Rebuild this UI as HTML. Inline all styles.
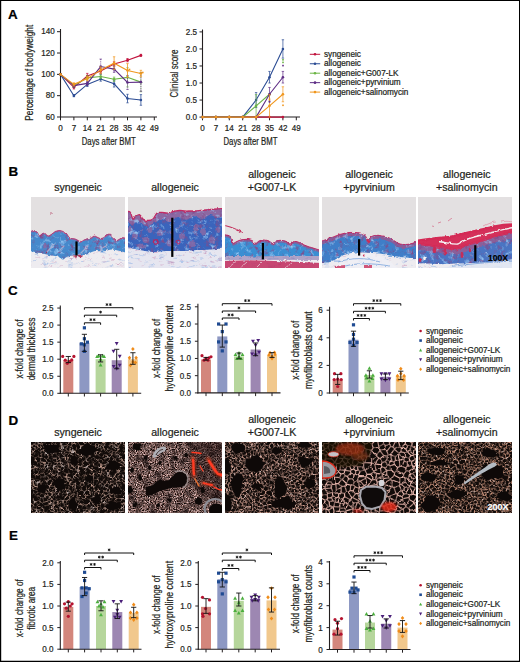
<!DOCTYPE html>
<html><head><meta charset="utf-8"><style>
html,body{margin:0;padding:0;background:#fff;}
svg{display:block;}
text{font-family:"Liberation Sans", sans-serif;stroke-width:0.22px;}
text.h{stroke:currentColor;}
</style></head><body>
<svg width="520" height="662" viewBox="0 0 520 662">
<rect width="520" height="662" fill="#fff"/>
<defs><filter id="mBlue" x="0" y="0" width="100%" height="100%" color-interpolation-filters="sRGB">
 <feTurbulence type="fractalNoise" baseFrequency="0.2" numOctaves="3" seed="7" result="n"/>
 <feColorMatrix in="n" type="matrix" values="0 0 0 0 0.6  0 0 0 0 0.78  0 0 0 0 0.95  3.2 0 0 0 -1.75" result="w"/>
 <feComposite in="w" in2="SourceGraphic" operator="in" result="w2"/>
 <feColorMatrix in="n" type="matrix" values="0 0 0 0 0.5  0 0 0 0 0.3  0 0 0 0 0.55  0 -3.2 0 0 1.45" result="p"/>
 <feComposite in="p" in2="SourceGraphic" operator="in" result="p2"/>
 <feMerge><feMergeNode in="SourceGraphic"/><feMergeNode in="w2"/><feMergeNode in="p2"/></feMerge>
</filter><filter id="jag" color-interpolation-filters="sRGB">
 <feTurbulence type="fractalNoise" baseFrequency="0.25" numOctaves="2" seed="17" result="t"/>
 <feDisplacementMap in="SourceGraphic" in2="t" scale="3" xChannelSelector="R" yChannelSelector="G"/>
</filter><filter id="mFat" x="0" y="0" width="100%" height="100%" color-interpolation-filters="sRGB">
 <feTurbulence type="fractalNoise" baseFrequency="0.12 0.35" numOctaves="3" seed="11" result="n"/>
 <feColorMatrix in="n" type="matrix" values="0 0 0 0 0.6  0 0 0 0 0.72  0 0 0 0 0.9  3.0 0 0 0 -1.75" result="b"/>
 <feComposite in="b" in2="SourceGraphic" operator="in" result="b2"/>
 <feColorMatrix in="n" type="matrix" values="0 0 0 0 0.78  0 0 0 0 0.55  0 0 0 0 0.7  0 0 3.0 0 -1.85" result="r"/>
 <feComposite in="r" in2="SourceGraphic" operator="in" result="r2"/>
 <feMerge><feMergeNode in="SourceGraphic"/><feMergeNode in="b2"/><feMergeNode in="r2"/></feMerge>
</filter><clipPath id="cb0"><rect x="31" y="197" width="94" height="71"/></clipPath><clipPath id="cb1"><rect x="128" y="197" width="94" height="71"/></clipPath><clipPath id="cb2"><rect x="225" y="197" width="94" height="71"/></clipPath><clipPath id="cb3"><rect x="322" y="197" width="94" height="71"/></clipPath><clipPath id="cb4"><rect x="418" y="197" width="94" height="71"/></clipPath><filter id="bl12" x="-20%" y="-20%" width="140%" height="140%"><feGaussianBlur stdDeviation="1.2"/></filter><filter id="bl6" x="-20%" y="-20%" width="140%" height="140%"><feGaussianBlur stdDeviation="0.6"/></filter><g id="netA" fill="none"><path stroke-opacity="0.45" d="M-1.7 74.5L-1.4 74.8M-0.3 55.6L-1.4 57.6M-0.4 50.6L1.7 53.3M-0.3 55.6L1.1 55.3M1.7 53.3L3.5 52.3M4.2 49.3L3.5 52.3M0.4 48.5L2.8 47.8M0.4 48.5L-1.2 46.9M-1.2 46.2L0.6 44.1M94.9 12.9L96.4 15.0M95.8 4.6L98.2 4.0M71.7 31.1L75.0 31.1M-1.7 74.5L-0.4 70.5M-2.0 37.3L-1.2 36.3M-1.2 36.3L-1.3 35.9M0.6 44.1L1.4 44.4M10.3 20.7L9.8 21.4M8.0 15.8L11.1 16.8M8.0 15.8L5.2 16.7M-3.4 32.6L0.4 31.1M-1.3 35.9L1.7 32.2M6.3 42.1L7.0 42.3M7.7 45.9L11.0 42.2M7.7 45.9L7.6 45.9M1.1 55.3L3.4 57.5M-0.3 60.4L3.3 58.7M3.0 63.5L4.4 60.8M7.7 45.9L8.4 47.4M32.3 37.5L29.9 34.1M34.8 35.9L31.9 33.1M31.9 33.1L29.9 34.1M28.0 34.1L27.9 34.3M89.0 36.3L90.4 37.2M73.7 38.4L69.5 36.3M67.7 37.2L67.5 38.0M74.0 38.2L77.1 40.7M82.8 24.8L84.1 26.7M80.0 25.5L78.1 27.3M80.0 25.5L78.0 22.7M76.2 25.8L75.9 23.8M78.0 22.7L75.9 23.8M82.8 24.8L82.8 24.6M67.5 38.0L63.6 39.0M94.6 42.0L98.3 40.3M93.2 39.1L93.1 40.1M94.6 42.0L94.3 41.9M92.4 37.2L90.4 37.2M39.8 61.9L40.6 64.2M39.8 61.9L40.3 60.5M-0.9 66.6L-1.1 63.8M0.1 67.4L-0.3 70.5M-0.4 70.5L-0.3 70.5M3.4 64.6L6.4 66.0M1.9 67.0L2.9 68.3M8.5 64.4L8.7 63.8M-0.3 70.5L2.3 71.4M2.3 71.4L2.9 68.3M14.9 21.7L14.9 22.7M3.9 38.9L4.2 38.0M4.2 38.0L10.0 39.5M-1.2 36.3L4.1 37.2M0.6 8.2L-2.0 8.3M24.7 37.1L22.1 37.4M27.6 33.5L26.2 33.0M3.5 52.3L6.5 53.6M6.5 53.6L7.3 55.6M36.5 35.5L36.5 35.6M33.2 39.9L37.3 39.0M27.3 40.0L28.3 39.6M22.5 40.3L25.4 42.3M21.3 38.4L22.1 37.4M36.4 59.9L36.8 62.6M33.9 59.1L36.4 59.9M32.3 61.6L34.1 63.2M71.1 33.5L73.0 34.4M74.0 38.2L74.5 37.2M74.5 37.2L73.0 34.4M71.7 31.1L71.0 33.2M75.0 31.1L74.9 32.8M82.2 29.8L82.6 30.9M74.5 37.2L77.4 35.8M77.2 34.8L77.4 35.8M78.8 39.6L77.7 35.9M49.9 75.0L50.1 74.7M51.7 74.2L50.1 74.7M44.4 59.9L42.7 61.1M2.0 6.5L5.1 6.9M-1.0 4.2L0.6 3.2M0.6 3.2L2.0 4.3M93.3 12.6L94.9 12.9M91.8 8.7L91.9 9.1M61.5 29.2L63.7 32.7M64.0 24.6L67.2 25.4M67.9 29.2L67.0 30.2M63.3 34.3L61.2 34.7M83.8 22.8L82.6 19.9M82.6 19.9L80.8 19.8M43.3 31.5L45.8 32.9M43.3 31.5L41.3 33.6M47.9 31.3L48.3 30.2M43.2 30.0L46.0 28.8M48.3 30.1L48.3 30.2M48.3 30.1L48.1 29.9M40.4 36.6L41.4 33.9M40.7 37.4L42.0 38.2M42.0 38.2L43.6 36.7M43.6 36.7L43.7 35.1M48.6 0.2L51.3 -0.7M97.7 21.7L97.7 22.4M83.8 22.8L84.7 22.5M84.1 26.7L84.9 27.0M84.7 22.5L88.2 23.9M97.7 21.7L95.9 21.0M98.4 17.8L95.6 19.1M95.9 21.0L95.6 19.1M97.3 27.5L97.6 31.9M93.3 35.0L95.1 33.9M97.6 31.9L95.4 32.9M82.7 52.4L86.0 54.3M85.6 56.2L86.0 54.3M85.6 56.2L81.9 57.0M10.7 23.6L10.3 26.2M15.8 39.7L12.8 36.2M12.8 36.2L14.0 35.3M10.8 41.7L15.8 39.7M10.0 39.5L11.6 36.1M4.4 16.1L4.2 15.9M4.2 20.3L0.9 20.3M0.9 20.3L1.0 18.3M4.4 12.0L4.2 15.9M4.4 12.0L3.4 10.7M-0.2 21.2L0.0 21.2M0.6 23.8L1.0 23.2M-3.1 19.2L-0.2 21.2M0.7 27.7L0.6 23.8M4.2 20.3L3.0 23.6M3.0 23.6L1.0 23.2M17.4 34.6L18.1 33.0M11.0 42.2L13.0 44.5M10.0 47.4L13.0 44.5M7.8 50.4L11.0 52.2M10.0 47.4L12.1 49.5M11.0 52.2L12.1 49.5M12.1 49.5L12.8 49.3M32.9 40.8L32.1 41.1M29.6 50.5L32.0 49.2M35.1 55.7L33.3 54.4M33.6 52.3L36.1 51.9M33.2 52.7L33.3 54.4M36.1 51.9L36.7 55.3M36.5 49.2L36.6 51.4M12.2 75.2L14.3 71.7M16.6 72.0L18.0 68.3M18.0 68.3L15.3 67.0M13.7 63.3L15.4 64.7M96.2 50.6L93.0 53.5M77.7 35.9L79.0 35.7M84.5 35.7L86.5 37.1M86.9 40.4L84.5 40.8M42.1 64.5L42.1 67.8M37.8 75.8L40.3 70.4M35.2 74.7L34.9 74.4M40.7 70.5L42.1 67.8M38.2 69.0L39.2 65.0M55.5 59.8L58.5 57.9M55.4 60.1L58.6 62.4M60.1 66.1L59.6 69.3M56.8 68.1L56.5 65.7M53.5 61.6L51.3 58.9M48.4 62.6L50.2 59.1M55.4 60.1L53.5 61.6M49.0 58.3L50.2 59.1M22.2 8.9L24.5 11.9M10.6 2.6L10.5 6.7M10.5 6.7L8.6 6.5M11.2 2.2L10.6 2.6M5.4 3.8L6.2 -0.7M6.2 -0.7L2.8 -2.4M6.6 -0.7L6.2 -0.7M0.5 -1.0L2.2 -1.9M19.0 10.5L18.6 10.6M18.6 10.6L17.1 11.6M15.8 12.8L16.6 12.5M14.8 8.9L17.1 11.6M13.5 9.5L13.7 11.8M11.8 16.5L11.7 12.7M11.7 12.7L13.7 11.8M86.7 10.4L89.6 11.7M88.2 17.1L86.3 14.4M54.9 39.9L58.3 42.1M60.6 56.3L63.1 55.6M62.0 51.2L63.1 55.6M61.5 50.7L60.1 50.6M54.3 52.2L51.4 54.6M55.5 53.9L55.6 55.7M51.4 54.6L52.1 57.3M52.1 57.3L54.5 57.6M57.1 48.7L57.2 48.7M60.6 56.3L59.7 57.9M49.0 58.3L48.1 54.5M69.7 43.0L67.7 40.0M71.6 22.7L73.1 20.3M74.9 19.6L73.1 20.3M67.2 25.4L69.0 21.4M69.0 21.4L71.6 22.7M69.0 21.4L67.6 19.1M69.7 16.3L69.1 17.6M63.2 16.0L64.9 14.1M68.8 14.1L66.7 13.5M64.9 14.1L63.5 10.7M63.5 10.7L66.3 10.9M67.4 9.6L69.7 10.5M58.4 42.1L58.3 42.1M58.9 37.8L54.9 39.3M61.2 34.7L59.5 37.1M58.3 32.5L56.1 34.7M48.3 30.2L52.6 32.7M49.5 35.3L53.5 34.5M53.9 37.5L54.9 39.3M53.9 37.5L54.2 34.9M56.1 34.7L54.6 34.7M26.2 33.0L24.5 29.4M21.5 30.2L21.5 30.3M21.5 30.2L23.5 28.8M24.5 29.4L23.5 28.8M27.6 33.5L28.5 30.8M24.5 29.4L27.6 28.6M49.4 21.8L52.8 21.7M52.8 21.7L53.0 22.4M53.0 22.4L52.9 22.7M63.3 22.8L61.3 18.5M63.3 22.8L58.7 23.1M58.7 23.1L57.3 19.8M61.3 18.5L57.3 19.8M53.4 20.5L50.8 17.7M53.4 20.5L55.8 19.1M55.8 18.4L54.8 14.9M48.8 17.8L50.8 17.7M48.1 18.8L49.4 21.8M55.7 13.6L59.0 14.2M93.3 17.5L91.8 15.6M89.6 11.7L89.3 13.4M91.8 15.6L90.0 15.2M88.2 17.1L88.4 17.1M93.8 30.1L93.8 30.4M93.8 30.1L92.4 27.6M93.8 30.4L89.1 32.0M87.9 31.2L87.9 30.4M97.3 27.5L93.8 30.1M95.4 32.9L93.8 30.4M93.1 24.8L92.4 25.6M62.2 65.5L63.2 67.8M96.2 62.3L95.4 66.8M74.5 59.2L71.9 57.9M73.5 61.9L73.7 61.7M79.5 61.4L79.7 60.9M77.8 62.0L77.3 61.7M82.2 64.7L79.5 61.4M77.1 64.3L77.1 64.2M62.0 51.2L65.0 52.0M64.1 55.8L64.1 55.7M1.7 32.2L3.6 32.8M5.4 26.1L5.5 26.1M15.1 30.8L15.0 30.4M18.2 24.9L14.9 22.7M18.6 26.1L18.3 26.7M14.1 26.5L15.4 27.4M18.1 33.0L17.0 31.6M7.3 55.6L7.4 55.7M11.0 67.0L11.7 67.0M10.3 62.1L9.5 60.5M19.8 55.8L17.8 54.1M25.3 51.2L28.6 51.9M21.9 54.2L24.1 56.2M24.1 56.2L24.5 56.2M25.8 55.2L24.5 56.2M20.9 59.5L22.2 58.4M22.2 58.4L22.4 58.4M31.9 59.1L32.5 59.6M31.9 59.1L27.9 60.2M24.5 56.2L26.1 58.8M28.1 56.8L26.9 58.9M22.4 58.4L24.1 60.0M14.9 46.6L17.4 48.3M15.4 50.9L15.3 50.4M18.4 48.1L19.4 46.9M22.0 51.9L22.0 49.1M19.6 45.0L19.7 45.3M33.4 45.2L34.5 42.4M33.4 45.2L33.8 45.7M36.1 42.5L34.5 42.4M36.1 42.5L37.0 43.9M39.1 46.9L36.9 45.2M38.0 40.1L36.1 42.5M29.6 50.5L27.8 47.6M19.7 45.3L24.5 45.2M21.8 61.9L23.9 62.9M17.8 60.2L18.1 59.6M17.8 60.2L18.7 62.6M13.1 62.0L13.5 61.3M18.7 62.6L18.5 64.1M90.7 41.0L90.4 42.7M90.4 42.7L87.3 43.1M85.6 56.2L86.2 57.7M81.6 59.9L83.0 60.2M86.2 58.2L87.2 61.0M44.5 73.2L41.6 71.2M41.6 71.2L45.8 69.2M45.9 73.3L48.1 71.2M48.1 71.2L45.8 69.2M48.5 71.2L50.1 74.7M48.1 54.5L47.5 54.3M16.2 18.5L17.7 17.5M14.9 21.7L16.3 19.8M18.2 24.9L19.1 21.7M16.3 19.8L19.1 21.7M21.7 14.8L23.2 17.3M26.0 17.1L27.2 15.2M7.4 11.6L8.2 12.5M11.2 8.8L10.9 9.2M8.0 15.8L8.2 12.5M92.0 7.8L89.4 4.3M66.3 -1.3L63.0 1.3M63.0 1.3L62.2 1.2M68.5 6.4L68.0 5.3M42.0 38.2L42.2 38.8M63.6 39.0L63.1 39.5M67.7 40.0L66.3 42.0M53.9 29.4L52.6 26.8M52.9 22.7L52.7 26.8M52.7 26.8L52.6 26.8M39.1 32.4L41.2 29.1M46.8 23.6L44.9 26.7M46.8 23.6L45.2 22.3M46.0 28.8L44.9 26.7M47.3 23.6L46.8 23.6M33.3 30.8L37.2 33.1M39.1 32.4L38.1 32.5M54.6 6.7L53.0 9.0M53.0 9.0L53.0 9.5M54.4 4.3L54.6 6.7M50.6 6.7L48.6 8.6M52.1 10.4L49.2 10.0M49.2 10.0L48.6 8.6M57.4 1.0L55.2 2.8M58.7 6.2L60.6 2.9M60.5 -2.2L57.5 -1.2M58.9 7.1L57.2 8.5M54.4 4.3L55.0 3.6M88.9 18.2L88.6 20.6M89.4 21.3L89.2 21.2M93.3 17.5L92.6 18.4M86.4 20.5L88.6 20.6M64.2 69.6L61.7 71.4M62.9 72.9L65.0 73.2M63.2 67.8L64.2 69.6M67.1 66.6L65.9 66.4M60.2 71.0L61.7 71.4M67.3 69.1L68.3 69.5M62.2 65.5L63.4 64.2M63.4 64.2L64.0 64.2M95.4 72.2L95.7 72.9M95.4 72.2L92.2 73.1M84.4 70.6L84.9 68.9M87.8 67.3L84.9 68.9M87.2 71.6L84.5 70.7M89.5 68.7L89.8 70.5M89.8 70.5L90.3 71.0M87.7 66.5L90.5 64.2M84.9 68.9L82.9 65.3M82.9 65.3L86.3 64.6M82.6 65.2L82.9 65.3M87.1 61.4L87.2 62.3M82.6 65.2L80.6 68.9M79.4 65.5L78.3 68.1M84.4 70.6L82.0 70.2M82.0 70.2L80.6 69.0M70.0 55.7L71.9 57.7M71.9 57.9L71.9 57.7M73.4 62.0L74.5 64.2M73.4 62.0L71.1 63.1M70.8 42.7L71.8 44.7M71.8 44.7L74.0 45.1M74.0 45.1L72.1 48.1M68.8 43.9L69.6 46.6M10.6 70.4L12.8 71.3M13.8 71.3L12.8 71.3M12.2 29.9L11.3 27.3M11.3 27.3L7.8 30.9M7.8 33.0L9.4 33.6M11.3 27.3L11.3 27.3M5.5 26.1L7.8 30.9M9.5 55.6L11.1 52.3M11.1 52.3L14.2 53.1M13.1 57.2L14.8 56.0M13.5 61.3L13.1 57.2M15.4 50.9L14.2 53.1M17.9 58.5L14.8 56.0M32.4 45.0L31.2 43.6M28.6 56.6L29.5 54.5M28.6 56.6L31.7 58.8M28.1 56.8L28.6 56.6M35.1 55.7L33.9 59.1M32.4 55.0L31.7 57.5M31.2 62.9L30.4 66.3M26.3 63.3L28.6 66.1M85.3 48.9L86.7 47.4M82.7 52.4L83.3 48.9M86.0 54.3L86.4 53.9M86.4 53.9L86.8 51.4M86.8 51.4L85.3 48.9M79.7 48.7L82.8 48.3M79.2 45.0L82.9 45.7M87.3 43.1L87.1 43.5M87.0 47.4L88.9 49.6M91.5 46.3L91.2 46.0M86.4 53.9L92.8 53.5M89.5 68.7L91.9 66.6M87.2 61.0L90.0 60.6M90.5 64.2L91.6 62.9M93.1 66.3L92.5 66.7M96.2 62.3L95.5 61.7M95.4 66.8L93.1 66.3M29.9 69.8L31.8 70.8M28.9 73.0L31.4 72.9M28.8 75.9L28.9 73.0M32.8 74.3L31.4 72.9M34.3 69.8L31.8 70.8M34.1 63.2L34.2 65.1M38.2 69.0L37.0 68.7M42.0 56.2L41.0 56.6M38.1 51.8L39.8 55.6M40.5 50.5L40.6 50.1M40.5 50.5L41.3 52.5M41.3 52.5L43.1 52.6M45.7 50.3L44.5 50.3M38.1 51.8L40.5 50.5M38.8 48.1L40.6 50.1M48.5 71.2L49.2 70.6M51.7 74.2L52.5 72.2M52.9 64.1L51.9 67.9M56.0 68.8L52.3 68.3M54.2 71.8L55.6 71.1M56.7 71.7L57.4 74.3M55.5 75.6L57.4 74.3M56.0 68.8L55.6 71.1M11.0 0.7L12.2 -1.6M25.3 3.2L25.8 1.2M28.0 3.6L27.6 3.8M28.0 3.6L28.0 2.4M28.0 2.4L25.8 1.2M19.6 7.0L16.1 6.4M13.8 5.7L15.8 6.1M14.8 8.9L15.9 6.3M22.3 19.7L22.2 19.7M20.9 21.4L21.6 23.0M21.6 23.0L23.6 23.9M23.6 23.9L25.0 21.5M17.7 17.5L22.2 19.7M23.1 7.1L22.2 8.9M26.7 10.7L26.2 7.4M31.9 5.0L31.8 4.7M31.8 5.7L27.3 6.7M31.8 4.7L30.9 4.1M49.6 13.6L48.4 16.9M48.4 16.9L45.2 15.0M49.2 10.0L48.4 12.7M48.8 17.8L48.4 16.9M46.8 8.1L48.6 8.6M45.9 19.3L44.2 16.5M44.2 16.5L44.5 15.4M44.5 15.4L41.0 13.2M33.9 1.0L34.2 0.4M34.2 0.4L39.1 -1.4M39.1 -1.4L39.6 -0.6M33.6 1.1L31.8 4.7M33.6 1.1L33.9 1.0M44.5 -1.4L48.1 0.6M39.6 -0.6L41.5 -0.3M44.5 -1.4L41.5 -0.3M43.9 10.1L43.0 9.3M38.7 10.3L39.7 12.4M39.7 12.4L41.0 13.2M41.0 13.2L39.6 16.6M71.2 8.2L74.4 8.2M71.2 8.2L70.3 6.9M69.7 10.5L71.2 8.2M63.4 8.9L61.0 7.5M61.7 11.4L60.2 11.2M64.7 7.8L63.4 8.9M58.9 7.1L60.0 7.6M75.5 3.3L75.5 3.0M75.5 3.0L70.6 3.4M79.8 -0.7L79.4 -0.4M40.2 41.4L44.7 43.5M39.4 46.7L41.7 46.8M77.4 8.6L78.4 5.1M78.7 0.8L80.5 3.7M75.5 3.0L75.5 2.5M84.5 7.5L82.6 7.4M82.6 7.4L82.0 7.7M82.8 10.5L86.0 10.8M86.4 10.5L86.0 10.8M86.1 14.4L85.3 12.8M70.0 11.6L73.5 12.1M75.4 9.4L73.5 12.1M77.4 8.6L76.6 9.6M55.6 30.2L54.9 29.5M54.9 29.5L56.7 26.0M27.7 26.4L23.6 27.0M20.4 25.6L23.4 26.4M37.9 20.1L38.8 21.0M38.8 21.0L41.4 18.8M71.9 75.0L70.7 72.7M67.3 64.0L65.3 63.3M96.8 69.7L96.8 69.3M90.3 71.0L92.5 70.3M80.7 72.4L82.0 74.0M75.1 67.7L74.3 68.9M71.6 71.2L74.3 70.8M78.2 46.7L77.8 46.8M74.4 44.9L75.9 46.4M61.5 50.7L64.2 48.0M27.8 71.5L27.8 71.5M22.9 75.5L22.3 73.4M25.7 71.9L24.3 71.2M16.6 72.0L19.7 72.1M19.7 72.1L20.5 73.0M19.0 64.7L21.6 64.8M26.3 63.3L24.6 63.3M16.3 -2.6L14.4 -1.3M15.0 1.5L15.8 1.9M12.7 -1.7L14.4 -1.3M20.5 0.3L17.7 0.1M12.1 2.5L15.0 1.5M16.8 3.9L15.8 1.9M28.5 0.7L29.7 0.2M33.6 1.1L30.4 -0.8M20.5 0.3L20.9 1.4M19.1 3.5L20.9 1.4M27.7 26.4L27.7 24.2M27.7 24.1L27.7 24.2M30.1 18.3L31.2 18.8M30.9 14.2L31.2 14.4M26.7 10.7L28.1 10.6M30.1 8.6L28.1 10.6M30.9 12.4L28.1 10.6M42.4 6.0L45.9 5.1M41.5 -0.3L42.9 2.3M88.4 4.8L85.4 2.4M85.4 2.4L84.4 3.6M82.1 -0.3L82.2 -0.0M85.4 2.2L85.1 1.6M91.0 1.2L89.1 0.8M66.9 1.8L67.0 -0.4M67.0 -0.4L70.5 -0.3M53.9 37.5L48.9 39.5M51.1 41.8L48.9 39.5M48.1 39.2L47.7 39.5M69.7 16.3L72.9 15.8M75.1 19.4L75.0 18.4M72.9 15.8L75.0 18.4M78.2 11.4L77.1 14.5M81.7 13.6L81.6 13.4M79.6 18.6L79.7 16.5M83.9 17.1L81.6 15.4M76.6 9.6L78.2 11.4M73.8 14.1L77.1 14.5M85.3 12.8L81.7 13.6M38.9 22.5L40.8 23.0M42.2 25.1L39.3 27.1M34.5 20.2L37.9 20.1M38.8 21.0L38.9 22.5M38.6 27.0L35.1 24.3M38.1 32.5L37.3 28.2M38.6 27.0L37.3 28.2M37.2 16.6L37.5 13.9M69.4 61.5L68.3 61.8M69.4 61.5L69.9 59.5M64.1 55.8L65.5 58.4M68.9 55.8L67.4 54.2M64.1 55.7L67.4 54.2M62.0 61.0L65.1 59.7M74.8 72.3L76.7 74.7M79.2 75.2L77.9 74.7M67.8 52.4L66.5 51.1M67.8 52.4L70.4 52.1M66.5 51.1L66.5 50.4M70.4 52.1L70.1 50.0M71.7 48.0L70.1 50.0M71.8 52.9L70.4 52.1M22.8 67.3L22.1 67.1M24.0 69.9L23.9 70.5M19.7 72.1L21.1 69.9M24.3 71.2L23.9 70.5M25.1 3.3L22.1 1.4M22.1 1.4L21.0 1.4M25.6 -0.5L22.1 1.4M31.6 11.8L35.1 12.3M32.3 9.6L35.8 10.7M35.2 12.3L35.1 12.3M34.4 14.2L35.1 12.3M51.1 41.8L50.4 44.5M50.4 44.5L51.7 45.7M51.7 45.7L51.7 49.3M47.4 51.7L50.5 49.3M33.8 25.3L34.4 28.3M34.4 28.3L33.2 30.1M31.6 29.5L33.2 30.1M48.7 45.1L45.1 43.4M50.4 44.5L48.7 45.1"/><path stroke-opacity="0.75" d="M1.7 53.3L1.1 55.3M-0.4 50.6L0.4 48.5M4.2 49.3L2.8 47.8M-1.2 46.9L-1.2 46.2M97.1 9.5L94.9 12.9M97.1 15.2L96.4 15.0M93.1 0.3L95.3 -1.2M95.3 -1.2L96.4 -1.5M96.4 -1.5L99.3 2.6M96.6 -1.7L96.4 -1.5M95.8 4.6L95.2 5.5M96.9 9.4L95.2 5.5M75.9 29.9L72.3 27.2M72.3 27.2L71.6 31.0M96.4 38.3L98.7 39.5M2.8 47.8L2.9 47.3M2.9 47.3L1.4 44.4M1.4 44.4L3.3 43.3M-1.0 4.2L-2.0 8.3M7.6 21.7L9.8 21.4M10.3 20.7L11.1 16.8M0.1 28.1L0.4 31.1M6.3 42.1L4.5 44.0M4.8 45.4L4.5 44.0M3.9 38.9L3.0 39.8M3.3 43.3L4.5 44.0M10.2 41.0L10.8 41.7M2.9 47.3L4.8 45.4M-1.4 57.6L-1.1 59.8M-1.1 59.8L-0.3 60.4M3.3 58.7L4.4 60.8M22.5 40.3L21.3 38.4M21.3 38.4L19.3 38.5M19.3 38.5L17.0 40.3M17.0 40.3L17.0 43.0M4.2 49.3L7.4 49.2M8.4 47.4L7.4 49.2M28.6 38.6L27.9 34.3M28.6 38.6L32.3 37.5M28.0 34.1L29.9 34.1M86.5 37.1L87.1 40.1M87.1 40.1L89.1 40.0M72.4 40.5L67.9 38.9M71.0 33.2L71.1 33.5M66.8 35.7L67.7 32.3M66.8 35.7L67.7 37.2M73.7 38.4L74.0 38.2M82.8 24.8L80.0 25.5M80.0 29.5L82.2 29.8M46.7 74.6L49.9 75.0M72.3 27.2L72.2 26.8M71.6 31.0L67.9 29.2M68.7 26.7L67.9 29.2M82.8 24.6L80.0 21.6M63.3 34.3L63.6 39.0M88.4 24.8L89.7 25.6M89.7 25.6L87.8 30.3M95.9 45.2L98.7 44.4M95.9 45.2L94.6 42.0M93.2 39.1L96.4 38.3M89.1 40.0L90.7 41.0M42.9 64.0L42.7 61.1M42.7 61.1L40.3 60.5M3.4 64.6L1.9 67.0M2.9 68.3L6.4 68.4M4.9 60.8L8.7 63.8M1.4 74.5L1.6 74.7M4.9 71.9L5.5 73.6M2.3 71.4L2.6 71.6M6.6 68.9L6.4 68.4M-1.4 74.8L1.4 74.5M9.8 21.4L10.7 23.6M10.2 41.0L10.0 39.5M-2.3 8.5L0.6 12.7M0.6 12.7L3.2 10.6M24.7 37.1L27.9 34.3M22.1 37.4L22.2 35.1M27.6 33.5L28.0 34.1M26.2 33.0L23.3 33.5M22.2 35.1L23.3 33.5M7.4 49.2L7.8 50.4M40.7 37.4L37.8 39.6M27.3 40.0L25.4 42.3M39.8 61.9L36.9 62.8M40.3 60.5L39.2 58.4M32.5 59.6L32.3 61.6M36.8 62.6L34.1 63.2M82.6 30.9L80.6 33.0M80.6 33.0L79.0 31.8M74.9 32.8L77.2 34.8M77.1 40.7L78.8 39.6M45.5 59.7L46.6 61.5M46.6 61.5L43.7 64.1M3.4 10.7L3.2 10.6M0.6 3.2L0.5 -1.0M93.3 12.6L91.5 10.6M92.0 7.8L93.6 6.0M92.0 7.8L91.8 8.7M62.5 27.6L67.0 30.2M61.5 29.2L61.5 28.4M63.7 32.7L66.9 31.1M67.2 25.4L68.7 26.7M67.7 32.3L66.9 31.1M82.8 24.6L83.8 22.8M41.4 33.9L43.7 35.1M45.8 32.9L45.3 34.3M48.1 29.9L46.0 28.8M49.5 35.3L48.2 37.4M48.2 37.4L45.3 34.3M84.1 17.5L82.6 19.9M84.7 22.5L86.4 20.5M93.1 24.8L92.9 23.6M95.9 21.0L93.6 22.0M97.7 26.7L97.3 27.5M92.4 37.2L93.3 35.0M89.0 36.3L89.6 33.0M89.6 33.0L93.3 35.0M95.7 34.6L95.1 33.9M95.1 33.9L95.4 32.9M8.5 64.4L11.0 67.0M9.8 69.0L11.0 67.0M17.4 34.6L14.0 35.3M4.2 15.9L0.1 14.3M-0.5 14.5L0.1 14.3M5.2 16.7L4.4 16.1M0.6 12.7L0.1 14.3M-3.7 24.1L-0.2 21.2M-2.8 25.0L0.6 23.8M0.0 21.2L1.0 23.2M0.1 28.1L0.7 27.7M17.0 43.0L14.2 44.6M14.2 44.6L13.2 44.6M13.0 44.5L13.2 44.6M29.5 51.1L29.6 50.5M29.5 51.1L31.9 52.6M33.6 52.3L33.2 52.7M33.6 52.3L32.8 49.6M32.8 49.6L35.5 48.6M36.1 51.9L36.6 51.4M16.0 72.3L16.5 75.2M13.8 71.3L13.7 68.2M16.0 72.3L16.6 72.0M15.3 67.0L15.4 64.7M84.5 40.8L82.5 37.5M82.5 37.5L80.6 39.9M79.0 44.1L81.2 41.6M96.2 50.6L96.1 47.7M100.4 54.4L93.7 55.1M80.6 33.1L84.3 35.7M82.6 37.2L84.3 35.7M80.6 33.0L80.6 33.1M82.6 30.9L85.4 33.0M86.9 40.4L87.1 40.1M34.9 74.4L39.9 70.3M40.3 70.4L39.9 70.3M40.7 70.5L41.6 71.2M40.7 70.5L40.3 70.4M34.9 74.4L34.5 74.1M40.6 64.2L39.2 65.0M36.9 62.8L37.2 63.7M60.6 60.7L59.7 57.9M55.5 59.8L55.4 60.1M60.1 66.1L56.5 65.7M59.2 62.3L60.9 65.5M56.2 65.1L56.5 65.7M50.2 59.1L51.3 58.9M52.9 64.1L56.2 65.1M52.9 64.1L52.8 64.1M47.0 66.2L46.4 66.4M46.4 66.4L46.4 66.4M45.5 59.7L45.6 59.5M49.0 58.3L45.6 59.5M22.2 8.9L20.2 9.1M24.5 11.9L22.1 13.6M22.1 13.6L19.0 10.5M19.0 10.5L20.2 9.1M7.5 3.9L8.6 6.5M8.8 2.8L10.6 2.6M5.6 4.0L5.1 6.9M11.1 7.3L10.5 6.7M11.1 7.3L13.8 5.7M11.2 2.2L12.1 2.5M12.1 2.5L13.8 5.7M5.6 4.0L5.4 3.8M2.0 4.3L4.3 3.5M6.6 -0.7L8.8 2.8M16.6 12.5L17.1 11.6M22.1 13.6L21.7 14.8M21.7 14.8L18.8 15.6M14.8 8.9L13.5 9.5M13.5 16.6L15.8 12.8M88.2 7.6L86.7 10.4M85.1 18.0L88.2 17.1M84.1 17.5L83.9 17.1M83.9 17.1L86.1 14.4M56.0 45.3L54.7 44.6M56.0 45.3L58.3 42.1M54.7 44.6L53.4 41.9M60.6 56.3L59.5 54.7M62.0 51.2L61.5 50.7M51.3 58.9L52.1 57.3M72.3 41.0L70.8 42.7M67.9 38.9L67.7 40.0M75.2 23.3L74.9 19.6M75.9 23.8L75.2 23.3M73.1 20.3L69.1 17.6M69.1 17.6L67.6 19.1M63.4 22.8L67.5 19.1M66.7 13.5L66.3 10.9M68.8 14.1L70.0 11.6M66.3 10.9L67.4 9.6M70.0 11.6L69.7 10.5M58.4 42.1L58.9 37.8M54.9 39.9L54.9 39.3M59.4 32.5L58.3 32.5M59.3 37.2L56.1 34.7M53.5 29.7L52.6 32.7M52.6 32.7L53.5 34.5M49.4 21.8L47.3 23.6M50.0 25.2L52.9 22.7M50.0 25.2L48.5 25.1M49.3 29.6L51.5 27.0M63.2 16.0L62.2 16.1M61.3 18.5L62.1 16.2M62.2 16.1L62.1 16.2M54.8 14.9L51.7 15.7M48.8 17.8L48.1 18.8M57.3 19.8L55.8 19.1M55.0 14.3L54.8 14.9M55.0 14.3L55.7 13.6M59.8 15.2L59.0 14.2M50.0 13.7L52.0 12.2M93.5 17.4L93.3 17.5M89.1 32.0L87.9 31.2M92.4 25.6L92.4 27.6M89.6 33.0L89.1 32.0M87.8 30.3L87.9 30.4M85.4 33.0L87.9 31.2M62.2 65.5L60.9 65.5M59.8 69.5L59.6 69.3M59.8 69.5L63.2 67.8M63.2 67.8L63.2 67.8M71.1 59.0L71.9 57.9M71.1 59.0L73.5 61.9M76.3 57.7L75.8 58.6M82.2 64.7L82.2 64.7M82.2 64.7L79.4 65.5M77.1 64.3L79.4 65.5M77.1 64.2L77.8 62.0M81.6 59.9L79.7 60.9M80.0 56.0L78.5 57.6M73.7 61.7L77.3 61.7M79.5 53.0L79.1 52.8M64.1 55.8L63.1 55.6M5.5 73.6L7.6 74.0M14.1 24.0L14.1 26.5M10.3 26.2L11.3 27.3M11.3 27.3L14.1 26.5M0.7 27.7L4.0 27.1M3.6 32.8L4.0 27.1M4.1 37.2L5.2 34.1M3.0 23.6L5.4 26.1M18.9 28.0L17.0 31.6M21.5 30.2L18.9 28.0M14.0 35.3L14.5 31.7M14.5 31.7L15.1 30.8M4.9 60.8L7.5 59.6M7.4 55.7L7.5 59.6M8.7 63.8L10.3 62.1M13.1 62.0L10.3 62.1M22.2 52.1L22.0 51.9M22.2 52.1L21.9 54.2M21.9 54.2L20.0 55.8M25.9 54.7L24.7 51.8M22.2 52.1L24.7 51.8M18.1 59.6L20.9 59.5M20.0 55.8L22.2 58.4M17.9 58.5L19.8 55.8M24.1 56.2L22.4 58.4M32.3 61.6L31.2 62.9M31.2 62.9L27.6 61.8M25.8 55.2L28.1 56.8M13.8 49.3L14.9 46.6M12.8 49.3L13.8 49.3M18.4 48.1L19.3 51.4M35.0 46.3L36.9 45.2M35.5 48.6L35.0 46.3M31.9 48.5L32.0 49.2M31.9 48.5L33.8 45.7M36.5 49.2L38.8 48.1M39.1 46.9L38.8 48.1M38.0 40.1L37.8 39.6M38.0 40.1L40.2 41.4M25.4 42.3L25.5 42.7M30.0 40.7L29.1 44.0M29.1 44.0L25.5 42.7M27.8 47.6L25.8 47.5M22.0 49.1L25.2 46.9M25.2 46.9L24.5 45.2M20.9 59.5L21.8 61.9M17.8 60.2L13.5 61.3M18.0 68.3L18.9 67.9M18.9 67.9L19.0 64.7M94.3 41.9L91.2 44.5M86.9 40.4L87.3 43.1M86.2 57.7L86.2 58.2M83.0 60.2L83.6 62.1M83.6 62.1L87.1 61.4M87.1 61.4L87.2 61.0M41.6 71.2L41.6 71.2M46.7 74.6L45.9 73.3M46.4 66.4L45.8 69.2M45.6 59.5L45.7 56.6M47.5 54.3L47.4 54.4M18.8 15.6L17.7 17.5M16.2 18.5L16.3 19.8M24.5 11.9L25.6 11.8M37.8 4.4L36.3 8.3M37.8 4.4L31.9 5.0M32.0 6.8L36.3 8.3M32.0 6.8L31.8 5.7M10.8 11.8L8.2 12.5M7.8 9.7L7.4 11.6M13.5 9.5L11.2 8.8M11.7 12.7L10.8 11.8M6.6 8.2L7.8 9.7M4.4 12.0L7.4 11.6M93.6 6.0L90.7 2.3M87.6 6.1L88.4 4.8M89.4 4.3L88.4 4.8M61.9 -1.2L62.2 1.2M68.0 5.3L64.9 4.9M64.7 7.8L64.6 5.2M64.9 4.9L64.6 5.2M40.2 41.4L40.2 41.4M39.5 43.4L40.1 44.7M39.1 46.9L39.4 46.7M57.1 48.7L56.0 45.3M58.4 42.1L59.5 42.3M57.2 48.7L62.0 45.0M63.1 39.5L62.5 39.4M68.8 43.9L66.6 43.9M66.3 42.0L66.6 43.9M63.1 39.5L63.7 41.1M62.0 45.0L62.6 45.0M78.2 22.0L77.2 20.2M79.6 18.6L77.2 20.2M74.9 19.6L75.1 19.4M41.3 33.6L39.1 32.4M45.2 22.3L42.4 25.1M44.9 26.7L43.5 26.4M45.9 19.3L48.1 18.8M44.8 21.5L45.2 22.3M41.6 29.1L43.5 26.4M31.9 33.1L33.3 30.8M37.2 33.1L38.1 32.5M56.1 10.9L53.0 9.5M55.7 13.6L56.1 10.9M59.8 11.3L59.0 14.2M52.0 12.2L52.1 10.4M57.4 1.0L60.5 2.6M55.2 2.8L55.0 3.6M55.0 3.6L58.7 6.2M60.6 2.9L60.5 2.6M62.4 5.0L64.6 5.2M62.4 5.0L60.6 2.9M92.5 19.2L89.4 21.3M92.6 18.4L88.9 18.2M93.6 22.0L92.5 19.2M88.4 17.1L88.9 18.2M88.2 23.9L89.2 21.2M61.7 71.4L62.9 72.9M65.0 73.2L65.7 72.0M67.3 69.1L65.7 70.3M60.2 71.0L59.9 70.6M68.6 72.8L65.7 72.0M68.6 72.8L69.4 72.4M69.4 72.4L68.3 69.5M60.8 75.8L62.9 72.9M65.9 66.4L64.0 64.2M60.6 60.7L62.0 61.0M86.3 64.6L87.7 66.5M86.3 64.6L87.2 62.3M82.2 64.7L82.6 65.2M90.4 71.2L92.2 73.1M80.6 68.9L80.6 69.0M73.6 65.9L70.9 65.8M77.1 64.2L74.5 64.2M71.0 68.4L70.7 68.9M70.7 68.9L68.3 69.5M74.8 43.4L74.4 44.9M74.4 44.9L74.0 45.1M71.8 44.7L70.3 46.8M72.1 48.1L71.7 48.0M71.7 48.0L70.3 46.8M8.9 72.1L10.6 70.4M8.9 72.1L9.0 72.8M9.0 72.8L10.3 73.6M10.3 73.6L12.8 71.3M7.6 74.0L9.0 72.8M12.2 29.9L10.5 32.6M7.8 30.9L7.8 33.0M15.0 30.4L12.2 29.9M14.5 31.7L10.5 32.6M11.6 36.1L9.4 33.6M14.2 53.1L15.1 55.1M7.4 55.7L9.5 55.6M9.5 60.5L10.4 56.4M17.8 54.1L15.1 55.1M32.4 45.0L30.2 46.6M29.1 44.0L29.1 44.0M33.4 45.2L32.4 45.0M31.9 48.5L30.2 46.6M29.5 54.5L29.7 54.6M29.7 54.6L29.8 54.6M28.7 53.4L29.5 54.5M31.9 59.1L31.7 58.8M33.3 54.4L32.4 55.0M32.4 55.0L29.8 54.6M31.9 52.6L29.7 54.6M27.6 61.8L26.3 63.3M30.2 66.3L30.4 66.3M86.7 47.4L84.8 44.6M83.3 48.9L82.8 48.3M82.9 45.7L84.0 44.5M78.9 52.2L79.7 48.7M79.2 45.0L78.2 46.7M87.1 43.5L84.8 44.6M86.8 51.4L88.9 49.6M86.7 47.4L87.0 47.4M93.8 46.7L91.5 46.3M90.5 64.2L90.5 64.2M90.5 64.2L91.9 66.6M90.0 60.6L92.7 57.5M91.6 62.9L95.1 62.0M86.2 57.7L92.7 57.5M93.7 55.1L93.4 57.1M27.8 71.5L28.9 73.0M31.4 72.9L31.8 70.8M34.2 65.1L35.9 65.8M37.2 63.7L35.9 65.8M30.2 66.3L29.9 69.8M45.7 56.6L42.0 56.2M47.4 54.4L43.9 53.8M43.9 53.8L42.0 56.2M44.4 59.9L41.0 56.6M39.2 58.4L39.8 56.5M36.7 55.3L39.7 56.2M39.8 55.6L39.7 56.2M42.6 49.2L40.6 50.1M42.6 49.2L44.5 50.3M44.5 50.3L43.1 52.6M43.9 53.8L43.1 52.6M39.8 55.6L41.3 52.5M50.0 68.6L51.9 67.9M50.0 68.6L49.2 70.6M51.9 67.9L52.3 68.3M11.0 0.7L7.9 -1.3M12.2 -1.6L12.7 -1.7M25.3 3.2L27.6 3.8M20.2 9.1L19.6 7.0M22.3 19.7L25.0 21.5M23.2 17.3L22.3 19.7M26.0 17.1L27.1 18.9M26.8 21.5L25.0 21.5M19.1 21.7L20.9 21.4M18.6 26.1L20.4 25.6M20.4 25.6L21.6 23.0M30.9 4.1L28.0 3.6M27.6 3.8L27.2 6.7M27.2 6.7L27.3 6.7M45.2 15.0L46.3 13.0M46.8 8.1L44.6 10.2M44.6 10.2L46.3 13.0M44.6 10.2L43.9 10.1M38.1 3.9L33.9 1.0M38.1 4.1L38.1 3.9M36.8 9.7L36.3 8.3M38.1 4.1L40.5 5.3M38.7 10.3L39.6 9.5M48.6 0.2L48.1 0.6M50.9 5.0L47.8 2.4M41.0 13.2L41.0 13.2M43.0 9.3L39.6 9.5M71.3 4.9L74.4 5.5M74.4 5.5L74.4 8.2M67.0 8.5L67.4 9.6M68.5 6.4L70.3 6.9M63.3 10.5L63.4 8.9M63.3 10.5L61.7 11.4M60.2 11.2L60.0 7.6M63.5 10.7L63.3 10.5M62.2 16.1L61.7 11.4M59.8 11.3L60.2 11.2M71.3 4.9L70.6 3.4M79.4 -0.4L78.7 0.8M79.4 -0.4L75.5 -2.8M78.7 0.8L75.5 2.5M75.1 1.8L74.3 -2.0M79.8 -0.7L82.1 -0.3M40.1 44.7L43.1 44.5M44.7 43.5L43.1 44.5M43.1 44.5L41.7 46.8M42.6 49.2L42.7 48.3M42.7 48.3L41.7 46.8M81.3 7.4L77.4 8.6M81.3 7.4L79.6 5.0M82.0 8.8L82.0 7.7M84.5 7.5L86.4 10.5M87.6 6.1L85.7 6.3M85.7 6.3L84.5 7.5M85.3 12.8L86.0 10.8M55.6 30.2L57.1 30.3M59.5 27.8L57.2 25.6M58.3 32.5L57.1 30.3M61.5 28.4L59.5 27.8M53.0 22.4L57.1 25.6M23.5 28.8L23.6 27.0M27.6 28.6L28.1 27.1M28.1 27.1L27.7 26.4M23.6 23.9L23.8 25.1M23.4 26.4L23.6 27.0M37.9 20.1L37.6 16.8M69.4 72.4L70.7 72.7M70.7 68.9L71.6 71.2M71.6 71.2L70.7 72.7M67.9 65.6L67.3 64.0M64.0 64.2L65.3 63.3M92.5 70.3L93.4 68.5M92.5 70.3L95.5 71.7M93.4 68.5L96.8 69.3M95.5 71.7L96.8 69.7M82.0 70.2L80.7 72.4M77.1 64.3L76.4 67.5M76.4 67.5L77.8 68.2M74.3 68.9L74.3 70.8M77.8 46.8L76.1 50.1M76.1 50.1L74.0 50.1M74.0 50.1L73.7 49.5M72.9 52.8L74.0 50.1M69.6 46.6L68.5 47.3M28.6 66.1L27.0 67.6M27.8 71.5L27.0 67.6M22.3 73.4L24.3 71.2M23.9 62.9L24.0 63.0M21.6 64.8L24.0 63.0M24.0 63.0L24.6 63.3M16.3 -2.6L17.7 0.1M14.4 -1.3L15.0 1.5M25.6 -0.5L25.8 -0.2M25.8 1.2L25.8 -0.2M30.9 4.1L29.7 0.2M23.1 7.1L22.3 5.7M19.6 7.0L20.3 5.9M16.8 3.9L19.1 3.5M26.8 21.5L27.1 21.8M31.3 19.1L31.2 18.8M27.2 15.2L28.5 15.3M32.0 6.8L31.7 7.7M30.9 14.2L30.9 12.4M42.9 2.3L46.8 3.3M47.8 2.4L46.8 3.3M85.7 6.3L84.4 3.6M84.4 3.6L83.0 4.0M82.2 -0.0L81.8 3.5M89.1 0.8L86.3 -1.8M86.3 -1.8L85.1 1.6M82.2 -0.0L85.1 1.6M70.5 -0.3L70.8 1.0M70.6 3.4L70.2 3.0M66.3 -1.3L67.0 -0.4M71.8 -2.5L70.5 -0.3M43.6 36.7L47.7 39.5M42.2 38.8L45.9 41.3M45.9 41.3L47.7 39.5M53.4 41.9L51.1 41.8M48.2 37.4L48.1 39.2M73.5 12.1L73.8 14.1M79.7 16.5L77.8 15.9M79.7 16.5L81.6 15.4M78.8 11.5L78.2 11.4M78.8 11.5L81.6 13.4M77.8 15.9L77.1 14.5M81.6 15.4L81.7 13.6M82.0 8.8L78.8 11.5M82.8 10.5L81.6 13.4M27.7 24.2L31.4 24.1M31.5 23.3L31.4 24.1M31.3 19.1L33.7 20.4M38.8 22.6L38.9 22.5M38.8 26.9L39.3 27.1M34.5 20.2L34.2 20.5M34.2 20.5L35.5 23.4M39.7 12.4L37.5 13.9M37.6 16.8L37.2 16.6M37.2 16.6L35.6 16.7M32.1 16.9L35.5 16.6M35.6 16.7L35.5 16.6M67.8 57.9L65.5 58.4M71.1 63.1L69.4 61.5M67.3 64.0L68.3 61.8M65.3 63.3L65.5 60.3M74.8 72.3L74.8 71.3M74.8 71.3L77.2 70.9M76.7 74.7L77.5 74.9M77.5 74.9L77.9 74.7M74.3 70.8L74.8 71.3M77.8 68.2L77.2 70.9M68.2 49.1L66.5 50.4M21.1 69.9L23.9 70.5M25.8 67.7L24.0 69.9M22.6 4.9L24.8 4.0M24.8 4.0L25.1 3.3M22.3 5.7L22.6 4.9M31.6 11.8L32.3 9.6M31.7 7.7L32.3 9.6M37.5 13.9L35.2 12.3M54.7 44.6L51.7 45.7M54.4 50.8L51.7 49.3M51.7 49.3L50.5 49.3M32.1 24.9L30.3 27.4M31.4 24.1L32.1 24.9M35.1 24.3L33.8 25.3M33.3 30.8L33.2 30.1M48.7 47.5L46.2 47.9M46.2 47.9L45.2 46.1M45.1 43.5L45.1 43.4M50.5 49.3L48.7 47.5M45.7 50.3L46.2 47.9M42.7 48.3L45.2 46.1"/><path stroke-opacity="1.0" d="M-2.0 37.3L-0.2 41.0M-0.2 41.0L-0.6 41.7M-0.6 41.7L0.6 44.1M97.4 9.5L97.1 9.5M93.1 0.3L95.8 4.6M97.1 9.5L96.9 9.4M71.7 31.1L71.6 31.0M75.0 31.1L75.9 30.3M75.9 29.9L75.9 30.3M95.7 34.6L98.8 35.8M95.7 34.6L96.4 38.3M-2.9 70.1L-0.4 70.5M3.0 39.8L3.3 43.3M3.0 39.8L-0.2 41.0M7.6 21.7L5.3 19.5M5.3 19.5L5.2 16.7M-1.9 27.5L0.1 28.1M0.4 31.1L1.7 32.2M7.0 42.3L7.6 45.9M7.6 45.9L4.8 45.4M3.9 38.9L6.3 42.1M10.2 41.0L7.0 42.3M10.8 41.7L11.0 42.2M3.4 57.5L3.3 58.7M3.0 63.5L0.0 63.0M0.0 63.0L-0.3 60.4M22.5 40.3L19.6 45.0M19.6 45.0L17.0 43.0M32.3 37.5L32.7 37.7M32.7 37.7L34.8 35.9M89.0 36.3L86.5 37.1M90.4 37.2L89.1 40.0M72.4 40.5L73.7 38.4M69.5 36.3L67.7 37.2M67.9 38.9L67.5 38.0M71.0 33.2L67.7 32.3M71.1 33.5L69.5 36.3M76.9 42.4L77.1 40.7M76.9 42.4L74.8 43.4M74.8 43.4L72.3 41.0M72.3 41.0L72.4 40.5M78.1 27.3L80.0 29.5M84.1 26.7L82.2 29.8M75.9 29.9L78.1 27.3M78.1 27.3L76.2 25.8M72.2 26.8L76.2 25.8M72.2 26.8L71.4 26.1M71.4 26.1L68.7 26.7M78.1 27.3L78.1 27.3M78.0 22.7L78.2 22.0M80.0 21.6L78.2 22.0M66.8 35.7L63.3 34.3M88.4 24.8L84.9 27.0M84.9 27.0L87.8 30.3M94.3 41.9L93.1 40.1M92.4 37.2L93.2 39.1M93.1 40.1L90.7 41.0M42.9 64.0L42.1 64.5M42.1 64.5L40.6 64.2M0.1 67.4L-0.9 66.6M0.0 63.0L-1.1 63.8M6.4 66.0L6.4 68.4M3.0 63.5L3.4 64.6M4.4 60.8L4.9 60.8M8.5 64.4L6.4 66.0M0.1 67.4L1.9 67.0M2.6 71.6L4.9 71.9M2.6 71.6L1.4 74.5M4.8 75.4L5.5 73.6M6.6 68.9L6.3 70.2M6.3 70.2L4.9 71.9M14.9 21.7L10.3 20.7M14.9 22.7L14.1 24.0M14.1 24.0L10.7 23.6M4.2 38.0L4.1 37.2M0.6 8.2L3.2 10.6M7.8 50.4L6.5 53.6M3.4 57.5L7.3 55.6M36.5 35.5L34.8 35.9M36.5 35.6L37.3 39.0M32.7 37.7L33.2 39.9M36.5 35.6L40.4 36.6M40.4 36.6L40.7 37.4M37.3 39.0L37.8 39.6M28.6 38.6L28.3 39.6M24.7 37.1L27.3 40.0M36.9 62.8L36.8 62.6M39.2 58.4L36.4 59.9M32.5 59.6L33.9 59.1M74.9 32.8L73.0 34.4M80.0 29.5L79.0 31.8M75.9 30.3L77.9 32.0M77.9 32.0L79.0 31.8M77.9 32.0L77.2 34.8M77.7 35.9L77.4 35.8M42.9 64.0L43.7 64.1M45.5 59.7L44.4 59.9M0.6 8.2L2.0 6.5M3.4 10.7L5.7 7.9M5.7 7.9L5.1 6.9M-0.2 -1.1L0.5 -1.0M2.0 6.5L2.0 4.3M96.9 9.4L91.9 9.1M91.5 10.6L91.9 9.1M95.2 5.5L93.6 6.0M62.5 27.6L61.5 28.4M66.9 31.1L67.0 30.2M64.0 24.6L62.5 27.6M63.3 34.3L63.7 32.7M59.4 32.5L61.2 34.7M59.4 32.5L61.5 29.2M63.3 34.3L63.3 34.3M80.0 21.6L80.8 19.8M41.4 33.9L41.3 33.6M43.7 35.1L45.3 34.3M47.9 31.3L45.8 32.9M43.2 30.0L43.3 31.5M49.5 35.3L47.9 31.3M51.9 -1.7L51.3 -0.7M97.1 15.2L98.5 17.5M85.1 18.0L86.4 20.5M85.1 18.0L84.1 17.5M88.4 24.8L88.2 23.9M93.1 24.8L96.6 25.5M92.9 23.6L93.6 22.0M97.7 22.4L96.6 25.5M96.4 15.0L93.5 17.4M95.6 19.1L93.5 17.4M96.6 25.5L97.7 26.7M79.5 53.0L80.0 56.0M79.5 53.0L82.7 52.4M81.9 57.0L80.0 56.0M6.6 68.9L9.8 69.0M7.6 21.7L5.6 26.0M10.3 26.2L5.6 26.0M19.3 38.5L17.4 34.6M15.8 39.7L17.0 40.3M12.8 36.2L11.6 36.1M4.4 16.1L1.0 18.3M1.0 18.3L-0.5 17.3M-0.5 17.3L-0.5 14.5M5.3 19.5L4.2 20.3M-3.3 14.0L-0.5 14.5M-2.9 18.8L-0.5 17.3M0.9 20.3L0.0 21.2M22.2 35.1L18.8 32.9M23.3 33.5L21.5 30.3M21.5 30.3L18.8 32.9M18.1 33.0L18.8 32.9M8.4 47.4L10.0 47.4M13.2 44.6L12.8 49.3M33.2 39.9L32.9 40.8M28.3 39.6L30.0 40.7M32.1 41.1L30.0 40.7M32.8 49.6L32.0 49.2M31.9 52.6L33.2 52.7M35.1 55.7L36.7 55.3M36.5 49.2L35.5 48.6M14.3 71.7L16.0 72.3M14.3 71.7L13.8 71.3M13.7 68.2L15.3 67.0M13.7 63.3L11.7 67.0M13.7 68.2L11.7 67.0M84.5 40.8L83.3 42.5M83.3 42.5L81.2 41.6M81.2 41.6L80.6 39.9M76.9 42.4L79.0 44.1M78.8 39.6L80.6 39.9M93.0 53.5L93.8 46.7M96.1 47.7L95.2 46.4M95.2 46.4L93.8 46.7M97.8 50.8L96.2 50.6M93.7 55.1L92.9 53.6M92.9 53.6L93.0 53.5M95.9 45.2L95.2 46.4M79.0 35.7L80.6 33.1M79.0 35.7L82.6 37.2M82.5 37.5L82.6 37.2M84.5 35.7L85.4 33.0M84.5 35.7L84.3 35.7M43.7 64.1L46.4 66.4M42.1 67.8L46.4 66.4M41.0 76.1L41.6 71.2M32.8 74.3L34.5 74.1M39.9 70.3L38.2 69.0M39.2 65.0L37.2 63.7M60.6 60.7L59.2 62.3M58.5 57.9L59.7 57.9M59.2 62.3L58.6 62.4M59.6 69.3L56.8 68.1M58.6 62.4L56.2 65.1M60.9 65.5L60.1 66.1M52.8 64.1L53.5 61.6M52.8 64.1L48.8 63.2M48.8 63.2L48.4 62.6M46.6 61.5L48.4 62.6M47.0 66.2L48.8 63.2M7.5 3.9L8.8 2.8M5.6 4.0L7.5 3.9M5.7 7.9L6.6 8.2M6.6 8.2L8.6 6.5M5.4 3.8L4.3 3.5M4.3 3.5L2.2 -1.9M16.6 12.5L18.8 15.6M15.8 12.8L13.7 11.8M11.8 16.5L13.5 16.6M88.2 7.6L91.8 8.7M91.5 10.6L89.6 11.7M86.1 14.4L86.3 14.4M54.9 39.9L53.4 41.9M59.5 54.7L60.1 50.6M54.3 52.2L55.5 53.9M55.6 55.7L54.5 57.6M54.4 50.8L54.3 52.2M54.4 50.8L57.1 48.7M59.5 54.7L55.5 53.9M60.1 50.6L57.2 48.7M58.5 57.9L55.6 55.7M55.5 59.8L54.5 57.6M48.1 54.5L51.4 54.6M70.8 42.7L69.7 43.0M75.2 23.3L71.9 24.0M71.9 24.0L71.6 22.7M71.4 26.1L71.9 24.0M63.4 22.8L64.0 24.6M67.5 19.1L67.6 19.1M69.7 16.3L68.8 14.1M63.2 16.0L67.5 19.1M64.9 14.1L66.7 13.5M59.5 37.1L59.3 37.2M49.3 29.6L53.5 29.7M49.3 29.6L48.3 30.1M58.9 37.8L59.3 37.2M54.2 34.9L54.6 34.7M28.5 30.8L27.6 28.6M48.5 25.1L47.3 23.6M48.1 29.9L48.5 25.1M51.5 27.0L50.0 25.2M63.3 22.8L63.4 22.8M55.8 19.1L55.8 18.4M50.8 17.7L51.7 15.7M52.8 21.7L53.4 20.5M59.8 15.2L62.1 16.2M59.8 15.2L55.8 18.4M50.0 13.7L51.7 15.7M52.0 12.2L55.0 14.3M93.3 12.6L91.8 15.6M89.3 13.4L90.0 15.2M86.3 14.4L89.3 13.4M90.0 15.2L88.4 17.1M92.4 27.6L87.9 30.4M89.7 25.6L92.4 25.6M97.0 68.5L95.4 66.8M74.5 59.2L73.7 61.7M79.5 61.4L77.8 62.0M79.7 60.9L78.5 57.6M77.3 61.7L75.8 58.6M78.5 57.6L76.3 57.7M81.6 59.9L81.9 57.0M74.5 59.2L75.8 58.6M79.1 52.8L74.6 54.7M74.6 54.7L76.3 57.7M65.0 52.0L64.1 55.7M12.2 75.2L10.6 74.8M3.6 32.8L5.2 34.1M4.0 27.1L5.4 26.1M5.6 26.0L5.5 26.1M18.3 26.7L18.9 28.0M18.3 26.7L15.4 27.4M15.4 27.4L15.0 30.4M17.0 31.6L15.1 30.8M18.2 24.9L18.6 26.1M13.7 63.3L13.1 62.0M7.5 59.6L9.5 60.5M18.3 52.1L19.3 51.4M18.3 52.1L17.8 54.1M19.3 51.4L22.0 51.9M20.0 55.8L19.8 55.8M25.9 54.7L28.7 53.4M24.7 51.8L25.3 51.2M28.6 51.9L28.7 53.4M25.9 54.7L25.8 55.2M18.1 59.6L17.9 58.5M27.9 60.2L27.6 61.8M26.9 58.9L26.1 58.8M26.1 58.8L24.1 60.0M13.8 49.3L15.3 50.4M15.3 50.4L17.4 48.3M14.2 44.6L14.9 46.6M18.4 48.1L17.4 48.3M15.4 50.9L18.3 52.1M22.0 49.1L19.4 46.9M19.7 45.3L19.4 46.9M35.0 46.3L33.8 45.7M37.0 43.9L36.9 45.2M32.9 40.8L34.5 42.4M40.2 41.4L39.5 43.4M39.5 43.4L37.0 43.9M29.5 51.1L28.6 51.9M25.3 51.2L25.8 47.5M25.8 47.5L25.2 46.9M25.5 42.7L24.5 45.2M24.1 60.0L23.9 62.9M21.8 61.9L18.7 62.6M15.4 64.7L18.5 64.1M18.5 64.1L19.0 64.7M91.2 44.5L90.4 42.7M86.2 58.2L83.0 60.2M82.2 64.7L83.6 62.1M44.5 73.2L45.9 73.3M48.5 71.2L48.1 71.2M45.7 56.6L47.4 54.4M13.5 16.6L16.2 18.5M11.1 16.8L11.8 16.5M23.2 17.3L26.0 17.1M27.2 15.2L25.6 11.8M31.9 5.0L31.8 5.7M10.8 11.8L10.9 9.2M10.9 9.2L7.8 9.7M11.1 7.3L11.2 8.8M89.4 4.3L90.7 2.3M88.2 7.6L87.6 6.1M67.0 8.5L64.7 7.8M67.0 8.5L68.5 6.4M42.2 38.8L40.2 41.4M40.1 44.7L39.4 46.7M62.0 45.0L59.5 42.3M59.5 37.1L62.5 39.4M59.5 42.3L62.5 39.4M69.7 43.0L68.8 43.9M66.3 42.0L63.7 41.1M63.7 41.1L62.6 45.0M80.8 19.8L79.6 18.6M75.1 19.4L77.2 20.2M51.5 27.0L52.6 26.8M53.5 29.7L53.9 29.4M43.2 30.0L41.6 29.1M41.6 29.1L41.2 29.1M43.5 26.4L42.4 25.1M45.9 19.3L44.8 21.5M36.5 35.5L37.2 33.1M57.2 8.5L54.6 6.7M57.2 8.5L56.7 10.5M56.1 10.9L56.7 10.5M59.8 11.3L56.7 10.5M52.1 10.4L53.0 9.5M50.9 5.0L50.6 6.7M50.9 5.0L54.4 4.3M50.6 6.7L53.0 9.0M60.5 -2.2L61.9 -1.2M57.5 -1.2L57.4 1.0M62.2 1.2L60.5 2.6M51.3 -0.7L55.2 2.8M58.9 7.1L58.7 6.2M63.0 1.3L65.1 3.0M65.1 3.0L64.9 4.9M92.5 19.2L92.6 18.4M88.6 20.6L89.2 21.2M92.9 23.6L89.4 21.3M64.2 69.6L65.7 70.3M65.7 70.3L65.7 72.0M63.2 67.8L65.9 66.4M67.3 69.1L67.1 66.6M59.8 69.5L59.9 70.6M60.2 71.0L59.3 74.3M63.4 64.2L62.0 61.0M98.4 74.5L95.7 72.9M84.4 70.6L84.5 70.7M87.8 67.3L89.5 68.7M87.2 71.6L89.8 70.5M90.4 71.2L90.3 71.0M87.2 62.3L90.5 64.2M87.8 67.3L87.7 66.5M84.5 70.7L83.5 74.5M78.3 68.1L80.6 68.9M74.6 54.7L71.9 57.7M74.6 54.7L72.9 52.8M72.9 52.8L71.8 52.9M71.8 52.9L70.0 55.7M74.6 54.7L74.6 54.7M74.5 64.2L73.6 65.9M71.1 63.1L70.7 65.5M70.7 65.5L70.9 65.8M73.5 61.9L73.4 62.0M67.9 65.6L67.1 66.6M67.9 65.6L70.7 65.5M71.0 68.4L70.9 65.8M70.3 46.8L69.6 46.6M6.3 70.2L8.9 72.1M9.8 69.0L10.6 70.4M10.6 74.8L10.3 73.6M10.5 32.6L9.4 33.6M5.2 34.1L7.8 33.0M9.5 55.6L10.4 56.4M10.4 56.4L13.1 57.2M15.1 55.1L14.8 56.0M11.0 52.2L11.1 52.3M29.1 44.0L29.4 46.4M29.1 44.0L31.2 43.6M30.2 46.6L29.4 46.4M27.8 47.6L29.4 46.4M32.1 41.1L31.2 43.6M31.7 58.8L31.7 57.5M31.7 57.5L29.8 54.6M27.9 60.2L26.9 58.9M30.2 66.3L28.6 66.1M85.3 48.9L83.3 48.9M82.8 48.3L82.9 45.7M84.0 44.5L84.8 44.6M79.1 52.8L78.9 52.2M79.7 48.7L78.2 46.7M79.0 44.1L79.2 45.0M83.3 42.5L84.0 44.5M87.0 47.4L88.9 45.8M88.9 45.8L91.2 46.0M90.3 49.6L91.5 46.3M90.3 49.6L88.9 49.6M87.1 43.5L88.9 45.8M91.2 44.5L91.2 46.0M92.9 53.6L92.8 53.5M92.8 53.5L90.3 49.6M90.0 60.6L91.6 62.9M93.4 57.1L92.7 57.5M93.4 57.1L95.5 60.4M95.5 60.4L95.5 61.7M95.5 61.7L95.1 62.0M93.1 66.3L95.1 62.0M91.9 66.6L92.5 66.7M29.9 69.8L27.8 71.5M34.5 74.1L34.3 69.8M34.2 65.1L31.7 66.6M31.7 66.6L34.5 69.5M35.9 65.8L37.0 68.7M37.0 68.7L34.5 69.5M30.4 66.3L31.7 66.6M34.3 69.8L34.5 69.5M41.0 56.6L39.8 56.5M36.6 51.4L38.1 51.8M39.8 56.5L39.7 56.2M47.5 54.3L47.4 51.7M47.4 51.7L45.7 50.3M52.5 72.2L49.2 70.6M52.5 72.2L53.4 71.7M53.4 71.7L52.3 68.3M47.0 66.2L50.0 68.6M56.8 68.1L56.0 68.8M54.2 71.8L55.5 75.6M55.6 71.1L56.7 71.7M53.4 71.7L54.2 71.8M59.9 70.6L56.7 71.7M59.3 74.3L57.4 74.3M6.6 -0.7L7.9 -1.3M11.2 2.2L11.0 0.7M18.6 10.6L16.1 6.4M15.8 6.1L15.9 6.3M16.1 6.4L15.9 6.3M22.2 19.7L20.9 21.4M26.8 21.5L27.1 18.9M23.1 7.1L25.7 7.1M25.7 7.1L26.2 7.4M25.6 11.8L26.7 10.7M49.6 13.6L48.4 12.7M48.4 12.7L46.3 13.0M50.0 13.7L49.6 13.6M44.5 15.4L45.2 15.0M43.9 10.1L41.0 13.2M38.1 3.9L39.6 -0.6M37.8 4.4L38.1 4.1M36.8 9.7L38.7 10.3M40.5 5.3L39.6 9.5M48.1 0.6L47.8 2.4M44.2 16.5L41.4 18.2M41.4 18.2L39.6 16.6M93.1 0.3L91.8 0.5M90.7 2.3L91.0 1.2M91.8 0.5L91.0 1.2M91.8 0.5L90.9 -1.5M70.3 6.9L71.3 4.9M60.0 7.6L61.0 7.5M62.4 5.0L61.0 7.5M75.5 3.3L74.4 5.5M75.1 1.8L75.5 2.5M79.6 5.0L78.4 5.1M75.5 3.3L78.4 5.1M80.5 3.7L79.6 5.0M82.0 8.8L82.8 10.5M86.7 10.4L86.4 10.5M74.4 8.2L75.4 9.4M75.4 9.4L76.6 9.6M57.1 30.3L59.5 27.8M56.7 26.0L57.1 25.6M57.2 25.6L57.1 25.6M53.5 34.5L54.2 34.9M54.6 34.7L55.6 30.2M53.9 29.4L54.9 29.5M52.7 26.8L56.7 26.0M58.7 23.1L57.2 25.6M23.8 25.1L23.4 26.4M41.4 18.2L41.4 18.8M37.6 16.8L39.6 16.6M44.8 21.5L43.2 21.1M43.2 21.1L41.4 18.8M92.5 66.7L93.4 68.5M95.4 72.2L95.5 71.7M97.0 68.5L96.8 69.3M83.5 74.5L82.0 74.0M82.0 74.0L79.2 75.2M78.3 68.1L77.8 68.2M73.6 65.9L75.1 67.7M76.4 67.5L75.1 67.7M71.0 68.4L74.3 68.9M77.8 46.8L75.9 46.4M75.9 46.4L73.7 49.5M78.9 52.2L76.1 50.1M72.1 48.1L73.7 49.5M66.6 43.9L64.7 46.0M68.5 47.3L64.7 46.0M62.6 45.0L64.3 46.1M64.2 48.0L64.3 46.1M64.7 46.0L64.3 46.1M25.4 76.6L25.7 71.9M27.8 71.5L25.7 71.9M19.7 75.6L20.5 73.0M22.3 73.4L20.5 73.0M27.0 67.6L25.8 67.7M25.8 67.7L24.4 66.3M24.6 63.3L24.4 66.3M17.7 0.1L15.8 1.9M21.1 -3.4L20.5 0.3M16.8 3.9L15.8 6.1M25.6 -0.5L25.6 -0.7M25.8 -0.2L28.5 0.7M29.7 0.2L30.4 -0.8M28.0 2.4L28.5 0.7M22.3 5.7L20.3 5.9M20.3 5.9L19.1 3.5M23.8 25.1L27.7 24.1M27.1 21.8L27.7 24.1M30.1 18.3L28.5 15.3M31.2 18.8L32.1 16.9M32.1 16.9L31.2 14.4M28.5 15.3L30.9 14.2M27.1 18.9L30.1 18.3M31.3 19.1L30.0 21.0M30.0 21.0L27.1 21.8M27.3 6.7L30.1 8.6M31.7 7.7L30.1 8.6M26.2 7.4L27.2 6.7M42.4 6.0L41.0 5.4M41.0 5.4L42.9 2.3M45.9 5.1L46.8 3.3M40.5 5.3L41.0 5.4M43.0 9.3L42.4 6.0M46.8 8.1L45.9 5.1M82.6 7.4L83.0 4.0M80.5 3.7L81.8 3.5M81.3 7.4L82.0 7.7M81.8 3.5L83.0 4.0M89.1 0.8L85.4 2.2M85.4 2.4L85.4 2.2M68.9 3.3L70.2 3.0M68.9 3.3L66.9 1.8M70.2 3.0L70.8 1.0M68.0 5.3L68.9 3.3M65.1 3.0L66.9 1.8M75.1 1.8L70.8 1.0M48.9 39.5L48.1 39.2M72.9 15.8L73.8 14.1M75.0 18.4L77.8 15.9M30.0 21.0L31.5 23.3M31.5 23.3L33.7 20.4M38.8 22.6L38.8 26.9M40.8 23.0L42.2 25.1M35.5 23.4L38.8 22.6M38.6 27.0L38.8 26.9M35.5 23.4L35.1 24.3M43.2 21.1L40.8 23.0M42.4 25.1L42.2 25.1M41.2 29.1L39.3 27.1M34.5 20.2L35.6 16.7M33.7 20.4L34.2 20.5M31.2 14.4L34.4 14.2M35.5 16.6L34.4 14.2M68.3 61.8L65.5 60.3M69.9 59.5L67.8 57.9M65.5 58.4L65.1 59.7M65.1 59.7L65.5 60.3M71.1 59.0L69.9 59.5M68.9 55.8L70.0 55.7M68.9 55.8L67.8 57.9M77.2 70.9L78.6 72.1M78.6 72.1L78.7 72.4M78.7 72.4L77.9 74.7M71.9 75.0L74.8 72.3M80.6 69.0L78.6 72.1M80.7 72.4L78.7 72.4M68.2 49.1L70.1 50.0M68.5 47.3L68.2 49.1M64.2 48.0L66.5 50.4M65.0 52.0L66.5 51.1M67.4 54.2L67.8 52.4M20.2 68.4L22.1 67.1M20.2 68.4L21.1 69.9M22.8 67.3L24.0 69.9M18.9 67.9L20.2 68.4M21.6 64.8L22.1 67.1M24.4 66.3L22.8 67.3M22.6 4.9L21.0 1.4M20.9 1.4L21.0 1.4M25.7 7.1L24.8 4.0M25.3 3.2L25.1 3.3M35.8 10.7L35.2 12.3M30.9 12.4L31.6 11.8M36.8 9.7L35.8 10.7M32.1 24.9L33.8 25.3M30.3 27.4L31.6 29.5M28.1 27.1L30.3 27.4M37.3 28.2L34.4 28.3M28.5 30.8L31.6 29.5M48.7 47.5L48.7 45.1M45.2 46.1L45.1 43.5M45.9 41.3L45.1 43.4M44.7 43.5L45.1 43.5"/></g><g id="netB" fill="none"><path stroke-opacity="0.45" d="M94.1 76.6L96.8 73.1M96.8 73.1L97.3 73.5M65.9 -0.7L66.2 -1.9M96.7 72.2L96.6 72.1M93.3 76.0L92.9 71.8M94.3 71.5L92.9 71.8M86.9 73.5L87.8 71.3M90.2 73.1L92.8 71.7M92.1 69.8L92.1 70.5M91.0 67.7L89.0 69.0M86.9 73.5L85.7 73.8M68.0 71.5L66.4 70.0M66.4 70.0L67.9 68.3M67.9 68.3L70.0 69.0M68.8 65.9L67.4 66.9M68.8 65.9L70.8 68.6M70.8 68.6L70.0 69.0M92.1 69.8L94.6 67.7M91.4 65.7L92.8 66.0M94.6 67.7L94.9 67.8M75.1 61.3L77.0 61.2M75.1 61.3L74.4 65.2M78.4 63.8L77.0 61.2M81.8 62.5L77.3 60.9M78.4 63.8L79.4 64.1M73.3 59.9L70.8 62.3M70.8 62.3L68.7 59.7M75.1 61.3L73.3 59.9M77.3 60.9L78.3 59.5M77.6 57.9L78.3 59.5M70.7 62.6L70.8 62.3M82.7 66.6L82.4 68.4M82.4 68.4L81.8 68.3M83.8 69.2L82.4 68.4M81.8 68.3L79.4 72.8M78.7 72.3L79.4 72.8M75.2 67.4L77.6 71.3M75.2 67.4L74.6 67.2M74.6 67.2L73.5 68.0M73.2 70.8L76.0 71.8M77.6 71.3L76.0 71.8M69.5 63.8L73.5 68.0M69.3 63.9L69.5 63.8M70.8 68.6L73.0 68.7M54.6 63.8L53.5 62.2M55.4 64.1L56.9 61.2M53.7 61.1L54.4 60.5M54.4 60.5L56.9 61.2M54.6 63.8L53.6 64.7M57.5 60.9L58.9 62.7M60.7 61.4L61.7 63.5M60.7 61.4L61.6 59.5M61.6 59.5L58.0 59.1M58.9 62.7L59.0 62.7M37.2 69.5L38.5 68.1M37.2 69.5L37.7 71.1M40.5 69.1L39.7 71.2M37.7 71.1L38.4 71.5M39.7 71.2L38.4 71.5M43.0 70.2L41.4 72.6M41.1 68.8L42.6 69.3M50.7 42.1L51.7 38.3M48.7 39.9L50.5 38.0M51.7 38.3L50.5 38.0M48.6 39.9L47.1 38.2M47.1 38.2L46.5 38.2M46.5 38.2L45.0 40.1M46.8 41.4L45.0 40.3M36.5 75.1L37.9 73.8M24.5 75.0L24.3 73.9M21.8 75.4L21.7 74.4M21.7 74.4L22.1 73.6M-1.8 72.8L-0.2 75.7M52.8 -1.6L51.1 0.8M64.1 -0.1L63.8 0.5M63.8 0.5L61.7 0.9M61.7 0.9L61.7 0.2M45.2 36.8L46.5 38.2M47.4 34.6L45.5 34.5M92.8 66.0L94.7 64.5M94.7 64.5L96.6 65.5M60.9 48.7L62.1 47.6M75.3 41.6L77.0 41.6M78.9 39.5L79.2 41.1M79.2 41.1L79.4 41.3M94.5 4.7L92.7 1.5M93.2 -1.1L93.5 -1.5M62.2 1.8L64.7 3.5M62.9 4.3L62.1 3.9M62.9 4.3L64.7 3.6M65.3 3.2L63.8 0.5M61.7 0.9L61.6 1.2M61.6 1.2L61.1 1.4M60.3 3.5L61.3 6.6M95.7 57.6L96.8 59.6M96.4 54.2L96.1 53.3M96.1 53.3L96.8 50.7M73.6 56.6L70.2 55.6M70.1 55.6L70.2 55.6M74.8 54.0L73.9 56.3M81.8 62.5L82.2 62.0M88.9 64.8L87.0 68.0M75.9 74.3L77.3 75.5M60.9 48.7L59.1 47.2M59.0 51.0L57.1 48.0M59.1 47.2L57.1 48.0M54.8 50.6L54.7 50.2M54.7 50.2L56.3 47.7M54.2 51.3L54.8 50.6M52.3 47.6L49.9 47.9M53.8 53.4L55.3 54.4M53.8 53.4L54.2 51.3M58.8 51.8L55.3 54.4M66.4 70.0L65.1 69.7M67.1 72.7L65.3 73.4M62.9 65.1L61.5 66.3M64.5 65.3L64.5 65.2M59.8 65.5L58.1 66.8M58.7 69.9L59.9 68.7M59.9 68.7L61.6 69.2M50.8 52.2L52.0 53.0M48.5 51.1L49.7 52.6M53.5 53.5L52.0 53.0M35.7 68.4L37.9 66.0M49.4 65.5L50.3 65.3M47.1 62.0L46.9 63.3M52.8 67.1L52.2 67.8M46.9 63.3L45.8 64.5M46.5 65.9L45.8 64.5M47.0 61.6L47.2 59.9M61.7 63.5L63.6 62.2M63.6 62.2L63.3 59.8M57.0 57.9L55.1 58.6M55.1 58.6L53.2 57.2M54.4 60.5L55.1 58.6M58.0 59.1L57.0 57.9M52.7 57.1L51.7 56.0M34.2 70.7L35.8 68.8M35.7 68.4L34.6 67.4M34.6 67.4L32.9 68.8M24.7 73.5L25.9 73.0M26.4 71.5L26.1 70.8M29.1 34.5L25.5 36.9M26.3 39.0L25.5 36.9M26.3 39.4L26.3 39.0M31.1 38.5L30.1 41.1M31.9 42.7L30.1 41.1M18.9 12.4L20.8 11.8M18.9 12.4L17.9 12.4M17.3 11.2L17.9 12.4M22.1 73.6L22.1 73.6M19.0 74.3L19.1 72.8M-0.2 60.8L-0.5 61.3M-0.5 61.3L0.4 63.9M-0.2 49.5L-2.7 48.8M54.5 -1.5L56.0 -0.4M53.1 4.9L51.8 4.3M47.1 0.0L46.8 -0.4M47.1 0.0L44.3 2.2M41.9 -1.7L41.7 -1.6M41.7 -1.1L41.6 -1.2M43.2 2.1L44.3 2.2M47.1 0.0L47.2 0.0M35.4 0.0L37.8 -2.3M35.4 0.0L33.3 -0.0M41.6 -1.2L38.1 -0.2M56.8 -0.2L56.5 3.9M56.4 6.8L57.1 4.5M56.4 6.8L58.0 7.8M53.6 5.4L53.1 4.9M56.0 10.9L59.2 11.1M59.2 11.1L59.1 9.0M58.0 8.4L59.1 9.0M54.2 13.5L55.8 12.6M55.8 12.6L56.0 10.9M58.0 7.8L58.0 8.4M54.5 8.5L54.6 9.1M59.6 11.4L61.8 11.6M60.9 8.0L61.1 7.7M78.6 4.2L78.3 3.9M75.7 5.3L75.7 6.6M62.5 5.1L64.1 6.6M61.4 6.6L63.9 6.8M68.3 8.5L65.9 9.6M68.3 8.5L68.8 6.7M65.8 6.9L65.9 9.6M76.9 0.0L74.4 0.2M73.5 -0.2L74.4 0.2M79.5 -0.4L78.4 -1.1M78.3 3.9L79.2 1.7M67.8 5.7L67.3 4.1M65.6 3.1L67.3 4.1M69.7 -2.3L71.4 -0.1M27.6 8.9L26.1 5.8M24.5 5.7L26.1 5.8M24.5 5.7L23.0 6.7M58.0 24.3L55.1 23.7M58.0 24.3L57.8 25.5M57.8 25.5L54.7 25.2M69.4 9.6L68.3 8.5M11.1 3.7L10.7 2.8M65.7 41.8L65.1 39.7M68.4 41.2L68.4 39.4M61.7 41.5L64.8 43.6M74.8 54.0L75.7 53.5M75.8 49.2L75.7 53.5M75.8 49.2L75.2 48.7M72.8 49.6L73.0 49.3M75.2 44.1L72.2 44.8M75.2 48.7L75.1 47.6M76.1 44.9L76.1 44.9M70.7 43.3L70.7 42.6M70.7 42.6L73.8 40.8M74.9 40.9L73.8 40.8M60.7 55.6L59.6 53.1M66.1 47.7L66.7 45.2M67.7 45.1L66.7 45.2M67.7 45.1L70.0 47.7M67.8 50.2L69.3 49.2M70.4 42.2L68.4 41.2M71.6 47.1L70.0 47.7M70.8 52.3L67.6 51.4M67.6 51.4L67.8 50.2M81.8 51.3L79.5 52.3M79.5 52.3L78.4 48.7M80.7 47.1L82.3 46.9M78.4 48.7L78.8 48.1M79.8 42.5L81.0 43.2M75.8 49.2L78.4 48.7M95.5 48.7L96.8 47.6M98.3 41.3L96.9 43.0M96.9 43.0L94.4 41.7M94.1 44.8L94.5 48.5M94.5 48.5L92.2 49.3M94.2 40.8L93.0 40.8M94.2 40.8L94.4 41.7M97.5 22.6L97.9 20.7M98.0 26.3L97.5 27.6M97.5 19.9L97.9 20.7M94.4 34.5L93.7 30.2M97.6 39.9L94.4 40.4M94.4 40.4L94.0 37.5M94.2 40.8L94.4 40.4M98.7 35.6L94.4 36.4M91.1 39.6L94.0 37.5M91.1 37.2L93.4 35.4M87.3 42.3L87.1 42.4M84.7 39.8L87.1 42.4M81.0 43.2L83.4 41.7M81.2 7.6L81.4 11.0M81.2 7.6L82.3 7.8M81.4 11.0L82.7 11.7M83.5 11.2L82.7 11.7M86.1 8.0L86.1 7.4M86.1 8.0L83.9 9.7M82.3 7.8L84.4 6.8M84.4 6.8L86.1 7.4M89.5 7.5L87.2 6.0M89.5 7.5L91.3 6.0M88.7 3.5L87.5 4.5M91.4 5.8L91.3 6.0M87.5 4.5L87.2 6.0M86.5 12.1L87.3 10.4M86.1 8.0L87.2 9.7M89.5 7.5L89.7 8.5M87.2 9.7L89.7 8.5M91.3 6.0L91.7 8.1M91.7 8.1L90.4 9.0M91.8 -2.4L89.2 -1.2M88.1 -2.1L89.2 -1.2M87.3 -1.7L88.1 -2.1M89.9 -0.4L89.2 -1.2M87.8 1.7L84.5 1.1M84.5 1.1L84.5 0.9M88.5 2.5L87.8 1.7M84.6 3.3L87.5 4.5M85.5 -1.5L84.6 0.7M83.1 62.1L85.9 60.6M86.6 60.8L85.9 60.6M85.3 68.6L85.4 64.7M82.2 62.0L83.1 62.1M85.1 58.4L85.9 60.6M53.5 42.4L55.9 43.8M53.5 42.4L52.4 42.7M52.4 42.7L52.9 46.8M58.0 42.6L55.9 43.8M58.0 40.4L54.2 40.4M56.3 47.7L55.8 45.9M52.3 47.6L52.9 46.8M47.5 43.3L50.7 42.6M50.7 42.6L49.7 47.8M44.1 43.7L45.8 45.0M50.8 42.5L50.7 42.6M45.8 45.0L44.2 47.1M58.4 42.8L60.2 43.0M58.4 42.8L59.0 45.7M56.1 68.7L54.7 71.1M52.2 67.8L52.0 69.2M56.0 72.3L55.3 72.0M48.5 66.6L48.5 68.6M37.4 60.7L37.9 58.3M34.7 58.0L35.8 55.9M49.6 53.4L46.1 53.3M45.0 49.8L44.8 50.7M48.4 57.8L45.8 56.6M44.6 55.1L44.9 55.0M39.4 57.3L37.1 53.9M37.4 60.7L37.4 60.7M37.4 60.7L38.3 61.0M42.2 59.8L41.2 60.5M64.5 63.6L64.6 65.2M65.0 65.3L64.6 65.2M69.3 63.9L67.7 64.0M12.0 71.2L13.6 73.8M13.6 73.8L15.2 74.0M22.9 48.2L20.0 49.2M19.9 51.5L18.0 53.9M21.2 55.1L19.8 55.5M19.8 55.5L18.2 55.1M21.4 58.6L19.2 57.7M13.1 55.0L11.6 53.5M15.2 54.8L16.1 53.0M15.8 51.5L16.1 53.0M16.8 56.3L18.2 55.1M18.0 53.9L16.1 53.0M10.8 63.0L10.8 65.5M10.8 65.5L10.7 65.5M7.7 65.2L9.4 65.8M9.4 65.8L10.7 65.5M10.8 65.5L11.0 69.2M10.7 65.5L9.0 68.3M2.7 31.8L3.0 34.1M3.0 34.1L1.9 35.4M20.1 46.2L19.8 45.8M20.0 49.2L19.1 50.3M54.7 25.2L54.0 26.1M53.1 31.9L54.7 30.9M32.7 28.4L32.6 28.9M32.7 28.4L31.6 26.7M31.6 26.7L29.7 26.6M29.6 29.0L29.7 29.2M31.9 24.5L31.6 26.7M21.2 2.3L20.6 4.7M15.4 1.3L14.3 4.6M14.3 4.6L14.5 5.1M18.2 4.7L17.3 5.6M14.5 5.1L17.3 5.6M17.3 32.2L17.4 30.1M40.3 32.2L38.8 31.3M40.3 32.2L41.0 33.5M41.0 33.5L37.9 33.8M37.9 33.8L36.4 32.6M39.8 40.4L37.8 40.7M44.2 39.9L43.4 38.2M44.1 43.7L41.5 43.5M43.2 37.3L43.4 38.2M25.9 73.0L27.5 74.2M27.5 74.2L28.7 71.8M37.7 71.1L34.3 72.0M3.3 75.9L4.9 72.1M4.9 72.1L7.5 74.4M10.8 74.0L9.2 74.6M10.8 74.0L12.4 75.3M12.0 70.8L11.8 70.7M12.0 71.2L10.8 74.0M8.0 74.2L7.5 74.4M5.1 62.6L6.0 63.5M5.4 67.1L4.8 66.7M7.8 63.7L7.2 63.3M1.2 53.5L-0.6 52.2M1.2 53.5L2.3 51.1M0.3 50.1L1.7 50.1M-0.6 51.5L-0.6 52.2M3.6 54.0L2.3 54.7M2.5 51.2L2.3 51.1M2.2 46.9L2.9 48.5M2.9 48.5L3.9 48.5M36.9 2.3L33.9 2.4M36.9 2.3L37.3 0.7M48.0 17.6L48.3 14.7M50.6 18.3L50.9 16.7M53.8 21.6L54.0 21.2M50.7 18.8L52.2 18.7M52.2 18.7L54.0 21.2M68.8 6.7L70.6 6.4M70.6 6.4L71.6 1.7M75.7 5.3L73.9 4.5M73.9 4.5L71.8 1.4M75.7 6.6L75.1 7.3M69.4 9.6L71.9 9.8M79.5 22.5L80.7 25.8M77.6 23.7L77.5 24.0M76.9 21.4L77.6 23.7M74.2 24.5L77.5 24.0M73.3 14.9L73.2 12.5M77.3 13.7L76.8 13.1M73.2 12.5L76.8 13.1M27.7 9.0L25.8 11.4M21.9 8.1L22.5 6.7M21.9 8.1L23.4 12.2M23.0 6.7L22.5 6.7M23.4 12.2L23.8 12.4M20.1 9.1L21.9 8.1M23.4 12.2L22.3 12.3M18.9 12.4L20.4 15.1M22.3 12.3L20.4 15.1M16.6 15.4L20.2 15.9M20.2 15.9L20.3 16.1M37.4 12.8L34.7 14.2M34.2 12.0L33.7 13.0M34.7 14.2L33.7 13.0M38.9 9.1L37.0 12.2M34.0 11.9L31.7 10.5M31.6 8.9L33.1 8.5M30.5 8.2L31.7 4.8M32.0 4.7L31.7 4.8M28.4 20.9L28.1 21.0M27.9 18.3L28.7 17.2M30.3 15.3L28.7 17.1M48.3 14.7L47.7 13.5M42.4 12.3L40.5 11.1M40.6 9.6L40.5 11.1M43.0 22.7L44.2 22.1M43.0 22.7L42.1 22.5M44.1 18.3L44.2 22.1M42.1 22.5L41.5 20.4M43.2 18.2L41.5 20.4M36.5 26.0L35.9 27.9M36.5 26.0L37.4 25.4M37.4 25.4L39.2 25.6M39.3 27.9L39.4 25.8M39.3 27.9L37.8 29.5M35.9 27.9L36.5 29.7M36.5 29.7L37.8 29.5M39.9 23.9L38.9 22.0M39.9 23.9L39.2 25.6M37.7 21.6L35.9 23.5M34.7 23.0L35.9 23.5M44.2 22.1L45.4 22.3M44.8 17.9L44.4 18.3M46.4 20.5L47.9 19.6M50.4 19.9L49.6 20.5M51.7 28.1L53.7 27.5M53.1 21.8L51.9 23.3M49.4 20.9L50.3 22.8M50.3 22.8L51.9 23.3M32.6 28.9L33.1 29.9M36.5 29.7L35.8 30.3M35.8 30.3L36.2 32.5M10.9 12.1L9.7 11.2M9.1 14.6L8.4 13.2M10.7 5.4L10.7 5.4M8.4 7.8L10.7 5.4M-1.1 10.9L-0.5 10.9M4.4 9.6L1.7 8.1M-0.5 10.9L1.7 8.1M2.9 4.2L0.6 3.8M1.0 0.5L-0.8 2.4M3.2 6.1L2.9 4.2M5.7 4.9L4.2 2.4M8.0 3.0L6.7 1.4M-1.3 -2.0L0.9 -0.0M17.8 -2.5L18.0 -0.9M18.0 -0.9L20.7 -0.1M15.6 1.3L16.1 -2.8M67.6 51.4L67.2 51.8M64.2 52.2L64.2 52.3M92.4 54.0L93.6 52.4M89.5 52.0L91.4 49.3M91.4 49.3L91.5 49.2M95.3 33.8L95.8 31.0M88.5 34.8L87.7 34.0M85.4 36.1L85.4 35.3M85.4 35.3L86.5 33.9M91.1 37.2L88.5 36.5M83.3 38.1L83.1 38.7M91.0 30.9L90.4 30.6M90.4 30.6L89.0 31.5M89.0 31.5L87.7 34.0M89.3 40.1L89.2 41.1M89.2 41.1L91.1 42.5M83.6 32.5L83.6 29.4M85.6 27.9L85.4 28.3M82.2 29.3L81.0 27.5M81.0 27.5L80.9 25.9M79.8 33.7L79.0 36.5M82.7 35.0L79.4 37.0M77.3 32.3L76.3 36.1M77.3 32.3L77.7 32.2M76.3 36.1L79.0 36.5M80.8 30.7L81.5 32.9M95.5 17.8L96.1 15.0M96.4 19.5L95.5 17.9M89.5 12.6L91.8 13.6M88.7 14.9L88.7 14.9M88.7 14.9L89.6 16.7M91.9 15.7L89.6 16.7M93.6 17.9L92.7 17.8M92.7 17.8L90.9 19.4M94.2 17.6L95.5 17.8M94.2 17.6L93.6 17.9M94.5 4.8L93.0 5.6M82.5 4.3L80.6 7.1M83.6 5.0L80.9 7.3M80.6 7.2L80.6 7.1M81.5 3.7L82.5 4.3M84.4 6.8L83.6 5.0M81.2 7.6L80.9 7.3M92.8 62.0L94.9 62.2M97.7 63.4L95.2 62.1M95.2 62.1L94.9 62.2M85.6 57.1L87.3 56.9M85.6 57.1L85.1 58.4M88.9 59.7L87.3 56.9M82.4 54.4L81.3 56.8M81.7 57.4L81.3 56.8M81.7 57.4L84.8 55.3M87.1 53.0L84.4 51.3M87.1 53.0L84.8 54.5M82.9 51.9L84.4 51.3M78.9 56.3L77.4 53.4M80.5 56.3L80.2 53.4M77.6 57.9L78.9 56.3M81.3 56.8L80.5 56.3M79.5 52.3L79.4 52.3M51.9 69.2L49.4 71.6M48.1 68.9L47.7 71.1M49.4 71.6L47.7 71.1M37.9 65.7L37.9 65.6M39.3 62.9L40.0 65.0M40.6 64.8L41.1 63.9M41.1 63.9L41.1 62.4M37.1 61.2L37.4 60.7M37.1 61.2L36.9 62.6M38.3 61.0L39.3 62.9M36.9 62.6L37.9 65.6M41.2 60.5L41.1 62.4M41.1 68.2L43.3 66.0M29.1 58.2L26.8 58.2M29.1 58.2L29.9 59.6M29.9 59.6L29.0 61.0M26.8 58.2L27.0 61.1M44.1 50.8L42.7 49.8M13.0 60.3L11.4 58.3M12.0 57.8L11.4 58.3M9.9 59.0L10.6 62.5M7.9 70.9L7.4 68.3M4.8 69.6L4.7 71.5M5.5 67.3L7.4 68.3M4.7 71.5L4.7 71.5M4.2 66.6L3.5 66.7M11.8 39.5L11.9 39.5M11.9 39.5L11.3 37.8M9.4 42.0L10.8 43.2M7.5 37.5L5.3 36.5M3.8 38.0L5.3 36.5M3.8 38.0L5.6 40.2M5.9 40.2L5.6 40.2M9.3 42.1L7.2 42.5M12.2 36.0L11.3 37.8M12.0 33.5L12.1 32.7M14.2 35.4L14.6 35.3M19.8 45.8L19.0 42.9M29.7 26.6L29.2 26.1M30.6 23.8L29.2 26.1M26.8 25.3L27.0 23.1M7.4 48.8L6.2 47.5M51.8 30.6L51.9 30.9M51.7 28.1L51.8 30.6M49.3 28.3L48.7 30.9M53.1 31.9L51.9 30.9M51.6 34.5L53.0 33.5M53.4 37.8L53.8 37.9M53.8 37.9L54.2 37.7M54.2 37.7L54.3 37.5M54.3 37.5L54.5 36.5M53.1 33.4L53.0 33.5M55.5 31.1L57.4 30.3M57.8 29.8L57.4 30.3M21.2 27.5L20.1 27.9M21.5 26.8L23.2 25.3M39.5 8.8L38.2 6.3M38.2 6.3L36.2 6.1M33.9 2.5L32.0 4.7M36.0 5.8L36.2 6.1M38.2 6.3L39.1 5.4M41.7 5.8L39.1 5.4M17.7 9.8L17.0 8.1M17.4 7.5L17.9 7.5M24.5 5.7L24.3 2.2M9.1 14.6L8.6 16.2M6.2 13.0L8.4 13.2M5.5 14.4L8.6 16.2M14.3 26.7L14.8 27.2M17.6 25.7L17.2 25.1M21.5 26.8L20.1 24.6M19.6 24.5L17.6 25.7M17.9 21.4L19.1 21.4M17.9 21.4L17.5 21.8M12.9 25.3L14.1 25.6M12.1 24.1L12.2 24.0M15.0 24.5L14.9 24.3M12.9 20.0L13.9 18.6M12.2 36.0L9.0 35.5M9.0 35.5L8.8 35.8M11.7 26.8L12.4 27.5M41.4 43.6L38.8 43.5M38.8 43.5L37.8 44.5M35.8 43.4L34.6 44.1M32.4 43.3L32.6 43.8M32.4 43.3L35.1 41.5M32.6 43.8L34.6 44.1M41.3 34.5L38.9 36.4M41.3 34.5L42.1 36.7M62.6 17.4L62.8 17.1M62.8 17.1L65.7 18.3M65.7 18.3L64.3 20.5M62.6 17.4L61.0 18.6M61.0 18.6L64.3 21.4M64.3 20.5L64.3 21.4M65.6 15.3L64.8 12.9M59.2 23.2L59.0 23.2M59.2 23.2L62.0 21.6M59.0 23.2L60.9 20.2M60.4 18.7L60.6 18.8M63.3 22.3L64.3 21.7M64.3 21.7L64.3 21.4M24.7 73.5L24.3 73.9M32.1 75.1L32.1 74.7M30.1 70.8L30.1 71.1M26.1 70.8L27.2 68.6M29.5 8.2L28.7 4.9M26.1 -0.4L29.8 0.3M26.1 -0.4L25.5 0.7M25.5 0.7L25.5 1.2M25.5 1.2L27.5 2.8M33.9 2.5L33.9 2.4M60.0 18.5L59.4 15.3M57.7 18.0L57.5 15.8M76.5 11.6L78.4 9.4M78.4 13.6L77.3 13.7M78.5 8.5L78.3 9.0M69.5 27.3L68.4 32.6M69.5 27.3L68.8 27.1M66.0 30.8L66.7 28.7M89.6 16.7L89.1 18.7M80.9 25.9L80.7 25.8M77.7 32.2L78.8 30.3M78.8 30.3L78.9 30.2M29.0 11.2L28.5 13.3M27.7 9.0L29.0 11.2M30.3 15.3L29.4 13.7M22.6 16.7L23.9 12.7M25.3 17.0L26.5 15.5M22.5 16.8L22.6 16.7M27.9 18.3L25.7 18.7M45.6 5.0L45.7 5.1M43.2 7.4L45.0 7.0M48.0 4.8L47.8 5.3M43.9 11.0L46.8 11.4M46.1 14.4L44.2 14.1M40.6 9.6L43.2 9.8M42.5 17.5L41.6 15.6M39.1 17.3L39.6 18.4M36.6 16.2L38.0 17.0M38.0 19.0L36.7 19.8M36.7 19.9L36.7 19.8M38.9 22.0L39.7 20.4M41.5 20.4L40.0 20.1M35.0 20.7L31.8 19.8M34.5 22.3L31.6 21.3M31.8 19.8L31.6 21.3M31.1 21.8L30.9 23.7M45.6 25.2L45.8 27.9M42.6 26.0L43.6 24.7M45.7 28.0L45.8 27.9M43.0 22.7L43.6 24.7M47.9 24.3L48.4 24.5M48.4 24.5L48.6 24.5M48.6 24.5L49.1 23.9M47.8 27.7L48.4 24.5M49.4 20.9L48.9 21.4M50.3 22.8L49.1 23.9M49.3 28.3L47.8 27.7M50.4 25.5L48.6 24.5M42.6 29.9L41.2 33.6M44.2 33.3L45.4 30.8M45.5 34.5L44.2 33.3M41.3 34.5L41.4 33.9M28.4 31.7L29.5 33.3M32.4 32.1L29.5 33.3M6.4 11.9L6.9 11.5M6.9 11.5L6.3 8.3M9.4 10.5L9.5 9.1M14.1 6.2L14.9 8.1M14.1 6.2L12.4 6.8M12.4 6.8L11.5 8.7M13.8 10.1L11.5 8.7M14.5 5.1L14.1 6.2M9.5 9.1L11.5 8.7M13.4 11.9L10.9 12.1M0.7 6.8L-0.9 6.4M70.5 35.2L68.9 37.2M65.5 38.6L65.4 37.9M65.4 37.9L66.3 36.4M67.9 54.9L64.8 55.6M64.8 55.6L66.2 58.0M82.8 47.0L85.0 44.5M87.1 42.4L85.9 44.3M85.0 44.5L85.9 44.3M91.5 45.3L89.7 44.2M88.7 44.8L89.3 44.2M89.7 44.2L89.3 44.2M88.6 41.7L89.3 44.2M86.0 44.4L88.7 44.8M90.6 22.5L90.7 22.6M95.8 23.2L94.4 23.6M89.7 25.0L90.7 22.6M91.0 26.2L91.8 25.4M92.9 13.7L93.7 13.2M94.9 13.4L97.5 12.0M90.8 10.5L93.1 11.4M93.7 13.2L93.1 11.4M98.2 7.7L96.9 8.6M97.5 12.0L96.9 8.6M92.7 8.5L93.2 7.8M95.7 8.1L95.8 8.3M91.7 8.1L92.7 8.5M96.9 8.6L95.8 8.3M93.8 59.0L91.8 59.5M92.9 55.7L92.5 55.6M91.1 56.5L90.9 56.8M88.7 52.5L89.5 52.0M87.8 52.7L87.4 53.0M45.3 69.6L44.4 68.0M44.4 68.0L44.4 67.9M47.6 71.1L47.7 71.1M46.5 65.9L45.7 67.5M44.8 71.4L45.2 71.1M47.6 71.1L47.4 73.2M33.8 65.0L33.4 64.9M29.9 65.0L28.0 65.6M28.0 65.6L27.6 66.4M32.5 61.9L29.9 63.1M25.0 63.6L23.7 64.8M27.2 68.6L22.9 67.7M27.8 65.1L27.7 63.7M25.0 63.6L25.7 62.3M33.2 51.6L34.8 51.0M34.8 51.0L34.7 49.3M33.3 49.1L34.7 49.3M36.2 49.1L36.0 51.0M36.2 49.1L34.7 49.3M36.4 48.8L36.2 49.1M33.1 48.7L33.3 49.1M33.1 48.7L33.2 46.9M23.5 45.4L23.7 45.7M24.2 41.6L26.3 39.4M27.8 44.9L27.6 45.0M17.5 72.2L18.7 71.6M18.7 71.6L17.1 69.6M21.2 61.1L20.6 61.4M18.1 58.2L17.6 57.9M25.2 54.8L24.4 53.3M22.4 59.0L25.0 59.6M23.8 56.7L23.8 57.0M20.6 61.4L20.3 61.3M20.0 61.2L20.3 61.3M20.0 61.2L18.4 59.3M25.7 62.3L25.0 61.5M26.8 58.2L26.7 58.2M26.6 55.2L26.5 57.1M25.2 54.8L26.6 55.2M4.6 57.3L5.7 53.8M4.8 58.2L8.1 56.8M6.5 53.4L6.6 53.4M2.2 55.5L4.6 57.3M9.9 59.0L8.9 58.6M11.3 50.4L11.7 53.1M7.5 61.1L7.2 61.4M8.9 58.6L7.6 59.8M14.2 46.0L14.0 46.2M11.3 50.4L11.6 50.0M11.6 50.0L13.0 49.3M19.1 50.3L19.9 51.5M12.5 46.2L11.8 44.8M13.5 46.5L12.5 46.2M10.8 43.2L10.9 44.3M7.3 44.6L7.0 45.0M5.1 35.5L3.0 34.1M1.9 35.4L1.9 37.1M2.7 38.1L1.9 37.1M1.4 44.2L-0.2 44.9M-0.2 44.9L-1.8 43.2M7.0 42.8L5.0 43.3M4.3 41.3L5.0 43.3M1.7 40.4L2.7 38.1M1.7 40.4L1.9 41.2M13.9 43.2L14.3 43.7M13.9 43.2L15.2 40.6M14.6 39.5L13.7 39.2M15.2 40.1L15.2 40.6M20.4 41.5L20.2 40.8M18.5 34.7L18.6 33.1M18.6 33.1L18.5 33.0M23.1 37.6L20.7 36.7M24.9 36.9L23.1 37.6M54.3 37.5L58.5 35.9M21.8 32.3L21.3 33.3M20.1 30.9L21.8 32.3M18.6 33.1L21.3 33.3M23.0 30.4L23.1 31.3M40.2 2.8L39.0 3.8M39.4 1.3L39.0 1.2M39.0 1.2L37.5 3.2M39.0 3.8L37.5 3.2M39.1 5.4L39.0 3.8M41.7 -1.1L39.4 1.3M36.9 2.3L37.5 3.2M14.0 18.4L12.9 17.4M23.2 25.3L23.0 24.1M22.9 20.1L22.4 19.9M10.3 33.9L8.9 31.9M9.5 34.5L7.6 32.7M12.0 33.5L10.3 33.9M9.6 26.2L9.6 26.3M9.6 26.3L10.0 29.5M7.7 29.7L9.1 30.0M9.1 30.0L10.0 29.5M9.7 25.0L10.5 23.7M44.2 47.1L43.4 47.2M42.7 49.8L41.6 48.6M43.4 47.2L41.3 45.2M32.4 45.6L32.6 46.2M32.4 45.6L28.7 45.8M68.7 21.0L66.7 20.8M65.4 22.0L66.7 20.8M69.5 27.3L71.3 27.2M71.8 26.3L71.3 27.2M68.9 20.8L68.7 21.0M64.3 21.7L65.4 22.0M66.6 15.6L66.4 18.2M68.6 18.5L69.6 17.7M73.3 14.9L72.3 16.0M71.0 22.4L70.7 21.0M70.7 21.0L71.5 20.0M72.8 19.7L71.5 20.0M70.5 23.2L71.0 22.4M68.9 20.8L70.7 21.0M74.1 24.8L71.8 26.3M69.6 17.7L71.5 20.0M64.3 12.6L63.1 16.2M61.7 13.0L62.7 16.1M62.9 16.3L63.1 16.2M61.8 11.6L61.9 11.7M31.1 74.0L30.3 72.7M-0.1 64.7L-0.9 64.7M54.6 20.4L54.2 17.7M54.6 20.4L56.6 20.1M56.6 20.1L57.3 18.2M57.9 21.4L56.6 20.1M57.7 18.0L57.3 18.2M71.2 31.3L71.9 28.0M71.2 31.3L74.5 31.8M77.3 32.3L74.8 31.4M75.9 36.2L75.7 36.1M74.8 31.4L74.5 31.8M63.2 25.7L62.4 29.2M63.2 25.7L64.4 26.1M62.4 29.2L63.5 30.0M66.7 28.7L64.8 27.7M59.4 28.9L62.4 29.2M82.4 23.4L85.6 22.5M82.0 22.2L83.8 20.7M80.0 22.0L81.7 22.1M82.0 22.2L81.7 22.1M77.7 16.9L79.0 17.5M78.3 19.0L79.0 20.1M85.7 14.5L82.4 13.6M78.8 13.9L82.1 14.1M75.5 26.6L73.8 29.1M76.9 27.3L76.1 29.1M71.9 28.0L73.8 29.1M78.8 30.3L76.1 29.1M74.8 31.4L74.7 29.9M50.0 6.0L47.9 5.4M50.3 8.6L50.1 8.7M53.5 7.1L50.8 7.5M50.2 12.2L50.1 8.7M8.5 -0.0L8.7 -0.6M6.7 1.4L8.5 -0.0M70.9 35.4L73.3 35.7M73.8 36.1L72.2 38.1M70.5 35.2L70.9 35.4M70.8 38.7L71.6 38.4M75.7 36.1L73.8 36.1M73.8 40.8L71.8 38.4M88.4 48.7L86.4 49.2M32.1 55.8L31.4 56.8M31.4 56.8L32.4 57.5M32.4 57.5L32.7 57.5M29.9 56.8L31.4 56.8M29.9 56.8L30.9 54.2M30.9 54.0L34.1 54.0M34.1 54.0L34.5 54.4M37.6 53.2L36.0 51.0M27.2 45.5L24.1 46.7M30.3 53.2L28.0 54.0M-0.8 35.0L-1.8 36.0M-0.9 37.8L-1.8 36.0M4.9 43.4L3.7 43.9M4.9 43.4L5.5 45.1M3.7 43.9L3.4 45.5M3.4 45.5L5.0 45.8M2.5 46.0L3.4 45.5M5.4 47.4L5.0 45.8M63.2 37.3L62.0 37.3M62.1 34.3L63.6 34.7M63.4 31.4L64.6 33.5M66.3 36.3L64.2 34.6M10.2 21.6L7.5 22.1M7.5 22.1L6.8 23.7M6.2 24.0L6.8 23.7M23.2 20.4L27.0 21.6M27.0 23.0L27.1 21.7M27.1 21.7L27.0 21.6M23.0 24.1L23.9 23.1M39.0 47.0L41.0 45.8M41.6 48.6L41.5 48.6M89.4 24.7L86.9 24.8M89.1 22.9L88.3 22.2M86.6 25.0L86.9 24.8M85.9 21.9L87.6 20.6M87.7 20.3L88.8 19.4M81.3 19.1L81.5 18.6M81.5 18.6L79.7 17.2M82.1 14.1L82.2 15.3M79.8 16.6L79.7 17.2M86.6 16.8L85.6 17.6M86.6 16.8L85.6 14.9M35.5 36.0L35.3 35.2M34.2 37.9L33.8 38.1M29.4 34.1L32.1 36.2M31.1 38.5L32.9 37.8M37.5 39.4L34.2 37.9M31.9 42.7L33.6 38.1M35.1 41.5L33.8 38.1M23.7 48.3L24.2 49.0M27.4 53.2L25.2 52.9M29.4 47.8L26.5 49.1M27.2 45.5L26.4 49.1M24.2 49.0L26.0 49.3M26.4 49.1L26.0 49.3M26.2 50.3L27.7 51.9M30.3 53.2L30.3 52.7M31.4 51.4L30.3 52.7M29.0 50.3L28.7 51.3M17.1 69.6L17.1 69.0M13.0 70.5L14.3 68.3M17.1 69.0L16.5 68.1M16.0 61.0L15.3 60.6M-1.6 42.6L-2.1 41.6M61.8 34.0L58.5 35.9M59.1 32.9L57.9 33.6M59.1 32.9L60.7 32.2M57.6 34.3L57.9 33.6M58.2 29.6L59.1 32.9M59.3 29.1L60.7 32.2M55.9 34.0L57.6 34.3M8.6 19.0L10.3 21.3M8.6 16.4L9.1 16.9M6.8 19.6L6.3 20.7M5.2 17.8L5.3 17.9M-0.4 15.5L0.5 19.7M-2.9 18.4L-0.2 20.1M-0.2 20.1L0.5 19.7M2.4 18.8L0.9 19.7M38.6 50.0L40.2 49.9M41.5 48.6L41.0 48.8M36.4 48.8L38.0 49.3M40.7 51.2L40.2 49.9M81.9 18.4L84.0 18.6M84.0 18.6L84.3 18.4M82.2 15.3L82.2 15.3M85.6 14.9L84.1 16.2M30.8 50.5L29.4 50.0M30.0 47.9L29.6 47.9M29.4 47.8L29.6 47.9M32.6 46.2L30.0 47.9M14.3 68.3L13.8 67.1M10.8 65.5L12.4 66.1M16.8 65.6L17.5 65.1M14.2 63.8L14.5 64.4M4.6 20.4L6.2 20.7M4.6 20.4L4.1 22.4M6.2 24.0L5.0 22.5M3.4 22.6L3.0 24.2M-0.2 20.2L0.9 24.0M-2.6 24.9L-0.8 25.5M-0.2 20.1L-0.2 20.2M3.0 24.2L0.9 24.0"/><path stroke-opacity="0.75" d="M96.7 72.2L96.8 73.1M63.6 -2.2L63.2 -1.4M96.6 72.1L94.3 71.5M96.6 72.1L97.2 69.2M98.8 68.7L97.2 69.2M89.5 74.3L90.2 73.1M90.2 73.1L89.1 70.9M92.8 71.7L92.1 70.5M89.5 74.3L89.8 75.1M92.9 71.8L92.8 71.7M68.0 71.5L68.3 71.4M98.2 1.2L97.7 -1.0M97.7 -1.0L98.1 -1.8M91.0 67.7L91.4 65.7M92.8 66.0L94.6 67.7M94.3 71.5L94.9 67.8M97.2 69.2L95.7 67.7M74.8 66.2L74.4 65.2M81.8 62.5L81.4 63.0M77.3 60.9L77.0 61.2M73.1 58.7L69.2 58.8M73.9 56.3L73.6 56.6M73.6 56.6L73.1 58.7M76.4 67.5L78.9 69.7M79.8 66.7L81.4 68.2M83.7 71.3L83.8 69.2M80.2 73.9L79.4 72.8M78.1 71.4L78.9 69.7M78.1 71.4L78.7 72.3M73.0 68.7L73.2 70.8M78.1 71.4L77.6 71.3M74.8 66.2L74.6 67.2M70.7 62.6L69.5 63.7M69.3 63.9L68.8 65.9M69.8 72.6L72.8 71.8M69.8 72.6L68.3 71.4M72.8 71.8L73.2 70.8M78.7 72.3L76.0 74.1M59.6 72.7L59.2 75.8M59.6 72.7L61.7 75.2M61.8 75.2L61.7 72.3M63.5 73.3L61.7 72.3M54.6 63.8L55.4 64.1M53.6 64.7L52.8 67.1M56.2 64.7L57.0 66.7M57.5 60.9L56.9 61.2M56.2 64.7L58.9 62.7M60.7 61.4L59.0 62.7M42.4 73.5L44.6 72.2M44.6 72.2L44.8 71.4M40.8 74.5L37.9 73.8M39.7 71.2L41.4 72.6M43.0 70.2L42.6 69.3M45.0 40.1L45.0 40.3M48.7 39.9L48.6 39.9M48.0 4.8L51.1 2.9M48.1 0.6L51.0 0.9M58.5 -1.4L58.5 -1.2M60.9 -1.9L61.8 -1.0M61.8 -1.0L61.7 0.2M45.2 36.8L45.5 34.5M49.0 35.7L49.0 36.1M97.7 63.4L96.6 65.5M99.2 66.6L96.7 66.1M96.6 65.5L96.7 66.1M60.7 49.2L64.1 52.0M62.1 47.6L64.2 48.2M77.0 41.6L78.1 44.2M78.1 44.2L78.2 44.2M78.9 39.5L79.6 37.4M95.1 -2.0L93.5 -1.5M89.5 3.6L88.7 3.5M89.9 -0.4L92.7 0.3M99.5 3.2L94.5 4.7M93.2 -1.1L92.7 0.3M64.7 3.6L64.7 3.5M65.3 3.2L64.7 3.5M61.6 1.2L62.2 1.8M61.1 1.4L60.3 3.5M60.3 3.5L62.1 3.9M62.5 5.1L62.9 4.3M60.3 3.5L60.3 3.5M99.1 61.1L96.8 59.9M96.4 54.2L97.5 55.1M71.1 52.2L74.3 53.6M74.8 54.0L74.3 53.6M78.3 59.5L81.1 59.6M91.4 65.7L90.6 64.7M87.8 71.3L85.4 68.6M83.8 69.2L85.3 68.6M85.3 68.6L85.4 68.6M51.5 50.9L49.9 47.9M54.7 50.2L52.3 47.6M66.4 66.7L65.1 69.7M64.8 73.0L64.5 69.8M64.8 73.0L65.3 73.4M64.5 65.3L61.7 67.8M61.7 67.8L61.5 66.3M61.5 64.0L62.9 65.1M61.5 66.3L59.8 65.5M61.2 71.8L59.6 72.7M57.6 72.0L59.6 72.7M64.8 73.0L63.5 73.3M61.7 72.3L61.2 71.8M63.6 69.5L64.5 69.8M63.6 69.5L62.0 69.6M57.1 75.3L56.0 72.3M56.1 68.7L56.9 66.8M56.1 68.7L58.7 69.9M58.1 66.8L59.9 68.7M61.7 67.8L61.6 69.2M68.2 74.9L69.6 74.8M69.8 72.6L69.6 74.8M49.7 52.6L49.6 53.4M49.7 52.6L50.8 52.2M52.0 53.0L49.8 54.9M49.8 54.9L49.6 53.4M51.5 50.9L50.8 52.2M49.8 47.9L49.9 47.9M35.8 68.8L37.2 69.5M48.6 64.5L49.4 65.5M48.6 64.5L49.7 62.5M50.7 62.8L50.5 62.5M47.1 62.0L49.7 62.5M53.6 64.7L50.7 64.7M52.2 67.8L50.3 65.3M53.5 62.2L50.7 62.8M53.5 53.5L51.7 56.0M49.8 54.9L49.8 55.7M50.5 62.5L50.5 59.8M62.2 59.2L61.6 59.5M69.5 63.7L66.7 60.9M68.7 59.7L66.6 60.3M57.1 57.5L57.0 57.9M56.6 56.0L55.5 55.1M55.3 54.4L55.5 55.1M24.6 42.6L24.2 41.6M22.4 45.1L21.2 41.8M21.2 41.8L24.2 41.6M28.0 41.1L30.1 41.1M28.1 44.4L28.0 41.1M20.0 9.3L20.8 11.8M21.7 74.4L19.0 74.3M22.1 73.6L19.1 72.8M15.7 72.8L15.4 73.8M-1.2 59.2L-0.2 60.8M0.1 57.3L-1.2 59.2M-0.2 60.8L2.6 60.4M2.6 60.4L3.0 62.5M-0.2 49.5L-0.1 46.8M52.8 -1.6L54.5 -1.5M56.0 -0.4L54.4 2.3M51.1 0.8L54.1 2.4M51.1 2.9L51.8 4.3M54.1 2.4L53.1 4.9M46.2 -0.9L44.9 -2.9M37.3 0.7L38.0 0.4M38.0 0.4L38.1 -0.2M37.8 -2.3L38.1 -0.2M56.5 3.9L56.6 4.3M58.8 6.2L58.0 7.8M58.8 6.2L61.0 7.0M60.3 3.5L58.7 3.9M61.0 7.0L61.3 6.6M53.5 7.1L53.6 5.4M53.6 5.4L56.6 4.3M55.6 10.0L56.0 10.9M55.6 10.0L58.0 8.4M54.2 13.5L52.1 11.4M54.6 9.1L52.8 10.2M60.9 8.0L61.8 11.6M59.6 11.4L59.2 11.1M78.6 4.2L77.5 7.6M77.3 3.9L78.3 3.9M64.7 3.6L64.5 6.3M64.1 6.6L63.9 6.8M61.1 7.7L63.8 8.7M67.8 5.7L65.8 6.9M78.4 -1.1L76.9 0.0M78.4 -3.6L73.5 -0.2M79.2 1.7L76.9 0.0M85.5 -1.5L85.7 -1.8M79.8 1.3L80.9 1.3M73.5 -0.2L73.5 -0.2M64.5 6.3L65.8 6.9M65.9 -0.7L66.5 1.1M73.5 -0.2L72.0 0.3M71.4 -0.1L72.0 0.3M27.6 8.9L24.4 8.3M24.4 8.3L23.0 6.7M69.4 9.6L68.3 12.7M7.6 4.5L5.7 4.9M5.0 6.1L5.7 4.9M7.6 4.4L8.0 3.0M11.1 3.7L10.7 5.4M65.1 39.7L65.5 38.6M65.5 38.6L68.4 39.4M65.2 43.6L65.7 41.8M65.2 43.6L64.8 43.6M61.7 40.1L65.1 39.7M75.1 47.6L76.1 44.9M76.1 44.9L75.2 44.1M72.2 44.8L72.1 45.9M73.0 49.3L71.6 47.1M75.3 41.6L75.2 44.1M76.1 44.9L78.1 44.2M70.7 43.3L72.2 44.8M62.2 59.2L62.0 56.6M57.1 57.5L60.7 55.6M62.0 56.6L60.7 55.6M59.5 53.1L59.6 53.1M66.1 47.7L67.8 50.2M70.0 47.7L69.3 49.2M62.1 47.6L62.1 45.4M70.7 43.3L67.7 45.1M96.8 47.6L97.4 45.0M96.9 43.0L96.9 44.3M94.1 44.8L93.4 44.2M95.5 48.7L94.5 48.5M96.1 53.3L93.6 52.4M93.6 52.4L92.2 49.3M91.4 42.6L93.0 40.8M95.9 23.2L96.2 25.6M96.2 25.6L98.0 26.3M95.9 23.2L95.8 23.2M96.4 19.5L97.5 19.9M96.4 19.5L94.4 20.4M97.5 19.9L98.4 18.5M91.0 30.9L92.3 34.6M91.0 30.9L93.7 30.2M92.3 34.6L93.4 35.4M97.6 39.9L97.7 38.8M97.7 38.8L94.4 36.4M94.0 37.5L94.2 36.3M98.3 41.3L97.6 39.9M93.0 40.8L91.1 39.6M90.4 39.5L91.1 39.6M98.0 33.3L95.3 33.8M86.4 38.9L87.3 42.3M83.7 39.7L83.4 41.7M83.5 11.2L83.9 9.7M82.3 7.8L83.9 9.7M90.4 9.0L89.7 8.5M93.2 -1.1L91.8 -2.4M87.5 0.5L84.6 0.7M87.3 -1.7L87.5 0.5M82.2 -0.1L84.5 0.9M84.4 64.3L85.4 64.7M88.9 64.8L87.7 64.0M52.9 46.8L55.8 45.9M54.2 40.4L53.5 42.4M58.8 46.1L59.1 47.2M58.8 46.1L55.8 45.8M47.5 43.3L46.0 45.0M46.0 45.0L48.4 47.4M48.4 47.4L49.7 47.8M50.7 42.1L50.8 42.5M50.8 42.5L52.4 42.7M49.8 47.9L49.7 47.8M45.0 49.8L44.2 47.1M45.0 49.8L48.4 47.4M60.2 43.0L61.8 45.2M58.0 42.6L58.4 42.8M61.7 41.5L60.2 43.0M52.0 69.2L53.3 70.5M53.3 70.5L54.7 71.1M55.3 72.0L53.9 74.4M52.0 69.2L51.9 69.2M41.1 68.8L41.1 68.2M37.9 66.0L37.9 65.7M37.9 65.7L39.9 65.1M42.4 59.1L42.2 58.9M42.2 58.9L42.1 54.2M44.6 55.1L42.1 54.2M48.5 51.1L46.0 51.8M49.3 56.0L48.4 57.8M46.0 54.0L44.9 55.0M49.8 55.7L49.3 56.0M46.1 53.3L46.0 54.0M44.5 58.9L45.8 56.6M44.8 50.7L44.1 50.8M47.0 61.6L43.5 61.8M45.8 64.5L44.5 64.6M44.5 64.6L43.5 63.1M43.5 61.8L43.5 63.1M41.0 53.5L37.6 53.3M37.6 53.3L37.1 53.9M41.2 53.5L41.3 53.5M37.9 58.3L39.4 57.3M35.8 55.9L35.7 54.7M35.7 54.7L37.1 53.9M65.0 65.3L67.7 64.0M63.3 59.8L65.5 59.5M13.0 70.5L12.0 70.8M12.0 70.8L12.0 71.2M21.0 46.2L20.1 46.2M21.0 46.2L22.9 48.2M20.1 46.2L20.0 49.2M20.3 51.8L21.6 54.6M21.6 54.6L21.2 55.1M16.8 56.3L15.2 54.8M13.1 55.8L13.1 55.0M13.1 55.8L14.9 57.8M14.9 57.8L16.7 56.8M10.6 62.7L7.8 63.7M10.8 65.5L10.8 65.5M11.0 69.2L9.0 68.3M-0.6 33.0L2.3 31.7M-0.8 35.0L1.9 35.4M17.3 49.8L19.1 50.3M17.3 49.8L17.5 47.2M17.5 47.2L19.8 45.8M57.8 25.5L57.9 26.1M57.9 26.1L55.2 27.6M54.0 26.1L53.8 27.4M55.2 27.6L53.8 27.4M53.1 31.9L53.1 33.4M53.1 33.4L55.6 34.1M54.7 30.9L55.5 31.1M55.5 31.1L55.9 34.0M55.6 34.1L55.9 34.0M32.6 28.9L29.7 29.2M33.3 24.4L31.9 24.5M33.3 24.4L34.2 26.2M27.1 31.3L25.7 29.1M28.4 31.7L29.7 29.2M25.7 29.1L27.1 27.6M27.1 27.6L29.6 29.0M16.7 1.7L20.7 1.5M18.2 4.7L20.6 4.7M15.9 1.3L15.6 1.3M15.9 1.3L16.7 1.7M16.1 32.4L14.2 31.3M17.4 30.1L16.7 29.1M16.7 29.1L14.1 29.9M40.1 38.5L39.8 40.4M42.0 40.6L41.7 39.5M42.0 40.6L44.2 39.9M41.7 39.5L43.4 38.2M40.1 38.5L41.1 38.3M41.1 38.3L41.7 39.5M39.8 40.4L41.6 41.2M41.6 41.2L41.5 43.5M43.2 37.3L42.1 36.7M58.0 24.3L58.8 23.2M26.4 71.5L28.7 71.8M34.3 72.0L36.1 74.9M-1.8 72.8L-1.7 71.7M0.1 76.0L2.1 71.7M1.3 69.8L1.2 69.8M6.5 75.6L7.5 74.4M8.0 74.2L9.2 74.6M0.9 57.3L2.2 55.5M4.2 66.6L3.0 62.5M4.2 66.6L4.8 66.7M3.0 62.5L5.1 62.6M4.8 66.7L6.0 63.5M7.7 65.2L5.4 67.1M7.2 63.3L6.0 63.5M1.7 50.1L2.3 51.1M-2.2 54.0L-0.6 52.2M1.4 54.0L1.2 53.5M2.2 46.9L-0.1 46.8M2.9 48.5L1.7 50.1M33.3 -0.0L33.3 0.0M33.3 0.0L33.9 2.4M54.2 13.5L53.2 15.3M50.2 12.2L49.7 12.7M53.1 21.8L50.4 19.9M67.3 4.1L71.6 1.7M72.0 0.3L71.8 1.4M71.3 6.8L72.5 6.5M71.3 6.8L71.9 9.8M71.9 9.8L72.4 10.3M75.1 7.3L74.2 7.5M73.9 4.5L72.5 6.5M70.6 6.4L71.3 6.8M69.6 13.2L68.3 12.8M68.3 12.7L68.3 12.8M72.4 10.3L72.6 10.8M79.5 22.5L77.6 23.7M76.1 20.9L76.9 21.4M73.9 22.9L74.2 24.5M75.8 15.0L77.0 14.2M75.8 15.0L75.6 18.3M77.0 14.2L77.7 16.9M75.6 18.3L77.7 16.9M24.1 12.2L25.8 11.4M20.1 9.1L20.0 9.3M20.8 11.8L22.3 12.3M20.4 15.1L20.2 15.9M17.9 18.3L19.8 18.3M35.8 11.5L34.2 12.0M37.7 14.2L36.6 16.2M37.7 13.1L37.4 12.8M35.5 8.8L38.9 9.1M32.6 13.7L33.7 13.0M34.9 17.1L35.2 16.9M33.5 8.6L33.1 8.5M35.4 8.6L33.5 8.6M34.2 12.0L34.0 11.9M33.3 5.8L32.0 4.7M30.5 8.2L31.6 8.9M28.1 21.0L27.9 18.3M33.3 17.1L31.7 18.8M53.2 15.4L50.9 16.7M49.7 12.7L47.8 13.3M47.7 13.5L46.1 14.4M41.5 14.2L39.6 12.4M41.5 14.2L42.4 12.3M41.8 15.3L41.5 14.2M43.1 12.1L44.2 14.1M37.7 13.1L39.6 12.4M40.6 9.6L40.2 9.0M40.2 9.0L39.5 8.8M44.1 18.3L43.2 18.2M33.3 27.8L35.9 27.9M40.3 32.2L40.7 29.3M38.8 31.3L37.8 29.5M40.7 29.3L39.3 27.9M38.9 22.0L37.7 21.6M37.4 25.4L35.9 23.5M44.1 18.3L44.4 18.3M44.4 18.3L46.4 20.5M45.4 22.3L46.4 21.6M46.4 20.5L46.4 21.6M50.6 18.3L50.7 18.8M54.0 26.1L51.9 23.8M53.7 27.5L53.8 27.4M50.4 25.5L51.9 23.8M51.9 23.3L51.9 23.8M41.8 26.3L39.4 25.8M10.9 12.1L10.7 13.7M8.4 13.2L9.7 11.2M8.3 7.8L8.4 7.8M-0.4 15.5L2.0 13.5M2.7 13.7L2.8 13.7M0.6 3.8L-0.8 2.4M3.2 6.1L1.7 7.7M6.7 1.4L5.6 1.0M-1.7 2.5L-0.8 2.4M15.9 1.3L18.0 -0.9M22.2 -1.3L21.2 -0.9M64.1 52.0L64.2 52.2M62.0 56.6L63.8 55.2M97.7 29.6L98.3 31.7M95.4 30.2L95.8 31.0M95.8 31.0L98.0 32.5M98.0 29.2L97.7 29.6M94.4 29.7L95.4 30.2M98.0 33.3L98.0 32.5M87.6 38.4L87.5 38.4M88.5 36.5L88.5 34.8M87.7 34.0L86.5 33.9M89.3 40.1L87.6 38.4M83.3 38.1L85.4 36.1M86.4 38.9L87.5 38.4M84.7 39.8L83.7 39.7M89.0 31.5L86.1 30.2M86.5 33.9L85.4 32.8M86.1 27.5L85.6 27.9M82.1 25.2L80.9 25.9M82.2 29.3L83.6 29.4M82.7 35.0L82.7 34.9M82.7 34.9L82.3 33.2M83.3 38.1L82.7 35.0M79.6 37.4L79.4 37.0M75.5 38.8L75.5 39.3M91.0 26.3L89.7 28.1M91.0 26.2L94.4 28.3M96.2 25.6L95.0 26.4M97.5 27.6L94.8 27.9M95.5 17.9L98.3 16.4M95.5 17.9L95.5 17.8M96.1 15.0L98.3 16.4M87.6 13.6L89.5 12.6M86.5 12.1L86.8 13.3M86.8 13.3L87.6 13.6M91.9 15.7L92.9 13.7M93.6 17.9L94.2 20.4M94.2 20.4L92.6 21.0M94.5 4.7L94.5 4.8M82.5 4.3L83.6 4.4M84.6 3.3L83.6 4.4M77.5 7.6L78.5 8.5M90.6 64.7L90.6 64.7M96.8 59.9L95.6 60.8M95.6 60.8L95.2 62.1M90.6 64.7L89.4 59.6M86.6 60.8L88.9 59.7M89.4 59.6L88.9 59.7M83.5 53.9L84.8 54.5M87.9 56.1L87.3 56.9M77.4 53.4L79.4 52.3M79.4 52.3L80.2 53.4M82.4 54.4L80.2 53.4M48.5 68.6L48.1 68.9M34.6 67.4L34.2 65.4M44.5 64.6L43.4 66.0M43.5 63.1L41.1 63.9M41.2 53.5L40.7 51.2M40.7 51.2L42.7 49.8M14.6 58.7L14.8 60.3M11.4 58.3L11.4 58.3M10.6 62.5L13.0 60.3M9.8 54.3L11.6 53.5M9.8 54.3L11.4 58.3M11.0 69.2L11.4 69.7M11.8 70.7L11.4 69.7M1.3 69.8L4.8 69.6M2.1 71.7L4.7 71.5M1.3 69.8L3.5 66.7M9.4 65.8L7.4 68.3M7.5 38.9L7.5 37.5M9.8 40.6L9.4 42.0M10.8 43.2L12.7 42.6M7.5 38.9L5.9 40.2M9.4 42.0L9.3 42.1M8.9 44.3L7.3 44.6M7.3 44.6L7.0 42.8M7.2 42.5L7.0 42.8M12.9 35.0L14.2 35.4M12.9 35.0L12.2 36.0M11.9 39.5L13.7 39.2M14.2 35.4L13.7 39.2M16.1 32.4L14.6 35.3M14.2 31.3L12.1 32.7M22.4 45.1L21.0 46.2M19.0 42.9L20.4 41.5M27.1 27.6L27.3 26.1M27.3 26.1L26.8 25.3M30.6 23.8L27.0 23.1M8.5 48.9L9.3 46.7M9.3 46.7L7.5 46.1M5.4 47.4L6.2 47.5M51.8 30.6L48.7 30.9M51.9 30.9L50.0 32.7M48.5 31.4L48.7 30.9M53.7 27.5L54.7 30.9M49.0 35.7L50.6 34.5M48.1 31.5L48.5 31.4M50.6 34.5L50.0 32.7M53.0 33.5L54.5 36.5M50.6 34.5L51.6 34.5M58.3 39.5L58.0 40.4M58.3 39.5L54.2 37.7M55.2 27.6L57.8 29.8M59.5 27.8L59.4 28.9M57.8 29.8L58.2 29.6M19.7 29.2L20.1 27.9M17.3 32.2L18.5 33.0M20.1 30.9L18.5 33.0M21.5 26.8L21.2 27.5M33.3 5.8L36.0 5.8M33.9 2.5L36.0 5.0M43.2 2.1L41.9 3.1M41.8 6.0L41.7 5.8M17.9 7.5L20.9 5.1M21.0 5.4L20.9 5.1M20.1 9.1L19.1 7.7M24.3 2.2L21.2 2.3M17.4 20.2L17.9 18.3M13.9 18.6L14.0 18.4M13.4 11.9L14.0 10.8M14.0 10.8L17.3 11.2M5.3 14.0L5.5 14.4M14.1 25.6L14.3 26.7M14.8 27.2L16.9 27.3M17.6 26.5L16.9 27.3M17.6 26.5L17.6 25.7M14.1 29.9L14.0 29.6M14.0 29.6L14.8 27.2M20.1 24.6L19.6 24.5M17.5 21.8L17.2 25.1M12.2 24.0L14.9 24.3M12.2 24.0L14.2 22.0M14.9 24.3L14.6 22.3M14.2 22.0L14.6 22.3M17.4 20.2L17.9 21.4M12.9 20.0L14.2 22.0M5.1 35.5L6.6 34.0M8.8 35.8L6.6 34.0M12.1 32.7L12.1 32.7M12.1 32.7L10.8 29.7M14.0 29.6L12.5 28.9M12.5 28.9L12.4 27.5M-0.6 33.0L-2.4 31.9M2.3 31.7L-0.1 29.4M37.8 40.7L37.7 41.0M41.5 43.5L41.4 43.6M35.8 41.7L37.7 41.0M35.8 43.4L37.8 44.5M37.4 45.8L37.8 44.5M37.4 45.8L36.4 46.4M35.1 41.5L35.8 41.7M38.9 36.4L38.6 37.8M55.8 12.6L56.7 13.4M59.6 11.4L58.6 13.3M56.7 13.4L58.6 13.3M66.6 15.6L65.6 15.3M62.0 21.6L60.9 20.2M60.6 18.8L60.9 20.2M32.9 68.8L31.7 68.4M27.6 68.4L30.1 70.8M30.1 71.1L30.1 71.2M3.0 62.5L3.0 62.5M28.7 4.9L27.7 4.4M27.5 2.8L29.9 1.6M30.3 0.9L29.8 0.3M26.5 -3.1L26.1 -0.4M28.9 -2.8L29.8 0.3M24.3 2.2L25.5 1.2M27.7 4.4L27.5 2.8M53.2 15.4L54.2 16.5M56.7 13.4L57.0 15.5M54.2 16.5L57.0 15.5M59.5 15.1L59.4 15.3M57.0 15.5L57.5 15.8M78.3 9.0L75.6 9.4M72.5 11.2L73.2 12.5M76.8 13.1L76.5 11.6M79.7 11.2L78.4 13.6M79.7 11.2L78.4 9.4M75.1 7.3L75.6 9.4M68.8 27.1L66.7 28.7M76.9 21.4L78.9 20.5M79.5 22.5L80.0 22.0M80.0 22.0L78.9 20.5M91.9 15.7L92.7 17.8M89.1 19.1L90.9 19.4M89.1 19.1L89.1 19.1M89.1 19.1L89.1 18.7M89.1 18.7L86.6 16.8M81.0 27.5L79.0 29.1M78.6 25.7L77.7 27.0M77.7 27.0L79.0 29.1M80.8 30.7L78.9 30.2M79.0 29.1L78.9 30.2M31.1 12.4L29.4 13.7M29.4 13.7L28.5 13.3M25.8 11.4L28.5 13.3M31.7 10.5L31.1 11.4M32.6 13.7L31.1 12.4M23.9 12.7L26.5 15.5M23.8 12.4L23.9 12.7M25.5 18.6L25.7 18.7M25.5 18.6L25.3 17.0M45.7 5.1L45.0 7.0M43.5 9.2L45.5 8.3M47.1 9.4L45.5 8.3M43.2 7.4L43.5 9.2M42.5 17.5L39.6 18.4M40.4 15.7L41.6 15.6M40.4 15.7L39.1 17.3M43.2 18.2L42.5 17.5M37.7 14.2L40.4 15.7M39.7 20.4L36.7 19.9M40.0 20.1L39.5 18.9M42.1 22.5L39.9 23.9M37.7 21.6L36.7 19.9M39.6 18.4L39.5 18.9M38.0 17.0L38.0 19.0M34.9 17.1L35.9 19.6M35.9 19.6L36.7 19.8M35.9 19.6L35.0 20.7M34.7 23.0L34.5 22.3M28.4 20.9L31.1 21.8M45.6 25.2L43.6 24.7M46.2 24.5L45.6 25.2M41.8 26.3L42.6 26.0M45.6 28.2L42.6 28.1M45.6 28.2L45.7 28.0M47.8 27.7L45.8 27.9M46.2 24.5L47.9 24.3M45.4 30.8L45.3 30.2M45.6 28.2L45.3 30.2M41.9 29.2L42.6 29.9M41.0 33.5L41.2 33.6M48.1 31.5L45.4 30.8M37.9 33.8L37.1 35.5M38.9 36.4L37.1 35.5M6.4 11.9L4.4 9.6M9.4 10.5L9.7 11.2M5.3 14.0L2.8 13.7M6.5 8.1L6.3 8.3M1.7 7.7L1.7 8.1M11.1 3.7L14.3 4.6M14.0 10.8L13.8 10.1M-0.9 6.4L-2.5 7.3M-1.7 2.5L-2.1 3.0M0.9 -0.0L2.3 -2.4M5.6 1.0L6.7 -2.7M69.6 33.0L69.9 33.3M69.9 33.3L70.5 35.2M67.9 54.9L67.2 57.3M67.2 57.3L66.2 58.0M70.1 55.6L67.9 54.9M69.0 58.2L67.2 57.3M65.5 59.5L66.2 58.0M82.5 47.0L82.8 47.0M91.5 45.3L90.9 47.4M89.1 46.3L88.7 44.8M91.5 49.2L90.9 47.4M92.5 21.7L91.6 22.6M92.5 21.7L94.4 23.6M93.5 24.8L91.8 25.4M90.7 22.6L91.6 22.6M92.6 21.0L92.5 21.7M91.0 26.3L89.7 25.0M96.1 15.0L94.9 13.4M94.4 13.4L94.9 13.4M94.4 13.4L93.7 13.2M92.7 8.5L93.3 10.8M93.2 7.8L95.7 8.1M94.7 57.7L93.8 59.0M94.7 57.7L92.9 55.7M90.8 58.9L90.9 56.8M96.4 54.2L92.9 55.7M89.4 59.6L90.8 58.9M92.4 54.0L92.5 55.6M47.5 68.8L45.7 67.5M45.7 67.5L44.4 67.9M48.1 68.9L47.5 68.8M43.4 66.0L44.4 67.9M45.1 75.8L45.6 73.4M52.1 75.1L49.5 74.2M51.6 72.3L50.0 73.0M53.3 70.5L51.6 72.3M49.4 71.6L50.0 73.0M48.7 74.8L47.4 73.2M34.5 62.1L35.6 63.4M35.6 63.4L33.8 65.0M34.9 59.4L32.4 60.6M32.4 60.6L32.5 61.9M32.5 61.9L32.9 62.5M36.9 62.6L35.6 63.4M34.2 65.4L33.8 65.0M29.9 65.0L31.6 65.9M31.3 67.2L27.7 67.9M27.6 66.4L27.7 67.9M29.9 63.1L29.9 65.0M33.4 64.9L31.6 65.9M27.8 65.1L28.0 65.6M27.6 68.4L27.7 67.9M29.6 62.9L27.7 63.7M29.2 62.2L27.0 62.7M27.7 63.7L27.0 62.7M32.4 60.6L32.1 60.3M32.1 60.3L29.9 59.6M29.0 61.0L29.2 62.2M27.0 61.1L26.1 62.2M33.2 51.6L33.0 51.4M33.0 51.4L33.3 49.1M36.0 51.0L34.8 51.0M36.4 48.8L36.1 46.8M36.1 46.8L33.2 46.9M26.1 44.2L27.6 45.0M23.2 70.3L22.1 69.7M22.9 67.7L22.1 69.7M19.1 72.8L18.9 71.7M22.0 69.9L18.9 71.7M14.8 71.1L17.1 69.6M16.7 56.8L17.6 57.9M24.9 55.5L23.8 56.7M21.8 54.6L21.6 54.6M23.8 57.0L22.4 59.0M18.4 59.3L18.1 58.2M26.7 58.2L25.0 59.6M26.7 58.2L26.6 58.0M26.6 58.0L23.8 57.0M24.9 55.5L26.5 57.1M26.6 58.0L26.6 57.5M8.1 56.8L8.3 54.5M4.5 59.0L4.8 58.2M3.6 54.0L5.7 53.8M9.8 54.3L8.3 54.5M8.9 58.6L8.1 56.8M11.3 50.4L9.3 49.8M5.6 51.5L6.5 53.4M5.8 61.5L4.6 59.0M7.2 63.3L7.2 61.4M4.5 59.0L4.6 59.0M10.6 62.5L10.6 62.5M10.6 62.7L10.6 62.5M14.0 46.2L13.5 46.5M14.0 46.2L16.8 49.9M16.3 50.3L16.8 49.9M17.3 49.8L16.8 49.9M10.9 44.3L9.7 45.3M9.6 46.5L9.7 45.3M7.0 45.0L7.5 46.1M1.4 44.2L1.7 42.8M-1.8 43.2L-1.6 42.6M-1.6 42.6L1.5 42.1M17.7 43.3L18.0 43.1M14.6 39.5L15.2 40.1M16.5 45.9L17.7 43.3M18.9 39.1L20.2 40.8M14.7 35.4L16.0 37.5M14.7 35.4L17.6 35.4M16.0 37.5L17.3 37.5M14.6 35.3L14.7 35.4M20.0 36.2L18.9 39.0M18.9 39.0L17.3 37.5M21.7 38.8L23.1 37.6M20.0 36.2L20.1 36.2M21.6 35.3L24.9 36.9M61.7 40.1L60.3 38.5M59.5 38.4L58.5 35.9M21.8 32.3L23.1 31.3M21.7 33.8L24.6 34.0M21.7 33.8L21.3 33.3M24.7 33.1L24.6 34.0M21.6 35.3L21.7 33.8M29.1 34.5L29.4 34.1M29.4 34.1L29.5 33.3M40.2 2.8L39.4 1.3M41.9 3.1L40.2 2.8M11.1 16.2L11.7 15.0M12.9 17.4L12.7 14.7M11.7 15.0L12.7 14.7M10.7 13.7L11.7 15.0M23.0 24.1L21.8 23.5M19.1 21.4L20.5 21.0M22.4 19.9L21.0 20.4M21.0 20.4L20.5 21.0M3.0 31.6L3.7 30.5M3.0 31.6L6.7 33.1M2.7 31.8L3.0 31.6M6.6 34.0L6.7 33.1M8.9 31.9L7.6 32.7M9.1 31.4L8.9 31.9M9.0 35.5L9.5 34.5M7.1 32.7L7.6 32.7M7.4 26.9L6.9 28.5M7.4 26.9L9.6 26.2M6.9 28.5L7.7 29.7M11.7 26.8L9.6 26.3M4.1 29.1L3.7 30.5M6.8 30.9L7.7 29.7M9.1 31.4L9.1 30.0M6.1 25.8L4.1 27.1M4.1 29.1L3.7 28.0M3.7 28.0L4.1 27.1M43.4 47.2L41.6 48.6M41.4 43.6L41.3 45.2M36.1 46.8L36.4 46.4M33.2 46.9L32.6 46.2M27.8 44.9L28.7 45.8M67.2 24.4L68.3 23.4M67.2 24.4L65.4 22.0M67.1 25.0L68.8 27.1M70.5 23.2L71.8 26.3M68.6 18.5L68.9 20.8M68.6 18.5L66.7 18.4M66.7 18.4L66.7 20.8M65.7 18.3L66.4 18.2M66.7 18.4L66.4 18.2M66.6 15.5L69.9 16.8M68.0 13.0L68.3 12.8M69.9 16.8L70.8 15.9M69.9 16.8L69.6 17.7M75.3 18.7L75.6 18.3M71.0 22.4L73.8 22.8M73.9 22.9L73.8 22.8M74.2 24.5L74.1 24.8M75.5 18.9L75.3 18.7M62.7 16.1L62.9 16.3M64.8 12.9L64.3 12.6M59.6 14.6L61.7 13.0M62.8 17.1L62.9 16.3M28.4 75.2L30.3 72.7M32.1 74.7L31.1 74.0M30.1 71.2L30.3 72.7M1.2 69.8L-0.5 68.4M-0.9 64.7L-2.4 67.5M57.3 18.2L54.3 17.3M54.2 16.5L54.3 17.3M71.3 27.2L71.9 28.0M69.9 33.3L72.7 33.4M74.2 32.5L74.5 31.8M66.0 30.8L63.8 30.7M63.8 30.7L63.5 30.0M67.1 25.0L64.4 26.1M85.6 22.5L86.1 24.4M85.9 21.9L85.6 22.5M75.5 18.9L78.3 19.0M78.9 20.5L79.0 20.1M81.7 22.1L81.3 19.1M78.4 13.6L78.8 13.9M82.4 13.6L82.1 14.1M76.1 29.1L74.7 29.9M47.9 5.4L47.6 8.9M50.8 7.5L50.3 8.6M51.8 4.3L50.0 6.0M47.8 5.3L47.9 5.4M36.0 32.8L33.1 32.8M12.4 -1.1L8.7 -0.6M12.4 -1.4L12.4 -1.1M8.1 -2.6L8.7 -0.6M72.2 38.1L71.8 38.4M71.8 38.4L71.6 38.4M75.5 38.8L72.2 38.1M87.8 46.8L88.4 48.7M86.4 49.2L85.8 48.8M91.4 49.3L88.4 48.7M85.0 48.6L85.8 48.8M87.8 52.7L86.4 49.2M32.1 55.8L34.5 54.4M34.6 54.4L34.5 54.4M34.6 54.4L32.7 57.5M30.9 54.0L30.9 54.2M37.6 53.3L37.6 53.2M34.1 54.0L33.2 51.6M29.8 56.8L29.9 56.8M32.1 60.3L32.4 57.5M23.7 45.7L24.1 46.7M22.9 48.2L23.7 48.3M28.0 54.3L28.0 54.0M5.0 45.8L5.5 45.1M7.0 45.0L5.5 45.1M64.2 34.6L63.6 34.7M9.7 25.0L6.8 23.7M10.5 23.7L10.2 21.6M5.9 24.6L6.2 24.0M25.7 18.7L27.0 21.6M27.0 23.1L27.0 23.0M3.7 28.0L2.9 27.7M0.8 28.2L2.9 27.7M5.9 24.6L3.2 24.5M4.1 27.1L3.2 24.7M3.2 24.5L3.2 24.7M3.2 24.7L1.8 26.2M0.8 28.2L0.5 26.0M89.4 24.7L89.1 22.9M86.9 24.8L88.3 22.2M90.6 22.5L89.1 22.9M87.6 20.6L88.3 22.2M87.7 20.3L87.6 20.6M88.8 19.4L85.6 17.6M86.6 16.8L86.6 16.8M85.7 14.5L85.6 14.9M87.7 20.3L84.4 18.4M85.6 17.6L84.4 18.4M33.4 33.9L35.3 35.2M32.1 36.2L32.9 37.8M35.4 36.3L34.2 37.9M32.9 37.8L33.6 38.1M38.6 37.8L35.4 36.3M24.4 53.3L24.5 53.3M23.2 50.9L24.5 53.3M26.0 49.3L26.2 50.3M33.0 51.4L31.4 51.4M30.3 52.7L28.7 51.3M26.5 49.1L29.0 50.3M22.1 69.7L19.2 68.2M19.2 68.2L17.1 69.0M10.8 63.0L13.7 63.2M13.7 63.2L15.0 60.5M20.0 61.2L16.6 61.7M18.4 59.3L16.0 61.0M16.6 61.7L16.0 61.0M17.6 57.9L15.3 60.6M-0.6 39.3L-2.1 41.6M1.7 40.4L-0.6 39.3M61.8 34.0L61.6 32.8M60.7 32.2L61.6 32.8M58.5 35.9L57.6 34.3M63.4 31.4L61.6 32.8M58.5 35.9L58.5 35.9M57.4 30.3L57.9 33.6M12.8 20.0L9.5 16.9M12.8 20.0L10.3 21.3M12.9 20.0L12.8 20.0M8.6 19.0L6.8 19.6M2.7 13.7L2.7 18.4M2.7 18.4L5.2 17.8M2.4 18.8L2.7 18.4M39.2 47.5L41.0 48.8M39.2 47.5L38.0 49.3M38.6 50.0L38.0 49.3M39.0 47.0L39.2 47.5M37.6 53.2L38.6 50.0M81.9 18.4L82.2 15.3M82.2 15.3L84.1 16.2M81.5 18.6L81.9 18.4M83.8 20.7L84.0 18.6M30.8 50.5L31.3 49.1M31.3 49.1L30.0 47.9M31.4 51.4L30.8 50.5M33.1 48.7L31.3 49.1M11.4 69.7L12.8 66.7M13.8 67.1L12.8 66.7M16.8 65.6L15.7 65.4M15.7 65.4L14.5 64.4M17.5 64.5L17.5 65.1M19.1 65.6L17.5 65.1M16.5 68.1L16.8 65.6M13.8 67.1L15.7 65.4M13.7 63.2L14.2 63.8M16.6 61.7L16.7 62.5M20.3 61.3L17.5 64.5M4.1 22.4L5.0 22.5M6.3 20.7L6.2 20.7M2.4 18.8L4.6 20.4M3.4 22.6L0.9 19.7M3.4 22.6L4.1 22.4M-2.6 22.5L-0.2 20.2M-0.8 25.5L-0.1 25.5M0.5 26.0L-0.1 25.5M-1.1 29.3L-0.8 25.5"/><path stroke-opacity="1.0" d="M65.9 -0.7L64.1 -0.1M64.1 -0.1L63.2 -1.4M89.5 74.3L86.9 73.5M87.8 71.3L89.1 70.9M92.1 70.5L89.4 70.4M89.1 70.9L89.4 70.4M92.1 69.8L91.0 67.7M89.4 70.4L89.0 69.0M68.3 71.4L70.0 69.0M67.9 68.3L67.4 66.9M95.7 67.7L94.9 67.8M74.8 66.2L78.4 63.8M79.4 64.1L81.4 63.0M73.3 59.9L73.1 58.7M69.2 58.8L68.7 59.7M73.9 56.3L77.6 57.9M74.4 65.2L70.7 62.6M76.4 67.5L79.8 66.7M78.9 69.7L81.4 68.2M79.4 64.1L79.8 66.7M81.4 63.0L82.7 66.6M81.8 68.3L81.4 68.2M83.7 71.3L80.2 73.9M73.5 68.0L73.0 68.7M76.4 67.5L75.2 67.4M69.5 63.8L69.5 63.7M73.4 74.7L75.9 74.3M73.4 74.7L72.8 71.8M76.0 74.1L75.9 74.3M76.0 74.1L76.0 71.8M62.6 75.6L63.5 73.3M53.5 62.2L53.7 61.1M55.4 64.1L56.2 64.7M56.9 66.8L57.0 66.7M56.9 66.8L52.8 67.1M61.5 64.0L61.7 63.5M61.5 64.0L60.1 64.5M60.1 64.5L59.0 62.7M58.0 59.1L57.5 60.9M40.5 69.1L38.5 68.1M42.4 73.5L41.7 73.3M43.0 70.2L44.8 71.4M41.4 72.6L41.7 73.3M40.8 74.5L41.7 73.3M37.9 73.8L38.4 71.5M40.5 69.1L41.1 68.8M50.7 42.1L48.7 39.9M48.6 39.9L46.8 41.4M50.5 38.0L49.0 36.1M49.0 36.1L47.1 38.2M44.3 75.9L42.4 73.5M24.3 73.9L22.1 73.6M48.0 4.8L48.1 0.6M51.1 2.9L51.0 0.9M48.1 0.6L47.2 0.0M51.0 0.9L51.1 0.8M47.2 0.0L49.1 -2.7M58.5 -1.4L59.2 -1.7M58.5 -1.2L61.7 0.2M59.2 -1.7L60.9 -1.9M63.2 -1.4L61.8 -1.0M49.0 35.7L47.4 34.6M95.7 67.7L96.7 66.1M60.7 49.2L60.9 48.7M64.1 52.0L64.2 48.2M75.3 41.6L74.9 40.9M77.0 41.6L79.2 41.1M78.9 39.5L75.5 39.3M74.9 40.9L75.5 39.3M78.2 44.2L79.8 42.5M79.8 42.5L79.4 41.3M79.4 41.3L83.4 39.5M83.4 39.5L83.1 38.7M83.1 38.7L79.6 37.4M97.7 -1.0L95.1 -2.0M89.5 3.6L92.7 1.5M88.7 3.5L88.5 2.5M88.5 2.5L89.9 -0.4M92.7 1.5L92.9 0.9M92.9 0.9L92.7 0.3M98.2 1.2L92.9 0.9M62.2 1.8L62.1 3.9M62.5 5.1L61.4 6.6M61.3 6.6L61.4 6.6M97.5 55.1L95.7 57.6M96.8 59.9L96.8 59.6M97.5 50.7L96.8 50.7M69.0 58.2L69.2 58.8M69.0 58.2L70.1 55.6M71.1 52.2L70.8 52.3M70.2 55.6L70.8 52.3M81.1 59.6L82.2 62.0M89.0 69.0L87.0 68.0M90.6 64.7L88.9 64.8M87.0 68.0L85.4 68.6M85.7 73.8L83.7 71.3M81.1 75.6L80.2 74.1M80.2 74.1L77.3 75.5M80.2 73.9L80.2 74.1M60.7 49.2L59.0 51.0M58.7 51.6L59.0 51.0M58.7 51.6L54.8 50.6M57.1 48.0L56.3 47.7M54.2 51.3L51.5 50.9M58.7 51.6L58.8 51.8M67.4 66.9L66.4 66.7M68.0 71.5L67.1 72.7M65.1 69.7L64.5 69.8M62.9 65.1L64.5 65.2M60.1 64.5L59.8 65.5M57.0 66.7L58.1 66.8M61.2 71.8L62.0 69.6M57.6 72.0L58.7 69.9M62.0 69.6L61.6 69.2M59.6 72.7L59.6 72.7M56.0 72.3L57.6 72.0M63.6 69.5L64.5 65.3M67.1 72.7L68.2 74.9M48.5 51.1L49.8 47.9M53.8 53.4L53.5 53.5M35.8 68.8L35.7 68.4M38.5 68.1L37.9 66.0M50.3 65.3L50.7 64.7M50.7 64.7L50.7 62.8M49.7 62.5L50.5 62.5M46.9 63.3L48.6 64.5M48.5 66.6L49.4 65.5M48.5 66.6L46.5 65.9M49.8 55.7L51.7 56.0M53.7 61.1L51.7 59.5M51.7 59.5L50.5 59.8M47.0 61.6L47.1 62.0M50.5 59.8L48.4 58.8M47.2 59.9L48.4 58.8M62.2 59.2L63.3 59.8M66.7 60.9L66.6 60.3M57.1 57.5L56.6 56.0M55.5 55.1L53.2 57.2M58.8 51.8L59.5 53.1M59.5 53.1L56.6 56.0M52.7 57.1L53.2 57.2M52.7 57.1L51.7 59.5M34.2 70.7L32.9 68.8M24.7 73.5L23.2 70.3M26.4 71.5L25.9 73.0M23.2 70.3L26.1 70.8M23.5 45.4L24.6 42.6M23.5 45.4L22.4 45.1M30.0 38.2L29.1 34.5M30.0 38.2L26.3 39.0M30.0 38.2L31.1 38.5M26.3 39.4L28.0 41.1M32.0 42.9L28.1 44.4M32.0 42.9L31.9 42.7M17.7 9.8L17.3 11.2M17.7 9.8L20.0 9.3M15.7 72.8L17.5 72.2M15.4 73.8L17.1 74.8M17.1 74.8L17.5 72.2M-2.4 62.1L-0.5 61.3M-2.0 55.4L0.1 57.3M0.4 63.9L3.0 62.5M-2.0 46.7L-0.5 46.5M-0.5 46.5L-0.1 46.8M54.4 2.3L54.1 2.4M46.2 -0.9L46.8 -0.4M41.9 -1.7L46.2 -0.9M41.7 -1.6L41.6 -1.2M41.7 -1.1L43.2 2.1M35.4 0.0L37.3 0.7M33.2 -1.7L33.3 -0.0M57.8 4.6L57.1 4.5M57.8 4.6L58.7 3.9M58.7 3.9L58.2 0.0M57.1 4.5L56.6 4.3M56.8 -0.2L57.9 -0.4M57.9 -0.4L58.2 0.0M58.8 6.2L57.8 4.6M61.1 1.4L58.2 0.0M56.4 6.8L54.5 8.5M54.5 8.5L53.5 7.1M56.0 -0.4L56.8 -0.2M58.5 -1.2L57.9 -0.4M54.4 2.3L56.5 3.9M54.6 9.1L55.6 10.0M52.1 11.4L52.8 10.2M60.9 8.0L59.1 9.0M61.1 7.7L61.0 7.0M77.5 7.6L75.7 6.6M77.3 3.9L75.7 5.3M64.5 6.3L64.1 6.6M63.9 6.8L63.8 8.7M68.8 6.7L67.8 5.7M79.2 1.7L79.8 1.3M79.8 1.3L79.5 -0.4M77.3 3.9L74.4 0.2M85.5 -1.5L81.8 -1.7M81.8 -1.7L81.5 -2.2M80.9 1.3L82.2 -0.1M79.5 -0.4L81.5 -2.2M82.2 -0.1L81.8 -1.7M65.3 3.2L65.6 3.1M65.6 3.1L66.5 1.1M66.5 1.1L71.4 -0.1M55.1 23.7L54.7 25.2M65.9 9.6L65.8 9.8M68.3 12.7L65.8 9.8M63.8 8.7L64.6 10.0M64.6 10.0L65.8 9.8M7.6 4.5L8.3 7.8M5.0 6.1L6.5 8.1M8.3 7.8L6.5 8.1M7.6 4.4L10.7 5.4M8.0 3.0L10.7 2.8M65.7 41.8L68.4 41.2M61.7 40.1L61.7 41.5M74.3 53.6L72.8 49.6M75.2 48.7L73.0 49.3M71.1 52.2L71.7 50.2M72.8 49.6L71.7 50.2M75.1 47.6L72.1 45.9M71.6 47.1L72.1 45.9M65.2 43.6L66.7 45.2M64.2 48.2L66.1 47.7M64.8 43.6L62.1 45.4M70.7 42.6L70.4 42.2M71.7 50.2L69.3 49.2M81.8 51.3L82.5 47.0M80.7 47.1L78.8 48.1M82.5 47.0L82.3 46.9M76.1 44.9L78.8 48.1M78.2 44.2L80.7 47.1M81.0 43.2L82.3 46.9M96.8 50.7L95.5 48.7M97.4 45.0L96.9 44.3M96.9 44.3L94.1 44.8M94.4 41.7L93.4 44.2M91.4 42.6L92.5 44.3M92.5 44.3L93.4 44.2M95.9 23.2L97.5 22.6M97.5 27.6L98.0 29.2M95.8 23.2L94.4 20.4M93.6 35.5L93.4 35.4M93.6 35.5L94.4 34.5M94.4 36.4L94.2 36.3M91.1 37.2L90.4 39.5M93.6 35.5L94.2 36.3M94.4 34.5L95.3 33.8M86.4 38.9L84.7 39.8M83.4 39.5L83.7 39.7M89.5 3.6L91.4 5.8M86.5 12.1L83.5 11.2M87.3 10.4L87.2 9.7M86.1 7.4L87.2 6.0M87.3 -1.7L85.7 -1.8M78.6 4.2L79.4 4.7M81.6 2.3L81.5 3.7M81.6 2.3L80.9 1.3M81.5 3.7L79.4 4.7M87.8 1.7L87.5 0.5M84.5 0.9L84.6 0.7M84.3 2.3L84.6 3.3M84.3 2.3L84.5 1.1M81.6 2.3L84.3 2.3M87.7 64.0L85.4 64.7M87.7 64.0L86.6 60.8M83.1 62.1L84.4 64.3M81.1 59.6L81.8 57.9M81.8 57.9L85.1 58.4M82.7 66.6L84.4 64.3M55.9 43.8L55.8 45.8M55.8 45.8L55.8 45.9M58.0 42.6L58.0 40.4M44.1 43.7L45.0 40.3M45.8 45.0L46.0 45.0M46.8 41.4L47.5 43.3M59.0 45.7L61.8 45.2M58.8 46.1L59.0 45.7M62.1 45.4L61.8 45.2M54.7 71.1L55.3 72.0M48.5 68.6L51.9 69.2M41.1 68.2L39.9 65.1M34.9 59.4L37.4 60.7M34.9 59.4L34.7 58.0M37.9 58.3L35.8 55.9M42.7 59.0L44.6 55.1M42.7 59.0L42.4 59.1M46.1 53.3L46.0 51.8M46.0 51.8L44.8 50.7M49.3 56.0L46.0 54.0M45.8 56.6L44.9 55.0M48.4 58.8L48.4 57.8M47.2 59.9L44.5 58.9M42.7 59.0L44.5 58.9M42.1 54.2L41.3 53.5M41.3 53.5L44.1 50.8M42.4 59.1L42.2 59.8M43.5 61.8L42.2 59.8M41.0 53.5L39.9 57.3M39.9 57.3L39.4 57.3M42.2 58.9L39.9 57.3M41.2 53.5L41.0 53.5M38.3 61.0L41.2 60.5M64.5 63.6L66.1 62.6M67.7 64.0L66.1 62.6M63.6 62.2L64.5 63.6M65.5 59.5L66.6 60.3M66.7 60.9L66.1 62.6M64.5 65.2L64.6 65.2M66.4 66.7L65.0 65.3M14.8 71.1L13.0 70.5M14.8 71.1L15.7 72.8M15.4 73.8L15.2 74.0M20.3 51.8L19.9 51.5M18.0 53.9L18.2 55.1M21.4 58.6L21.2 55.1M19.2 57.7L19.8 55.5M13.1 55.0L15.2 54.8M11.7 53.1L11.6 53.5M11.7 53.1L15.8 51.5M16.8 56.3L16.7 56.8M10.6 62.7L10.8 63.0M7.7 65.2L7.8 63.7M2.7 31.8L2.3 31.7M-0.6 33.0L-0.8 35.0M29.7 26.6L29.6 29.0M33.3 27.8L34.2 26.2M33.3 27.8L32.7 28.4M27.1 31.3L28.4 31.7M16.7 1.7L18.2 4.7M21.2 2.3L20.7 1.5M15.4 1.3L15.6 1.3M16.1 32.4L17.3 32.2M14.2 31.3L14.1 29.9M38.8 31.3L36.4 32.6M40.1 38.5L38.6 37.9M37.8 40.7L37.5 39.4M38.6 37.9L37.5 39.4M41.6 41.2L42.0 40.6M45.0 40.1L44.2 39.9M41.1 38.3L42.1 36.7M45.2 36.8L43.2 37.3M54.8 22.8L55.1 23.7M54.8 22.8L58.0 22.1M58.8 23.2L58.0 22.1M34.2 70.7L34.2 71.9M34.2 71.9L34.3 72.0M-1.7 71.7L1.2 69.8M1.3 69.8L1.3 69.8M1.3 69.8L2.1 71.7M8.0 74.2L8.3 71.3M8.3 71.3L11.8 70.7M13.6 73.8L12.4 75.3M0.1 57.3L0.9 57.3M2.6 60.4L2.9 59.6M2.9 59.6L0.9 57.3M2.3 54.7L1.4 54.0M2.3 54.7L2.2 55.5M-2.0 55.3L1.4 54.0M0.3 50.1L-0.6 51.5M3.6 54.0L2.5 51.2M-0.2 49.5L0.3 50.1M2.5 51.2L5.6 51.5M5.6 51.5L5.6 50.8M5.6 50.8L3.9 48.5M50.2 12.2L52.1 11.4M53.2 15.3L49.7 12.7M48.0 17.6L50.6 18.3M50.9 16.7L48.3 14.7M53.1 21.8L53.8 21.6M50.4 19.9L50.7 18.8M71.8 1.4L71.6 1.7M74.2 7.5L72.4 10.3M74.2 7.5L72.5 6.5M69.6 13.2L72.5 11.2M72.5 11.2L72.6 10.8M80.7 25.8L78.6 25.7M78.6 25.7L77.5 24.0M76.1 20.9L73.9 22.9M73.3 14.9L75.8 15.0M77.3 13.7L77.0 14.2M27.6 8.9L27.7 9.0M27.7 9.0L27.7 9.0M24.4 8.3L24.1 12.2M24.1 12.2L23.8 12.4M17.9 12.4L16.6 15.4M16.6 15.4L16.6 15.4M16.6 15.4L17.9 18.3M19.8 18.3L20.3 16.1M37.4 12.8L37.0 12.2M37.0 12.2L35.8 11.5M37.7 14.2L37.7 13.1M36.6 16.2L35.2 16.9M35.2 16.9L34.7 14.2M35.5 8.8L35.8 11.5M32.6 13.7L32.1 15.5M33.3 17.1L32.1 15.5M33.3 17.1L34.9 17.1M34.0 11.9L33.5 8.6M31.7 10.5L31.6 8.9M35.4 8.6L35.5 8.8M33.3 5.8L33.1 8.5M28.4 20.9L30.6 18.7M30.6 18.7L28.7 17.2M32.1 15.5L30.3 15.3M31.7 18.8L30.6 18.7M28.7 17.1L28.7 17.2M53.2 15.3L53.2 15.4M47.7 13.5L47.8 13.3M44.8 17.9L46.1 14.4M44.8 17.9L47.5 18.1M48.0 17.6L47.5 18.1M39.6 12.4L40.5 11.1M41.8 15.3L44.2 14.1M43.1 12.1L42.4 12.3M38.9 9.1L39.5 8.8M39.2 25.6L39.4 25.8M34.2 26.2L36.5 26.0M33.3 24.4L34.7 23.0M47.5 18.1L47.9 19.6M47.9 19.6L49.6 20.5M51.7 28.1L50.9 27.8M50.9 27.8L50.4 25.5M49.6 20.5L49.4 20.9M54.8 22.8L53.8 21.6M40.7 29.3L41.9 29.2M41.8 26.3L42.6 28.1M41.9 29.2L42.6 28.1M33.1 29.9L35.8 30.3M36.4 32.6L36.2 32.5M10.7 13.7L9.1 14.6M7.6 4.4L7.6 4.5M-0.4 15.5L-3.3 14.9M2.0 13.5L-0.5 10.9M2.0 13.5L2.7 13.7M2.8 13.7L4.4 9.6M4.2 2.4L2.9 4.2M4.2 2.4L4.3 1.7M4.3 1.7L1.0 0.5M3.2 6.1L5.0 6.1M0.7 6.8L1.7 7.7M0.7 6.8L0.6 3.8M4.3 1.7L5.3 1.0M5.6 1.0L5.3 1.0M1.0 0.5L0.9 -0.0M20.2 -2.4L21.2 -0.9M20.7 -0.1L21.2 -0.9M20.7 1.5L20.7 -0.1M67.2 51.8L64.2 52.2M59.6 53.1L64.2 52.3M64.2 52.3L63.8 55.2M92.4 54.0L89.5 52.0M92.2 49.3L91.5 49.2M97.7 29.6L95.4 30.2M93.7 30.2L94.4 29.7M87.6 38.4L88.5 36.5M87.5 38.4L85.4 36.1M90.4 39.5L89.3 40.1M92.3 34.6L88.5 34.8M87.3 42.3L88.6 41.7M88.6 41.7L89.2 41.1M91.4 42.6L91.1 42.5M83.6 32.5L85.4 32.8M85.4 32.8L86.1 30.2M86.1 30.2L85.4 28.3M83.6 29.4L85.4 28.3M89.7 28.1L86.1 27.5M89.7 28.1L90.4 30.6M82.1 25.2L85.6 27.9M79.8 33.7L81.5 32.9M81.5 32.9L82.3 33.2M79.0 36.5L79.4 37.0M77.7 32.2L79.8 33.7M85.4 35.3L82.7 34.9M83.6 32.5L82.3 33.2M80.8 30.7L82.2 29.3M75.5 38.8L75.9 36.2M75.9 36.2L76.3 36.1M94.4 29.7L94.4 28.3M91.0 26.3L91.0 26.2M95.0 26.4L94.8 27.9M94.4 28.3L94.8 27.9M87.6 13.6L88.7 14.9M88.7 14.9L91.8 13.6M87.3 10.4L89.9 11.0M89.5 12.6L89.9 11.0M90.4 9.0L90.8 10.5M89.9 11.0L90.8 10.5M92.9 13.7L91.8 13.6M90.9 19.4L92.6 21.0M94.4 20.4L94.2 20.4M91.4 5.8L93.0 5.6M83.6 5.0L83.6 4.4M80.9 7.3L80.6 7.2M79.4 4.7L80.6 7.1M78.5 8.5L80.6 7.2M94.7 64.5L94.9 62.2M90.6 64.7L92.8 62.0M82.4 54.4L83.5 53.9M84.8 55.3L84.8 54.5M82.9 51.9L83.5 53.9M81.8 57.9L81.7 57.4M85.6 57.1L84.8 55.3M87.4 53.0L87.1 53.0M87.4 53.0L87.9 56.1M78.9 56.3L80.5 56.3M75.7 53.5L77.4 53.4M81.8 51.3L82.9 51.9M53.9 74.4L52.2 75.2M37.9 65.6L34.2 65.4M39.3 62.9L41.1 62.4M40.0 65.0L40.6 64.8M39.9 65.1L40.0 65.0M43.3 66.0L40.6 64.8M43.4 66.0L43.3 66.0M29.0 61.0L27.0 61.1M14.6 58.7L12.0 57.8M14.8 60.3L13.0 60.3M13.1 55.8L12.0 57.8M14.9 57.8L14.6 58.7M9.9 59.0L11.4 58.3M7.9 70.9L4.7 71.5M4.8 69.6L5.5 67.3M7.4 68.3L7.4 68.3M8.3 71.3L7.9 70.9M9.0 68.3L7.4 68.3M4.9 72.1L4.7 71.5M5.4 67.1L5.5 67.3M9.8 40.6L11.8 39.5M9.8 40.6L7.5 38.9M7.5 37.5L8.7 36.5M8.7 36.5L11.3 37.8M11.8 39.5L12.7 42.6M5.9 40.2L7.2 42.5M9.3 42.1L8.9 44.3M12.9 35.0L12.0 33.5M21.2 41.8L20.4 41.5M27.3 26.1L29.2 26.1M31.9 24.5L30.9 23.7M30.9 23.7L30.6 23.8M24.5 29.0L25.7 29.1M24.5 29.0L24.3 25.8M26.8 25.3L24.3 25.8M8.5 48.9L7.4 48.8M6.2 47.5L7.5 46.1M5.6 50.8L7.4 48.8M3.9 48.5L5.4 47.4M50.0 32.7L48.5 31.4M50.9 27.8L49.3 28.3M47.4 34.6L48.1 31.5M51.6 34.5L53.4 37.8M51.7 38.3L53.4 37.8M55.6 34.1L54.5 36.5M54.2 40.4L53.8 37.9M59.5 27.8L57.9 26.1M58.2 29.6L59.3 29.1M59.4 28.9L59.3 29.1M19.7 29.2L20.1 30.6M20.1 30.6L23.0 30.4M21.2 27.5L23.4 29.4M23.4 29.4L23.0 30.4M17.4 30.1L19.7 29.2M20.1 30.9L20.1 30.6M24.5 29.0L23.4 29.4M23.2 25.3L24.3 25.8M35.4 8.6L36.2 6.1M36.0 5.0L36.0 5.8M44.3 2.2L45.6 5.0M45.6 5.0L41.8 6.0M41.9 3.1L41.7 5.8M40.2 9.0L41.9 6.6M41.9 6.6L41.8 6.0M19.1 7.7L21.0 5.4M19.1 7.7L17.9 7.5M22.5 6.7L21.0 5.4M17.0 8.1L17.4 7.5M20.6 4.7L20.9 5.1M17.3 5.6L17.4 7.5M17.4 20.2L13.9 18.6M16.6 15.4L16.0 15.5M14.0 18.4L16.0 15.5M13.4 11.9L14.2 14.1M14.2 14.1L16.0 15.5M5.3 14.0L6.2 13.0M14.1 25.6L15.0 24.5M15.0 24.5L17.2 25.1M16.7 29.1L16.9 27.3M20.1 27.9L17.6 26.5M19.1 21.4L19.6 24.5M12.9 25.3L12.1 24.1M17.5 21.8L14.6 22.3M8.7 36.5L8.8 35.8M5.1 35.5L5.3 36.5M12.5 28.9L10.8 29.7M14.3 26.7L12.4 27.5M12.9 25.3L11.7 26.8M-2.0 29.6L-1.1 29.3M-0.1 29.4L-1.1 29.3M37.7 41.0L38.8 43.5M35.8 41.7L35.8 43.4M36.4 46.4L34.6 44.1M38.6 37.9L38.6 37.8M62.6 17.4L64.3 20.5M66.6 15.5L68.0 13.0M66.6 15.5L66.6 15.6M68.0 13.0L64.8 12.9M59.5 27.8L62.0 25.1M62.0 25.1L59.2 23.2M58.8 23.2L59.0 23.2M62.3 25.1L62.0 25.1M62.3 25.1L63.3 22.3M63.3 22.3L62.0 21.6M57.9 21.4L58.0 22.1M57.9 21.4L60.4 18.7M61.0 18.6L60.6 18.8M27.5 74.2L28.0 75.3M34.2 71.9L33.9 72.0M33.9 72.0L32.1 74.7M30.1 70.8L31.7 68.4M33.9 72.0L30.1 71.1M27.2 68.6L27.6 68.4M28.7 71.8L30.1 71.2M0.4 63.9L-0.1 64.7M3.5 66.7L0.6 65.8M-0.1 64.7L0.6 65.8M29.5 8.2L30.5 8.2M31.7 4.8L31.1 4.5M31.1 4.5L28.7 4.9M29.5 8.2L27.7 9.0M26.1 5.8L27.7 4.4M29.9 1.6L30.3 0.9M22.2 -1.3L25.5 0.7M31.1 4.5L29.9 1.6M33.3 0.0L30.3 0.9M60.0 18.5L57.7 18.0M59.4 15.3L57.5 15.8M58.6 13.3L59.6 14.6M59.6 14.6L59.5 15.1M76.5 11.6L75.0 10.3M78.4 9.4L78.3 9.0M75.6 9.4L75.0 10.3M72.6 10.8L75.0 10.3M79.7 11.2L81.4 11.0M68.4 32.6L68.2 32.7M67.7 32.4L68.2 32.7M67.7 32.4L66.0 30.8M88.7 14.9L86.6 16.8M29.0 11.2L31.1 11.4M31.1 11.4L31.1 12.4M28.5 13.3L28.5 13.3M22.6 16.7L25.3 17.0M26.5 15.5L26.5 15.5M22.5 16.8L20.3 16.1M28.5 13.3L26.5 15.5M28.7 17.1L26.5 15.5M41.9 6.6L43.2 7.4M45.7 5.1L47.8 5.3M43.9 11.0L43.2 9.8M43.2 9.8L43.5 9.2M46.8 11.4L47.1 9.4M43.1 12.1L43.9 11.0M47.8 13.3L46.8 11.4M45.0 7.0L45.5 8.3M41.8 15.3L41.6 15.6M38.0 17.0L39.1 17.3M39.7 20.4L40.0 20.1M39.5 18.9L38.0 19.0M35.0 20.7L34.5 22.3M31.7 18.8L31.8 19.8M31.1 21.8L31.6 21.3M42.6 26.0L45.7 28.0M45.4 22.3L46.2 24.5M47.9 24.3L47.6 22.1M47.6 22.1L48.9 21.4M48.9 21.4L49.1 23.9M46.4 21.6L47.6 22.1M42.6 29.9L45.3 30.2M44.2 33.3L41.4 33.9M41.4 33.9L41.2 33.6M33.1 29.9L32.4 32.1M4.4 9.6L6.3 8.3M6.2 13.0L6.4 11.9M9.4 10.5L6.9 11.5M4.4 9.6L4.4 9.6M8.4 7.8L9.5 9.1M14.9 8.1L13.8 10.1M17.0 8.1L14.9 8.1M10.7 5.4L12.4 6.8M-0.9 6.4L-2.1 3.0M5.3 1.0L3.1 -3.0M69.6 33.0L68.4 32.6M68.2 32.7L66.3 36.3M66.3 36.4L66.3 36.3M66.3 36.4L68.9 37.2M70.4 42.2L70.8 38.7M68.4 39.4L69.5 38.3M70.8 38.7L69.5 38.3M69.5 38.3L68.9 37.2M67.9 54.9L67.9 54.9M67.2 51.8L67.9 54.9M63.8 55.2L64.8 55.6M84.4 51.3L85.0 48.6M85.0 48.6L82.8 47.0M83.4 41.7L85.0 44.5M90.9 47.4L89.1 46.3M92.5 44.3L91.5 45.3M91.1 42.5L89.7 44.2M86.0 44.4L85.9 44.3M91.6 22.6L91.8 25.4M94.4 23.6L93.5 24.8M89.1 19.1L90.6 22.5M95.0 26.4L93.5 24.8M94.2 17.6L94.4 13.4M93.3 10.8L95.8 8.3M93.0 5.6L93.2 7.8M93.1 11.4L93.3 10.8M94.5 4.8L95.7 8.1M91.8 59.5L90.8 58.9M92.5 55.6L91.1 56.5M95.7 57.6L94.7 57.7M95.6 60.8L93.8 59.0M92.8 62.0L91.8 59.5M87.9 56.1L90.9 56.8M88.7 52.5L91.1 56.5M88.7 52.5L87.8 52.7M47.5 68.8L45.3 69.6M45.2 71.1L47.6 71.1M45.2 71.1L45.3 69.6M42.6 69.3L44.4 68.0M44.6 72.2L45.6 73.4M47.4 73.2L45.6 73.4M52.1 75.1L51.6 72.3M49.5 74.2L50.0 73.0M48.7 74.8L49.5 74.2M34.5 62.1L32.9 62.5M32.9 62.5L33.4 64.9M37.1 61.2L34.5 62.1M31.3 67.2L31.6 65.9M25.0 63.6L27.8 65.1M23.6 65.3L23.7 64.8M23.6 65.3L27.6 66.4M31.7 68.4L31.3 67.2M23.6 65.3L22.9 66.3M22.9 67.7L22.9 66.3M29.6 62.9L29.2 62.2M29.9 63.1L29.6 62.9M26.1 62.2L27.0 62.7M25.7 62.3L26.1 62.2M24.6 42.6L26.1 44.2M26.1 44.2L23.7 45.7M28.1 44.4L27.8 44.9M22.1 69.7L22.1 69.7M22.1 73.6L22.0 69.9M22.1 69.7L22.0 69.9M18.7 71.6L18.9 71.7M23.7 64.8L21.2 61.1M22.9 66.3L20.1 65.4M20.1 65.4L20.6 61.4M19.2 57.7L18.1 58.2M21.8 54.6L23.8 56.7M21.8 54.6L24.4 53.3M25.2 54.8L24.9 55.5M21.9 59.2L22.4 59.0M21.9 59.2L21.4 60.9M21.4 60.9L25.0 61.5M25.0 61.5L25.0 59.6M21.4 58.6L21.9 59.2M21.2 61.1L21.4 60.9M26.6 55.2L28.0 54.3M26.5 57.1L26.6 57.5M26.6 57.5L28.4 55.1M28.4 55.1L28.0 54.3M29.1 58.2L29.8 56.8M29.8 56.8L28.4 55.1M4.6 57.3L4.8 58.2M8.3 54.5L6.6 53.4M5.7 53.8L6.5 53.4M2.9 59.6L4.5 59.0M9.3 49.8L6.6 53.4M9.3 49.8L8.5 48.9M5.8 61.5L7.2 61.4M4.6 59.0L7.6 59.8M7.6 59.8L7.5 61.1M5.1 62.6L5.8 61.5M10.6 62.5L7.5 61.1M13.5 46.5L13.0 49.3M13.0 49.3L16.3 50.3M17.5 47.2L16.5 45.9M14.2 46.0L16.5 45.9M15.8 51.5L16.3 50.3M12.5 46.2L10.8 46.9M11.8 44.8L10.9 44.3M10.8 46.9L9.6 46.5M11.6 50.0L10.8 46.9M12.7 42.6L13.3 43.0M13.3 43.0L11.8 44.8M8.9 44.3L9.7 45.3M9.3 46.7L9.6 46.5M3.8 38.0L2.7 38.1M2.2 46.9L2.5 46.0M-0.5 46.5L-0.2 44.9M2.5 46.0L1.4 44.2M5.6 40.2L4.3 41.3M4.3 41.3L1.9 41.2M1.5 42.1L1.7 42.8M14.3 43.7L17.7 43.3M15.2 40.6L18.0 43.1M13.3 43.0L13.9 43.2M14.2 46.0L14.3 43.7M19.0 42.9L18.0 43.1M18.9 39.1L15.2 40.1M17.6 35.4L17.3 37.5M14.6 39.5L16.0 37.5M18.5 34.7L17.6 35.4M18.5 34.7L20.0 36.2M18.9 39.1L18.9 39.0M21.7 38.8L20.7 36.7M20.2 40.8L21.7 38.8M20.1 36.2L20.7 36.7M25.5 36.9L25.5 36.9M25.5 36.9L24.9 36.9M21.6 35.3L20.1 36.2M58.3 39.5L59.5 38.4M59.5 38.4L60.3 38.5M23.1 31.3L24.7 33.1M27.1 31.3L24.7 33.1M25.5 36.9L24.6 34.0M37.5 3.2L37.5 3.2M38.0 0.4L39.0 1.2M36.0 5.0L37.5 3.2M11.1 16.2L12.9 17.4M14.2 14.1L12.7 14.7M20.1 24.6L21.8 23.5M21.8 23.5L20.5 21.0M22.5 16.8L22.4 19.9M25.5 18.6L22.9 20.1M19.8 18.3L21.0 20.4M6.8 30.9L7.1 32.7M6.8 30.9L3.7 30.5M6.7 33.1L7.1 32.7M10.3 33.9L9.5 34.5M12.1 32.7L9.1 31.4M12.1 24.1L10.5 23.7M9.7 25.0L9.6 26.2M10.8 29.7L10.0 29.5M4.1 29.1L6.9 28.5M6.1 25.8L7.4 26.9M32.6 43.8L32.4 45.6M32.4 43.3L32.0 42.9M68.3 23.4L68.7 21.0M67.1 25.0L67.2 24.4M70.5 23.2L68.3 23.4M69.6 13.2L70.8 15.9M70.8 15.9L72.3 16.0M75.3 18.7L73.8 18.6M72.3 16.0L73.8 18.6M73.8 22.8L72.8 19.7M76.1 20.9L75.5 18.9M73.8 18.6L72.8 19.7M63.5 11.4L64.3 12.6M63.5 11.4L61.9 11.7M61.9 11.7L61.7 13.0M64.6 10.0L63.5 11.4M65.6 15.3L63.1 16.2M59.5 15.1L62.7 16.1M60.0 18.5L60.4 18.7M29.0 75.3L31.1 74.0M0.6 65.8L-0.5 68.4M-0.5 68.4L-0.5 68.4M-0.5 68.4L-2.3 70.4M-0.5 68.4L-2.4 67.5M54.2 17.7L54.3 17.3M52.2 18.7L54.2 17.7M54.0 21.2L54.6 20.4M69.6 33.0L71.2 31.3M74.2 32.5L72.7 33.4M74.2 32.5L75.7 36.1M64.8 27.7L63.5 30.0M64.8 27.7L64.4 26.1M62.3 25.1L63.2 25.7M82.4 24.4L82.4 23.4M82.4 24.4L86.1 24.4M82.1 25.2L82.4 24.4M86.1 27.5L86.6 25.0M86.6 25.0L86.1 24.4M82.4 23.4L82.0 22.2M85.9 21.9L83.8 20.7M78.3 19.0L79.0 17.5M79.0 20.1L81.3 19.1M86.8 13.3L85.7 14.5M82.7 11.7L82.4 13.6M75.5 26.6L76.9 27.3M74.7 29.9L73.8 29.1M74.1 24.8L75.5 26.6M77.7 27.0L76.9 27.3M50.0 6.0L50.8 7.5M47.6 8.9L50.1 8.7M47.1 9.4L47.6 8.9M52.8 10.2L50.3 8.6M36.2 32.5L36.0 32.8M32.4 32.1L33.1 32.8M12.7 0.0L12.4 -1.1M12.7 0.0L11.1 1.7M11.1 1.7L8.5 -0.0M15.4 1.3L12.7 0.0M10.7 2.8L11.1 1.7M12.4 -1.4L12.5 -2.0M70.9 35.4L71.6 38.4M73.8 36.1L73.3 35.7M72.7 33.4L73.3 35.7M87.8 46.8L87.4 46.7M87.4 46.7L85.8 48.8M89.1 46.3L87.8 46.8M86.0 44.4L87.4 46.7M30.9 54.2L32.1 55.8M35.7 54.7L34.6 54.4M34.7 58.0L32.7 57.5M27.6 45.0L27.2 45.5M23.7 48.3L24.1 46.7M30.9 54.0L30.3 53.2M1.9 37.1L-0.9 37.8M1.9 41.2L1.5 42.1M5.0 43.3L4.9 43.4M1.7 42.8L3.7 43.9M65.4 37.9L63.2 37.3M60.3 38.5L62.0 37.3M63.2 37.3L63.6 34.7M62.0 37.3L62.1 34.3M67.7 32.4L64.6 33.5M63.8 30.7L63.4 31.4M64.6 33.5L64.2 34.6M5.9 24.6L6.1 25.8M23.2 20.4L23.9 23.1M23.9 23.1L27.0 23.0M22.9 20.1L23.2 20.4M28.1 21.0L27.1 21.7M-0.1 29.4L0.8 28.2M2.9 27.7L1.8 26.2M0.5 26.0L1.8 26.2M37.4 45.8L39.0 47.0M41.3 45.2L41.0 45.8M41.0 45.8L41.5 48.6M89.7 25.0L89.4 24.7M89.1 19.1L88.8 19.4M79.0 17.5L79.7 17.2M78.8 13.9L79.8 16.6M82.2 15.3L79.8 16.6M33.4 33.9L32.1 36.2M35.4 36.3L35.5 36.0M33.8 38.1L33.6 38.1M36.0 32.8L35.3 35.2M33.1 32.8L33.4 33.9M37.1 35.5L35.5 36.0M20.3 51.8L23.2 50.9M24.2 49.0L23.2 50.9M28.0 54.0L27.4 53.2M24.5 53.3L25.2 52.9M28.7 45.8L29.4 47.8M26.5 49.1L26.4 49.1M25.2 52.9L26.2 50.3M27.4 53.2L27.7 51.9M27.7 51.9L28.7 51.3M20.1 65.4L19.1 65.6M19.1 65.6L19.2 68.2M14.3 68.3L16.5 68.1M14.8 60.3L15.0 60.5M15.0 60.5L15.3 60.6M-0.6 39.3L-1.0 38.5M-0.9 37.8L-1.0 38.5M62.1 34.3L61.8 34.0M8.6 19.0L9.1 16.9M9.5 16.9L9.1 16.9M11.1 16.2L9.5 16.9M10.2 21.6L10.3 21.3M8.6 16.2L8.6 16.4M8.6 16.4L5.3 17.9M6.8 19.6L5.3 17.9M7.5 22.1L6.3 20.7M5.5 14.4L5.2 17.8M0.9 19.7L0.5 19.7M40.2 49.9L41.0 48.8M84.3 18.4L84.1 16.2M84.4 18.4L84.3 18.4M29.4 50.0L29.6 47.9M29.0 50.3L29.4 50.0M12.8 66.7L12.4 66.1M16.7 62.5L14.2 63.8M16.7 62.5L17.5 64.5M12.4 66.1L14.5 64.4M6.2 20.7L5.0 22.5M3.2 24.5L3.0 24.2M0.9 24.0L-0.1 25.5"/></g><g id="netC" fill="none"><path stroke-opacity="0.8" d="M47.8 71.1L50.8 70.0M56.6 73.3L54.4 73.6M85.9 73.8L86.4 73.8M42.0 27.1L43.1 28.4M43.1 28.4L39.2 32.8M86.4 73.8L91.2 70.9M93.5 72.9L91.2 70.9M97.7 70.4L97.7 70.6M65.9 17.7L67.5 17.1M63.4 14.9L65.6 9.0M69.8 10.3L67.7 16.9M67.5 17.1L67.7 16.9M-1.8 16.5L0.0 16.2M3.9 25.3L6.8 20.6M1.4 19.0L6.2 19.5M31.2 1.1L32.2 5.1M35.7 4.3L33.8 5.1M33.8 5.1L32.2 5.1M28.6 -0.9L31.2 1.1M24.9 3.1L24.8 2.9M36.2 11.1L33.8 5.1M32.2 11.1L31.7 5.7M47.8 1.3L50.1 1.9M58.1 2.0L54.8 3.4M54.8 3.4L51.1 1.1M41.4 2.0L36.3 -5.6M38.1 4.6L41.4 2.0M44.7 4.2L41.6 2.0M11.5 21.5L12.0 22.0M11.5 21.5L6.8 20.6M3.9 25.3L10.2 26.0M10.2 26.0L12.0 22.0M31.7 5.7L27.1 9.6M-1.5 10.1L-0.0 8.8M-0.0 8.8L1.0 8.7M1.0 8.7L3.3 10.5M6.6 16.1L6.2 19.5M0.0 16.2L1.4 19.0M4.1 13.8L5.9 14.5M6.6 16.1L10.5 16.4M11.7 18.4L10.5 16.4M19.7 10.3L22.0 9.6M22.0 9.6L23.2 5.8M23.2 5.8L18.8 5.8M8.3 8.8L12.3 6.9M8.3 12.3L11.9 13.2M12.8 7.3L13.7 11.6M11.9 13.2L13.2 12.7M13.7 11.6L13.2 12.7M7.2 8.4L3.3 10.5M5.9 14.5L8.3 12.3M5.1 4.9L7.2 8.4M7.8 3.9L12.2 6.7M10.5 16.4L11.9 13.2M17.2 11.8L19.4 10.1M17.2 11.8L13.7 11.6M18.0 7.0L12.8 7.3M15.0 16.0L11.7 18.4M15.0 16.0L13.2 12.7M29.1 14.5L23.7 17.3M29.1 14.5L26.8 11.3M26.8 11.3L25.3 11.4M25.3 11.4L21.5 14.8M21.5 15.0L21.5 14.8M29.5 14.7L29.1 14.5M29.5 14.7L32.2 11.1M-0.0 8.8L-2.0 5.9M6.8 -3.0L4.7 -0.8M5.0 4.9L4.7 -0.8M5.0 4.9L3.0 5.4M84.5 72.4L77.4 74.1M70.5 73.2L74.3 72.2M74.3 72.2L77.3 73.7M58.8 2.9L63.5 3.5M64.5 -3.2L65.9 2.3M63.5 3.5L65.9 2.3M80.2 -3.5L83.1 -0.2M83.1 -0.2L82.2 5.1M36.5 33.6L37.4 33.0M36.5 33.6L33.5 32.7M32.2 29.4L33.5 32.7M32.2 29.4L34.0 27.3M65.9 17.7L65.8 18.0M63.4 14.9L60.3 13.7M65.8 18.0L59.7 21.5M59.7 21.5L58.0 21.2M89.6 40.1L92.2 40.1M89.6 40.1L87.8 42.5M93.0 46.8L95.3 42.9M92.2 40.1L95.3 42.9M99.0 44.1L96.9 42.4M96.9 42.4L98.6 38.7M97.8 48.8L94.6 48.4M93.0 46.8L93.1 47.3M97.0 27.0L96.9 26.8M96.9 26.8L98.9 22.9M71.0 27.3L66.5 22.3M71.1 27.3L72.9 26.4M67.5 17.1L75.1 20.5M66.5 22.3L65.8 18.0M72.9 26.4L75.1 20.5M83.1 -0.2L88.3 0.4M100.6 3.2L94.6 -6.1M0.1 23.5L-0.4 23.5M13.4 -0.3L12.6 0.6M12.6 0.6L13.2 2.3M18.8 2.3L18.4 2.9M18.8 5.8L18.4 2.9M24.8 2.9L18.8 2.3M-1.7 -2.7L1.3 0.4M-0.1 2.5L0.4 2.4M-2.0 5.9L-0.1 2.5M3.0 5.4L0.4 2.4M56.6 73.3L57.8 67.3M62.3 74.4L62.6 70.2M57.8 67.3L62.6 70.2M57.8 67.3L57.6 66.6M52.2 66.3L57.6 66.6M80.9 67.1L80.6 67.1M78.6 68.3L80.6 67.1M65.6 9.0L65.4 8.7M59.8 12.9L59.8 8.5M63.0 7.6L63.5 3.5M59.8 8.5L58.8 7.3M65.4 8.7L67.6 4.5M67.6 4.5L66.9 2.8M82.7 39.8L85.7 43.3M85.7 43.3L84.6 46.1M76.6 46.4L78.8 47.6M78.8 47.6L81.0 47.7M81.0 47.7L84.6 46.1M91.1 48.9L86.3 47.9M86.3 47.9L84.6 46.1M57.6 28.5L63.9 29.9M57.6 28.5L61.2 25.2M61.2 25.2L63.2 25.7M63.2 25.7L64.4 29.1M64.4 29.1L63.9 29.9M70.7 35.3L63.9 31.5M70.7 35.3L71.1 34.0M71.1 34.0L71.1 27.3M68.7 36.4L65.9 39.2M62.6 35.5L61.2 38.2M56.2 32.0L62.4 33.3M61.2 38.2L55.8 34.8M61.2 38.2L61.2 38.2M70.7 35.6L73.3 38.8M65.7 43.6L69.2 43.8M50.6 63.7L50.8 62.8M50.8 62.8L48.1 57.8M45.8 57.7L45.1 58.2M43.1 51.0L43.8 51.4M39.8 57.6L41.2 58.5M29.9 41.2L32.1 39.3M31.4 35.1L33.5 32.7M32.1 39.3L34.4 39.7M57.6 28.5L56.4 28.9M56.0 29.5L56.4 28.9M96.6 36.1L95.7 30.9M96.7 29.6L95.7 30.9M97.0 27.0L96.7 29.6M98.6 38.7L97.1 36.3M92.2 40.1L94.9 36.3M94.9 36.3L96.6 36.1M89.2 38.4L86.5 36.0M94.9 36.3L91.7 34.7M90.4 31.5L90.4 31.5M75.5 43.4L73.6 41.4M82.7 39.8L82.6 37.1M86.5 36.0L84.1 35.8M88.7 28.9L84.1 31.8M84.1 35.8L84.1 31.8M79.0 35.7L78.6 31.3M94.6 26.1L88.7 28.9M88.7 28.9L88.3 28.0M88.7 28.9L88.7 28.9M72.9 26.4L78.4 28.6M75.1 20.5L76.0 20.0M76.0 20.0L80.4 23.2M78.6 31.3L79.2 29.6M84.1 31.8L80.3 29.7M80.3 29.7L79.2 29.6M88.0 27.7L83.7 26.5M80.3 29.7L83.7 26.5M82.2 5.1L84.9 7.3M77.3 9.8L83.4 9.6M84.6 8.4L83.4 9.6M76.5 19.2L74.6 13.3M76.7 11.9L74.6 13.2M67.7 16.9L74.6 13.3M83.4 9.6L81.2 15.0M87.6 5.7L92.9 10.9M95.0 7.7L94.7 4.4M92.9 10.8L92.9 10.9M84.9 7.3L87.6 5.7M88.3 0.4L88.7 4.1M99.8 9.5L95.0 7.7M98.0 12.0L92.9 10.8M29.7 28.8L29.2 23.3M31.6 16.5L34.5 20.2M32.0 23.1L34.5 20.2M29.2 23.3L27.3 22.0M27.3 22.0L25.7 22.2M55.7 59.4L59.0 63.4M59.0 63.4L59.1 64.1M-2.6 73.0L-1.2 73.5M-2.2 60.3L-0.6 55.0M3.0 25.9L2.9 27.8M2.9 27.8L-0.9 31.9M10.2 26.0L10.9 28.8M10.9 28.8L5.0 29.4M90.5 67.8L88.9 63.8M90.5 67.8L86.9 67.9M86.9 67.9L84.9 64.9M85.9 62.4L86.2 62.4M84.3 70.2L86.9 67.9M79.9 62.2L84.5 61.1M84.5 61.1L85.9 62.4M42.5 13.6L40.6 14.9M40.2 8.5L43.3 9.2M40.2 8.5L37.1 11.8M40.6 14.9L38.7 14.6M38.7 14.6L37.3 13.4M37.1 11.8L37.3 13.4M36.2 11.1L37.1 11.8M31.6 16.5L37.3 13.4M36.6 20.8L38.7 14.6M71.6 10.1L75.0 7.1M67.6 4.5L69.9 5.8M74.6 13.2L71.6 10.1M78.7 2.9L74.4 3.5M74.4 3.5L74.1 4.3M74.1 -0.4L73.5 1.2M74.4 3.5L73.5 1.2M79.6 -2.6L74.1 -0.4M69.2 43.8L69.2 48.2M66.0 54.5L64.3 52.5M66.0 54.5L69.0 52.4M64.3 52.5L67.0 49.2M69.0 52.4L67.8 49.3M81.0 47.7L83.2 53.0M86.3 47.9L86.4 51.5M83.2 53.0L86.4 51.5M84.5 61.1L84.3 56.8M84.3 56.8L88.0 56.1M90.4 52.4L88.9 53.4M94.1 54.4L92.4 58.9M48.1 57.8L50.7 55.1M50.7 55.1L50.6 51.1M50.7 55.1L55.8 57.8M50.9 33.8L47.4 29.1M44.6 35.7L44.9 37.2M53.4 34.5L50.9 33.8M39.2 32.8L44.6 35.7M44.0 43.8L43.5 44.2M44.0 43.8L45.9 39.6M43.5 44.2L39.2 42.6M67.0 49.2L63.6 46.2M69.2 48.2L67.8 49.3M61.2 38.2L60.7 39.7M65.6 43.6L60.7 39.7M55.2 40.6L55.8 34.8M15.1 71.8L17.5 70.7M17.5 70.7L16.6 65.1M16.6 65.1L17.7 62.8M18.0 62.8L22.5 66.9M37.4 74.2L42.7 72.2M11.6 58.8L10.4 55.4M10.4 55.4L13.9 51.6M16.1 59.3L17.6 62.7M23.1 56.4L23.1 56.5M20.2 61.5L23.1 56.5M40.9 62.4L38.0 62.9M23.1 56.4L26.7 54.6M25.5 59.7L30.6 58.5M30.6 58.5L30.7 56.4M26.7 54.6L30.7 56.4M24.2 38.3L23.1 40.6M29.4 42.9L24.3 43.6M24.3 43.6L23.8 43.5M43.5 44.2L42.6 47.0M42.6 47.0L36.5 47.3M39.2 42.6L37.0 44.0M29.4 42.9L30.1 44.0M58.0 21.2L57.1 22.3M57.1 22.3L56.2 28.2M92.7 59.4L92.6 60.8M92.7 59.4L98.0 59.5M98.0 59.5L97.8 64.6M88.9 63.8L92.6 60.8M97.7 70.4L96.1 65.7M96.0 17.1L92.4 11.9M88.0 16.6L88.5 14.3M98.9 22.9L95.0 18.9M91.3 20.7L91.3 20.1M84.6 8.4L88.5 14.3M81.2 15.2L88.0 16.6M80.7 23.2L82.9 24.1M82.9 24.1L85.6 22.4M83.7 26.5L82.9 24.1M80.4 16.7L82.9 19.9M27.7 35.1L25.2 30.7M24.2 38.3L21.2 34.6M25.7 22.2L23.8 28.0M20.1 26.2L15.4 24.2M20.1 26.2L20.3 21.2M17.7 20.0L14.5 22.4M23.5 20.4L20.3 21.2M20.8 27.4L23.8 28.0M12.0 22.0L14.5 22.4M10.9 28.8L11.5 29.5M14.8 29.9L15.4 24.2M62.6 70.2L64.4 68.5M59.1 64.1L63.4 64.7M64.4 68.5L63.4 64.7M68.5 71.8L68.4 69.3M64.4 68.5L68.4 69.3M6.2 60.6L4.9 58.2M-2.3 66.4L-1.7 66.1M-1.7 66.1L-0.2 63.0M11.6 58.8L9.1 62.0M10.4 55.4L4.8 55.0M-0.9 31.9L-0.5 33.2M2.0 72.3L3.1 71.1M9.1 74.0L7.4 70.4M3.5 65.0L2.4 68.7M3.1 71.1L2.4 68.7M1.1 53.0L2.4 52.6M2.4 52.6L2.9 52.7M13.9 51.6L13.9 51.5M12.3 50.4L4.7 50.8M37.6 21.6L41.1 20.3M41.1 20.3L42.0 18.2M41.1 20.3L43.9 22.6M47.0 15.4L45.9 17.7M47.0 15.4L42.5 13.6M42.0 18.2L45.9 17.7M55.4 33.9L53.4 34.5M45.9 17.7L47.2 21.6M46.9 21.8L47.2 21.6M71.0 52.8L73.0 51.9M71.0 52.8L69.7 59.1M73.0 51.9L74.4 53.7M74.4 53.7L74.2 57.5M69.7 59.1L74.2 57.5M73.5 49.6L73.0 51.9M78.8 47.6L78.3 53.6M74.2 57.5L77.1 58.8M83.2 53.0L82.7 55.2M78.0 60.7L79.9 62.2M78.0 60.7L77.9 59.8M44.0 43.8L49.4 47.0M43.1 51.0L42.7 50.4M42.7 50.4L42.6 47.0M50.6 51.1L50.7 51.0M49.6 39.9L53.4 42.4M49.4 47.0L53.4 42.4M55.2 40.6L53.8 42.4M31.1 69.6L32.0 67.2M35.6 73.7L33.3 74.9M33.3 74.9L32.0 73.6M25.9 73.0L27.1 69.7M27.1 69.7L31.1 69.6M43.0 68.0L37.2 67.8M23.1 74.7L25.9 73.0M29.9 65.1L26.1 66.9M24.3 66.3L26.1 66.9M24.3 66.3L25.1 62.1M25.1 62.1L25.2 62.0M27.1 69.7L26.1 66.9M34.5 61.2L31.5 60.4M25.5 59.7L25.2 62.0M22.5 66.9L24.3 66.3M20.2 61.5L25.1 62.1M31.4 50.5L32.4 54.7M31.4 50.5L34.2 48.2M35.3 48.4L37.6 51.7M32.4 54.7L36.2 54.7M37.6 51.7L36.2 54.7M26.7 54.6L26.7 51.7M30.2 50.0L31.4 50.5M28.9 47.5L30.2 50.0M36.5 47.3L35.3 48.4M15.6 50.4L13.9 51.5M18.1 50.2L21.3 53.6M26.7 51.7L24.7 50.0M21.3 53.6L24.7 50.0M25.9 47.6L24.7 49.9M24.7 50.0L24.7 49.9M18.6 36.4L20.7 34.6M12.8 38.3L17.4 41.9M20.0 40.0L18.6 36.4M21.2 34.6L20.7 34.6M20.8 27.4L17.3 30.3M65.9 62.8L69.7 67.7M65.9 62.8L67.2 59.3M73.4 65.3L71.8 67.1M68.4 69.3L69.7 67.7M59.0 63.4L62.7 58.3M66.3 58.5L62.7 58.3M66.0 54.5L66.3 58.5M78.0 60.7L73.4 64.7M78.6 68.3L73.4 65.3M74.3 72.2L71.8 67.1M6.2 46.1L10.5 46.7M8.1 69.4L7.3 66.2M8.1 69.4L11.8 68.5M12.4 67.2L11.8 68.5M7.3 66.2L9.1 62.1M15.1 71.8L11.8 68.5M17.6 62.7L10.8 63.2M-1.4 39.8L-1.1 44.1M-1.1 44.1L-1.0 44.1M-0.5 33.2L3.1 35.1M3.1 35.1L4.6 38.8M2.4 52.6L-1.0 44.1M6.2 46.1L5.4 43.7M52.7 23.9L53.6 22.6M52.8 20.4L49.8 20.5M57.1 22.3L53.6 22.6M49.5 28.3L51.2 24.1M47.2 21.6L48.7 21.5M54.8 17.9L54.4 18.1M54.4 18.1L52.8 20.4M48.3 14.5L47.3 8.5M54.2 12.3L53.1 8.3M52.5 7.8L53.1 8.3M50.5 17.2L49.0 14.7M45.9 8.0L47.3 8.5M54.8 17.9L53.5 13.2M54.8 3.4L52.5 7.8M50.1 1.9L50.2 7.4M60.6 39.8L59.4 45.3M53.8 42.4L55.0 43.9M63.6 46.2L60.9 47.2M19.6 48.6L21.4 48.1M21.4 48.1L23.8 43.5M18.9 44.3L23.8 43.5M18.1 50.2L19.6 48.6M24.7 49.9L21.4 48.1M17.6 43.5L18.9 44.3M17.6 43.5L15.2 45.6M23.8 43.5L23.8 43.5M6.5 32.5L6.3 33.3M6.5 32.5L10.3 31.6M6.3 33.3L10.5 38.8M11.2 38.7L11.0 38.8M3.1 35.1L6.3 33.3M6.8 40.3L10.5 38.8M12.8 38.3L11.2 38.7M12.1 44.0L11.0 38.8M53.7 50.2L53.7 50.2M53.7 50.2L57.8 55.9M59.1 55.4L61.0 51.4M59.1 55.4L57.8 55.9M50.7 51.0L53.7 50.2M55.0 43.9L53.7 50.2M64.3 52.5L61.0 51.4"/><path stroke-opacity="1.0" d="M50.8 70.0L54.4 73.6M56.6 73.3L60.3 75.9M38.5 26.2L37.4 33.0M38.5 26.2L42.0 27.1M39.2 32.8L37.4 33.0M93.5 72.9L97.7 70.6M65.9 17.7L63.4 14.9M69.8 10.3L65.6 9.0M-1.5 10.1L0.1 16.0M0.1 16.0L0.0 16.2M3.9 25.3L3.0 25.9M3.0 25.9L0.1 23.5M0.1 23.5L1.4 19.0M6.2 19.5L6.8 20.6M27.3 -0.9L25.0 1.5M25.0 1.5L20.0 -3.6M36.1 -4.9L31.2 1.1M36.1 -4.9L35.7 4.3M28.6 -0.9L27.3 -0.9M24.9 3.1L32.0 5.2M24.8 2.9L25.0 1.5M32.0 5.2L32.2 5.1M36.2 11.1L32.2 11.1M31.7 5.7L32.0 5.2M58.1 0.1L56.9 -0.8M46.5 -1.3L47.8 1.3M52.3 -1.8L51.1 1.1M50.1 1.9L51.1 1.1M56.9 -0.8L52.3 -1.8M58.1 0.1L58.1 2.0M41.4 2.0L41.6 2.0M41.6 2.0L43.7 -0.9M38.1 4.6L35.7 4.3M44.7 4.2L47.8 1.3M46.5 -1.3L43.7 -0.9M24.9 3.1L24.1 5.2M27.1 9.6L24.1 5.2M0.1 16.0L4.1 13.8M3.3 10.5L4.1 13.8M6.6 16.1L5.9 14.5M11.5 21.5L11.7 18.4M19.7 10.3L19.4 10.1M19.4 10.1L18.0 7.0M18.8 5.8L18.0 7.0M8.3 8.8L8.3 12.3M12.3 6.9L12.8 7.3M7.2 8.4L8.3 8.8M5.1 4.9L7.8 3.9M12.2 6.7L12.3 6.9M17.5 17.1L15.0 16.0M17.5 17.1L18.3 16.1M18.3 16.1L17.2 11.8M23.7 17.3L21.5 15.0M27.1 9.6L26.8 11.3M22.0 9.6L25.3 11.4M23.2 5.8L24.1 5.2M19.7 10.3L21.5 14.8M18.3 16.1L21.5 15.0M6.8 -3.0L9.1 -0.8M5.1 4.9L5.0 4.9M9.1 -0.8L7.8 3.9M1.0 8.7L3.0 5.4M65.6 74.5L68.5 71.8M68.5 71.8L70.5 73.2M85.9 73.8L84.5 72.4M62.3 74.4L65.6 74.5M77.4 74.1L77.3 73.7M58.1 2.0L58.8 2.9M79.6 -2.6L78.7 2.9M82.2 5.1L80.8 4.7M80.8 4.7L78.7 2.9M38.5 26.2L38.0 25.8M34.0 27.3L38.0 25.8M60.3 13.7L56.5 18.3M58.0 21.2L56.5 18.3M87.8 42.5L93.0 46.8M94.6 48.4L94.7 54.1M93.1 47.3L94.6 48.4M96.9 42.4L95.3 42.9M90.4 52.4L94.1 54.4M90.4 52.4L91.1 48.9M94.1 54.4L94.7 54.1M91.1 48.9L93.1 47.3M71.0 27.3L71.1 27.3M13.4 -0.3L19.3 -2.5M13.2 2.3L18.4 2.9M19.3 -2.5L18.8 2.3M9.1 -0.8L12.6 0.6M12.2 6.7L13.2 2.3M1.3 0.4L0.4 2.4M4.7 -0.8L1.3 0.4M50.8 70.0L52.2 66.3M84.5 72.4L84.3 70.2M77.3 73.7L78.6 68.3M84.3 70.2L80.9 67.1M60.3 13.7L59.8 12.9M63.0 7.6L65.4 8.7M63.0 7.6L59.8 8.5M58.8 2.9L58.8 7.3M65.9 2.3L66.9 2.8M75.5 43.4L82.7 39.8M75.5 43.4L76.6 46.4M87.8 42.5L85.7 43.3M66.5 22.3L63.2 25.7M59.7 21.5L61.2 25.2M71.0 27.3L64.4 29.1M63.9 31.5L63.9 29.9M68.7 36.4L62.6 35.5M65.9 39.2L61.2 38.2M70.7 35.3L70.7 35.6M62.4 33.3L63.9 31.5M62.4 33.3L62.6 35.5M70.7 35.6L68.7 36.4M55.4 33.9L55.8 34.8M55.4 33.9L56.2 32.0M73.3 38.8L73.6 41.4M73.6 41.4L69.2 43.8M65.9 39.2L65.7 43.6M50.6 63.7L45.0 64.9M45.8 57.7L48.1 57.8M45.0 64.9L45.1 58.2M45.0 64.9L43.6 66.0M43.6 66.0L40.9 62.4M45.1 58.2L41.2 58.5M40.9 62.4L41.2 58.5M43.1 51.0L39.8 57.6M43.8 51.4L45.8 57.7M26.3 37.6L27.7 35.1M26.3 37.6L29.9 41.2M27.7 35.1L31.4 35.1M31.4 35.1L32.1 39.3M36.5 33.6L37.6 37.7M37.6 37.7L37.2 38.7M37.2 38.7L34.4 39.7M56.2 32.0L56.0 29.5M97.1 36.3L96.6 36.1M89.2 38.4L91.7 34.7M86.5 36.0L90.4 31.5M91.7 34.7L90.4 31.5M89.6 40.1L89.2 38.4M90.4 31.5L95.7 30.9M73.3 38.8L79.0 35.7M82.6 37.1L79.0 35.7M82.6 37.1L84.1 35.8M88.7 28.9L90.4 31.5M71.1 34.0L78.6 31.3M94.6 26.1L91.3 20.7M91.3 20.7L88.3 28.0M96.9 26.8L94.6 26.1M78.4 28.6L80.4 23.2M78.4 28.6L79.2 29.6M88.3 28.0L88.0 27.7M84.9 7.3L84.6 8.4M80.8 4.7L76.7 8.3M76.7 8.3L77.3 9.8M76.5 19.2L80.4 16.7M80.4 16.7L81.2 15.2M76.7 11.9L81.2 15.0M81.2 15.2L81.2 15.0M74.6 13.3L74.6 13.2M76.0 20.0L76.5 19.2M77.3 9.8L76.7 11.9M87.6 5.7L88.7 4.1M88.7 4.1L94.3 4.2M95.0 7.7L92.9 10.8M94.7 4.4L94.3 4.2M94.6 -6.1L94.3 4.2M100.6 3.2L94.7 4.4M32.2 29.4L29.7 28.8M34.0 27.3L32.0 23.1M32.0 23.1L29.2 23.3M30.8 16.2L27.3 22.0M30.8 16.2L31.6 16.5M30.8 16.2L29.5 14.7M23.7 17.3L23.5 20.4M23.5 20.4L25.7 22.2M55.7 59.4L50.8 62.8M52.2 66.3L50.6 63.7M57.6 66.6L59.1 64.1M-1.2 73.5L2.0 72.3M-0.6 55.0L1.1 53.0M2.9 27.8L5.0 29.4M9.1 74.0L14.6 73.0M88.9 63.8L86.2 62.4M84.9 64.9L85.9 62.4M91.2 70.9L90.7 68.0M90.7 68.0L90.5 67.8M80.9 67.1L84.9 64.9M80.6 67.1L79.9 62.2M38.0 25.8L37.6 21.6M34.5 20.2L36.6 20.8M37.6 21.6L36.6 20.8M42.5 13.6L43.3 9.2M38.1 4.6L40.2 8.5M44.7 4.2L45.9 8.0M45.9 8.0L43.3 9.2M69.9 5.8L74.1 4.3M69.9 5.8L70.4 9.9M70.4 9.9L71.6 10.1M75.0 7.1L74.1 4.3M69.8 10.3L70.4 9.9M76.7 8.3L75.0 7.1M70.6 0.8L73.5 1.2M70.6 0.8L69.7 -2.1M66.9 2.8L70.6 0.8M76.6 46.4L73.5 49.6M73.5 49.6L69.2 48.2M67.0 49.2L67.8 49.3M90.1 58.3L86.2 62.4M90.1 58.3L88.0 56.1M86.4 51.5L88.9 53.4M92.4 58.9L90.1 58.3M88.9 53.4L88.0 56.1M43.8 51.4L50.6 51.1M55.7 59.4L55.8 57.8M50.9 33.8L45.1 37.5M47.4 29.1L45.8 29.7M45.8 29.7L44.6 35.7M44.9 37.2L45.1 37.5M45.9 39.6L49.6 39.9M45.9 39.6L45.1 37.5M49.6 39.9L53.4 34.5M43.1 28.4L45.8 29.7M37.6 37.7L44.9 37.2M37.2 38.7L39.2 42.6M65.7 43.6L65.6 43.6M63.6 46.2L65.6 43.6M55.2 40.6L60.6 39.8M60.6 39.8L60.7 39.7M14.6 73.0L15.1 71.8M17.5 70.7L20.8 71.3M23.1 74.7L20.8 71.3M18.0 62.8L17.7 62.8M20.8 71.3L22.5 66.9M47.8 71.1L43.8 69.7M42.7 72.2L43.8 69.7M43.6 66.0L43.0 68.0M43.8 69.7L43.0 68.0M11.6 58.8L16.1 59.3M16.1 59.3L16.8 57.1M16.8 57.1L13.9 51.6M17.6 62.7L17.7 62.8M23.1 56.4L21.7 55.3M18.0 62.8L20.2 61.5M16.8 57.1L21.7 55.3M39.8 57.6L38.1 57.3M38.0 62.9L35.7 60.8M35.7 60.8L38.1 57.3M23.1 56.5L25.5 59.7M26.3 37.6L24.2 38.3M29.9 41.2L29.4 42.9M23.1 40.6L23.8 43.5M37.0 44.0L36.5 47.3M34.4 39.7L34.8 43.3M37.0 44.0L34.8 43.3M30.1 44.0L32.5 44.9M34.8 43.3L32.5 44.9M56.4 28.9L56.2 28.2M92.6 60.8L94.8 65.5M97.8 64.6L96.1 65.7M96.1 65.7L94.8 65.5M92.4 58.9L92.7 59.4M90.7 68.0L94.8 65.5M95.0 18.9L96.0 17.1M95.0 18.9L91.3 20.1M91.3 20.1L88.7 18.7M88.7 18.7L88.0 16.6M92.4 11.9L88.5 14.3M98.0 15.8L96.0 17.1M92.9 10.9L92.4 11.9M80.7 23.2L82.9 19.9M82.9 19.9L86.5 20.3M86.5 20.3L85.6 22.4M80.4 23.2L80.7 23.2M88.0 27.7L85.6 22.4M88.7 18.7L86.5 20.3M21.2 34.6L25.2 30.7M29.7 28.8L25.4 29.8M23.8 28.0L25.4 29.8M25.2 30.7L25.4 29.8M17.7 20.0L20.3 21.2M14.5 22.4L15.4 24.2M20.8 27.4L20.1 26.2M17.5 17.1L17.7 20.0M11.5 29.5L14.8 29.9M-0.2 63.0L3.0 64.0M-0.2 63.0L-0.8 61.6M-0.8 61.6L4.9 58.2M3.0 64.0L6.2 60.6M-2.2 60.3L-0.8 61.6M9.1 62.0L6.2 60.6M4.8 55.0L4.9 58.2M-2.4 38.5L-0.5 33.2M7.4 70.4L3.1 71.1M-1.7 66.1L2.4 68.7M3.0 64.0L3.5 65.0M4.8 55.0L2.9 52.7M12.3 50.4L13.9 51.5M2.9 52.7L4.7 50.8M40.6 14.9L42.0 18.2M42.0 27.1L43.9 22.6M47.4 29.1L47.4 29.0M43.9 22.6L46.9 21.8M47.4 29.0L46.9 21.8M56.0 29.5L49.5 28.3M47.4 29.0L49.5 28.3M69.0 52.4L71.0 52.8M78.3 53.6L74.4 53.7M78.4 53.7L77.1 58.8M78.4 53.7L82.7 55.2M82.7 55.2L83.0 55.9M83.0 55.9L77.9 59.8M77.9 59.8L77.1 58.8M78.3 53.6L78.4 53.7M84.3 56.8L83.0 55.9M49.4 47.0L50.7 51.0M53.8 42.4L53.4 42.4M31.1 69.6L32.0 73.6M32.0 67.2L34.6 66.8M35.6 73.7L37.2 67.8M34.6 66.8L37.1 67.8M37.1 67.8L37.2 67.8M25.9 73.0L32.0 73.6M37.4 74.2L35.6 73.7M38.0 62.9L37.1 67.8M34.5 61.2L35.7 60.8M34.5 61.2L34.6 66.8M29.9 65.1L29.9 63.2M29.9 63.2L25.2 62.0M32.0 67.2L29.9 65.1M31.5 60.4L29.9 63.2M31.5 60.4L30.6 58.5M30.1 44.0L28.9 47.5M24.3 43.6L25.9 47.6M25.9 47.6L28.9 47.5M35.3 48.4L34.2 48.2M30.7 56.4L32.4 54.7M26.7 51.7L30.2 50.0M32.5 44.9L34.2 48.2M42.7 50.4L37.6 51.7M38.1 57.3L36.2 54.7M21.7 55.3L21.3 53.6M15.6 50.4L18.1 50.2M18.6 36.4L14.2 37.0M20.7 34.6L17.3 30.3M14.2 37.0L15.4 30.3M15.4 30.3L17.3 30.3M12.8 38.3L14.2 37.0M20.0 40.0L17.4 41.9M23.1 40.6L20.0 40.0M14.8 29.9L15.4 30.3M69.5 59.3L67.2 59.3M69.5 59.3L73.4 64.7M73.4 64.7L73.4 65.3M71.8 67.1L69.7 67.7M63.4 64.7L65.9 62.8M66.3 58.5L67.2 59.3M69.7 59.1L69.5 59.3M12.3 50.4L10.5 46.7M4.7 50.8L6.2 46.1M15.2 45.6L15.6 50.4M15.2 45.6L12.1 44.0M12.1 44.0L10.5 46.7M12.4 67.2L10.8 63.2M9.1 62.1L10.8 63.2M7.4 70.4L8.1 69.4M3.5 65.0L7.3 66.2M16.6 65.1L12.4 67.2M9.1 62.0L9.1 62.1M-1.4 39.8L4.6 38.8M-1.0 44.1L5.4 43.7M5.4 43.7L6.8 40.3M4.6 38.8L6.8 40.3M-2.4 38.5L-1.4 39.8M52.7 23.9L51.2 24.1M51.2 24.1L48.7 21.5M53.6 22.6L52.8 20.4M48.7 21.5L49.8 20.5M56.2 28.2L52.7 23.9M56.5 18.3L54.8 17.9M54.4 18.1L50.5 17.2M50.5 17.2L49.8 20.5M48.3 14.5L49.0 14.7M49.0 14.7L53.5 13.2M54.2 12.3L53.5 13.2M50.2 7.4L52.5 7.8M50.2 7.4L47.3 8.5M47.0 15.4L48.3 14.5M59.8 12.9L54.2 12.3M58.8 7.3L53.1 8.3M55.0 43.9L59.4 45.3M60.9 47.2L59.4 45.3M19.6 48.6L18.9 44.3M17.6 43.5L17.4 41.9M10.3 31.6L11.2 38.7M10.5 38.8L11.0 38.8M5.0 29.4L6.5 32.5M11.5 29.5L10.3 31.6M53.7 50.2L60.3 49.2M61.0 51.4L60.3 49.2M55.8 57.8L57.8 55.9M60.9 47.2L60.3 49.2M62.7 58.3L59.1 55.4"/></g><filter id="nzA" x="0" y="0" width="100%" height="100%" color-interpolation-filters="sRGB">
 <feTurbulence type="fractalNoise" baseFrequency="0.3" numOctaves="2" seed="9" result="t"/>
 <feDisplacementMap in="SourceGraphic" in2="t" scale="3.2" xChannelSelector="R" yChannelSelector="G" result="d"/>
 <feTurbulence type="fractalNoise" baseFrequency="0.45" numOctaves="2" seed="21" result="n"/>
 <feColorMatrix in="n" type="matrix" values="0 0 0 0 1  0 0 0 0 1  0 0 0 0 1  2.2 0 0 0 -0.3" result="m"/>
 <feComposite in="d" in2="m" operator="in" result="s"/>
 <feColorMatrix in="n" type="matrix" values="0 0 0 0 0.78  0 0 0 0 0.78  0 0 0 0 0.8  0 3 0 0 -1.55" result="g"/>
 <feComposite in="g" in2="s" operator="in" result="g2"/>
 <feMerge><feMergeNode in="s"/><feMergeNode in="g2"/></feMerge>
</filter><filter id="nzC" x="0" y="0" width="100%" height="100%" color-interpolation-filters="sRGB">
 <feTurbulence type="fractalNoise" baseFrequency="0.18" numOctaves="2" seed="9" result="t"/>
 <feDisplacementMap in="SourceGraphic" in2="t" scale="2.6" xChannelSelector="R" yChannelSelector="G" result="d"/>
 <feTurbulence type="fractalNoise" baseFrequency="0.3" numOctaves="2" seed="22" result="n"/>
 <feColorMatrix in="n" type="matrix" values="0 0 0 0 1  0 0 0 0 1  0 0 0 0 1  2 0 0 0 0" result="m"/>
 <feComposite in="d" in2="m" operator="in"/>
</filter><filter id="mott" x="0" y="0" width="100%" height="100%" color-interpolation-filters="sRGB">
 <feTurbulence type="fractalNoise" baseFrequency="0.14" numOctaves="2" seed="31" result="n"/>
 <feColorMatrix in="n" type="matrix" values="0 0 0 0 0.1  0 0 0 0 0.06  0 0 0 0 0.06  2.2 0 0 0 -1.0" result="c"/>
 <feComposite in="c" in2="SourceGraphic" operator="in"/>
</filter><filter id="nzD" x="0" y="0" width="100%" height="100%" color-interpolation-filters="sRGB">
 <feTurbulence type="fractalNoise" baseFrequency="0.3" numOctaves="2" seed="9" result="t"/>
 <feDisplacementMap in="SourceGraphic" in2="t" scale="3.2" xChannelSelector="R" yChannelSelector="G" result="d"/>
 <feTurbulence type="fractalNoise" baseFrequency="0.2" numOctaves="3" seed="41" result="n"/>
 <feColorMatrix in="n" type="matrix" values="0 0 0 0 1  0 0 0 0 1  0 0 0 0 1  3.2 0 0 0 -0.95" result="m"/>
 <feComposite in="d" in2="m" operator="in" result="s"/>
 <feColorMatrix in="n" type="matrix" values="0 0 0 0 0.78  0 0 0 0 0.78  0 0 0 0 0.8  0 3 0 0 -1.55" result="g"/>
 <feComposite in="g" in2="s" operator="in" result="g2"/>
 <feMerge><feMergeNode in="s"/><feMergeNode in="g2"/></feMerge>
</filter><filter id="grain" x="0" y="0" width="100%" height="100%" color-interpolation-filters="sRGB">
 <feTurbulence type="fractalNoise" baseFrequency="0.85" numOctaves="2" seed="5" result="n"/>
 <feColorMatrix in="n" type="matrix" values="1.7 0 0 0 -0.38  1.5 0.15 0 0 -0.46  1.5 0.2 0 0 -0.5  0 0 0 0 1" result="c"/>
 <feComposite in="c" in2="SourceGraphic" operator="in"/>
</filter><clipPath id="cd0"><rect x="31" y="442" width="94" height="71"/></clipPath><clipPath id="cd1"><rect x="128" y="442" width="94" height="71"/></clipPath><clipPath id="cd2"><rect x="225" y="442" width="94" height="71"/></clipPath><clipPath id="cd3"><rect x="322" y="442" width="94" height="71"/></clipPath><clipPath id="cd4"><rect x="418" y="442" width="94" height="71"/></clipPath></defs>
<text x="7.9" y="18.5" font-size="13.4" font-weight="bold" fill="#000" stroke="#000">A</text>
<text x="8.6" y="175.9" font-size="13.4" font-weight="bold" fill="#000" stroke="#000">B</text>
<text x="8.1" y="295.4" font-size="13.4" font-weight="bold" fill="#000" stroke="#000">C</text>
<text x="8.4" y="425.2" font-size="13.4" font-weight="bold" fill="#000" stroke="#000">D</text>
<text x="8.9" y="540.4" font-size="13.4" font-weight="bold" fill="#000" stroke="#000">E</text>
<line x1="60.5" y1="29" x2="60.5" y2="117.5" stroke="#231f20" stroke-width="1.1"/>
<line x1="60.0" y1="117" x2="157" y2="117" stroke="#231f20" stroke-width="1.1"/>
<line x1="57" y1="117.0" x2="60.5" y2="117.0" stroke="#231f20" stroke-width="1"/>
<text x="54.8" y="119.7" font-size="9" text-anchor="end" textLength="9.01" lengthAdjust="spacingAndGlyphs" fill="#231f20" stroke="#231f20">60</text>
<line x1="57" y1="95.675" x2="60.5" y2="95.675" stroke="#231f20" stroke-width="1"/>
<text x="54.8" y="98.375" font-size="9" text-anchor="end" textLength="9.01" lengthAdjust="spacingAndGlyphs" fill="#231f20" stroke="#231f20">80</text>
<line x1="57" y1="74.35" x2="60.5" y2="74.35" stroke="#231f20" stroke-width="1"/>
<text x="54.8" y="77.05" font-size="9" text-anchor="end" textLength="13.51" lengthAdjust="spacingAndGlyphs" fill="#231f20" stroke="#231f20">100</text>
<line x1="57" y1="53.025000000000006" x2="60.5" y2="53.025000000000006" stroke="#231f20" stroke-width="1"/>
<text x="54.8" y="55.72500000000001" font-size="9" text-anchor="end" textLength="13.51" lengthAdjust="spacingAndGlyphs" fill="#231f20" stroke="#231f20">120</text>
<line x1="57" y1="31.700000000000003" x2="60.5" y2="31.700000000000003" stroke="#231f20" stroke-width="1"/>
<text x="54.8" y="34.400000000000006" font-size="9" text-anchor="end" textLength="13.51" lengthAdjust="spacingAndGlyphs" fill="#231f20" stroke="#231f20">140</text>
<line x1="60.5" y1="117" x2="60.5" y2="120.3" stroke="#231f20" stroke-width="1"/>
<text x="60.5" y="131" font-size="9" text-anchor="middle" textLength="4.5" lengthAdjust="spacingAndGlyphs" fill="#231f20" stroke="#231f20">0</text>
<line x1="73.9" y1="117" x2="73.9" y2="120.3" stroke="#231f20" stroke-width="1"/>
<text x="73.9" y="131" font-size="9" text-anchor="middle" textLength="4.5" lengthAdjust="spacingAndGlyphs" fill="#231f20" stroke="#231f20">7</text>
<line x1="87.3" y1="117" x2="87.3" y2="120.3" stroke="#231f20" stroke-width="1"/>
<text x="87.3" y="131" font-size="9" text-anchor="middle" textLength="9.01" lengthAdjust="spacingAndGlyphs" fill="#231f20" stroke="#231f20">14</text>
<line x1="100.7" y1="117" x2="100.7" y2="120.3" stroke="#231f20" stroke-width="1"/>
<text x="100.7" y="131" font-size="9" text-anchor="middle" textLength="9.01" lengthAdjust="spacingAndGlyphs" fill="#231f20" stroke="#231f20">21</text>
<line x1="114.1" y1="117" x2="114.1" y2="120.3" stroke="#231f20" stroke-width="1"/>
<text x="114.1" y="131" font-size="9" text-anchor="middle" textLength="9.01" lengthAdjust="spacingAndGlyphs" fill="#231f20" stroke="#231f20">28</text>
<line x1="127.5" y1="117" x2="127.5" y2="120.3" stroke="#231f20" stroke-width="1"/>
<text x="127.5" y="131" font-size="9" text-anchor="middle" textLength="9.01" lengthAdjust="spacingAndGlyphs" fill="#231f20" stroke="#231f20">35</text>
<line x1="140.9" y1="117" x2="140.9" y2="120.3" stroke="#231f20" stroke-width="1"/>
<text x="140.9" y="131" font-size="9" text-anchor="middle" textLength="9.01" lengthAdjust="spacingAndGlyphs" fill="#231f20" stroke="#231f20">42</text>
<line x1="154.3" y1="117" x2="154.3" y2="120.3" stroke="#231f20" stroke-width="1"/>
<text x="154.3" y="131" font-size="9" text-anchor="middle" textLength="9.01" lengthAdjust="spacingAndGlyphs" fill="#231f20" stroke="#231f20">49</text>
<text x="81.7" y="145.3" font-size="10" textLength="54" lengthAdjust="spacingAndGlyphs" fill="#231f20" stroke="#231f20">Days after BMT</text>
<text transform="translate(33,120.7) rotate(-90)" x="0" y="0" font-size="10.5" textLength="96" lengthAdjust="spacingAndGlyphs" fill="#231f20" stroke="#231f20">Percentage of bodyweight</text>
<polyline points="60.50,74.35 73.90,87.36 87.30,76.06 100.70,70.94 114.10,63.90 127.50,60.17 140.90,55.37" fill="none" stroke="#c1133d" stroke-width="1.1"/>
<circle cx="60.50" cy="74.35" r="1.3" fill="#c1133d"/>
<line x1="73.9" y1="85.758875" x2="73.9" y2="88.95762500000001" stroke="#c1133d" stroke-width="0.8"/>
<line x1="72.7" y1="85.758875" x2="75.10000000000001" y2="85.758875" stroke="#c1133d" stroke-width="0.7"/>
<line x1="72.7" y1="88.95762500000001" x2="75.10000000000001" y2="88.95762500000001" stroke="#c1133d" stroke-width="0.7"/>
<circle cx="73.90" cy="87.36" r="1.3" fill="#c1133d"/>
<line x1="87.3" y1="73.390375" x2="87.3" y2="78.72162499999999" stroke="#c1133d" stroke-width="0.8"/>
<line x1="86.1" y1="73.390375" x2="88.5" y2="73.390375" stroke="#c1133d" stroke-width="0.7"/>
<line x1="86.1" y1="78.72162499999999" x2="88.5" y2="78.72162499999999" stroke="#c1133d" stroke-width="0.7"/>
<circle cx="87.30" cy="76.06" r="1.3" fill="#c1133d"/>
<line x1="100.7" y1="68.8055" x2="100.7" y2="73.07050000000001" stroke="#c1133d" stroke-width="0.8"/>
<line x1="99.5" y1="68.8055" x2="101.9" y2="68.8055" stroke="#c1133d" stroke-width="0.7"/>
<line x1="99.5" y1="73.07050000000001" x2="101.9" y2="73.07050000000001" stroke="#c1133d" stroke-width="0.7"/>
<circle cx="100.70" cy="70.94" r="1.3" fill="#c1133d"/>
<line x1="114.1" y1="61.76825000000001" x2="114.1" y2="66.03325000000001" stroke="#c1133d" stroke-width="0.8"/>
<line x1="112.89999999999999" y1="61.76825000000001" x2="115.3" y2="61.76825000000001" stroke="#c1133d" stroke-width="0.7"/>
<line x1="112.89999999999999" y1="66.03325000000001" x2="115.3" y2="66.03325000000001" stroke="#c1133d" stroke-width="0.7"/>
<circle cx="114.10" cy="63.90" r="1.3" fill="#c1133d"/>
<line x1="127.5" y1="58.569500000000005" x2="127.5" y2="61.76825000000001" stroke="#c1133d" stroke-width="0.8"/>
<line x1="126.3" y1="58.569500000000005" x2="128.7" y2="58.569500000000005" stroke="#c1133d" stroke-width="0.7"/>
<line x1="126.3" y1="61.76825000000001" x2="128.7" y2="61.76825000000001" stroke="#c1133d" stroke-width="0.7"/>
<circle cx="127.50" cy="60.17" r="1.3" fill="#c1133d"/>
<line x1="140.9" y1="54.304500000000004" x2="140.9" y2="56.437000000000005" stroke="#c1133d" stroke-width="0.8"/>
<line x1="139.70000000000002" y1="54.304500000000004" x2="142.1" y2="54.304500000000004" stroke="#c1133d" stroke-width="0.7"/>
<line x1="139.70000000000002" y1="56.437000000000005" x2="142.1" y2="56.437000000000005" stroke="#c1133d" stroke-width="0.7"/>
<circle cx="140.90" cy="55.37" r="1.3" fill="#c1133d"/>
<polyline points="60.50,74.35 73.90,95.67 87.30,84.37 100.70,79.04 114.10,83.84 127.50,98.55 140.90,99.94" fill="none" stroke="#2b4c94" stroke-width="1.1"/>
<circle cx="60.50" cy="74.35" r="1.3" fill="#2b4c94"/>
<line x1="73.9" y1="94.60875" x2="73.9" y2="96.74125000000001" stroke="#2b4c94" stroke-width="0.8"/>
<line x1="72.7" y1="94.60875" x2="75.10000000000001" y2="94.60875" stroke="#2b4c94" stroke-width="0.7"/>
<line x1="72.7" y1="96.74125000000001" x2="75.10000000000001" y2="96.74125000000001" stroke="#2b4c94" stroke-width="0.7"/>
<circle cx="73.90" cy="95.67" r="1.3" fill="#2b4c94"/>
<line x1="87.3" y1="82.24025" x2="87.3" y2="86.50525" stroke="#2b4c94" stroke-width="0.8"/>
<line x1="86.1" y1="82.24025" x2="88.5" y2="82.24025" stroke="#2b4c94" stroke-width="0.7"/>
<line x1="86.1" y1="86.50525" x2="88.5" y2="86.50525" stroke="#2b4c94" stroke-width="0.7"/>
<circle cx="87.30" cy="84.37" r="1.3" fill="#2b4c94"/>
<line x1="100.7" y1="76.909" x2="100.7" y2="81.174" stroke="#2b4c94" stroke-width="0.8"/>
<line x1="99.5" y1="76.909" x2="101.9" y2="76.909" stroke="#2b4c94" stroke-width="0.7"/>
<line x1="99.5" y1="81.174" x2="101.9" y2="81.174" stroke="#2b4c94" stroke-width="0.7"/>
<circle cx="100.70" cy="79.04" r="1.3" fill="#2b4c94"/>
<line x1="114.1" y1="80.64087500000001" x2="114.1" y2="87.038375" stroke="#2b4c94" stroke-width="0.8"/>
<line x1="112.89999999999999" y1="80.64087500000001" x2="115.3" y2="80.64087500000001" stroke="#2b4c94" stroke-width="0.7"/>
<line x1="112.89999999999999" y1="87.038375" x2="115.3" y2="87.038375" stroke="#2b4c94" stroke-width="0.7"/>
<circle cx="114.10" cy="83.84" r="1.3" fill="#2b4c94"/>
<line x1="127.5" y1="94.288875" x2="127.5" y2="102.818875" stroke="#2b4c94" stroke-width="0.8"/>
<line x1="126.3" y1="94.288875" x2="128.7" y2="94.288875" stroke="#2b4c94" stroke-width="0.7"/>
<line x1="126.3" y1="102.818875" x2="128.7" y2="102.818875" stroke="#2b4c94" stroke-width="0.7"/>
<circle cx="127.50" cy="98.55" r="1.3" fill="#2b4c94"/>
<line x1="140.9" y1="94.60875" x2="140.9" y2="105.27125" stroke="#2b4c94" stroke-width="0.8"/>
<line x1="139.70000000000002" y1="94.60875" x2="142.1" y2="94.60875" stroke="#2b4c94" stroke-width="0.7"/>
<line x1="139.70000000000002" y1="105.27125" x2="142.1" y2="105.27125" stroke="#2b4c94" stroke-width="0.7"/>
<circle cx="140.90" cy="99.94" r="1.3" fill="#2b4c94"/>
<polyline points="60.50,74.35 73.90,85.65 87.30,77.87 100.70,76.48 114.10,79.25 127.50,77.34 140.90,82.13" fill="none" stroke="#6cb545" stroke-width="1.1"/>
<circle cx="60.50" cy="74.35" r="1.3" fill="#6cb545"/>
<line x1="73.9" y1="84.052875" x2="73.9" y2="87.25162499999999" stroke="#6cb545" stroke-width="0.8"/>
<line x1="72.7" y1="84.052875" x2="75.10000000000001" y2="84.052875" stroke="#6cb545" stroke-width="0.7"/>
<line x1="72.7" y1="87.25162499999999" x2="75.10000000000001" y2="87.25162499999999" stroke="#6cb545" stroke-width="0.7"/>
<circle cx="73.90" cy="85.65" r="1.3" fill="#6cb545"/>
<line x1="87.3" y1="75.736125" x2="87.3" y2="80.001125" stroke="#6cb545" stroke-width="0.8"/>
<line x1="86.1" y1="75.736125" x2="88.5" y2="75.736125" stroke="#6cb545" stroke-width="0.7"/>
<line x1="86.1" y1="80.001125" x2="88.5" y2="80.001125" stroke="#6cb545" stroke-width="0.7"/>
<circle cx="87.30" cy="77.87" r="1.3" fill="#6cb545"/>
<line x1="100.7" y1="74.35" x2="100.7" y2="78.61500000000001" stroke="#6cb545" stroke-width="0.8"/>
<line x1="99.5" y1="74.35" x2="101.9" y2="74.35" stroke="#6cb545" stroke-width="0.7"/>
<line x1="99.5" y1="78.61500000000001" x2="101.9" y2="78.61500000000001" stroke="#6cb545" stroke-width="0.7"/>
<circle cx="100.70" cy="76.48" r="1.3" fill="#6cb545"/>
<line x1="114.1" y1="77.12225" x2="114.1" y2="81.38725" stroke="#6cb545" stroke-width="0.8"/>
<line x1="112.89999999999999" y1="77.12225" x2="115.3" y2="77.12225" stroke="#6cb545" stroke-width="0.7"/>
<line x1="112.89999999999999" y1="81.38725" x2="115.3" y2="81.38725" stroke="#6cb545" stroke-width="0.7"/>
<circle cx="114.10" cy="79.25" r="1.3" fill="#6cb545"/>
<line x1="127.5" y1="67.73925" x2="127.5" y2="86.93175" stroke="#6cb545" stroke-width="0.8" stroke-dasharray="1.1 1.1"/>
<line x1="126.3" y1="67.73925" x2="128.7" y2="67.73925" stroke="#6cb545" stroke-width="0.7"/>
<line x1="126.3" y1="86.93175" x2="128.7" y2="86.93175" stroke="#6cb545" stroke-width="0.7"/>
<circle cx="127.50" cy="77.34" r="1.3" fill="#6cb545"/>
<line x1="140.9" y1="72.537375" x2="140.9" y2="91.72987499999999" stroke="#6cb545" stroke-width="0.8" stroke-dasharray="1.1 1.1"/>
<line x1="139.70000000000002" y1="72.537375" x2="142.1" y2="72.537375" stroke="#6cb545" stroke-width="0.7"/>
<line x1="139.70000000000002" y1="91.72987499999999" x2="142.1" y2="91.72987499999999" stroke="#6cb545" stroke-width="0.7"/>
<circle cx="140.90" cy="82.13" r="1.3" fill="#6cb545"/>
<polyline points="60.50,74.35 73.90,85.65 87.30,83.41 100.70,66.57 114.10,69.13 127.50,82.45 140.90,82.13" fill="none" stroke="#5e2d85" stroke-width="1.1"/>
<circle cx="60.50" cy="74.35" r="1.3" fill="#5e2d85"/>
<line x1="73.9" y1="84.052875" x2="73.9" y2="87.25162499999999" stroke="#5e2d85" stroke-width="0.8"/>
<line x1="72.7" y1="84.052875" x2="75.10000000000001" y2="84.052875" stroke="#5e2d85" stroke-width="0.7"/>
<line x1="72.7" y1="87.25162499999999" x2="75.10000000000001" y2="87.25162499999999" stroke="#5e2d85" stroke-width="0.7"/>
<circle cx="73.90" cy="85.65" r="1.3" fill="#5e2d85"/>
<line x1="87.3" y1="81.280625" x2="87.3" y2="85.545625" stroke="#5e2d85" stroke-width="0.8"/>
<line x1="86.1" y1="81.280625" x2="88.5" y2="81.280625" stroke="#5e2d85" stroke-width="0.7"/>
<line x1="86.1" y1="85.545625" x2="88.5" y2="85.545625" stroke="#5e2d85" stroke-width="0.7"/>
<circle cx="87.30" cy="83.41" r="1.3" fill="#5e2d85"/>
<line x1="100.7" y1="59.10262500000001" x2="100.7" y2="74.030125" stroke="#5e2d85" stroke-width="0.8" stroke-dasharray="1.1 1.1"/>
<line x1="99.5" y1="59.10262500000001" x2="101.9" y2="59.10262500000001" stroke="#5e2d85" stroke-width="0.7"/>
<line x1="99.5" y1="74.030125" x2="101.9" y2="74.030125" stroke="#5e2d85" stroke-width="0.7"/>
<circle cx="100.70" cy="66.57" r="1.3" fill="#5e2d85"/>
<line x1="114.1" y1="65.926625" x2="114.1" y2="72.324125" stroke="#5e2d85" stroke-width="0.8"/>
<line x1="112.89999999999999" y1="65.926625" x2="115.3" y2="65.926625" stroke="#5e2d85" stroke-width="0.7"/>
<line x1="112.89999999999999" y1="72.324125" x2="115.3" y2="72.324125" stroke="#5e2d85" stroke-width="0.7"/>
<circle cx="114.10" cy="69.13" r="1.3" fill="#5e2d85"/>
<line x1="127.5" y1="75.522875" x2="127.5" y2="89.384125" stroke="#5e2d85" stroke-width="0.8" stroke-dasharray="1.1 1.1"/>
<line x1="126.3" y1="75.522875" x2="128.7" y2="75.522875" stroke="#5e2d85" stroke-width="0.7"/>
<line x1="126.3" y1="89.384125" x2="128.7" y2="89.384125" stroke="#5e2d85" stroke-width="0.7"/>
<circle cx="127.50" cy="82.45" r="1.3" fill="#5e2d85"/>
<line x1="140.9" y1="73.07050000000001" x2="140.9" y2="91.19675" stroke="#5e2d85" stroke-width="0.8" stroke-dasharray="1.1 1.1"/>
<line x1="139.70000000000002" y1="73.07050000000001" x2="142.1" y2="73.07050000000001" stroke="#5e2d85" stroke-width="0.7"/>
<line x1="139.70000000000002" y1="91.19675" x2="142.1" y2="91.19675" stroke="#5e2d85" stroke-width="0.7"/>
<circle cx="140.90" cy="82.13" r="1.3" fill="#5e2d85"/>
<polyline points="60.50,74.35 73.90,84.37 87.30,78.62 100.70,70.09 114.10,63.15 127.50,70.51 140.90,73.50" fill="none" stroke="#f0961d" stroke-width="1.1"/>
<circle cx="60.50" cy="74.35" r="1.3" fill="#f0961d"/>
<line x1="73.9" y1="82.77337500000002" x2="73.9" y2="85.972125" stroke="#f0961d" stroke-width="0.8"/>
<line x1="72.7" y1="82.77337500000002" x2="75.10000000000001" y2="82.77337500000002" stroke="#f0961d" stroke-width="0.7"/>
<line x1="72.7" y1="85.972125" x2="75.10000000000001" y2="85.972125" stroke="#f0961d" stroke-width="0.7"/>
<circle cx="73.90" cy="84.37" r="1.3" fill="#f0961d"/>
<line x1="87.3" y1="76.4825" x2="87.3" y2="80.7475" stroke="#f0961d" stroke-width="0.8"/>
<line x1="86.1" y1="76.4825" x2="88.5" y2="76.4825" stroke="#f0961d" stroke-width="0.7"/>
<line x1="86.1" y1="80.7475" x2="88.5" y2="80.7475" stroke="#f0961d" stroke-width="0.7"/>
<circle cx="87.30" cy="78.62" r="1.3" fill="#f0961d"/>
<line x1="100.7" y1="66.88625" x2="100.7" y2="73.28375" stroke="#f0961d" stroke-width="0.8"/>
<line x1="99.5" y1="66.88625" x2="101.9" y2="66.88625" stroke="#f0961d" stroke-width="0.7"/>
<line x1="99.5" y1="73.28375" x2="101.9" y2="73.28375" stroke="#f0961d" stroke-width="0.7"/>
<circle cx="100.70" cy="70.09" r="1.3" fill="#f0961d"/>
<line x1="114.1" y1="56.75687500000001" x2="114.1" y2="69.551875" stroke="#f0961d" stroke-width="0.8"/>
<line x1="112.89999999999999" y1="56.75687500000001" x2="115.3" y2="56.75687500000001" stroke="#f0961d" stroke-width="0.7"/>
<line x1="112.89999999999999" y1="69.551875" x2="115.3" y2="69.551875" stroke="#f0961d" stroke-width="0.7"/>
<circle cx="114.10" cy="63.15" r="1.3" fill="#f0961d"/>
<line x1="127.5" y1="63.58087500000001" x2="127.5" y2="77.442125" stroke="#f0961d" stroke-width="0.8"/>
<line x1="126.3" y1="63.58087500000001" x2="128.7" y2="63.58087500000001" stroke="#f0961d" stroke-width="0.7"/>
<line x1="126.3" y1="77.442125" x2="128.7" y2="77.442125" stroke="#f0961d" stroke-width="0.7"/>
<circle cx="127.50" cy="70.51" r="1.3" fill="#f0961d"/>
<line x1="140.9" y1="70.29825" x2="140.9" y2="76.69575" stroke="#f0961d" stroke-width="0.8"/>
<line x1="139.70000000000002" y1="70.29825" x2="142.1" y2="70.29825" stroke="#f0961d" stroke-width="0.7"/>
<line x1="139.70000000000002" y1="76.69575" x2="142.1" y2="76.69575" stroke="#f0961d" stroke-width="0.7"/>
<circle cx="140.90" cy="73.50" r="1.3" fill="#f0961d"/>
<line x1="202.5" y1="29.5" x2="202.5" y2="117.5" stroke="#231f20" stroke-width="1.1"/>
<line x1="202.0" y1="117" x2="300" y2="117" stroke="#231f20" stroke-width="1.1"/>
<line x1="199.5" y1="117.1" x2="202.5" y2="117.1" stroke="#231f20" stroke-width="1"/>
<text x="197" y="119.8" font-size="9" text-anchor="end" textLength="11.26" lengthAdjust="spacingAndGlyphs" fill="#231f20" stroke="#231f20">0.0</text>
<line x1="199.5" y1="100.06" x2="202.5" y2="100.06" stroke="#231f20" stroke-width="1"/>
<text x="197" y="102.76" font-size="9" text-anchor="end" textLength="11.26" lengthAdjust="spacingAndGlyphs" fill="#231f20" stroke="#231f20">0.5</text>
<line x1="199.5" y1="83.02" x2="202.5" y2="83.02" stroke="#231f20" stroke-width="1"/>
<text x="197" y="85.72" font-size="9" text-anchor="end" textLength="11.26" lengthAdjust="spacingAndGlyphs" fill="#231f20" stroke="#231f20">1.0</text>
<line x1="199.5" y1="65.97999999999999" x2="202.5" y2="65.97999999999999" stroke="#231f20" stroke-width="1"/>
<text x="197" y="68.67999999999999" font-size="9" text-anchor="end" textLength="11.26" lengthAdjust="spacingAndGlyphs" fill="#231f20" stroke="#231f20">1.5</text>
<line x1="199.5" y1="48.94" x2="202.5" y2="48.94" stroke="#231f20" stroke-width="1"/>
<text x="197" y="51.64" font-size="9" text-anchor="end" textLength="11.26" lengthAdjust="spacingAndGlyphs" fill="#231f20" stroke="#231f20">2.0</text>
<line x1="199.5" y1="31.900000000000006" x2="202.5" y2="31.900000000000006" stroke="#231f20" stroke-width="1"/>
<text x="197" y="34.60000000000001" font-size="9" text-anchor="end" textLength="11.26" lengthAdjust="spacingAndGlyphs" fill="#231f20" stroke="#231f20">2.5</text>
<line x1="202.5" y1="117" x2="202.5" y2="120.3" stroke="#231f20" stroke-width="1"/>
<text x="202.5" y="131" font-size="9" text-anchor="middle" textLength="4.5" lengthAdjust="spacingAndGlyphs" fill="#231f20" stroke="#231f20">0</text>
<line x1="215.9" y1="117" x2="215.9" y2="120.3" stroke="#231f20" stroke-width="1"/>
<text x="215.9" y="131" font-size="9" text-anchor="middle" textLength="4.5" lengthAdjust="spacingAndGlyphs" fill="#231f20" stroke="#231f20">7</text>
<line x1="229.3" y1="117" x2="229.3" y2="120.3" stroke="#231f20" stroke-width="1"/>
<text x="229.3" y="131" font-size="9" text-anchor="middle" textLength="9.01" lengthAdjust="spacingAndGlyphs" fill="#231f20" stroke="#231f20">14</text>
<line x1="242.7" y1="117" x2="242.7" y2="120.3" stroke="#231f20" stroke-width="1"/>
<text x="242.7" y="131" font-size="9" text-anchor="middle" textLength="9.01" lengthAdjust="spacingAndGlyphs" fill="#231f20" stroke="#231f20">21</text>
<line x1="256.1" y1="117" x2="256.1" y2="120.3" stroke="#231f20" stroke-width="1"/>
<text x="256.1" y="131" font-size="9" text-anchor="middle" textLength="9.01" lengthAdjust="spacingAndGlyphs" fill="#231f20" stroke="#231f20">28</text>
<line x1="269.5" y1="117" x2="269.5" y2="120.3" stroke="#231f20" stroke-width="1"/>
<text x="269.5" y="131" font-size="9" text-anchor="middle" textLength="9.01" lengthAdjust="spacingAndGlyphs" fill="#231f20" stroke="#231f20">35</text>
<line x1="282.9" y1="117" x2="282.9" y2="120.3" stroke="#231f20" stroke-width="1"/>
<text x="282.9" y="131" font-size="9" text-anchor="middle" textLength="9.01" lengthAdjust="spacingAndGlyphs" fill="#231f20" stroke="#231f20">42</text>
<line x1="296.3" y1="117" x2="296.3" y2="120.3" stroke="#231f20" stroke-width="1"/>
<text x="296.3" y="131" font-size="9" text-anchor="middle" textLength="9.01" lengthAdjust="spacingAndGlyphs" fill="#231f20" stroke="#231f20">49</text>
<text x="223.5" y="145.3" font-size="10" textLength="54" lengthAdjust="spacingAndGlyphs" fill="#231f20" stroke="#231f20">Days after BMT</text>
<text transform="translate(177.5,97.5) rotate(-90)" x="0" y="0" font-size="10.5" textLength="48" lengthAdjust="spacingAndGlyphs" fill="#231f20" stroke="#231f20">Clinical score</text>
<polyline points="202.50,117.10 215.90,117.10 229.30,117.10 242.70,117.10 256.10,117.10 269.50,117.10 282.90,117.10" fill="none" stroke="#c1133d" stroke-width="1.1"/>
<circle cx="202.50" cy="117.10" r="1.3" fill="#c1133d"/>
<circle cx="215.90" cy="117.10" r="1.3" fill="#c1133d"/>
<circle cx="229.30" cy="117.10" r="1.3" fill="#c1133d"/>
<circle cx="242.70" cy="117.10" r="1.3" fill="#c1133d"/>
<circle cx="256.10" cy="117.10" r="1.3" fill="#c1133d"/>
<circle cx="269.50" cy="117.10" r="1.3" fill="#c1133d"/>
<circle cx="282.90" cy="117.10" r="1.3" fill="#c1133d"/>
<polyline points="202.50,117.10 215.90,117.10 229.30,117.10 242.70,117.10 256.10,100.06 269.50,77.23 282.90,48.94" fill="none" stroke="#2b4c94" stroke-width="1.1"/>
<circle cx="202.50" cy="117.10" r="1.3" fill="#2b4c94"/>
<circle cx="215.90" cy="117.10" r="1.3" fill="#2b4c94"/>
<circle cx="229.30" cy="117.10" r="1.3" fill="#2b4c94"/>
<circle cx="242.70" cy="117.10" r="1.3" fill="#2b4c94"/>
<line x1="256.1" y1="92.5624" x2="256.1" y2="107.5576" stroke="#2b4c94" stroke-width="0.7"/>
<line x1="254.90000000000003" y1="92.5624" x2="257.3" y2="92.5624" stroke="#2b4c94" stroke-width="0.7"/>
<line x1="254.90000000000003" y1="107.5576" x2="257.3" y2="107.5576" stroke="#2b4c94" stroke-width="0.7"/>
<circle cx="256.10" cy="100.06" r="1.3" fill="#2b4c94"/>
<line x1="269.5" y1="71.4328" x2="269.5" y2="83.02000000000001" stroke="#2b4c94" stroke-width="0.7"/>
<line x1="268.3" y1="71.4328" x2="270.7" y2="71.4328" stroke="#2b4c94" stroke-width="0.7"/>
<line x1="268.3" y1="83.02000000000001" x2="270.7" y2="83.02000000000001" stroke="#2b4c94" stroke-width="0.7"/>
<circle cx="269.50" cy="77.23" r="1.3" fill="#2b4c94"/>
<line x1="282.9" y1="39.7384" x2="282.9" y2="58.1416" stroke="#2b4c94" stroke-width="0.7"/>
<line x1="281.7" y1="39.7384" x2="284.09999999999997" y2="39.7384" stroke="#2b4c94" stroke-width="0.7"/>
<line x1="281.7" y1="58.1416" x2="284.09999999999997" y2="58.1416" stroke="#2b4c94" stroke-width="0.7"/>
<circle cx="282.90" cy="48.94" r="1.3" fill="#2b4c94"/>
<polyline points="202.50,117.10 215.90,117.10 229.30,117.10 242.70,117.10 256.10,105.85 269.50,94.27" fill="none" stroke="#6cb545" stroke-width="1.1"/>
<circle cx="202.50" cy="117.10" r="1.3" fill="#6cb545"/>
<circle cx="215.90" cy="117.10" r="1.3" fill="#6cb545"/>
<circle cx="229.30" cy="117.10" r="1.3" fill="#6cb545"/>
<circle cx="242.70" cy="117.10" r="1.3" fill="#6cb545"/>
<line x1="256.1" y1="94.60719999999999" x2="256.1" y2="117.1" stroke="#6cb545" stroke-width="0.7"/>
<line x1="254.90000000000003" y1="94.60719999999999" x2="257.3" y2="94.60719999999999" stroke="#6cb545" stroke-width="0.7"/>
<line x1="254.90000000000003" y1="117.1" x2="257.3" y2="117.1" stroke="#6cb545" stroke-width="0.7"/>
<circle cx="256.10" cy="105.85" r="1.3" fill="#6cb545"/>
<circle cx="269.50" cy="94.27" r="1.3" fill="#6cb545"/>
<polyline points="202.50,117.10 215.90,117.10 229.30,117.10 242.70,117.10 256.10,117.10 269.50,94.27 282.90,77.23" fill="none" stroke="#5e2d85" stroke-width="1.1"/>
<circle cx="202.50" cy="117.10" r="1.3" fill="#5e2d85"/>
<circle cx="215.90" cy="117.10" r="1.3" fill="#5e2d85"/>
<circle cx="229.30" cy="117.10" r="1.3" fill="#5e2d85"/>
<circle cx="242.70" cy="117.10" r="1.3" fill="#5e2d85"/>
<circle cx="256.10" cy="117.10" r="1.3" fill="#5e2d85"/>
<line x1="269.5" y1="87.45039999999999" x2="269.5" y2="101.08239999999999" stroke="#5e2d85" stroke-width="0.7"/>
<line x1="268.3" y1="87.45039999999999" x2="270.7" y2="87.45039999999999" stroke="#5e2d85" stroke-width="0.7"/>
<line x1="268.3" y1="101.08239999999999" x2="270.7" y2="101.08239999999999" stroke="#5e2d85" stroke-width="0.7"/>
<circle cx="269.50" cy="94.27" r="1.3" fill="#5e2d85"/>
<line x1="282.9" y1="71.4328" x2="282.9" y2="83.02000000000001" stroke="#5e2d85" stroke-width="0.7"/>
<line x1="281.7" y1="71.4328" x2="284.09999999999997" y2="71.4328" stroke="#5e2d85" stroke-width="0.7"/>
<line x1="281.7" y1="83.02000000000001" x2="284.09999999999997" y2="83.02000000000001" stroke="#5e2d85" stroke-width="0.7"/>
<circle cx="282.90" cy="77.23" r="1.3" fill="#5e2d85"/>
<polyline points="202.50,117.10 215.90,117.10 229.30,117.10 242.70,117.10 256.10,117.10 269.50,105.85 282.90,94.27" fill="none" stroke="#f0961d" stroke-width="1.1"/>
<circle cx="202.50" cy="117.10" r="1.3" fill="#f0961d"/>
<circle cx="215.90" cy="117.10" r="1.3" fill="#f0961d"/>
<circle cx="229.30" cy="117.10" r="1.3" fill="#f0961d"/>
<circle cx="242.70" cy="117.10" r="1.3" fill="#f0961d"/>
<circle cx="256.10" cy="117.10" r="1.3" fill="#f0961d"/>
<line x1="269.5" y1="94.60719999999999" x2="269.5" y2="117.1" stroke="#f0961d" stroke-width="0.7"/>
<line x1="268.3" y1="94.60719999999999" x2="270.7" y2="94.60719999999999" stroke="#f0961d" stroke-width="0.7"/>
<line x1="268.3" y1="117.1" x2="270.7" y2="117.1" stroke="#f0961d" stroke-width="0.7"/>
<circle cx="269.50" cy="105.85" r="1.3" fill="#f0961d"/>
<line x1="282.9" y1="86.7688" x2="282.9" y2="101.764" stroke="#f0961d" stroke-width="0.7"/>
<line x1="281.7" y1="86.7688" x2="284.09999999999997" y2="86.7688" stroke="#f0961d" stroke-width="0.7"/>
<line x1="281.7" y1="101.764" x2="284.09999999999997" y2="101.764" stroke="#f0961d" stroke-width="0.7"/>
<circle cx="282.90" cy="94.27" r="1.3" fill="#f0961d"/>
<rect x="282.2" y="61.6" width="1.6" height="1.6" fill="#6cb545"/>
<rect x="282.2" y="59.0" width="1.6" height="1.6" fill="#6cb545"/>
<rect x="282.2" y="64.8" width="1.6" height="1.6" fill="#5e2d85"/>
<rect x="282.2" y="104.5" width="1.6" height="1.6" fill="#f0961d"/>
<rect x="268.7" y="98.4" width="1.6" height="1.6" fill="#f0961d"/>
<rect x="268.7" y="101.10000000000001" width="1.6" height="1.6" fill="#5e2d85"/>
<rect x="128.7" y="68.7" width="1.6" height="1.6" fill="#f0961d"/>
<rect x="142.0" y="71.7" width="1.6" height="1.6" fill="#f0961d"/>
<line x1="309.8" y1="54.3" x2="320.2" y2="54.3" stroke="#c1133d" stroke-width="1"/>
<circle cx="315" cy="54.3" r="1.3" fill="#c1133d"/>
<text x="324" y="57.0" font-size="8.2" fill="#231f20" stroke="#231f20">syngeneic</text>
<line x1="309.8" y1="63.75" x2="320.2" y2="63.75" stroke="#2b4c94" stroke-width="1"/>
<circle cx="315" cy="63.75" r="1.3" fill="#2b4c94"/>
<text x="324" y="66.45" font-size="8.2" fill="#231f20" stroke="#231f20">allogeneic</text>
<line x1="309.8" y1="73.19999999999999" x2="320.2" y2="73.19999999999999" stroke="#6cb545" stroke-width="1"/>
<circle cx="315" cy="73.19999999999999" r="1.3" fill="#6cb545"/>
<text x="324" y="75.89999999999999" font-size="8.2" fill="#231f20" stroke="#231f20">allogeneic+G007-LK</text>
<line x1="309.8" y1="82.64999999999999" x2="320.2" y2="82.64999999999999" stroke="#5e2d85" stroke-width="1"/>
<circle cx="315" cy="82.64999999999999" r="1.3" fill="#5e2d85"/>
<text x="324" y="85.35" font-size="8.2" fill="#231f20" stroke="#231f20">allogeneic+pyrvinium</text>
<line x1="309.8" y1="92.1" x2="320.2" y2="92.1" stroke="#f0961d" stroke-width="1"/>
<circle cx="315" cy="92.1" r="1.3" fill="#f0961d"/>
<text x="324" y="94.8" font-size="8.2" fill="#231f20" stroke="#231f20">allogeneic+salinomycin</text>
<rect x="63.30" y="359.88" width="10" height="33.42" fill="#d3867c"/>
<rect x="79.40" y="342.83" width="10" height="50.47" fill="#8d98c3"/>
<rect x="95.60" y="359.20" width="10" height="34.10" fill="#b6d69c"/>
<rect x="111.70" y="360.22" width="10" height="33.08" fill="#9d87b2"/>
<rect x="127.90" y="359.20" width="10" height="34.10" fill="#f1c88d"/>
<circle cx="62.70" cy="356.47" r="1.6" fill="#b5132f"/>
<circle cx="65.30" cy="360.22" r="1.6" fill="#b5132f"/>
<circle cx="67.30" cy="363.29" r="1.6" fill="#b5132f"/>
<circle cx="69.80" cy="361.59" r="1.6" fill="#b5132f"/>
<circle cx="71.70" cy="359.88" r="1.6" fill="#b5132f"/>
<circle cx="73.90" cy="356.47" r="1.6" fill="#b5132f"/>
<rect x="82.80" y="326.23" width="3.20" height="3.20" fill="#1f4b93"/>
<rect x="82.80" y="337.14" width="3.20" height="3.20" fill="#1f4b93"/>
<rect x="85.80" y="340.55" width="3.20" height="3.20" fill="#1f4b93"/>
<rect x="79.80" y="342.25" width="3.20" height="3.20" fill="#1f4b93"/>
<rect x="82.80" y="343.28" width="3.20" height="3.20" fill="#1f4b93"/>
<rect x="82.80" y="349.76" width="3.20" height="3.20" fill="#1f4b93"/>
<path d="M97.10,354.55L99.02,358.07L95.18,358.07Z" fill="#4bae3e"/>
<path d="M104.10,354.55L106.02,358.07L102.18,358.07Z" fill="#4bae3e"/>
<path d="M100.60,357.28L102.52,360.80L98.68,360.80Z" fill="#4bae3e"/>
<path d="M98.60,353.87L100.52,357.39L96.68,357.39Z" fill="#4bae3e"/>
<path d="M102.60,353.87L104.52,357.39L100.68,357.39Z" fill="#4bae3e"/>
<path d="M100.60,363.08L102.52,366.60L98.68,366.60Z" fill="#4bae3e"/>
<path d="M116.70,345.43L118.62,341.91L114.78,341.91Z" fill="#4a1f79"/>
<path d="M113.50,353.28L115.42,349.76L111.58,349.76Z" fill="#4a1f79"/>
<path d="M119.70,358.39L121.62,354.87L117.78,354.87Z" fill="#4a1f79"/>
<path d="M116.70,370.67L118.62,367.15L114.78,367.15Z" fill="#4a1f79"/>
<path d="M113.70,368.62L115.62,365.10L111.78,365.10Z" fill="#4a1f79"/>
<path d="M119.70,367.26L121.62,363.74L117.78,363.74Z" fill="#4a1f79"/>
<path d="M132.90,346.89L134.66,348.97L132.90,351.05L131.14,348.97Z" fill="#f08c1a"/>
<path d="M129.50,355.76L131.26,357.84L129.50,359.92L127.74,357.84Z" fill="#f08c1a"/>
<path d="M136.10,355.76L137.86,357.84L136.10,359.92L134.34,357.84Z" fill="#f08c1a"/>
<path d="M132.90,359.85L134.66,361.93L132.90,364.01L131.14,361.93Z" fill="#f08c1a"/>
<path d="M130.40,363.26L132.16,365.34L130.40,367.42L128.64,365.34Z" fill="#f08c1a"/>
<path d="M135.40,360.53L137.16,362.61L135.40,364.69L133.64,362.61Z" fill="#f08c1a"/>
<line x1="68.3" y1="356.472" x2="68.3" y2="362.61" stroke="#111" stroke-width="0.9"/>
<line x1="65.7" y1="356.472" x2="70.89999999999999" y2="356.472" stroke="#111" stroke-width="0.9"/>
<line x1="65.7" y1="362.61" x2="70.89999999999999" y2="362.61" stroke="#111" stroke-width="0.9"/>
<line x1="84.4" y1="334.307" x2="84.4" y2="351.357" stroke="#111" stroke-width="0.9"/>
<line x1="81.80000000000001" y1="334.307" x2="87.0" y2="334.307" stroke="#111" stroke-width="0.9"/>
<line x1="81.80000000000001" y1="351.357" x2="87.0" y2="351.357" stroke="#111" stroke-width="0.9"/>
<line x1="100.6" y1="354.767" x2="100.6" y2="361.928" stroke="#111" stroke-width="0.9"/>
<line x1="98.0" y1="354.767" x2="103.19999999999999" y2="354.767" stroke="#111" stroke-width="0.9"/>
<line x1="98.0" y1="361.928" x2="103.19999999999999" y2="361.928" stroke="#111" stroke-width="0.9"/>
<line x1="116.7" y1="349.31100000000004" x2="116.7" y2="368.748" stroke="#111" stroke-width="0.9"/>
<line x1="114.10000000000001" y1="349.31100000000004" x2="119.3" y2="349.31100000000004" stroke="#111" stroke-width="0.9"/>
<line x1="114.10000000000001" y1="368.748" x2="119.3" y2="368.748" stroke="#111" stroke-width="0.9"/>
<line x1="132.9" y1="352.721" x2="132.9" y2="364.315" stroke="#111" stroke-width="0.9"/>
<line x1="130.3" y1="352.721" x2="135.5" y2="352.721" stroke="#111" stroke-width="0.9"/>
<line x1="130.3" y1="364.315" x2="135.5" y2="364.315" stroke="#111" stroke-width="0.9"/>
<line x1="60.3" y1="305.6" x2="60.3" y2="393.8" stroke="#231f20" stroke-width="1.1"/>
<line x1="59.8" y1="393.3" x2="141.2" y2="393.3" stroke="#231f20" stroke-width="1.1"/>
<line x1="57.3" y1="393.3" x2="60.3" y2="393.3" stroke="#231f20" stroke-width="1"/>
<text x="53.5" y="396.3" font-size="9" text-anchor="end" textLength="11.26" lengthAdjust="spacingAndGlyphs" fill="#231f20" stroke="#231f20">0.0</text>
<line x1="57.3" y1="376.25" x2="60.3" y2="376.25" stroke="#231f20" stroke-width="1"/>
<text x="53.5" y="379.25" font-size="9" text-anchor="end" textLength="11.26" lengthAdjust="spacingAndGlyphs" fill="#231f20" stroke="#231f20">0.5</text>
<line x1="57.3" y1="359.2" x2="60.3" y2="359.2" stroke="#231f20" stroke-width="1"/>
<text x="53.5" y="362.2" font-size="9" text-anchor="end" textLength="11.26" lengthAdjust="spacingAndGlyphs" fill="#231f20" stroke="#231f20">1.0</text>
<line x1="57.3" y1="342.15" x2="60.3" y2="342.15" stroke="#231f20" stroke-width="1"/>
<text x="53.5" y="345.15" font-size="9" text-anchor="end" textLength="11.26" lengthAdjust="spacingAndGlyphs" fill="#231f20" stroke="#231f20">1.5</text>
<line x1="57.3" y1="325.1" x2="60.3" y2="325.1" stroke="#231f20" stroke-width="1"/>
<text x="53.5" y="328.1" font-size="9" text-anchor="end" textLength="11.26" lengthAdjust="spacingAndGlyphs" fill="#231f20" stroke="#231f20">2.0</text>
<line x1="57.3" y1="308.05" x2="60.3" y2="308.05" stroke="#231f20" stroke-width="1"/>
<text x="53.5" y="311.05" font-size="9" text-anchor="end" textLength="11.26" lengthAdjust="spacingAndGlyphs" fill="#231f20" stroke="#231f20">2.5</text>
<line x1="68.3" y1="393.3" x2="68.3" y2="396.5" stroke="#231f20" stroke-width="1"/>
<line x1="84.4" y1="393.3" x2="84.4" y2="396.5" stroke="#231f20" stroke-width="1"/>
<line x1="100.6" y1="393.3" x2="100.6" y2="396.5" stroke="#231f20" stroke-width="1"/>
<line x1="116.7" y1="393.3" x2="116.7" y2="396.5" stroke="#231f20" stroke-width="1"/>
<line x1="132.9" y1="393.3" x2="132.9" y2="396.5" stroke="#231f20" stroke-width="1"/>
<path d="M84.40,324.80V322.80H100.60V324.80" fill="none" stroke="#111" stroke-width="1"/>
<path d="M90.80,318.30V321.10M89.55,319.00L92.05,320.40M89.55,320.40L92.05,319.00" stroke="#111" stroke-width="0.85"/>
<path d="M94.20,318.30V321.10M92.95,319.00L95.45,320.40M92.95,320.40L95.45,319.00" stroke="#111" stroke-width="0.85"/>
<path d="M84.40,317.20V315.20H116.70V317.20" fill="none" stroke="#111" stroke-width="1"/>
<path d="M100.55,310.70V313.50M99.30,311.40L101.80,312.80M99.30,312.80L101.80,311.40" stroke="#111" stroke-width="0.85"/>
<path d="M84.40,309.70V307.70H132.90V309.70" fill="none" stroke="#111" stroke-width="1"/>
<path d="M106.95,303.20V306.00M105.70,303.90L108.20,305.30M105.70,305.30L108.20,303.90" stroke="#111" stroke-width="0.85"/>
<path d="M110.35,303.20V306.00M109.10,303.90L111.60,305.30M109.10,305.30L111.60,303.90" stroke="#111" stroke-width="0.85"/>
<text transform="translate(22.9,378.5) rotate(-90)" x="0" y="0" font-size="10" textLength="59" lengthAdjust="spacingAndGlyphs" fill="#231f20" stroke="#231f20">x-fold change of</text>
<text transform="translate(35.1,380.3) rotate(-90)" x="0" y="0" font-size="10" textLength="62.6" lengthAdjust="spacingAndGlyphs" fill="#231f20" stroke="#231f20">dermal thickness</text>
<rect x="201.00" y="359.49" width="10" height="33.41" fill="#d3867c"/>
<rect x="217.30" y="336.42" width="10" height="56.48" fill="#8d98c3"/>
<rect x="234.00" y="356.39" width="10" height="36.51" fill="#b6d69c"/>
<rect x="250.60" y="349.51" width="10" height="43.39" fill="#9d87b2"/>
<rect x="267.00" y="355.02" width="10" height="37.88" fill="#f1c88d"/>
<circle cx="202.00" cy="355.70" r="1.6" fill="#b5132f"/>
<circle cx="206.00" cy="358.46" r="1.6" fill="#b5132f"/>
<circle cx="209.00" cy="357.77" r="1.6" fill="#b5132f"/>
<circle cx="204.00" cy="360.18" r="1.6" fill="#b5132f"/>
<circle cx="208.00" cy="360.18" r="1.6" fill="#b5132f"/>
<circle cx="211.00" cy="356.74" r="1.6" fill="#b5132f"/>
<rect x="217.00" y="322.42" width="3.20" height="3.20" fill="#1f4b93"/>
<rect x="224.40" y="322.42" width="3.20" height="3.20" fill="#1f4b93"/>
<rect x="220.70" y="330.00" width="3.20" height="3.20" fill="#1f4b93"/>
<rect x="217.00" y="340.33" width="3.20" height="3.20" fill="#1f4b93"/>
<rect x="224.40" y="340.33" width="3.20" height="3.20" fill="#1f4b93"/>
<rect x="220.70" y="349.28" width="3.20" height="3.20" fill="#1f4b93"/>
<path d="M235.50,352.41L237.42,355.93L233.58,355.93Z" fill="#4bae3e"/>
<path d="M242.50,352.41L244.42,355.93L240.58,355.93Z" fill="#4bae3e"/>
<path d="M239.00,351.03L240.92,354.55L237.08,354.55Z" fill="#4bae3e"/>
<path d="M237.00,356.54L238.92,360.06L235.08,360.06Z" fill="#4bae3e"/>
<path d="M241.00,356.54L242.92,360.06L239.08,360.06Z" fill="#4bae3e"/>
<path d="M239.00,354.82L240.92,358.34L237.08,358.34Z" fill="#4bae3e"/>
<path d="M253.00,343.16L254.92,339.64L251.08,339.64Z" fill="#4a1f79"/>
<path d="M258.20,342.47L260.12,338.95L256.28,338.95Z" fill="#4a1f79"/>
<path d="M255.60,347.29L257.52,343.77L253.68,343.77Z" fill="#4a1f79"/>
<path d="M252.10,355.90L254.02,352.38L250.18,352.38Z" fill="#4a1f79"/>
<path d="M259.10,354.18L261.02,350.66L257.18,350.66Z" fill="#4a1f79"/>
<path d="M255.60,356.94L257.52,353.42L253.68,353.42Z" fill="#4a1f79"/>
<path d="M270.00,350.87L271.76,352.95L270.00,355.03L268.24,352.95Z" fill="#f08c1a"/>
<path d="M274.50,350.53L276.26,352.61L274.50,354.69L272.74,352.61Z" fill="#f08c1a"/>
<path d="M272.00,354.66L273.76,356.74L272.00,358.82L270.24,356.74Z" fill="#f08c1a"/>
<path d="M269.00,352.94L270.76,355.02L269.00,357.10L267.24,355.02Z" fill="#f08c1a"/>
<path d="M275.00,352.25L276.76,354.33L275.00,356.41L273.24,354.33Z" fill="#f08c1a"/>
<path d="M272.00,356.38L273.76,358.46L272.00,360.54L270.24,358.46Z" fill="#f08c1a"/>
<line x1="206" y1="357.42679999999996" x2="206" y2="360.18199999999996" stroke="#111" stroke-width="0.9"/>
<line x1="203.4" y1="357.42679999999996" x2="208.6" y2="357.42679999999996" stroke="#111" stroke-width="0.9"/>
<line x1="203.4" y1="360.18199999999996" x2="208.6" y2="360.18199999999996" stroke="#111" stroke-width="0.9"/>
<line x1="222.3" y1="325.0532" x2="222.3" y2="347.09479999999996" stroke="#111" stroke-width="0.9"/>
<line x1="219.70000000000002" y1="325.0532" x2="224.9" y2="325.0532" stroke="#111" stroke-width="0.9"/>
<line x1="219.70000000000002" y1="347.09479999999996" x2="224.9" y2="347.09479999999996" stroke="#111" stroke-width="0.9"/>
<line x1="239" y1="352.9496" x2="239" y2="358.8044" stroke="#111" stroke-width="0.9"/>
<line x1="236.4" y1="352.9496" x2="241.6" y2="352.9496" stroke="#111" stroke-width="0.9"/>
<line x1="236.4" y1="358.8044" x2="241.6" y2="358.8044" stroke="#111" stroke-width="0.9"/>
<line x1="255.6" y1="342.962" x2="255.6" y2="355.7048" stroke="#111" stroke-width="0.9"/>
<line x1="253.0" y1="342.962" x2="258.2" y2="342.962" stroke="#111" stroke-width="0.9"/>
<line x1="253.0" y1="355.7048" x2="258.2" y2="355.7048" stroke="#111" stroke-width="0.9"/>
<line x1="272" y1="352.60519999999997" x2="272" y2="357.42679999999996" stroke="#111" stroke-width="0.9"/>
<line x1="269.4" y1="352.60519999999997" x2="274.6" y2="352.60519999999997" stroke="#111" stroke-width="0.9"/>
<line x1="269.4" y1="357.42679999999996" x2="274.6" y2="357.42679999999996" stroke="#111" stroke-width="0.9"/>
<line x1="197.9" y1="303.8" x2="197.9" y2="393.4" stroke="#231f20" stroke-width="1.1"/>
<line x1="197.4" y1="392.9" x2="280.5" y2="392.9" stroke="#231f20" stroke-width="1.1"/>
<line x1="194.9" y1="392.9" x2="197.9" y2="392.9" stroke="#231f20" stroke-width="1"/>
<text x="191.1" y="395.9" font-size="9" text-anchor="end" textLength="11.26" lengthAdjust="spacingAndGlyphs" fill="#231f20" stroke="#231f20">0.0</text>
<line x1="194.9" y1="375.67999999999995" x2="197.9" y2="375.67999999999995" stroke="#231f20" stroke-width="1"/>
<text x="191.1" y="378.67999999999995" font-size="9" text-anchor="end" textLength="11.26" lengthAdjust="spacingAndGlyphs" fill="#231f20" stroke="#231f20">0.5</text>
<line x1="194.9" y1="358.46" x2="197.9" y2="358.46" stroke="#231f20" stroke-width="1"/>
<text x="191.1" y="361.46" font-size="9" text-anchor="end" textLength="11.26" lengthAdjust="spacingAndGlyphs" fill="#231f20" stroke="#231f20">1.0</text>
<line x1="194.9" y1="341.24" x2="197.9" y2="341.24" stroke="#231f20" stroke-width="1"/>
<text x="191.1" y="344.24" font-size="9" text-anchor="end" textLength="11.26" lengthAdjust="spacingAndGlyphs" fill="#231f20" stroke="#231f20">1.5</text>
<line x1="194.9" y1="324.02" x2="197.9" y2="324.02" stroke="#231f20" stroke-width="1"/>
<text x="191.1" y="327.02" font-size="9" text-anchor="end" textLength="11.26" lengthAdjust="spacingAndGlyphs" fill="#231f20" stroke="#231f20">2.0</text>
<line x1="194.9" y1="306.79999999999995" x2="197.9" y2="306.79999999999995" stroke="#231f20" stroke-width="1"/>
<text x="191.1" y="309.79999999999995" font-size="9" text-anchor="end" textLength="11.26" lengthAdjust="spacingAndGlyphs" fill="#231f20" stroke="#231f20">2.5</text>
<line x1="206" y1="392.9" x2="206" y2="396.09999999999997" stroke="#231f20" stroke-width="1"/>
<line x1="222.3" y1="392.9" x2="222.3" y2="396.09999999999997" stroke="#231f20" stroke-width="1"/>
<line x1="239" y1="392.9" x2="239" y2="396.09999999999997" stroke="#231f20" stroke-width="1"/>
<line x1="255.6" y1="392.9" x2="255.6" y2="396.09999999999997" stroke="#231f20" stroke-width="1"/>
<line x1="272" y1="392.9" x2="272" y2="396.09999999999997" stroke="#231f20" stroke-width="1"/>
<path d="M222.30,320.00V318.00H239.00V320.00" fill="none" stroke="#111" stroke-width="1"/>
<path d="M228.95,313.50V316.30M227.70,314.20L230.20,315.60M227.70,315.60L230.20,314.20" stroke="#111" stroke-width="0.85"/>
<path d="M232.35,313.50V316.30M231.10,314.20L233.60,315.60M231.10,315.60L233.60,314.20" stroke="#111" stroke-width="0.85"/>
<path d="M222.30,313.00V311.00H255.60V313.00" fill="none" stroke="#111" stroke-width="1"/>
<path d="M238.95,306.50V309.30M237.70,307.20L240.20,308.60M237.70,308.60L240.20,307.20" stroke="#111" stroke-width="0.85"/>
<path d="M222.30,305.70V303.70H272.00V305.70" fill="none" stroke="#111" stroke-width="1"/>
<path d="M245.45,299.20V302.00M244.20,299.90L246.70,301.30M244.20,301.30L246.70,299.90" stroke="#111" stroke-width="0.85"/>
<path d="M248.85,299.20V302.00M247.60,299.90L250.10,301.30M247.60,301.30L250.10,299.90" stroke="#111" stroke-width="0.85"/>
<text transform="translate(159.7,377.9) rotate(-90)" x="0" y="0" font-size="10" textLength="59" lengthAdjust="spacingAndGlyphs" fill="#231f20" stroke="#231f20">x-fold change of</text>
<text transform="translate(172.7,391.4) rotate(-90)" x="0" y="0" font-size="10" textLength="86" lengthAdjust="spacingAndGlyphs" fill="#231f20" stroke="#231f20">hydroxyproline content</text>
<rect x="332.70" y="379.61" width="10" height="13.39" fill="#d3867c"/>
<rect x="348.50" y="339.73" width="10" height="53.27" fill="#8d98c3"/>
<rect x="364.40" y="374.92" width="10" height="18.08" fill="#b6d69c"/>
<rect x="380.40" y="376.72" width="10" height="16.28" fill="#9d87b2"/>
<rect x="395.80" y="375.89" width="10" height="17.11" fill="#f1c88d"/>
<circle cx="334.50" cy="373.68" r="1.6" fill="#b5132f"/>
<circle cx="340.90" cy="373.68" r="1.6" fill="#b5132f"/>
<circle cx="337.70" cy="379.20" r="1.6" fill="#b5132f"/>
<circle cx="334.20" cy="379.61" r="1.6" fill="#b5132f"/>
<circle cx="341.20" cy="379.61" r="1.6" fill="#b5132f"/>
<circle cx="337.70" cy="386.51" r="1.6" fill="#b5132f"/>
<rect x="351.90" y="323.23" width="3.20" height="3.20" fill="#1f4b93"/>
<rect x="351.90" y="332.89" width="3.20" height="3.20" fill="#1f4b93"/>
<rect x="348.40" y="340.89" width="3.20" height="3.20" fill="#1f4b93"/>
<rect x="355.40" y="340.89" width="3.20" height="3.20" fill="#1f4b93"/>
<rect x="351.90" y="343.79" width="3.20" height="3.20" fill="#1f4b93"/>
<rect x="351.90" y="337.58" width="3.20" height="3.20" fill="#1f4b93"/>
<path d="M369.40,366.24L371.32,369.76L367.48,369.76Z" fill="#4bae3e"/>
<path d="M365.90,373.14L367.82,376.66L363.98,376.66Z" fill="#4bae3e"/>
<path d="M372.90,373.14L374.82,376.66L370.98,376.66Z" fill="#4bae3e"/>
<path d="M369.40,379.07L371.32,382.59L367.48,382.59Z" fill="#4bae3e"/>
<path d="M366.40,375.90L368.32,379.42L364.48,379.42Z" fill="#4bae3e"/>
<path d="M372.40,376.59L374.32,380.11L370.48,380.11Z" fill="#4bae3e"/>
<path d="M381.40,375.88L383.32,372.36L379.48,372.36Z" fill="#4a1f79"/>
<path d="M385.40,375.88L387.32,372.36L383.48,372.36Z" fill="#4a1f79"/>
<path d="M389.40,375.88L391.32,372.36L387.48,372.36Z" fill="#4a1f79"/>
<path d="M381.40,381.12L383.32,377.60L379.48,377.60Z" fill="#4a1f79"/>
<path d="M389.40,381.12L391.32,377.60L387.48,377.60Z" fill="#4a1f79"/>
<path d="M385.40,382.22L387.32,378.70L383.48,378.70Z" fill="#4a1f79"/>
<path d="M400.80,366.63L402.56,368.71L400.80,370.79L399.04,368.71Z" fill="#f08c1a"/>
<path d="M397.50,373.81L399.26,375.89L397.50,377.97L395.74,375.89Z" fill="#f08c1a"/>
<path d="M404.10,373.81L405.86,375.89L404.10,377.97L402.34,375.89Z" fill="#f08c1a"/>
<path d="M398.00,377.81L399.76,379.89L398.00,381.97L396.24,379.89Z" fill="#f08c1a"/>
<path d="M403.60,377.81L405.36,379.89L403.60,381.97L401.84,379.89Z" fill="#f08c1a"/>
<path d="M400.80,371.60L402.56,373.68L400.80,375.76L399.04,373.68Z" fill="#f08c1a"/>
<line x1="337.7" y1="374.37" x2="337.7" y2="384.444" stroke="#111" stroke-width="0.9"/>
<line x1="335.09999999999997" y1="374.37" x2="340.3" y2="374.37" stroke="#111" stroke-width="0.9"/>
<line x1="335.09999999999997" y1="384.444" x2="340.3" y2="384.444" stroke="#111" stroke-width="0.9"/>
<line x1="353.5" y1="331.176" x2="353.5" y2="346.356" stroke="#111" stroke-width="0.9"/>
<line x1="350.9" y1="331.176" x2="356.1" y2="331.176" stroke="#111" stroke-width="0.9"/>
<line x1="350.9" y1="346.356" x2="356.1" y2="346.356" stroke="#111" stroke-width="0.9"/>
<line x1="369.4" y1="370.782" x2="369.4" y2="378.096" stroke="#111" stroke-width="0.9"/>
<line x1="366.79999999999995" y1="370.782" x2="372.0" y2="370.782" stroke="#111" stroke-width="0.9"/>
<line x1="366.79999999999995" y1="378.096" x2="372.0" y2="378.096" stroke="#111" stroke-width="0.9"/>
<line x1="385.4" y1="373.956" x2="385.4" y2="379.614" stroke="#111" stroke-width="0.9"/>
<line x1="382.79999999999995" y1="373.956" x2="388.0" y2="373.956" stroke="#111" stroke-width="0.9"/>
<line x1="382.79999999999995" y1="379.614" x2="388.0" y2="379.614" stroke="#111" stroke-width="0.9"/>
<line x1="400.8" y1="371.196" x2="400.8" y2="379.614" stroke="#111" stroke-width="0.9"/>
<line x1="398.2" y1="371.196" x2="403.40000000000003" y2="371.196" stroke="#111" stroke-width="0.9"/>
<line x1="398.2" y1="379.614" x2="403.40000000000003" y2="379.614" stroke="#111" stroke-width="0.9"/>
<line x1="329.6" y1="306.8" x2="329.6" y2="393.5" stroke="#231f20" stroke-width="1.1"/>
<line x1="329.1" y1="393.0" x2="408.8" y2="393.0" stroke="#231f20" stroke-width="1.1"/>
<line x1="326.6" y1="393.0" x2="329.6" y2="393.0" stroke="#231f20" stroke-width="1"/>
<text x="322.8" y="396.0" font-size="9" text-anchor="end" textLength="4.5" lengthAdjust="spacingAndGlyphs" fill="#231f20" stroke="#231f20">0</text>
<line x1="326.6" y1="365.4" x2="329.6" y2="365.4" stroke="#231f20" stroke-width="1"/>
<text x="322.8" y="368.4" font-size="9" text-anchor="end" textLength="4.5" lengthAdjust="spacingAndGlyphs" fill="#231f20" stroke="#231f20">2</text>
<line x1="326.6" y1="337.8" x2="329.6" y2="337.8" stroke="#231f20" stroke-width="1"/>
<text x="322.8" y="340.8" font-size="9" text-anchor="end" textLength="4.5" lengthAdjust="spacingAndGlyphs" fill="#231f20" stroke="#231f20">4</text>
<line x1="326.6" y1="310.2" x2="329.6" y2="310.2" stroke="#231f20" stroke-width="1"/>
<text x="322.8" y="313.2" font-size="9" text-anchor="end" textLength="4.5" lengthAdjust="spacingAndGlyphs" fill="#231f20" stroke="#231f20">6</text>
<line x1="337.7" y1="393.0" x2="337.7" y2="396.2" stroke="#231f20" stroke-width="1"/>
<line x1="353.5" y1="393.0" x2="353.5" y2="396.2" stroke="#231f20" stroke-width="1"/>
<line x1="369.4" y1="393.0" x2="369.4" y2="396.2" stroke="#231f20" stroke-width="1"/>
<line x1="385.4" y1="393.0" x2="385.4" y2="396.2" stroke="#231f20" stroke-width="1"/>
<line x1="400.8" y1="393.0" x2="400.8" y2="396.2" stroke="#231f20" stroke-width="1"/>
<path d="M353.50,320.50V318.50H369.40V320.50" fill="none" stroke="#111" stroke-width="1"/>
<path d="M358.05,314.00V316.80M356.80,314.70L359.30,316.10M356.80,316.10L359.30,314.70" stroke="#111" stroke-width="0.85"/>
<path d="M361.45,314.00V316.80M360.20,314.70L362.70,316.10M360.20,316.10L362.70,314.70" stroke="#111" stroke-width="0.85"/>
<path d="M364.85,314.00V316.80M363.60,314.70L366.10,316.10M363.60,316.10L366.10,314.70" stroke="#111" stroke-width="0.85"/>
<path d="M353.50,313.30V311.30H385.40V313.30" fill="none" stroke="#111" stroke-width="1"/>
<path d="M366.05,306.80V309.60M364.80,307.50L367.30,308.90M364.80,308.90L367.30,307.50" stroke="#111" stroke-width="0.85"/>
<path d="M369.45,306.80V309.60M368.20,307.50L370.70,308.90M368.20,308.90L370.70,307.50" stroke="#111" stroke-width="0.85"/>
<path d="M372.85,306.80V309.60M371.60,307.50L374.10,308.90M371.60,308.90L374.10,307.50" stroke="#111" stroke-width="0.85"/>
<path d="M353.50,305.70V303.70H400.80V305.70" fill="none" stroke="#111" stroke-width="1"/>
<path d="M373.75,299.20V302.00M372.50,299.90L375.00,301.30M372.50,301.30L375.00,299.90" stroke="#111" stroke-width="0.85"/>
<path d="M377.15,299.20V302.00M375.90,299.90L378.40,301.30M375.90,301.30L378.40,299.90" stroke="#111" stroke-width="0.85"/>
<path d="M380.55,299.20V302.00M379.30,299.90L381.80,301.30M379.30,301.30L381.80,299.90" stroke="#111" stroke-width="0.85"/>
<text transform="translate(299.1,379.7) rotate(-90)" x="0" y="0" font-size="10" textLength="59" lengthAdjust="spacingAndGlyphs" fill="#231f20" stroke="#231f20">x-fold change of</text>
<text transform="translate(312.1,389.09999999999997) rotate(-90)" x="0" y="0" font-size="10" textLength="77.8" lengthAdjust="spacingAndGlyphs" fill="#231f20" stroke="#231f20">myofibroblasts count</text>
<rect x="63.30" y="606.86" width="10" height="42.34" fill="#d3867c"/>
<rect x="79.60" y="586.99" width="10" height="62.21" fill="#8d98c3"/>
<rect x="96.00" y="606.00" width="10" height="43.20" fill="#b6d69c"/>
<rect x="112.30" y="612.05" width="10" height="37.15" fill="#9d87b2"/>
<rect x="128.70" y="612.91" width="10" height="36.29" fill="#f1c88d"/>
<circle cx="68.30" cy="601.68" r="1.6" fill="#b5132f"/>
<circle cx="64.50" cy="603.84" r="1.6" fill="#b5132f"/>
<circle cx="72.10" cy="603.84" r="1.6" fill="#b5132f"/>
<circle cx="66.30" cy="608.16" r="1.6" fill="#b5132f"/>
<circle cx="70.30" cy="606.00" r="1.6" fill="#b5132f"/>
<circle cx="68.30" cy="616.37" r="1.6" fill="#b5132f"/>
<rect x="83.00" y="570.70" width="3.20" height="3.20" fill="#1f4b93"/>
<rect x="83.00" y="578.91" width="3.20" height="3.20" fill="#1f4b93"/>
<rect x="80.40" y="586.26" width="3.20" height="3.20" fill="#1f4b93"/>
<rect x="84.60" y="586.26" width="3.20" height="3.20" fill="#1f4b93"/>
<rect x="87.60" y="587.12" width="3.20" height="3.20" fill="#1f4b93"/>
<rect x="80.40" y="594.90" width="3.20" height="3.20" fill="#1f4b93"/>
<rect x="84.60" y="591.44" width="3.20" height="3.20" fill="#1f4b93"/>
<path d="M97.50,599.76L99.42,603.28L95.58,603.28Z" fill="#4bae3e"/>
<path d="M104.50,599.76L106.42,603.28L102.58,603.28Z" fill="#4bae3e"/>
<path d="M101.00,601.92L102.92,605.44L99.08,605.44Z" fill="#4bae3e"/>
<path d="M101.00,612.72L102.92,616.24L99.08,616.24Z" fill="#4bae3e"/>
<path d="M99.00,604.08L100.92,607.60L97.08,607.60Z" fill="#4bae3e"/>
<path d="M103.00,604.94L104.92,608.46L101.08,608.46Z" fill="#4bae3e"/>
<path d="M113.50,603.60L115.42,600.08L111.58,600.08Z" fill="#4a1f79"/>
<path d="M121.10,603.60L123.02,600.08L119.18,600.08Z" fill="#4a1f79"/>
<path d="M117.30,612.24L119.22,608.72L115.38,608.72Z" fill="#4a1f79"/>
<path d="M115.00,619.15L116.92,615.63L113.08,615.63Z" fill="#4a1f79"/>
<path d="M119.60,619.15L121.52,615.63L117.68,615.63Z" fill="#4a1f79"/>
<path d="M117.30,616.56L119.22,613.04L115.38,613.04Z" fill="#4a1f79"/>
<path d="M133.70,602.62L135.46,604.70L133.70,606.78L131.94,604.70Z" fill="#f08c1a"/>
<path d="M130.50,610.40L132.26,612.48L130.50,614.56L128.74,612.48Z" fill="#f08c1a"/>
<path d="M136.90,610.40L138.66,612.48L136.90,614.56L135.14,612.48Z" fill="#f08c1a"/>
<path d="M133.70,617.74L135.46,619.82L133.70,621.90L131.94,619.82Z" fill="#f08c1a"/>
<path d="M130.50,616.02L132.26,618.10L130.50,620.18L128.74,618.10Z" fill="#f08c1a"/>
<path d="M136.90,616.02L138.66,618.10L136.90,620.18L135.14,618.10Z" fill="#f08c1a"/>
<line x1="68.3" y1="602.1120000000001" x2="68.3" y2="611.1840000000001" stroke="#111" stroke-width="0.9"/>
<line x1="65.7" y1="602.1120000000001" x2="70.89999999999999" y2="602.1120000000001" stroke="#111" stroke-width="0.9"/>
<line x1="65.7" y1="611.1840000000001" x2="70.89999999999999" y2="611.1840000000001" stroke="#111" stroke-width="0.9"/>
<line x1="84.6" y1="577.488" x2="84.6" y2="595.6320000000001" stroke="#111" stroke-width="0.9"/>
<line x1="82.0" y1="577.488" x2="87.19999999999999" y2="577.488" stroke="#111" stroke-width="0.9"/>
<line x1="82.0" y1="595.6320000000001" x2="87.19999999999999" y2="595.6320000000001" stroke="#111" stroke-width="0.9"/>
<line x1="101" y1="600.816" x2="101" y2="610.7520000000001" stroke="#111" stroke-width="0.9"/>
<line x1="98.4" y1="600.816" x2="103.6" y2="600.816" stroke="#111" stroke-width="0.9"/>
<line x1="98.4" y1="610.7520000000001" x2="103.6" y2="610.7520000000001" stroke="#111" stroke-width="0.9"/>
<line x1="117.3" y1="603.84" x2="117.3" y2="618.528" stroke="#111" stroke-width="0.9"/>
<line x1="114.7" y1="603.84" x2="119.89999999999999" y2="603.84" stroke="#111" stroke-width="0.9"/>
<line x1="114.7" y1="618.528" x2="119.89999999999999" y2="618.528" stroke="#111" stroke-width="0.9"/>
<line x1="133.7" y1="607.296" x2="133.7" y2="617.664" stroke="#111" stroke-width="0.9"/>
<line x1="131.1" y1="607.296" x2="136.29999999999998" y2="607.296" stroke="#111" stroke-width="0.9"/>
<line x1="131.1" y1="617.664" x2="136.29999999999998" y2="617.664" stroke="#111" stroke-width="0.9"/>
<line x1="60.3" y1="561" x2="60.3" y2="649.7" stroke="#231f20" stroke-width="1.1"/>
<line x1="59.8" y1="649.2" x2="141.5" y2="649.2" stroke="#231f20" stroke-width="1.1"/>
<line x1="57.3" y1="649.2" x2="60.3" y2="649.2" stroke="#231f20" stroke-width="1"/>
<text x="53.5" y="652.2" font-size="9" text-anchor="end" textLength="11.26" lengthAdjust="spacingAndGlyphs" fill="#231f20" stroke="#231f20">0.0</text>
<line x1="57.3" y1="627.6" x2="60.3" y2="627.6" stroke="#231f20" stroke-width="1"/>
<text x="53.5" y="630.6" font-size="9" text-anchor="end" textLength="11.26" lengthAdjust="spacingAndGlyphs" fill="#231f20" stroke="#231f20">0.5</text>
<line x1="57.3" y1="606.0" x2="60.3" y2="606.0" stroke="#231f20" stroke-width="1"/>
<text x="53.5" y="609.0" font-size="9" text-anchor="end" textLength="11.26" lengthAdjust="spacingAndGlyphs" fill="#231f20" stroke="#231f20">1.0</text>
<line x1="57.3" y1="584.4000000000001" x2="60.3" y2="584.4000000000001" stroke="#231f20" stroke-width="1"/>
<text x="53.5" y="587.4000000000001" font-size="9" text-anchor="end" textLength="11.26" lengthAdjust="spacingAndGlyphs" fill="#231f20" stroke="#231f20">1.5</text>
<line x1="57.3" y1="562.8000000000001" x2="60.3" y2="562.8000000000001" stroke="#231f20" stroke-width="1"/>
<text x="53.5" y="565.8000000000001" font-size="9" text-anchor="end" textLength="11.26" lengthAdjust="spacingAndGlyphs" fill="#231f20" stroke="#231f20">2.0</text>
<line x1="68.3" y1="649.2" x2="68.3" y2="652.4000000000001" stroke="#231f20" stroke-width="1"/>
<line x1="84.6" y1="649.2" x2="84.6" y2="652.4000000000001" stroke="#231f20" stroke-width="1"/>
<line x1="101" y1="649.2" x2="101" y2="652.4000000000001" stroke="#231f20" stroke-width="1"/>
<line x1="117.3" y1="649.2" x2="117.3" y2="652.4000000000001" stroke="#231f20" stroke-width="1"/>
<line x1="133.7" y1="649.2" x2="133.7" y2="652.4000000000001" stroke="#231f20" stroke-width="1"/>
<path d="M84.60,569.50V567.50H101.00V569.50" fill="none" stroke="#111" stroke-width="1"/>
<path d="M91.10,563.00V565.80M89.85,563.70L92.35,565.10M89.85,565.10L92.35,563.70" stroke="#111" stroke-width="0.85"/>
<path d="M94.50,563.00V565.80M93.25,563.70L95.75,565.10M93.25,565.10L95.75,563.70" stroke="#111" stroke-width="0.85"/>
<path d="M84.60,562.20V560.20H117.30V562.20" fill="none" stroke="#111" stroke-width="1"/>
<path d="M99.25,555.70V558.50M98.00,556.40L100.50,557.80M98.00,557.80L100.50,556.40" stroke="#111" stroke-width="0.85"/>
<path d="M102.65,555.70V558.50M101.40,556.40L103.90,557.80M101.40,557.80L103.90,556.40" stroke="#111" stroke-width="0.85"/>
<path d="M84.60,555.00V553.00H133.70V555.00" fill="none" stroke="#111" stroke-width="1"/>
<path d="M109.15,548.50V551.30M107.90,549.20L110.40,550.60M107.90,550.60L110.40,549.20" stroke="#111" stroke-width="0.85"/>
<text transform="translate(22.9,637.3) rotate(-90)" x="0" y="0" font-size="10" textLength="58" lengthAdjust="spacingAndGlyphs" fill="#231f20" stroke="#231f20">x-fold change of</text>
<text transform="translate(35.1,629.8) rotate(-90)" x="0" y="0" font-size="10" textLength="43" lengthAdjust="spacingAndGlyphs" fill="#231f20" stroke="#231f20">fibrotic area</text>
<rect x="201.00" y="606.86" width="10" height="42.34" fill="#d3867c"/>
<rect x="217.30" y="579.22" width="10" height="69.98" fill="#8d98c3"/>
<rect x="233.80" y="600.82" width="10" height="48.38" fill="#b6d69c"/>
<rect x="250.20" y="598.66" width="10" height="50.54" fill="#9d87b2"/>
<rect x="266.50" y="600.38" width="10" height="48.82" fill="#f1c88d"/>
<circle cx="202.50" cy="597.36" r="1.6" fill="#b5132f"/>
<circle cx="209.50" cy="599.95" r="1.6" fill="#b5132f"/>
<circle cx="205.50" cy="608.59" r="1.6" fill="#b5132f"/>
<circle cx="209.50" cy="613.78" r="1.6" fill="#b5132f"/>
<circle cx="202.50" cy="613.78" r="1.6" fill="#b5132f"/>
<circle cx="203.00" cy="616.37" r="1.6" fill="#b5132f"/>
<rect x="217.00" y="571.57" width="3.20" height="3.20" fill="#1f4b93"/>
<rect x="224.40" y="571.57" width="3.20" height="3.20" fill="#1f4b93"/>
<rect x="220.70" y="578.05" width="3.20" height="3.20" fill="#1f4b93"/>
<rect x="217.00" y="580.21" width="3.20" height="3.20" fill="#1f4b93"/>
<rect x="224.40" y="580.21" width="3.20" height="3.20" fill="#1f4b93"/>
<rect x="220.70" y="592.30" width="3.20" height="3.20" fill="#1f4b93"/>
<path d="M235.10,596.30L237.02,599.82L233.18,599.82Z" fill="#4bae3e"/>
<path d="M242.50,596.30L244.42,599.82L240.58,599.82Z" fill="#4bae3e"/>
<path d="M238.80,600.62L240.72,604.14L236.88,604.14Z" fill="#4bae3e"/>
<path d="M235.10,608.40L237.02,611.92L233.18,611.92Z" fill="#4bae3e"/>
<path d="M242.50,608.40L244.42,611.92L240.58,611.92Z" fill="#4bae3e"/>
<path d="M238.80,610.99L240.72,614.51L236.88,614.51Z" fill="#4bae3e"/>
<path d="M251.50,599.28L253.42,595.76L249.58,595.76Z" fill="#4a1f79"/>
<path d="M255.20,597.12L257.12,593.60L253.28,593.60Z" fill="#4a1f79"/>
<path d="M258.90,599.28L260.82,595.76L256.98,595.76Z" fill="#4a1f79"/>
<path d="M252.20,602.74L254.12,599.22L250.28,599.22Z" fill="#4a1f79"/>
<path d="M258.20,602.74L260.12,599.22L256.28,599.22Z" fill="#4a1f79"/>
<path d="M255.20,601.44L257.12,597.92L253.28,597.92Z" fill="#4a1f79"/>
<path d="M271.50,586.21L273.26,588.29L271.50,590.37L269.74,588.29Z" fill="#f08c1a"/>
<path d="M268.00,595.28L269.76,597.36L268.00,599.44L266.24,597.36Z" fill="#f08c1a"/>
<path d="M275.00,595.28L276.76,597.36L275.00,599.44L273.24,597.36Z" fill="#f08c1a"/>
<path d="M268.50,607.38L270.26,609.46L268.50,611.54L266.74,609.46Z" fill="#f08c1a"/>
<path d="M271.50,616.45L273.26,618.53L271.50,620.61L269.74,618.53Z" fill="#f08c1a"/>
<path d="M274.50,607.38L276.26,609.46L274.50,611.54L272.74,609.46Z" fill="#f08c1a"/>
<line x1="206" y1="598.6560000000001" x2="206" y2="613.344" stroke="#111" stroke-width="0.9"/>
<line x1="203.4" y1="598.6560000000001" x2="208.6" y2="598.6560000000001" stroke="#111" stroke-width="0.9"/>
<line x1="203.4" y1="613.344" x2="208.6" y2="613.344" stroke="#111" stroke-width="0.9"/>
<line x1="222.3" y1="572.3040000000001" x2="222.3" y2="586.9920000000001" stroke="#111" stroke-width="0.9"/>
<line x1="219.70000000000002" y1="572.3040000000001" x2="224.9" y2="572.3040000000001" stroke="#111" stroke-width="0.9"/>
<line x1="219.70000000000002" y1="586.9920000000001" x2="224.9" y2="586.9920000000001" stroke="#111" stroke-width="0.9"/>
<line x1="238.8" y1="593.0400000000001" x2="238.8" y2="606.0" stroke="#111" stroke-width="0.9"/>
<line x1="236.20000000000002" y1="593.0400000000001" x2="241.4" y2="593.0400000000001" stroke="#111" stroke-width="0.9"/>
<line x1="236.20000000000002" y1="606.0" x2="241.4" y2="606.0" stroke="#111" stroke-width="0.9"/>
<line x1="255.2" y1="595.6320000000001" x2="255.2" y2="600.816" stroke="#111" stroke-width="0.9"/>
<line x1="252.6" y1="595.6320000000001" x2="257.8" y2="595.6320000000001" stroke="#111" stroke-width="0.9"/>
<line x1="252.6" y1="600.816" x2="257.8" y2="600.816" stroke="#111" stroke-width="0.9"/>
<line x1="271.5" y1="587.856" x2="271.5" y2="612.048" stroke="#111" stroke-width="0.9"/>
<line x1="268.9" y1="587.856" x2="274.1" y2="587.856" stroke="#111" stroke-width="0.9"/>
<line x1="268.9" y1="612.048" x2="274.1" y2="612.048" stroke="#111" stroke-width="0.9"/>
<line x1="198.3" y1="561" x2="198.3" y2="649.7" stroke="#231f20" stroke-width="1.1"/>
<line x1="197.8" y1="649.2" x2="280" y2="649.2" stroke="#231f20" stroke-width="1.1"/>
<line x1="195.3" y1="649.2" x2="198.3" y2="649.2" stroke="#231f20" stroke-width="1"/>
<text x="191.5" y="652.2" font-size="9" text-anchor="end" textLength="11.26" lengthAdjust="spacingAndGlyphs" fill="#231f20" stroke="#231f20">0.0</text>
<line x1="195.3" y1="627.6" x2="198.3" y2="627.6" stroke="#231f20" stroke-width="1"/>
<text x="191.5" y="630.6" font-size="9" text-anchor="end" textLength="11.26" lengthAdjust="spacingAndGlyphs" fill="#231f20" stroke="#231f20">0.5</text>
<line x1="195.3" y1="606.0" x2="198.3" y2="606.0" stroke="#231f20" stroke-width="1"/>
<text x="191.5" y="609.0" font-size="9" text-anchor="end" textLength="11.26" lengthAdjust="spacingAndGlyphs" fill="#231f20" stroke="#231f20">1.0</text>
<line x1="195.3" y1="584.4000000000001" x2="198.3" y2="584.4000000000001" stroke="#231f20" stroke-width="1"/>
<text x="191.5" y="587.4000000000001" font-size="9" text-anchor="end" textLength="11.26" lengthAdjust="spacingAndGlyphs" fill="#231f20" stroke="#231f20">1.5</text>
<line x1="195.3" y1="562.8000000000001" x2="198.3" y2="562.8000000000001" stroke="#231f20" stroke-width="1"/>
<text x="191.5" y="565.8000000000001" font-size="9" text-anchor="end" textLength="11.26" lengthAdjust="spacingAndGlyphs" fill="#231f20" stroke="#231f20">2.0</text>
<line x1="206" y1="649.2" x2="206" y2="652.4000000000001" stroke="#231f20" stroke-width="1"/>
<line x1="222.3" y1="649.2" x2="222.3" y2="652.4000000000001" stroke="#231f20" stroke-width="1"/>
<line x1="238.8" y1="649.2" x2="238.8" y2="652.4000000000001" stroke="#231f20" stroke-width="1"/>
<line x1="255.2" y1="649.2" x2="255.2" y2="652.4000000000001" stroke="#231f20" stroke-width="1"/>
<line x1="271.5" y1="649.2" x2="271.5" y2="652.4000000000001" stroke="#231f20" stroke-width="1"/>
<path d="M222.30,570.50V568.50H238.80V570.50" fill="none" stroke="#111" stroke-width="1"/>
<path d="M228.85,564.00V566.80M227.60,564.70L230.10,566.10M227.60,566.10L230.10,564.70" stroke="#111" stroke-width="0.85"/>
<path d="M232.25,564.00V566.80M231.00,564.70L233.50,566.10M231.00,566.10L233.50,564.70" stroke="#111" stroke-width="0.85"/>
<path d="M222.30,562.20V560.20H255.20V562.20" fill="none" stroke="#111" stroke-width="1"/>
<path d="M237.05,555.70V558.50M235.80,556.40L238.30,557.80M235.80,557.80L238.30,556.40" stroke="#111" stroke-width="0.85"/>
<path d="M240.45,555.70V558.50M239.20,556.40L241.70,557.80M239.20,557.80L241.70,556.40" stroke="#111" stroke-width="0.85"/>
<path d="M222.30,555.00V553.00H271.50V555.00" fill="none" stroke="#111" stroke-width="1"/>
<path d="M246.90,548.50V551.30M245.65,549.20L248.15,550.60M245.65,550.60L248.15,549.20" stroke="#111" stroke-width="0.85"/>
<text transform="translate(159.7,633.9000000000001) rotate(-90)" x="0" y="0" font-size="10" textLength="58.4" lengthAdjust="spacingAndGlyphs" fill="#231f20" stroke="#231f20">x-fold change of</text>
<text transform="translate(172.7,648.5500000000001) rotate(-90)" x="0" y="0" font-size="10" textLength="87.7" lengthAdjust="spacingAndGlyphs" fill="#231f20" stroke="#231f20">hydroxyproline content</text>
<rect x="332.50" y="629.57" width="10" height="19.93" fill="#d3867c"/>
<rect x="349.00" y="589.27" width="10" height="60.22" fill="#8d98c3"/>
<rect x="365.00" y="622.56" width="10" height="26.94" fill="#b6d69c"/>
<rect x="381.25" y="623.66" width="10" height="25.84" fill="#9d87b2"/>
<rect x="397.50" y="627.60" width="10" height="21.90" fill="#f1c88d"/>
<circle cx="335.00" cy="619.72" r="1.6" fill="#b5132f"/>
<circle cx="341.50" cy="618.62" r="1.6" fill="#b5132f"/>
<circle cx="337.50" cy="628.70" r="1.6" fill="#b5132f"/>
<circle cx="334.00" cy="634.17" r="1.6" fill="#b5132f"/>
<circle cx="341.00" cy="634.17" r="1.6" fill="#b5132f"/>
<circle cx="337.50" cy="623.22" r="1.6" fill="#b5132f"/>
<rect x="352.40" y="575.41" width="3.20" height="3.20" fill="#1f4b93"/>
<rect x="350.40" y="586.58" width="3.20" height="3.20" fill="#1f4b93"/>
<rect x="354.40" y="586.58" width="3.20" height="3.20" fill="#1f4b93"/>
<rect x="356.40" y="588.33" width="3.20" height="3.20" fill="#1f4b93"/>
<rect x="348.40" y="590.52" width="3.20" height="3.20" fill="#1f4b93"/>
<rect x="352.40" y="590.52" width="3.20" height="3.20" fill="#1f4b93"/>
<path d="M366.50,612.10L368.42,615.62L364.58,615.62Z" fill="#4bae3e"/>
<path d="M373.50,612.10L375.42,615.62L371.58,615.62Z" fill="#4bae3e"/>
<path d="M370.00,619.11L371.92,622.63L368.08,622.63Z" fill="#4bae3e"/>
<path d="M366.50,626.56L368.42,630.08L364.58,630.08Z" fill="#4bae3e"/>
<path d="M373.50,626.56L375.42,630.08L371.58,630.08Z" fill="#4bae3e"/>
<path d="M370.00,627.87L371.92,631.39L368.08,631.39Z" fill="#4bae3e"/>
<path d="M382.55,618.57L384.47,615.05L380.63,615.05Z" fill="#4a1f79"/>
<path d="M389.95,618.57L391.87,615.05L388.03,615.05Z" fill="#4a1f79"/>
<path d="M386.25,622.73L388.17,619.21L384.33,619.21Z" fill="#4a1f79"/>
<path d="M382.55,627.77L384.47,624.25L380.63,624.25Z" fill="#4a1f79"/>
<path d="M389.95,627.77L391.87,624.25L388.03,624.25Z" fill="#4a1f79"/>
<path d="M386.25,629.96L388.17,626.44L384.33,626.44Z" fill="#4a1f79"/>
<path d="M402.50,615.88L404.26,617.96L402.50,620.04L400.74,617.96Z" fill="#f08c1a"/>
<path d="M399.00,622.02L400.76,624.10L399.00,626.18L397.24,624.10Z" fill="#f08c1a"/>
<path d="M406.00,622.02L407.76,624.10L406.00,626.18L404.24,624.10Z" fill="#f08c1a"/>
<path d="M399.00,629.02L400.76,631.10L399.00,633.18L397.24,631.10Z" fill="#f08c1a"/>
<path d="M406.00,629.02L407.76,631.10L406.00,633.18L404.24,631.10Z" fill="#f08c1a"/>
<path d="M402.50,634.28L404.26,636.36L402.50,638.44L400.74,636.36Z" fill="#f08c1a"/>
<line x1="337.5" y1="621.249" x2="337.5" y2="635.046" stroke="#111" stroke-width="0.9"/>
<line x1="334.9" y1="621.249" x2="340.1" y2="621.249" stroke="#111" stroke-width="0.9"/>
<line x1="334.9" y1="635.046" x2="340.1" y2="635.046" stroke="#111" stroke-width="0.9"/>
<line x1="354" y1="582.048" x2="354" y2="593.655" stroke="#111" stroke-width="0.9"/>
<line x1="351.4" y1="582.048" x2="356.6" y2="582.048" stroke="#111" stroke-width="0.9"/>
<line x1="351.4" y1="593.655" x2="356.6" y2="593.655" stroke="#111" stroke-width="0.9"/>
<line x1="370" y1="615.555" x2="370" y2="628.038" stroke="#111" stroke-width="0.9"/>
<line x1="367.4" y1="615.555" x2="372.6" y2="615.555" stroke="#111" stroke-width="0.9"/>
<line x1="367.4" y1="628.038" x2="372.6" y2="628.038" stroke="#111" stroke-width="0.9"/>
<line x1="386.25" y1="618.84" x2="386.25" y2="628.038" stroke="#111" stroke-width="0.9"/>
<line x1="383.65" y1="618.84" x2="388.85" y2="618.84" stroke="#111" stroke-width="0.9"/>
<line x1="383.65" y1="628.038" x2="388.85" y2="628.038" stroke="#111" stroke-width="0.9"/>
<line x1="402.5" y1="620.592" x2="402.5" y2="632.418" stroke="#111" stroke-width="0.9"/>
<line x1="399.9" y1="620.592" x2="405.1" y2="620.592" stroke="#111" stroke-width="0.9"/>
<line x1="399.9" y1="632.418" x2="405.1" y2="632.418" stroke="#111" stroke-width="0.9"/>
<line x1="329.5" y1="561" x2="329.5" y2="650.0" stroke="#231f20" stroke-width="1.1"/>
<line x1="329.0" y1="649.5" x2="410.5" y2="649.5" stroke="#231f20" stroke-width="1.1"/>
<line x1="326.5" y1="649.5" x2="329.5" y2="649.5" stroke="#231f20" stroke-width="1"/>
<text x="322.7" y="652.5" font-size="9" text-anchor="end" textLength="4.5" lengthAdjust="spacingAndGlyphs" fill="#231f20" stroke="#231f20">0</text>
<line x1="326.5" y1="627.6" x2="329.5" y2="627.6" stroke="#231f20" stroke-width="1"/>
<text x="322.7" y="630.6" font-size="9" text-anchor="end" textLength="4.5" lengthAdjust="spacingAndGlyphs" fill="#231f20" stroke="#231f20">1</text>
<line x1="326.5" y1="605.7" x2="329.5" y2="605.7" stroke="#231f20" stroke-width="1"/>
<text x="322.7" y="608.7" font-size="9" text-anchor="end" textLength="4.5" lengthAdjust="spacingAndGlyphs" fill="#231f20" stroke="#231f20">2</text>
<line x1="326.5" y1="583.8" x2="329.5" y2="583.8" stroke="#231f20" stroke-width="1"/>
<text x="322.7" y="586.8" font-size="9" text-anchor="end" textLength="4.5" lengthAdjust="spacingAndGlyphs" fill="#231f20" stroke="#231f20">3</text>
<line x1="326.5" y1="561.9" x2="329.5" y2="561.9" stroke="#231f20" stroke-width="1"/>
<text x="322.7" y="564.9" font-size="9" text-anchor="end" textLength="4.5" lengthAdjust="spacingAndGlyphs" fill="#231f20" stroke="#231f20">4</text>
<line x1="337.5" y1="649.5" x2="337.5" y2="652.7" stroke="#231f20" stroke-width="1"/>
<line x1="354" y1="649.5" x2="354" y2="652.7" stroke="#231f20" stroke-width="1"/>
<line x1="370" y1="649.5" x2="370" y2="652.7" stroke="#231f20" stroke-width="1"/>
<line x1="386.25" y1="649.5" x2="386.25" y2="652.7" stroke="#231f20" stroke-width="1"/>
<line x1="402.5" y1="649.5" x2="402.5" y2="652.7" stroke="#231f20" stroke-width="1"/>
<path d="M354.00,572.50V570.50H370.00V572.50" fill="none" stroke="#111" stroke-width="1"/>
<path d="M358.60,566.00V568.80M357.35,566.70L359.85,568.10M357.35,568.10L359.85,566.70" stroke="#111" stroke-width="0.85"/>
<path d="M362.00,566.00V568.80M360.75,566.70L363.25,568.10M360.75,568.10L363.25,566.70" stroke="#111" stroke-width="0.85"/>
<path d="M365.40,566.00V568.80M364.15,566.70L366.65,568.10M364.15,568.10L366.65,566.70" stroke="#111" stroke-width="0.85"/>
<path d="M354.00,565.20V563.20H386.25V565.20" fill="none" stroke="#111" stroke-width="1"/>
<path d="M366.73,558.70V561.50M365.48,559.40L367.98,560.80M365.48,560.80L367.98,559.40" stroke="#111" stroke-width="0.85"/>
<path d="M370.12,558.70V561.50M368.88,559.40L371.38,560.80M368.88,560.80L371.38,559.40" stroke="#111" stroke-width="0.85"/>
<path d="M373.52,558.70V561.50M372.27,559.40L374.77,560.80M372.27,560.80L374.77,559.40" stroke="#111" stroke-width="0.85"/>
<path d="M354.00,557.80V555.80H402.50V557.80" fill="none" stroke="#111" stroke-width="1"/>
<path d="M374.85,551.30V554.10M373.60,552.00L376.10,553.40M373.60,553.40L376.10,552.00" stroke="#111" stroke-width="0.85"/>
<path d="M378.25,551.30V554.10M377.00,552.00L379.50,553.40M377.00,553.40L379.50,552.00" stroke="#111" stroke-width="0.85"/>
<path d="M381.65,551.30V554.10M380.40,552.00L382.90,553.40M380.40,553.40L382.90,552.00" stroke="#111" stroke-width="0.85"/>
<text transform="translate(299.1,633.15) rotate(-90)" x="0" y="0" font-size="10" textLength="58.7" lengthAdjust="spacingAndGlyphs" fill="#231f20" stroke="#231f20">x-fold change of</text>
<text transform="translate(312.1,642.55) rotate(-90)" x="0" y="0" font-size="10" textLength="77.5" lengthAdjust="spacingAndGlyphs" fill="#231f20" stroke="#231f20">myofibroblast counts</text>
<circle cx="420.60" cy="331.00" r="1.3" fill="#b5132f"/>
<text x="425.9" y="333.7" font-size="8.2" fill="#231f20" stroke="#231f20">syngeneic</text>
<rect x="419.30" y="339.25" width="2.60" height="2.60" fill="#1f4b93"/>
<text x="425.9" y="343.25" font-size="8.2" fill="#231f20" stroke="#231f20">allogeneic</text>
<path d="M420.60,348.54L422.16,351.40L419.04,351.40Z" fill="#4bae3e"/>
<text x="425.9" y="352.8" font-size="8.2" fill="#231f20" stroke="#231f20">allogeneic+G007-LK</text>
<path d="M420.60,361.21L422.16,358.35L419.04,358.35Z" fill="#4a1f79"/>
<text x="425.9" y="362.34999999999997" font-size="8.2" fill="#231f20" stroke="#231f20">allogeneic+pyrvinium</text>
<path d="M420.60,367.51L422.03,369.20L420.60,370.89L419.17,369.20Z" fill="#f08c1a"/>
<text x="425.9" y="371.9" font-size="8.2" fill="#231f20" stroke="#231f20">allogeneic+salinomycin</text>
<circle cx="420.60" cy="585.20" r="1.3" fill="#b5132f"/>
<text x="425.9" y="587.9000000000001" font-size="8.2" fill="#231f20" stroke="#231f20">syngeneic</text>
<rect x="419.30" y="593.45" width="2.60" height="2.60" fill="#1f4b93"/>
<text x="425.9" y="597.45" font-size="8.2" fill="#231f20" stroke="#231f20">allogeneic</text>
<path d="M420.60,602.74L422.16,605.60L419.04,605.60Z" fill="#4bae3e"/>
<text x="425.9" y="607.0000000000001" font-size="8.2" fill="#231f20" stroke="#231f20">allogeneic+G007-LK</text>
<path d="M420.60,615.41L422.16,612.55L419.04,612.55Z" fill="#4a1f79"/>
<text x="425.9" y="616.5500000000001" font-size="8.2" fill="#231f20" stroke="#231f20">allogeneic+pyrvinium</text>
<path d="M420.60,621.71L422.03,623.40L420.60,625.09L419.17,623.40Z" fill="#f08c1a"/>
<text x="425.9" y="626.1000000000001" font-size="8.2" fill="#231f20" stroke="#231f20">allogeneic+salinomycin</text>
<text x="78.0" y="191" font-size="10.6" text-anchor="middle" fill="#231f20" stroke="#231f20">syngeneic</text>
<text x="175.0" y="191" font-size="10.6" text-anchor="middle" fill="#231f20" stroke="#231f20">allogeneic</text>
<text x="272.0" y="178.3" font-size="10.6" text-anchor="middle" fill="#231f20" stroke="#231f20">allogeneic</text>
<text x="272.0" y="191" font-size="10.6" text-anchor="middle" fill="#231f20" stroke="#231f20">+G007-LK</text>
<text x="369.0" y="178.3" font-size="10.6" text-anchor="middle" fill="#231f20" stroke="#231f20">allogeneic</text>
<text x="369.0" y="191" font-size="10.6" text-anchor="middle" fill="#231f20" stroke="#231f20">+pyrvinium</text>
<text x="466.8" y="178.3" font-size="10.6" text-anchor="middle" fill="#231f20" stroke="#231f20">allogeneic</text>
<text x="466.8" y="191" font-size="10.6" text-anchor="middle" fill="#231f20" stroke="#231f20">+salinomycin</text>
<text x="78.0" y="436" font-size="10.6" text-anchor="middle" fill="#231f20" stroke="#231f20">syngeneic</text>
<text x="175.0" y="436" font-size="10.6" text-anchor="middle" fill="#231f20" stroke="#231f20">allogeneic</text>
<text x="272.0" y="423.3" font-size="10.6" text-anchor="middle" fill="#231f20" stroke="#231f20">allogeneic</text>
<text x="272.0" y="436" font-size="10.6" text-anchor="middle" fill="#231f20" stroke="#231f20">+G007-LK</text>
<text x="369.0" y="423.3" font-size="10.6" text-anchor="middle" fill="#231f20" stroke="#231f20">allogeneic</text>
<text x="369.0" y="436" font-size="10.6" text-anchor="middle" fill="#231f20" stroke="#231f20">+pyrvinium</text>
<text x="466.8" y="423.3" font-size="10.6" text-anchor="middle" fill="#231f20" stroke="#231f20">allogeneic</text>
<text x="466.8" y="436" font-size="10.6" text-anchor="middle" fill="#231f20" stroke="#231f20">+salinomycin</text>
<g clip-path="url(#cb0)"><g filter="url(#jag)">
<rect x="27" y="193" width="102" height="79" fill="#e3e0e1"/>

<path d="M29.0,231.4C29.3,231.4 30.2,231.6 31.0,231.4C31.8,231.2 32.7,230.3 33.7,230.5C34.8,230.7 36.4,231.4 37.3,232.3C38.2,233.2 38.4,235.6 39.1,235.9C39.9,236.2 40.9,234.6 41.8,234.1C42.7,233.6 43.5,232.9 44.6,233.2C45.7,233.5 47.0,235.8 48.2,235.9C49.4,236.1 50.6,234.8 51.8,234.1C53.0,233.3 54.0,232.0 55.4,231.4C56.8,230.8 58.5,230.4 59.9,230.5C61.2,230.6 62.4,231.2 63.5,231.7C64.6,232.1 65.5,232.5 66.3,233.2C67.1,233.9 67.5,235.2 68.1,235.9C68.7,236.7 69.2,237.2 69.9,237.7C70.7,238.1 71.7,238.4 72.6,238.6C73.5,238.8 74.4,238.7 75.3,239.0C76.2,239.3 77.1,239.9 78.0,240.4C78.9,240.9 79.8,241.8 80.7,241.8C81.6,241.8 82.5,240.9 83.4,240.4C84.3,239.9 85.3,239.3 86.2,239.0C87.1,238.7 88.0,238.8 88.9,238.6C89.8,238.4 90.7,238.1 91.6,237.7C92.5,237.2 93.4,236.0 94.3,235.9C95.2,235.8 96.0,236.7 97.0,237.1C98.0,237.5 99.5,238.5 100.6,238.6C101.6,238.7 102.4,238.1 103.3,237.7C104.2,237.2 105.1,236.5 106.0,235.9C106.9,235.3 107.9,234.1 108.8,234.1C109.7,234.1 110.6,235.2 111.5,235.9C112.4,236.7 113.3,237.8 114.2,238.6C115.1,239.3 116.0,240.3 116.9,240.4C117.8,240.5 118.7,239.4 119.6,239.0C120.5,238.6 121.4,237.8 122.3,237.7C123.2,237.6 124.2,238.1 125.0,238.2C125.8,238.3 126.7,238.4 127.0,238.5 L128,271 L28,271 Z" fill="#eeecf0" filter="url(#mFat)"/>
<g filter="url(#mBlue)"><path d="M29.0,231.4C29.3,231.4 30.2,231.6 31.0,231.4C31.8,231.2 32.7,230.3 33.7,230.5C34.8,230.7 36.4,231.4 37.3,232.3C38.2,233.2 38.4,235.6 39.1,235.9C39.9,236.2 40.9,234.6 41.8,234.1C42.7,233.6 43.5,232.9 44.6,233.2C45.7,233.5 47.0,235.8 48.2,235.9C49.4,236.1 50.6,234.8 51.8,234.1C53.0,233.3 54.0,232.0 55.4,231.4C56.8,230.8 58.5,230.4 59.9,230.5C61.2,230.6 62.4,231.2 63.5,231.7C64.6,232.1 65.5,232.5 66.3,233.2C67.1,233.9 67.5,235.2 68.1,235.9C68.7,236.7 69.2,237.2 69.9,237.7C70.7,238.1 71.7,238.4 72.6,238.6C73.5,238.8 74.4,238.7 75.3,239.0C76.2,239.3 77.1,239.9 78.0,240.4C78.9,240.9 79.8,241.8 80.7,241.8C81.6,241.8 82.5,240.9 83.4,240.4C84.3,239.9 85.3,239.3 86.2,239.0C87.1,238.7 88.0,238.8 88.9,238.6C89.8,238.4 90.7,238.1 91.6,237.7C92.5,237.2 93.4,236.0 94.3,235.9C95.2,235.8 96.0,236.7 97.0,237.1C98.0,237.5 99.5,238.5 100.6,238.6C101.6,238.7 102.4,238.1 103.3,237.7C104.2,237.2 105.1,236.5 106.0,235.9C106.9,235.3 107.9,234.1 108.8,234.1C109.7,234.1 110.6,235.2 111.5,235.9C112.4,236.7 113.3,237.8 114.2,238.6C115.1,239.3 116.0,240.3 116.9,240.4C117.8,240.5 118.7,239.4 119.6,239.0C120.5,238.6 121.4,237.8 122.3,237.7C123.2,237.6 124.2,238.1 125.0,238.2C125.8,238.3 126.7,238.4 127.0,238.5 L127.0,253.0 L127.0,253.0C126.0,252.7 123.5,251.8 121.0,251.2C118.5,250.6 115.0,249.4 112.0,249.4C109.0,249.4 106.0,250.9 103.0,251.2C100.0,251.5 97.0,250.6 94.0,251.2C91.0,251.8 88.0,254.3 85.0,254.9C82.0,255.5 79.0,254.6 76.0,254.9C73.0,255.2 69.2,255.9 67.0,256.7C64.8,257.4 64.5,259.4 63.0,259.4C61.5,259.4 60.3,257.4 58.0,256.7C55.7,255.9 52.0,255.5 49.0,254.9C46.0,254.3 43.0,253.6 40.0,253.0C37.0,252.4 32.8,251.5 31.0,251.2C29.2,250.9 29.3,251.0 29.0,251.0 Z" fill="#4689cc"/>
<ellipse cx="45" cy="246" rx="1.8" ry="2.5" fill="#8a6aa6" opacity="0.85"/>
<ellipse cx="100" cy="247" rx="1.8" ry="2.5" fill="#8a6aa6" opacity="0.85"/>
<path d="M29.0,231.4C29.3,231.4 30.2,231.6 31.0,231.4C31.8,231.2 32.7,230.3 33.7,230.5C34.8,230.7 36.4,231.4 37.3,232.3C38.2,233.2 38.4,235.6 39.1,235.9C39.9,236.2 40.9,234.6 41.8,234.1C42.7,233.6 43.5,232.9 44.6,233.2C45.7,233.5 47.0,235.8 48.2,235.9C49.4,236.1 50.6,234.8 51.8,234.1C53.0,233.3 54.0,232.0 55.4,231.4C56.8,230.8 58.5,230.4 59.9,230.5C61.2,230.6 62.4,231.2 63.5,231.7C64.6,232.1 65.5,232.5 66.3,233.2C67.1,233.9 67.5,235.2 68.1,235.9C68.7,236.7 69.2,237.2 69.9,237.7C70.7,238.1 71.7,238.4 72.6,238.6C73.5,238.8 74.4,238.7 75.3,239.0C76.2,239.3 77.1,239.9 78.0,240.4C78.9,240.9 79.8,241.8 80.7,241.8C81.6,241.8 82.5,240.9 83.4,240.4C84.3,239.9 85.3,239.3 86.2,239.0C87.1,238.7 88.0,238.8 88.9,238.6C89.8,238.4 90.7,238.1 91.6,237.7C92.5,237.2 93.4,236.0 94.3,235.9C95.2,235.8 96.0,236.7 97.0,237.1C98.0,237.5 99.5,238.5 100.6,238.6C101.6,238.7 102.4,238.1 103.3,237.7C104.2,237.2 105.1,236.5 106.0,235.9C106.9,235.3 107.9,234.1 108.8,234.1C109.7,234.1 110.6,235.2 111.5,235.9C112.4,236.7 113.3,237.8 114.2,238.6C115.1,239.3 116.0,240.3 116.9,240.4C117.8,240.5 118.7,239.4 119.6,239.0C120.5,238.6 121.4,237.8 122.3,237.7C123.2,237.6 124.2,238.1 125.0,238.2C125.8,238.3 126.7,238.4 127.0,238.5 L127.0,239.8 L127.0,239.8C126.7,239.8 125.8,239.6 125.0,239.5C124.2,239.4 123.2,238.9 122.3,239.0C121.4,239.1 120.5,239.9 119.6,240.3C118.7,240.8 117.8,241.8 116.9,241.7C116.0,241.6 115.1,240.7 114.2,239.9C113.3,239.2 112.4,238.0 111.5,237.2C110.6,236.5 109.7,235.4 108.8,235.4C107.9,235.4 106.9,236.6 106.0,237.2C105.1,237.8 104.2,238.6 103.3,239.0C102.4,239.4 101.6,240.0 100.6,239.9C99.5,239.8 98.0,238.8 97.0,238.4C96.0,238.0 95.2,237.1 94.3,237.2C93.4,237.3 92.5,238.6 91.6,239.0C90.7,239.4 89.8,239.7 88.9,239.9C88.0,240.1 87.1,240.0 86.2,240.3C85.3,240.6 84.3,241.2 83.4,241.7C82.5,242.2 81.6,243.1 80.7,243.1C79.8,243.1 78.9,242.2 78.0,241.7C77.1,241.2 76.2,240.6 75.3,240.3C74.4,240.0 73.5,240.1 72.6,239.9C71.7,239.7 70.7,239.4 69.9,239.0C69.2,238.6 68.7,238.0 68.1,237.2C67.5,236.5 67.1,235.2 66.3,234.5C65.5,233.8 64.6,233.4 63.5,233.0C62.4,232.6 61.2,231.9 59.9,231.8C58.5,231.8 56.8,232.1 55.4,232.7C54.0,233.3 53.0,234.7 51.8,235.4C50.6,236.2 49.4,237.4 48.2,237.2C47.0,237.1 45.7,234.8 44.6,234.5C43.5,234.2 42.7,234.9 41.8,235.4C40.9,235.9 39.9,237.5 39.1,237.2C38.4,236.9 38.2,234.5 37.3,233.6C36.4,232.7 34.8,232.0 33.7,231.8C32.7,231.7 31.8,232.6 31.0,232.7C30.2,232.9 29.3,232.7 29.0,232.7 Z" fill="#8a6aa4"/>
</g>
<path d="M29.0,231.4C29.3,231.4 30.2,231.6 31.0,231.4C31.8,231.2 32.7,230.3 33.7,230.5C34.8,230.7 36.4,231.4 37.3,232.3C38.2,233.2 38.4,235.6 39.1,235.9C39.9,236.2 40.9,234.6 41.8,234.1C42.7,233.6 43.5,232.9 44.6,233.2C45.7,233.5 47.0,235.8 48.2,235.9C49.4,236.1 50.6,234.8 51.8,234.1C53.0,233.3 54.0,232.0 55.4,231.4C56.8,230.8 58.5,230.4 59.9,230.5C61.2,230.6 62.4,231.2 63.5,231.7C64.6,232.1 65.5,232.5 66.3,233.2C67.1,233.9 67.5,235.2 68.1,235.9C68.7,236.7 69.2,237.2 69.9,237.7C70.7,238.1 71.7,238.4 72.6,238.6C73.5,238.8 74.4,238.7 75.3,239.0C76.2,239.3 77.1,239.9 78.0,240.4C78.9,240.9 79.8,241.8 80.7,241.8C81.6,241.8 82.5,240.9 83.4,240.4C84.3,239.9 85.3,239.3 86.2,239.0C87.1,238.7 88.0,238.8 88.9,238.6C89.8,238.4 90.7,238.1 91.6,237.7C92.5,237.2 93.4,236.0 94.3,235.9C95.2,235.8 96.0,236.7 97.0,237.1C98.0,237.5 99.5,238.5 100.6,238.6C101.6,238.7 102.4,238.1 103.3,237.7C104.2,237.2 105.1,236.5 106.0,235.9C106.9,235.3 107.9,234.1 108.8,234.1C109.7,234.1 110.6,235.2 111.5,235.9C112.4,236.7 113.3,237.8 114.2,238.6C115.1,239.3 116.0,240.3 116.9,240.4C117.8,240.5 118.7,239.4 119.6,239.0C120.5,238.6 121.4,237.8 122.3,237.7C123.2,237.6 124.2,238.1 125.0,238.2C125.8,238.3 126.7,238.4 127.0,238.5" fill="none" stroke="#c8205a" stroke-width="0.8" stroke-opacity="0.9"/>
<g stroke="#e2c8da" stroke-width="1.3" opacity="0.55" stroke-linecap="round"><path d="M47,252 L55,243"/><path d="M78,256 L88,246"/><path d="M99,252 L107,244"/><path d="M60,250 L64,246"/></g><g fill="#a8224a" opacity="0.85"><ellipse cx="75" cy="256.5" rx="2.2" ry="1.3"/><ellipse cx="80" cy="256" rx="1.6" ry="1.2"/><ellipse cx="46" cy="252.5" rx="1.2" ry="1"/><circle cx="51" cy="213" r="0.7"/></g>
</g></g>
<rect x="75.4" y="241.4" width="2.2" height="14.199999999999989" fill="#000"/>
<g clip-path="url(#cb1)"><g filter="url(#jag)">
<rect x="124" y="193" width="102" height="79" fill="#e3e0e1"/>

<path d="M126.0,212.0C126.7,212.0 128.8,210.8 130.0,212.0C131.2,213.2 132.0,218.4 133.0,219.0C134.0,219.6 134.8,216.2 136.0,215.5C137.2,214.8 138.8,214.4 140.0,215.0C141.2,215.6 141.7,218.1 143.0,219.0C144.3,219.9 146.3,220.5 148.0,220.5C149.7,220.5 151.5,220.2 153.0,219.0C154.5,217.8 155.5,214.1 157.0,213.0C158.5,211.9 160.2,212.5 162.0,212.5C163.8,212.5 165.8,213.2 168.0,213.0C170.2,212.8 173.0,211.4 175.0,211.0C177.0,210.6 178.3,210.5 180.0,210.5C181.7,210.5 183.3,210.9 185.0,211.0C186.7,211.1 188.3,211.0 190.0,211.0C191.7,211.0 193.3,211.1 195.0,211.0C196.7,210.9 198.3,210.7 200.0,210.5C201.7,210.3 203.3,210.2 205.0,210.0C206.7,209.8 208.2,209.7 210.0,209.5C211.8,209.3 213.7,209.2 216.0,209.0C218.3,208.8 222.7,208.6 224.0,208.5 L225,271 L125,271 Z" fill="#e6e6f0" filter="url(#mFat)"/>
<g filter="url(#mBlue)"><path d="M126.0,212.0C126.7,212.0 128.8,210.8 130.0,212.0C131.2,213.2 132.0,218.4 133.0,219.0C134.0,219.6 134.8,216.2 136.0,215.5C137.2,214.8 138.8,214.4 140.0,215.0C141.2,215.6 141.7,218.1 143.0,219.0C144.3,219.9 146.3,220.5 148.0,220.5C149.7,220.5 151.5,220.2 153.0,219.0C154.5,217.8 155.5,214.1 157.0,213.0C158.5,211.9 160.2,212.5 162.0,212.5C163.8,212.5 165.8,213.2 168.0,213.0C170.2,212.8 173.0,211.4 175.0,211.0C177.0,210.6 178.3,210.5 180.0,210.5C181.7,210.5 183.3,210.9 185.0,211.0C186.7,211.1 188.3,211.0 190.0,211.0C191.7,211.0 193.3,211.1 195.0,211.0C196.7,210.9 198.3,210.7 200.0,210.5C201.7,210.3 203.3,210.2 205.0,210.0C206.7,209.8 208.2,209.7 210.0,209.5C211.8,209.3 213.7,209.2 216.0,209.0C218.3,208.8 222.7,208.6 224.0,208.5 L224.0,248.5 L224.0,248.5C222.5,248.6 218.2,248.8 215.0,249.0C211.8,249.2 208.3,249.8 205.0,250.0C201.7,250.2 198.3,249.8 195.0,250.0C191.7,250.2 188.3,250.8 185.0,251.0C181.7,251.2 178.3,251.0 175.0,251.0C171.7,251.0 168.3,250.8 165.0,251.0C161.7,251.2 158.3,252.0 155.0,252.0C151.7,252.0 148.3,251.5 145.0,251.0C141.7,250.5 138.2,249.7 135.0,249.0C131.8,248.3 127.5,247.3 126.0,247.0 Z" fill="#3a64bc"/>
<ellipse cx="135" cy="236" rx="3" ry="3.5" fill="#8a6aa6" opacity="0.85"/>
<ellipse cx="146" cy="240" rx="3.5" ry="3" fill="#8a6aa6" opacity="0.85"/>
<ellipse cx="160" cy="233" rx="3" ry="3" fill="#8a6aa6" opacity="0.85"/>
<ellipse cx="170" cy="243" rx="3.5" ry="3.5" fill="#8a6aa6" opacity="0.85"/>
<ellipse cx="182" cy="236" rx="3" ry="3.5" fill="#8a6aa6" opacity="0.85"/>
<ellipse cx="192" cy="244" rx="3.5" ry="3" fill="#8a6aa6" opacity="0.85"/>
<ellipse cx="203" cy="232" rx="3" ry="3.5" fill="#8a6aa6" opacity="0.85"/>
<ellipse cx="212" cy="240" rx="3.5" ry="3.5" fill="#8a6aa6" opacity="0.85"/>
<ellipse cx="140" cy="246" rx="3" ry="2.5" fill="#8a6aa6" opacity="0.85"/>
<ellipse cx="196" cy="228" rx="3" ry="3" fill="#8a6aa6" opacity="0.85"/>
<ellipse cx="150" cy="230" rx="2.5" ry="3" fill="#8a6aa6" opacity="0.85"/>
<ellipse cx="218" cy="230" rx="2.5" ry="3" fill="#8a6aa6" opacity="0.85"/>
<ellipse cx="130" cy="230" rx="2.5" ry="3" fill="#8a6aa6" opacity="0.85"/>
<path d="M126.0,212.0C126.7,212.0 128.8,210.8 130.0,212.0C131.2,213.2 132.0,218.4 133.0,219.0C134.0,219.6 134.8,216.2 136.0,215.5C137.2,214.8 138.8,214.4 140.0,215.0C141.2,215.6 141.7,218.1 143.0,219.0C144.3,219.9 146.3,220.5 148.0,220.5C149.7,220.5 151.5,220.2 153.0,219.0C154.5,217.8 155.5,214.1 157.0,213.0C158.5,211.9 160.2,212.5 162.0,212.5C163.8,212.5 165.8,213.2 168.0,213.0C170.2,212.8 173.0,211.4 175.0,211.0C177.0,210.6 178.3,210.5 180.0,210.5C181.7,210.5 183.3,210.9 185.0,211.0C186.7,211.1 188.3,211.0 190.0,211.0C191.7,211.0 193.3,211.1 195.0,211.0C196.7,210.9 198.3,210.7 200.0,210.5C201.7,210.3 203.3,210.2 205.0,210.0C206.7,209.8 208.2,209.7 210.0,209.5C211.8,209.3 213.7,209.2 216.0,209.0C218.3,208.8 222.7,208.6 224.0,208.5 L224.0,216.0 L224.0,216.0C223.0,216.3 220.3,218.2 218.0,218.0C215.7,217.8 212.7,214.8 210.0,215.0C207.3,215.2 204.7,218.8 202.0,219.0C199.3,219.2 196.7,215.8 194.0,216.0C191.3,216.2 188.7,219.8 186.0,220.0C183.3,220.2 180.7,216.8 178.0,217.0C175.3,217.2 172.7,220.7 170.0,221.0C167.3,221.3 164.7,218.7 162.0,219.0C159.3,219.3 156.7,221.8 154.0,223.0C151.3,224.2 148.7,226.3 146.0,226.0C143.3,225.7 140.3,221.2 138.0,221.0C135.7,220.8 134.0,225.3 132.0,225.0C130.0,224.7 127.0,220.0 126.0,219.0 Z" fill="#8c68a2"/>
</g>
<path d="M126.0,212.0C126.7,212.0 128.8,210.8 130.0,212.0C131.2,213.2 132.0,218.4 133.0,219.0C134.0,219.6 134.8,216.2 136.0,215.5C137.2,214.8 138.8,214.4 140.0,215.0C141.2,215.6 141.7,218.1 143.0,219.0C144.3,219.9 146.3,220.5 148.0,220.5C149.7,220.5 151.5,220.2 153.0,219.0C154.5,217.8 155.5,214.1 157.0,213.0C158.5,211.9 160.2,212.5 162.0,212.5C163.8,212.5 165.8,213.2 168.0,213.0C170.2,212.8 173.0,211.4 175.0,211.0C177.0,210.6 178.3,210.5 180.0,210.5C181.7,210.5 183.3,210.9 185.0,211.0C186.7,211.1 188.3,211.0 190.0,211.0C191.7,211.0 193.3,211.1 195.0,211.0C196.7,210.9 198.3,210.7 200.0,210.5C201.7,210.3 203.3,210.2 205.0,210.0C206.7,209.8 208.2,209.7 210.0,209.5C211.8,209.3 213.7,209.2 216.0,209.0C218.3,208.8 222.7,208.6 224.0,208.5" fill="none" stroke="#c8205a" stroke-width="1.3" stroke-opacity="0.9"/>
<circle cx="155.7" cy="242" r="2.2" fill="none" stroke="#c0205a" stroke-width="1.1"/><circle cx="178" cy="242" r="2" fill="none" stroke="#c0205a" stroke-width="1"/>
</g></g>
<rect x="171.2" y="217.7" width="2.2" height="39.19999999999999" fill="#000"/>
<g clip-path="url(#cb2)"><g filter="url(#jag)">
<rect x="221" y="193" width="102" height="79" fill="#e3e0e1"/>
<path d="M225,225.5 C231,227 237,229 242,232.5" fill="none" stroke="#c4305c" stroke-width="1.1"/>
<path d="M223.0,234.5C223.5,234.6 224.9,234.8 226.0,235.0C227.1,235.2 228.8,235.2 229.7,236.0C230.6,236.8 230.9,238.8 231.5,240.0C232.1,241.2 232.2,243.0 233.0,243.3C233.8,243.6 234.8,242.5 236.0,242.0C237.2,241.5 238.2,240.6 240.0,240.2C241.8,239.8 244.6,239.2 246.6,239.3C248.6,239.4 250.5,239.8 252.0,240.5C253.5,241.2 254.6,243.1 255.8,243.2C257.0,243.3 257.8,241.5 259.0,241.0C260.2,240.5 261.5,240.1 263.0,240.0C264.5,239.9 266.3,240.0 268.0,240.6C269.7,241.2 271.5,243.3 273.0,243.4C274.5,243.5 275.7,241.5 277.0,241.0C278.3,240.5 279.5,240.2 281.0,240.3C282.5,240.4 284.5,240.7 286.0,241.3C287.5,241.9 288.7,244.0 290.0,244.0C291.3,244.0 292.7,241.8 294.0,241.5C295.3,241.2 296.5,241.5 298.0,242.0C299.5,242.5 301.3,243.8 303.0,244.5C304.7,245.2 306.3,245.9 308.0,246.5C309.7,247.1 310.8,247.3 313.0,248.0C315.2,248.7 319.7,250.1 321.0,250.5 L322,271 L222,271 Z" fill="#eeecf0" filter="url(#mFat)"/>
<g filter="url(#mBlue)"><path d="M223.0,234.5C223.5,234.6 224.9,234.8 226.0,235.0C227.1,235.2 228.8,235.2 229.7,236.0C230.6,236.8 230.9,238.8 231.5,240.0C232.1,241.2 232.2,243.0 233.0,243.3C233.8,243.6 234.8,242.5 236.0,242.0C237.2,241.5 238.2,240.6 240.0,240.2C241.8,239.8 244.6,239.2 246.6,239.3C248.6,239.4 250.5,239.8 252.0,240.5C253.5,241.2 254.6,243.1 255.8,243.2C257.0,243.3 257.8,241.5 259.0,241.0C260.2,240.5 261.5,240.1 263.0,240.0C264.5,239.9 266.3,240.0 268.0,240.6C269.7,241.2 271.5,243.3 273.0,243.4C274.5,243.5 275.7,241.5 277.0,241.0C278.3,240.5 279.5,240.2 281.0,240.3C282.5,240.4 284.5,240.7 286.0,241.3C287.5,241.9 288.7,244.0 290.0,244.0C291.3,244.0 292.7,241.8 294.0,241.5C295.3,241.2 296.5,241.5 298.0,242.0C299.5,242.5 301.3,243.8 303.0,244.5C304.7,245.2 306.3,245.9 308.0,246.5C309.7,247.1 310.8,247.3 313.0,248.0C315.2,248.7 319.7,250.1 321.0,250.5 L321.0,256.0 L321.0,256.0C317.5,256.0 306.8,256.0 300.0,256.0C293.2,256.0 286.7,255.9 280.0,256.0C273.3,256.1 266.7,256.5 260.0,256.5C253.3,256.5 246.2,256.1 240.0,256.0C233.8,255.9 225.8,256.0 223.0,256.0 Z" fill="#3a8ed2"/>
<path d="M223.0,234.5C223.5,234.6 224.9,234.8 226.0,235.0C227.1,235.2 228.8,235.2 229.7,236.0C230.6,236.8 230.9,238.8 231.5,240.0C232.1,241.2 232.2,243.0 233.0,243.3C233.8,243.6 234.8,242.5 236.0,242.0C237.2,241.5 238.2,240.6 240.0,240.2C241.8,239.8 244.6,239.2 246.6,239.3C248.6,239.4 250.5,239.8 252.0,240.5C253.5,241.2 254.6,243.1 255.8,243.2C257.0,243.3 257.8,241.5 259.0,241.0C260.2,240.5 261.5,240.1 263.0,240.0C264.5,239.9 266.3,240.0 268.0,240.6C269.7,241.2 271.5,243.3 273.0,243.4C274.5,243.5 275.7,241.5 277.0,241.0C278.3,240.5 279.5,240.2 281.0,240.3C282.5,240.4 284.5,240.7 286.0,241.3C287.5,241.9 288.7,244.0 290.0,244.0C291.3,244.0 292.7,241.8 294.0,241.5C295.3,241.2 296.5,241.5 298.0,242.0C299.5,242.5 301.3,243.8 303.0,244.5C304.7,245.2 306.3,245.9 308.0,246.5C309.7,247.1 310.8,247.3 313.0,248.0C315.2,248.7 319.7,250.1 321.0,250.5 L321.0,252.7 L321.0,252.7C319.7,252.3 315.2,250.9 313.0,250.2C310.8,249.5 309.7,249.3 308.0,248.7C306.3,248.1 304.7,247.4 303.0,246.7C301.3,245.9 299.5,244.7 298.0,244.2C296.5,243.7 295.3,243.4 294.0,243.7C292.7,244.0 291.3,246.2 290.0,246.2C288.7,246.2 287.5,244.1 286.0,243.5C284.5,242.9 282.5,242.6 281.0,242.5C279.5,242.4 278.3,242.7 277.0,243.2C275.7,243.7 274.5,245.7 273.0,245.6C271.5,245.5 269.7,243.4 268.0,242.8C266.3,242.2 264.5,242.1 263.0,242.2C261.5,242.3 260.2,242.7 259.0,243.2C257.8,243.7 257.0,245.5 255.8,245.4C254.6,245.3 253.5,243.3 252.0,242.7C250.5,242.0 248.6,241.6 246.6,241.5C244.6,241.4 241.8,241.9 240.0,242.4C238.2,242.8 237.2,243.7 236.0,244.2C234.8,244.7 233.8,245.8 233.0,245.5C232.2,245.2 232.1,243.4 231.5,242.2C230.9,241.0 230.6,239.0 229.7,238.2C228.8,237.4 227.1,237.4 226.0,237.2C224.9,236.9 223.5,236.8 223.0,236.7 Z" fill="#8a5d95"/>
</g>
<path d="M223.0,234.5C223.5,234.6 224.9,234.8 226.0,235.0C227.1,235.2 228.8,235.2 229.7,236.0C230.6,236.8 230.9,238.8 231.5,240.0C232.1,241.2 232.2,243.0 233.0,243.3C233.8,243.6 234.8,242.5 236.0,242.0C237.2,241.5 238.2,240.6 240.0,240.2C241.8,239.8 244.6,239.2 246.6,239.3C248.6,239.4 250.5,239.8 252.0,240.5C253.5,241.2 254.6,243.1 255.8,243.2C257.0,243.3 257.8,241.5 259.0,241.0C260.2,240.5 261.5,240.1 263.0,240.0C264.5,239.9 266.3,240.0 268.0,240.6C269.7,241.2 271.5,243.3 273.0,243.4C274.5,243.5 275.7,241.5 277.0,241.0C278.3,240.5 279.5,240.2 281.0,240.3C282.5,240.4 284.5,240.7 286.0,241.3C287.5,241.9 288.7,244.0 290.0,244.0C291.3,244.0 292.7,241.8 294.0,241.5C295.3,241.2 296.5,241.5 298.0,242.0C299.5,242.5 301.3,243.8 303.0,244.5C304.7,245.2 306.3,245.9 308.0,246.5C309.7,247.1 310.8,247.3 313.0,248.0C315.2,248.7 319.7,250.1 321.0,250.5" fill="none" stroke="#c8205a" stroke-width="1.0" stroke-opacity="0.9"/>
<path d="M223,256 L321,256 L321,260 L223,260 Z" fill="#7c6aa8" opacity="0.55"/><path d="M223,261 L250,260.3 L275,261 L300,262 L321,263 L321,270 L223,270 Z" fill="#c02a5c" opacity="0.85"/><path d="M228,268 L236,261.5 M240,268 L247,262 M256,268 L262,262 M285,268 L292,263" stroke="#f0e8ee" stroke-width="0.8" opacity="0.8"/>
</g></g>
<rect x="261.8" y="243" width="2.2" height="16.399999999999977" fill="#000"/>
<g clip-path="url(#cb3)"><g filter="url(#jag)">
<rect x="318" y="193" width="102" height="79" fill="#e3e0e1"/>

<path d="M320.0,242.0C320.3,241.8 320.3,241.6 322.0,241.0C323.7,240.4 327.0,239.4 330.0,238.3C333.0,237.2 336.7,235.4 340.0,234.4C343.3,233.4 346.7,232.7 350.0,232.5C353.3,232.3 357.5,232.5 360.0,233.0C362.5,233.5 363.7,234.2 365.0,235.4C366.3,236.6 366.8,239.8 368.0,240.0C369.2,240.2 370.0,237.1 372.0,236.3C374.0,235.5 377.0,235.1 380.0,235.4C383.0,235.7 386.7,236.9 390.0,238.3C393.3,239.7 396.7,243.1 400.0,244.0C403.3,244.9 407.0,244.5 410.0,244.0C413.0,243.5 416.7,241.5 418.0,241.0 L419,271 L319,271 Z" fill="#eeecf0" filter="url(#mFat)"/>
<g filter="url(#mBlue)"><path d="M320.0,242.0C320.3,241.8 320.3,241.6 322.0,241.0C323.7,240.4 327.0,239.4 330.0,238.3C333.0,237.2 336.7,235.4 340.0,234.4C343.3,233.4 346.7,232.7 350.0,232.5C353.3,232.3 357.5,232.5 360.0,233.0C362.5,233.5 363.7,234.2 365.0,235.4C366.3,236.6 366.8,239.8 368.0,240.0C369.2,240.2 370.0,237.1 372.0,236.3C374.0,235.5 377.0,235.1 380.0,235.4C383.0,235.7 386.7,236.9 390.0,238.3C393.3,239.7 396.7,243.1 400.0,244.0C403.3,244.9 407.0,244.5 410.0,244.0C413.0,243.5 416.7,241.5 418.0,241.0 L418.0,258.0 L418.0,258.0C416.7,258.0 413.0,258.2 410.0,258.0C407.0,257.8 403.3,257.4 400.0,257.0C396.7,256.6 393.3,256.1 390.0,255.5C386.7,254.9 384.2,254.0 380.0,253.5C375.8,253.0 369.2,252.7 365.0,252.5C360.8,252.3 358.3,252.2 355.0,252.5C351.7,252.8 347.8,253.6 345.0,254.5C342.2,255.4 340.5,256.8 338.0,258.0C335.5,259.2 333.0,261.2 330.0,262.0C327.0,262.8 321.7,262.8 320.0,263.0 Z" fill="#3f7ec8"/>
<path d="M320.0,242.0C320.3,241.8 320.3,241.6 322.0,241.0C323.7,240.4 327.0,239.4 330.0,238.3C333.0,237.2 336.7,235.4 340.0,234.4C343.3,233.4 346.7,232.7 350.0,232.5C353.3,232.3 357.5,232.5 360.0,233.0C362.5,233.5 363.7,234.2 365.0,235.4C366.3,236.6 366.8,239.8 368.0,240.0C369.2,240.2 370.0,237.1 372.0,236.3C374.0,235.5 377.0,235.1 380.0,235.4C383.0,235.7 386.7,236.9 390.0,238.3C393.3,239.7 396.7,243.1 400.0,244.0C403.3,244.9 407.0,244.5 410.0,244.0C413.0,243.5 416.7,241.5 418.0,241.0 L418.0,244.5 L418.0,244.5C416.7,245.0 413.0,247.0 410.0,247.5C407.0,248.0 403.3,248.4 400.0,247.5C396.7,246.6 393.3,243.2 390.0,241.8C386.7,240.4 383.0,239.2 380.0,238.9C377.0,238.6 374.0,239.0 372.0,239.8C370.0,240.6 369.2,243.7 368.0,243.5C366.8,243.3 366.3,240.1 365.0,238.9C363.7,237.7 362.5,237.0 360.0,236.5C357.5,236.0 353.3,235.8 350.0,236.0C346.7,236.2 343.3,236.9 340.0,237.9C336.7,238.9 333.0,240.7 330.0,241.8C327.0,242.9 323.7,243.9 322.0,244.5C320.3,245.1 320.3,245.3 320.0,245.5 Z" fill="#8a5c98"/>
</g>
<path d="M320.0,242.0C320.3,241.8 320.3,241.6 322.0,241.0C323.7,240.4 327.0,239.4 330.0,238.3C333.0,237.2 336.7,235.4 340.0,234.4C343.3,233.4 346.7,232.7 350.0,232.5C353.3,232.3 357.5,232.5 360.0,233.0C362.5,233.5 363.7,234.2 365.0,235.4C366.3,236.6 366.8,239.8 368.0,240.0C369.2,240.2 370.0,237.1 372.0,236.3C374.0,235.5 377.0,235.1 380.0,235.4C383.0,235.7 386.7,236.9 390.0,238.3C393.3,239.7 396.7,243.1 400.0,244.0C403.3,244.9 407.0,244.5 410.0,244.0C413.0,243.5 416.7,241.5 418.0,241.0" fill="none" stroke="#c8205a" stroke-width="1.0" stroke-opacity="0.9"/>
<path d="M336,270 C340,260 348,253.5 358,253 C372,252.5 386,256 400,270 Z" fill="#eef0f6" opacity="0.85"/><circle cx="368" cy="240.5" r="1.3" fill="#d02850"/><circle cx="364" cy="255.5" r="1.1" fill="#d02850"/><path d="M338,262 C350,258 365,257 380,262 M345,266 C358,263 372,263 390,266" stroke="#6a9ad8" stroke-width="1" fill="none" opacity="0.7"/><path d="M335,266 L345,265 L345,268 L335,268 Z M364,265 L372,265 L372,268 L364,268 Z" fill="#c8305a" opacity="0.8"/>
</g></g>
<rect x="358" y="239.2" width="2.2" height="16.400000000000006" fill="#000"/>
<g clip-path="url(#cb4)"><g filter="url(#jag)">
<rect x="414" y="193" width="102" height="79" fill="#e3e0e1"/>
<path d="M416,241 C425,239.5 435,238 445,237.5 C452,237 458,235 465,233.5 C475,231 485,229 495,226.5 C502,225 508,224.5 514,224.5 L514,232 L500,235 L490,238 L480,241 L470,244 L462,247 L456,249 L450,248.5 L440,247 L430,245.5 L416,243.5 Z" fill="#d4305a"/><path d="M416,241 C425,239.5 435,238 445,237.5 C452,237 458,235 465,233.5 C475,231 485,229 495,226.5 C502,225 508,224.5 514,224.5" stroke="#d42a55" stroke-width="2.6" fill="none"/><path d="M438,241.5 C445,242 452,244.5 458,244 C465,239.5 472,237 480,235.5 C490,233.5 500,229.5 514,227.5" stroke="#f6f0f2" stroke-width="1.3" fill="none"/><path d="M448,221 L452,218 M438,223 L441,222 M432,226 L434,226.5" stroke="#d04a70" stroke-width="0.8" opacity="0.7"/><path d="M484,226 C488,224 492,222 496,222 M500,222 C504,221 508,221 512,222" stroke="#e06080" stroke-width="0.8" fill="none" opacity="0.6"/>
<path d="M416.0,243.5C418.3,243.8 426.0,244.9 430.0,245.5C434.0,246.1 436.7,246.5 440.0,247.0C443.3,247.5 447.3,248.2 450.0,248.5C452.7,248.8 454.0,249.2 456.0,249.0C458.0,248.8 459.7,247.8 462.0,247.0C464.3,246.2 467.0,245.0 470.0,244.0C473.0,243.0 476.7,242.0 480.0,241.0C483.3,240.0 486.7,239.0 490.0,238.0C493.3,237.0 496.0,236.0 500.0,235.0C504.0,234.0 511.7,232.5 514.0,232.0 L515,271 L415,271 Z" fill="#eeecf0" filter="url(#mFat)"/>
<g filter="url(#mBlue)"><path d="M416.0,243.5C418.3,243.8 426.0,244.9 430.0,245.5C434.0,246.1 436.7,246.5 440.0,247.0C443.3,247.5 447.3,248.2 450.0,248.5C452.7,248.8 454.0,249.2 456.0,249.0C458.0,248.8 459.7,247.8 462.0,247.0C464.3,246.2 467.0,245.0 470.0,244.0C473.0,243.0 476.7,242.0 480.0,241.0C483.3,240.0 486.7,239.0 490.0,238.0C493.3,237.0 496.0,236.0 500.0,235.0C504.0,234.0 511.7,232.5 514.0,232.0 L514.0,261.0 L514.0,261.0C511.7,261.2 507.3,261.7 500.0,262.0C492.7,262.3 480.0,262.7 470.0,263.0C460.0,263.3 449.0,264.0 440.0,264.0C431.0,264.0 420.0,263.2 416.0,263.0 Z" fill="#4a74c2"/>
<path d="M416.0,243.5C418.3,243.8 426.0,244.9 430.0,245.5C434.0,246.1 436.7,246.5 440.0,247.0C443.3,247.5 447.3,248.2 450.0,248.5C452.7,248.8 454.0,249.2 456.0,249.0C458.0,248.8 459.7,247.8 462.0,247.0C464.3,246.2 467.0,245.0 470.0,244.0C473.0,243.0 476.7,242.0 480.0,241.0C483.3,240.0 486.7,239.0 490.0,238.0C493.3,237.0 496.0,236.0 500.0,235.0C504.0,234.0 511.7,232.5 514.0,232.0 L514.0,238.0 L514.0,238.0C511.7,238.5 504.0,240.0 500.0,241.0C496.0,242.0 493.3,243.0 490.0,244.0C486.7,245.0 483.3,246.0 480.0,247.0C476.7,248.0 473.0,249.0 470.0,250.0C467.0,251.0 464.3,252.2 462.0,253.0C459.7,253.8 458.0,254.8 456.0,255.0C454.0,255.2 452.7,254.8 450.0,254.5C447.3,254.2 443.3,253.5 440.0,253.0C436.7,252.5 434.0,252.1 430.0,251.5C426.0,250.9 418.3,249.8 416.0,249.5 Z" fill="#8a609a"/>
</g>
<path d="M416.0,243.5C418.3,243.8 426.0,244.9 430.0,245.5C434.0,246.1 436.7,246.5 440.0,247.0C443.3,247.5 447.3,248.2 450.0,248.5C452.7,248.8 454.0,249.2 456.0,249.0C458.0,248.8 459.7,247.8 462.0,247.0C464.3,246.2 467.0,245.0 470.0,244.0C473.0,243.0 476.7,242.0 480.0,241.0C483.3,240.0 486.7,239.0 490.0,238.0C493.3,237.0 496.0,236.0 500.0,235.0C504.0,234.0 511.7,232.5 514.0,232.0" fill="none" stroke="#d42a55" stroke-width="2.2" stroke-opacity="0.9"/>
<g fill="#d2264e" opacity="0.9"><ellipse cx="434.5" cy="250" rx="1.8" ry="3.3"/><ellipse cx="445" cy="252" rx="1.6" ry="3.5"/><ellipse cx="462" cy="255" rx="1.5" ry="3"/><ellipse cx="420" cy="260" rx="1.5" ry="2"/><ellipse cx="470" cy="250" rx="1.2" ry="2.5"/></g><ellipse cx="424.5" cy="258.5" rx="1.3" ry="2" fill="#f4f2f4"/><path d="M440,268 C460,265 485,262 514,259 L514,270 L440,270 Z" fill="#dfe6f2" opacity="0.8"/><path d="M450,266.5 C470,264 490,262 514,261" stroke="#5a8ad0" stroke-width="0.9" fill="none" opacity="0.7"/>
</g></g>
<rect x="474.2" y="245.2" width="2.2" height="16.0" fill="#000"/>
<text x="488" y="261.2" font-size="8.8" font-weight="bold" textLength="20" lengthAdjust="spacingAndGlyphs" fill="#000" stroke="#000">100X</text>
<g clip-path="url(#cd0)">
<rect x="31" y="442" width="94" height="71" fill="#110b09"/>

<g filter="url(#nzD)"><use href="#netA" transform="translate(30,441) " stroke="#d0a898" stroke-width="0.9"/></g>
<path d="M58.0,448.0C58.2,448.6 59.8,450.5 59.1,451.3C58.4,452.1 55.7,452.6 53.8,452.9C52.0,453.3 49.2,453.9 47.9,453.4C46.5,453.0 46.1,451.1 45.6,450.2C45.0,449.3 45.0,448.9 44.6,448.0C44.2,447.1 42.3,445.3 43.0,444.8C43.8,444.2 47.5,444.8 49.1,444.8C50.8,444.8 51.5,444.6 52.9,444.7C54.3,444.8 56.8,444.7 57.6,445.3C58.5,445.8 58.0,447.5 58.0,448.0Z" fill="#0e0908"/>
<path d="M97.6,450.0C97.0,450.5 95.2,451.9 94.0,452.7C92.8,453.5 92.1,454.4 90.5,454.9C89.0,455.4 86.5,456.2 84.9,456.0C83.3,455.7 81.7,454.3 80.7,453.3C79.6,452.3 78.2,450.9 78.6,450.0C79.0,449.1 81.9,448.7 83.0,447.7C84.0,446.7 83.7,444.6 84.9,444.1C86.2,443.6 89.0,444.5 90.6,445.0C92.3,445.4 93.7,446.1 94.8,446.9C96.0,447.7 97.1,449.5 97.6,450.0Z" fill="#0e0908"/>
<path d="M119.9,466.0C119.8,466.4 120.0,467.9 119.3,468.6C118.5,469.2 116.8,469.9 115.3,470.1C113.9,470.3 112.6,469.9 110.9,469.7C109.2,469.6 105.9,469.8 105.2,469.2C104.4,468.6 105.9,466.9 106.4,466.0C106.9,465.1 107.7,465.0 108.3,464.1C108.9,463.2 108.7,461.1 109.9,460.6C111.1,460.2 114.1,460.8 115.7,461.3C117.3,461.7 118.7,462.6 119.4,463.4C120.1,464.2 119.8,465.6 119.9,466.0Z" fill="#0e0908"/>
<path d="M64.4,484.0C64.6,484.8 66.1,487.9 65.6,488.8C65.1,489.6 62.7,488.7 61.4,489.1C60.2,489.5 58.8,491.5 58.0,491.2C57.2,490.8 57.4,488.2 56.5,487.0C55.6,485.8 52.7,485.2 52.5,484.0C52.3,482.8 54.4,481.0 55.3,480.1C56.3,479.1 57.4,478.5 58.4,478.3C59.4,478.0 60.5,478.2 61.5,478.5C62.6,478.8 64.1,479.2 64.6,480.1C65.1,481.0 64.5,483.3 64.4,484.0Z" fill="#0e0908"/>
<path d="M46.4,489.0C46.2,489.4 45.8,490.8 45.2,491.4C44.7,492.0 43.9,492.4 43.2,492.6C42.4,492.9 41.7,492.8 40.8,492.7C39.9,492.7 38.1,492.7 37.7,492.1C37.3,491.5 38.4,490.0 38.5,489.0C38.5,488.0 37.7,486.8 38.1,486.2C38.5,485.5 39.9,485.6 40.8,485.3C41.7,484.9 42.7,484.1 43.5,484.3C44.4,484.4 45.5,485.3 46.0,486.1C46.5,486.9 46.3,488.5 46.4,489.0Z" fill="#0e0908"/>
<path d="M78.1,504.0C77.9,504.7 77.4,506.7 76.8,508.0C76.3,509.3 75.6,511.6 74.7,511.7C73.9,511.9 72.9,509.5 71.9,508.9C70.9,508.4 69.2,509.3 68.7,508.5C68.2,507.7 68.6,505.3 68.8,504.0C69.1,502.7 69.5,501.7 70.0,500.9C70.5,500.0 71.0,499.2 71.8,498.7C72.5,498.1 73.8,496.9 74.5,497.4C75.1,497.8 75.1,500.1 75.7,501.2C76.3,502.3 77.7,503.5 78.1,504.0Z" fill="#0e0908"/>
<path d="M121.7,506.0C121.2,506.4 119.7,508.0 118.5,508.6C117.4,509.2 116.1,509.2 114.8,509.5C113.5,509.9 112.0,510.6 110.7,510.5C109.4,510.4 107.9,509.6 107.0,508.8C106.0,508.1 105.0,506.8 105.3,506.0C105.6,505.2 107.7,504.8 108.6,503.9C109.5,503.1 109.5,501.4 110.5,501.1C111.6,500.8 113.4,501.9 114.9,502.2C116.4,502.6 118.3,502.4 119.5,503.0C120.6,503.6 121.4,505.5 121.7,506.0Z" fill="#0e0908"/>
<path d="M121.1,490.0C121.2,490.4 121.8,491.8 121.3,492.5C120.8,493.2 119.3,494.0 118.1,494.2C116.9,494.4 115.3,494.0 114.1,493.7C113.0,493.4 111.9,492.8 111.2,492.2C110.6,491.6 110.0,490.7 110.2,490.0C110.4,489.3 111.6,488.8 112.3,488.3C113.0,487.8 113.5,487.1 114.4,486.9C115.3,486.7 116.6,486.9 117.5,487.1C118.3,487.4 118.8,488.0 119.4,488.4C120.0,488.9 120.9,489.7 121.1,490.0Z" fill="#0e0908"/>
<path d="M77.6,461.0C77.5,461.5 77.7,463.2 77.3,464.1C76.9,464.9 76.0,466.0 75.3,466.0C74.6,466.1 73.9,464.7 73.1,464.4C72.4,464.0 71.5,464.4 71.0,463.8C70.6,463.2 70.4,461.9 70.4,461.0C70.5,460.1 70.8,459.1 71.2,458.4C71.6,457.7 72.3,457.1 72.9,456.8C73.6,456.5 74.4,456.2 75.2,456.4C75.9,456.6 77.1,457.0 77.5,457.7C77.9,458.5 77.6,460.5 77.6,461.0Z" fill="#0e0908"/>
<path d="M93.3,479.0C93.0,479.2 92.2,479.8 91.7,480.3C91.3,480.9 91.3,482.1 90.6,482.3C90.0,482.5 88.6,481.8 87.8,481.5C86.9,481.2 85.9,481.1 85.5,480.7C85.0,480.3 85.0,479.6 85.0,479.0C85.0,478.4 84.9,477.7 85.3,477.2C85.7,476.7 86.6,476.2 87.5,475.9C88.4,475.7 89.7,475.5 90.6,475.7C91.5,475.9 92.6,476.5 93.0,477.1C93.5,477.6 93.2,478.7 93.3,479.0Z" fill="#0e0908"/>
<path d="M100.9,500.0C100.7,500.3 100.1,501.2 99.7,502.0C99.3,502.8 99.2,504.5 98.5,504.7C97.9,504.9 96.7,503.6 96.0,503.2C95.2,502.7 94.8,502.6 94.1,502.1C93.5,501.5 92.3,500.7 92.2,500.0C92.2,499.3 93.4,498.6 94.0,497.8C94.5,497.0 94.7,495.8 95.5,495.3C96.3,494.8 97.9,494.4 98.7,494.7C99.5,495.1 100.1,496.6 100.5,497.5C100.8,498.4 100.8,499.6 100.9,500.0Z" fill="#0e0908"/>

</g>
<g clip-path="url(#cd1)">
<rect x="128" y="442" width="94" height="71" fill="#3a2624"/>
<rect x="128" y="442" width="94" height="71" fill="#000" filter="url(#grain)"/>
<rect x="128" y="442" width="94" height="71" fill="#000" filter="url(#mott)"/>
<path d="M188,442 L222,442 L222,500 L200,496 L190,480 Z" fill="#1a1010" opacity="0.45" filter="url(#bl12)"/>
<path d="M140.3,446.5C140.4,446.8 140.9,447.9 140.6,448.5C140.3,449.2 139.5,450.3 138.7,450.5C137.8,450.7 136.6,450.0 135.7,449.7C134.8,449.4 133.5,449.2 133.1,448.7C132.6,448.2 133.0,447.2 133.0,446.5C133.1,445.8 132.8,444.9 133.3,444.4C133.7,443.9 135.0,443.8 135.8,443.7C136.6,443.6 137.2,443.6 138.2,443.7C139.1,443.7 141.2,443.4 141.6,443.9C141.9,444.4 140.5,446.1 140.3,446.5Z" fill="#0e0908"/>
<path d="M133.1,490.0C133.0,490.4 132.7,491.7 132.3,492.2C131.9,492.7 131.2,492.6 130.7,492.8C130.2,493.1 129.5,494.0 129.1,493.9C128.6,493.7 128.4,492.5 128.0,491.9C127.7,491.3 127.0,490.7 127.0,490.0C127.0,489.3 127.6,488.6 127.9,488.0C128.2,487.3 128.5,486.4 129.1,486.1C129.6,485.8 130.5,485.8 131.0,486.1C131.5,486.4 131.7,487.4 132.1,488.0C132.4,488.7 132.9,489.7 133.1,490.0Z" fill="#0e0908"/>
<path d="M202.2,501.0C202.2,501.4 202.3,502.7 201.9,503.3C201.5,504.0 200.6,504.6 199.8,504.8C199.0,505.0 198.0,504.8 197.3,504.5C196.6,504.2 195.7,503.8 195.3,503.2C194.9,502.6 194.9,501.7 194.9,501.0C195.0,500.3 195.2,499.5 195.6,499.0C196.0,498.5 196.7,498.1 197.4,497.8C198.1,497.5 199.1,497.1 199.8,497.3C200.4,497.5 201.1,498.3 201.5,498.9C202.0,499.5 202.1,500.6 202.2,501.0Z" fill="#0e0908"/>
<path d="M151.7,468.0C151.6,468.1 151.4,468.6 151.2,468.9C151.0,469.1 150.8,469.6 150.5,469.7C150.3,469.8 149.8,469.7 149.5,469.6C149.2,469.4 148.7,469.3 148.6,469.0C148.4,468.8 148.4,468.4 148.4,468.0C148.3,467.6 148.0,467.1 148.2,466.7C148.4,466.3 148.9,465.9 149.3,465.8C149.7,465.7 150.3,465.9 150.6,466.1C151.0,466.3 151.2,466.7 151.4,467.0C151.6,467.3 151.6,467.8 151.7,468.0Z" fill="#0e0908"/>
<path d="M161.5,463.0C161.4,463.1 161.3,463.6 161.2,463.8C161.0,464.1 160.8,464.4 160.5,464.6C160.2,464.8 159.7,465.0 159.4,464.9C159.1,464.8 158.9,464.2 158.8,463.9C158.6,463.6 158.5,463.3 158.5,463.0C158.4,462.7 158.2,462.1 158.3,461.8C158.5,461.5 159.1,461.3 159.4,461.2C159.8,461.1 160.2,461.2 160.6,461.3C160.9,461.4 161.3,461.7 161.4,462.0C161.6,462.2 161.4,462.8 161.5,463.0Z" fill="#0e0908"/>
<path d="M142.1,478.0C142.0,478.3 142.2,479.3 141.9,479.8C141.7,480.2 141.1,480.6 140.7,480.6C140.3,480.7 139.8,480.4 139.4,480.2C139.1,479.9 139.0,479.5 138.8,479.1C138.6,478.7 138.2,478.4 138.1,478.0C138.1,477.6 138.5,477.3 138.6,476.8C138.8,476.3 138.9,475.3 139.2,475.0C139.6,474.8 140.4,475.0 140.7,475.3C141.0,475.6 141.0,476.5 141.2,476.9C141.4,477.3 141.9,477.8 142.1,478.0Z" fill="#0e0908"/>
<path d="M137.2,505.0C137.1,505.2 136.7,505.7 136.5,506.1C136.3,506.5 136.2,507.4 135.8,507.5C135.5,507.6 134.9,507.0 134.4,506.9C133.9,506.7 133.1,506.9 132.9,506.6C132.6,506.3 132.8,505.5 132.8,505.0C132.7,504.5 132.4,503.6 132.6,503.3C132.9,503.0 133.9,503.3 134.4,503.2C134.9,503.0 135.3,502.4 135.9,502.4C136.4,502.4 137.3,502.7 137.5,503.2C137.7,503.6 137.2,504.7 137.2,505.0Z" fill="#0e0908"/>
<path d="M159.8,505.0C159.8,505.2 160.1,506.1 159.9,506.4C159.7,506.7 159.0,506.6 158.6,506.7C158.1,506.9 157.7,507.3 157.3,507.2C156.9,507.1 156.5,506.6 156.3,506.2C156.2,505.8 156.2,505.4 156.3,505.0C156.3,504.6 156.5,504.3 156.7,504.1C156.9,503.8 157.2,503.8 157.5,503.6C157.9,503.4 158.3,502.9 158.7,502.9C159.1,502.9 159.6,503.3 159.8,503.7C160.0,504.0 159.8,504.8 159.8,505.0Z" fill="#0e0908"/>
<path d="M205.0,490.0C204.9,490.4 204.8,491.6 204.5,492.1C204.2,492.6 203.6,492.8 203.1,493.0C202.7,493.2 202.1,493.7 201.7,493.5C201.4,493.3 201.2,492.2 201.0,491.6C200.9,491.0 201.0,490.6 200.9,490.0C200.8,489.4 200.4,488.3 200.6,487.9C200.7,487.4 201.5,487.4 201.9,487.3C202.3,487.1 202.8,487.0 203.1,487.2C203.5,487.3 203.8,487.8 204.1,488.3C204.4,488.8 204.8,489.7 205.0,490.0Z" fill="#0e0908"/>
<path d="M147.6,458.0C147.6,458.2 147.7,458.7 147.5,459.1C147.4,459.5 147.1,460.2 146.7,460.3C146.4,460.3 145.9,459.7 145.5,459.6C145.0,459.4 144.3,459.7 144.0,459.4C143.7,459.2 143.6,458.5 143.7,458.0C143.7,457.5 143.9,457.1 144.2,456.7C144.4,456.3 144.8,455.7 145.2,455.6C145.6,455.4 146.4,455.5 146.7,455.7C147.1,456.0 147.2,456.6 147.4,457.0C147.5,457.4 147.6,457.8 147.6,458.0Z" fill="#0e0908"/>
<path d="M171.6,500.0C171.6,500.2 171.9,501.0 171.8,501.3C171.6,501.6 171.0,501.9 170.6,501.9C170.2,502.0 169.8,501.9 169.4,501.8C169.1,501.6 168.7,501.4 168.5,501.1C168.2,500.8 167.9,500.4 167.9,500.0C167.9,499.6 167.9,498.9 168.2,498.7C168.5,498.4 169.1,498.5 169.5,498.4C169.9,498.4 170.1,498.5 170.5,498.6C170.8,498.6 171.4,498.6 171.6,498.8C171.8,499.1 171.6,499.8 171.6,500.0Z" fill="#0e0908"/>
<path d="M188.2,455.0C188.1,455.2 187.9,455.9 187.7,456.2C187.4,456.5 187.0,456.8 186.6,456.9C186.2,457.1 185.7,457.1 185.3,457.0C185.0,456.9 184.6,456.5 184.4,456.2C184.2,455.8 184.3,455.4 184.3,455.0C184.4,454.6 184.4,454.3 184.6,454.0C184.8,453.7 185.0,453.2 185.4,453.0C185.7,452.8 186.4,452.7 186.7,452.8C187.1,453.0 187.2,453.6 187.4,453.9C187.7,454.3 188.0,454.8 188.2,455.0Z" fill="#0e0908"/>
<path d="M177.5,458.0C177.5,458.2 177.8,458.9 177.7,459.2C177.5,459.6 177.0,460.0 176.7,460.1C176.3,460.1 175.8,459.7 175.5,459.5C175.2,459.4 175.0,459.2 174.7,458.9C174.5,458.7 174.0,458.3 173.9,458.0C173.8,457.7 174.1,457.1 174.4,456.8C174.6,456.5 175.0,456.3 175.4,456.1C175.8,456.0 176.3,455.9 176.6,456.1C176.9,456.3 177.0,456.9 177.1,457.2C177.3,457.5 177.4,457.9 177.5,458.0Z" fill="#0e0908"/>
<path d="M133.9,470.0C133.7,470.2 133.3,470.6 133.1,471.0C132.9,471.4 133.0,472.3 132.7,472.5C132.4,472.8 131.7,472.8 131.3,472.6C130.9,472.4 130.6,471.9 130.4,471.4C130.2,471.0 130.1,470.4 130.2,470.0C130.2,469.6 130.6,469.3 130.8,468.9C131.0,468.6 131.1,467.9 131.4,467.8C131.7,467.6 132.1,468.0 132.5,468.1C132.9,468.2 133.6,468.1 133.8,468.4C134.0,468.7 133.9,469.7 133.9,470.0Z" fill="#0e0908"/>
<path d="M146,495 L145.5,487 L152,485.5 L157.5,481 L160,479.5 L164,481 L169,480 L173,476 L175,473.5 L179,472 L183,472.2 L186,474.5 L187,478 L186.5,482 L185,485 L182,487 L178,487.5 L173,487.5 L170,488.5 L165,489.5 L160,491 L156,493 L152,495 L148,496 Z" fill="#0f0908"/><path d="M175,471.5 L179,471 L183,471.2 L186.8,474 L188,478 L187.5,482 L186,485.5 L182.5,488" fill="none" stroke="#9a9090" stroke-width="1.1"/><path d="M152.5,456.5 C154,450 159,446.5 165,446.5 C167,448 166,451 163,452 C160,453 157,455 155,458 Z" fill="#b0b0b6"/><path d="M156,455 C158,451 161,449.5 163,449.5" stroke="#302020" stroke-width="1" fill="none"/><g stroke="#e8401e" stroke-linecap="round" fill="none" filter="url(#bl12)" opacity="0.6"><path d="M193,458 C194,464 193,469 194,476" stroke-width="4"/><path d="M208,459 C212,465 214,470 218,474 L222,476" stroke-width="4"/><path d="M202,483 C206,484 209,484.5 213,485.5" stroke-width="3"/></g><g stroke="#ff3a22" stroke-linecap="round" fill="none" filter="url(#bl6)"><path d="M193,460 C194,464 193,469 194,474" stroke-width="2.2"/><path d="M209,461 C212,465 214,470 218,474 L222,475" stroke-width="2.4"/><path d="M203.5,483 C206,484 209,484.5 212,485" stroke-width="1.8"/><path d="M192,452.5 C195,452 198,453 201,453.5" stroke-width="1.5"/><path d="M195,479 L199,486" stroke="#e87030" stroke-width="1.5"/><path d="M214,487 C217,489 220,490 222,490" stroke-width="1.4"/><path d="M200,466 L203,471" stroke-width="1.2"/></g><ellipse cx="215" cy="508.5" rx="10.5" ry="9.5" fill="none" stroke="#8c8c94" stroke-width="2.2"/><ellipse cx="216.5" cy="510" rx="7.5" ry="6.5" fill="#0c0807"/>
</g>
<g clip-path="url(#cd2)">
<rect x="225" y="442" width="94" height="71" fill="#110b09"/>

<g filter="url(#nzA)"><use href="#netA" transform="translate(224,441) scale(-1,1) translate(-96,0)" stroke="#d4a090" stroke-width="1.05"/></g>
<path d="M245.4,448.5C245.2,449.0 245.1,450.7 244.2,451.4C243.4,452.0 241.7,451.9 240.3,452.3C238.9,452.7 237.2,454.1 236.0,453.9C234.8,453.7 233.9,452.1 233.1,451.2C232.4,450.3 231.6,449.5 231.4,448.5C231.2,447.5 231.0,445.9 231.8,445.1C232.6,444.3 234.7,443.8 236.2,443.6C237.7,443.5 239.2,443.8 240.6,444.1C241.9,444.4 243.7,444.8 244.5,445.5C245.3,446.2 245.2,448.0 245.4,448.5Z" fill="#0e0908"/>
<path d="M264.1,464.0C263.7,464.8 262.9,467.4 261.7,468.7C260.5,470.0 258.8,471.5 257.1,471.9C255.3,472.3 253.0,471.4 251.3,470.8C249.6,470.2 247.9,469.4 246.9,468.3C246.0,467.1 245.6,465.5 245.5,464.0C245.5,462.5 245.6,460.5 246.7,459.6C247.7,458.6 250.0,459.2 251.8,458.4C253.6,457.6 255.9,454.8 257.5,455.0C259.1,455.2 260.2,458.1 261.3,459.6C262.4,461.1 263.6,463.3 264.1,464.0Z" fill="#0e0908"/>
<path d="M242.2,484.5C242.0,485.3 241.6,487.4 241.2,489.4C240.7,491.3 240.5,495.1 239.6,496.1C238.6,497.0 236.7,496.1 235.6,495.2C234.5,494.2 233.8,492.3 233.0,490.5C232.2,488.7 230.9,486.6 230.9,484.5C230.8,482.4 231.7,479.5 232.5,477.9C233.3,476.3 234.7,475.8 235.8,475.1C237.0,474.4 238.2,473.3 239.4,473.6C240.7,474.0 242.7,475.2 243.1,477.1C243.6,478.9 242.3,483.3 242.2,484.5Z" fill="#0e0908"/>
<path d="M230.4,465.0C230.5,465.8 231.3,468.8 231.0,470.1C230.7,471.4 229.4,472.3 228.5,472.8C227.5,473.4 226.3,473.7 225.5,473.2C224.6,472.6 223.7,471.0 223.4,469.6C223.1,468.2 223.7,466.3 223.9,465.0C224.0,463.7 224.2,463.0 224.5,461.8C224.8,460.7 225.1,458.7 225.7,458.1C226.4,457.5 227.7,457.4 228.3,458.1C228.9,458.7 229.1,460.8 229.4,461.9C229.7,463.1 230.2,464.5 230.4,465.0Z" fill="#0e0908"/>
<path d="M231.8,503.0C231.6,504.1 231.7,508.3 231.1,509.7C230.5,511.1 229.1,511.2 228.2,511.3C227.3,511.4 226.7,510.9 225.9,510.5C225.1,510.2 223.7,510.3 223.3,509.1C222.9,507.8 223.5,505.1 223.5,503.0C223.4,500.9 222.6,498.1 222.9,496.3C223.2,494.5 224.6,492.5 225.5,492.4C226.3,492.3 227.3,494.9 228.0,495.9C228.8,496.8 229.3,497.0 230.0,498.2C230.6,499.4 231.5,502.2 231.8,503.0Z" fill="#0e0908"/>
<path d="M287.3,487.0C287.0,488.1 286.4,492.2 285.5,493.7C284.5,495.3 283.1,495.4 281.8,496.3C280.5,497.2 278.8,499.6 277.7,499.1C276.5,498.6 275.2,495.5 274.7,493.5C274.3,491.4 274.8,489.1 274.9,487.0C274.9,484.9 274.5,482.6 275.1,480.9C275.6,479.3 277.0,477.7 278.1,477.2C279.2,476.6 280.8,476.7 281.8,477.5C282.8,478.3 283.1,480.5 284.0,482.0C284.9,483.6 286.8,486.2 287.3,487.0Z" fill="#0e0908"/>
<path d="M297.2,503.0C296.6,503.6 295.1,505.4 293.6,506.5C292.2,507.6 290.4,509.6 288.4,509.7C286.3,509.9 283.9,507.6 281.3,507.2C278.6,506.8 274.2,507.8 272.6,507.1C271.0,506.4 271.1,504.2 271.6,503.0C272.0,501.8 273.8,500.6 275.4,499.9C277.0,499.2 279.0,499.4 281.2,498.7C283.5,498.1 287.1,495.4 288.7,495.7C290.4,496.0 289.6,499.2 291.0,500.4C292.4,501.7 296.1,502.6 297.2,503.0Z" fill="#0e0908"/>
<path d="M311.7,462.0C311.3,462.4 310.3,463.8 309.5,464.6C308.6,465.3 307.8,466.0 306.6,466.6C305.3,467.1 302.9,468.1 301.9,467.7C300.9,467.3 300.9,465.1 300.4,464.1C299.9,463.2 299.3,462.9 299.0,462.0C298.6,461.1 297.8,459.7 298.3,458.8C298.8,457.8 300.6,456.5 301.9,456.4C303.3,456.3 304.8,457.8 306.2,458.2C307.6,458.6 309.5,458.3 310.4,458.9C311.3,459.6 311.5,461.5 311.7,462.0Z" fill="#0e0908"/>
<path d="M311.6,445.0C311.4,445.4 311.3,446.7 310.5,447.1C309.6,447.5 307.7,447.4 306.5,447.4C305.3,447.5 304.6,447.7 303.4,447.7C302.1,447.7 300.2,447.7 299.2,447.3C298.2,446.8 297.1,445.7 297.3,445.0C297.5,444.3 299.4,443.8 300.3,443.2C301.2,442.5 301.4,441.3 302.5,440.9C303.7,440.6 306.1,440.9 307.3,441.3C308.4,441.7 308.6,442.7 309.3,443.3C310.1,443.9 311.2,444.7 311.6,445.0Z" fill="#0e0908"/>
<path d="M315.3,483.5C315.1,484.0 315.1,486.0 314.4,486.7C313.8,487.4 312.4,487.4 311.4,487.7C310.3,488.1 309.2,489.1 308.3,488.9C307.3,488.7 306.5,487.5 305.8,486.6C305.1,485.7 304.0,484.4 304.1,483.5C304.3,482.6 306.0,481.8 306.7,481.1C307.5,480.4 307.8,479.6 308.6,479.2C309.4,478.9 310.5,478.9 311.4,479.1C312.3,479.3 313.4,479.8 314.0,480.6C314.7,481.3 315.1,483.0 315.3,483.5Z" fill="#0e0908"/>
<path d="M282.3,451.0C282.1,451.3 281.4,452.2 280.8,452.6C280.2,453.1 279.6,453.3 278.8,453.6C277.9,454.0 276.6,454.9 275.7,454.8C274.8,454.7 273.8,453.7 273.3,453.1C272.7,452.5 272.7,451.7 272.6,451.0C272.5,450.3 272.2,449.3 272.7,448.6C273.2,448.0 274.7,447.3 275.7,447.2C276.7,447.1 278.0,447.8 278.9,448.1C279.7,448.5 280.3,448.9 280.9,449.3C281.4,449.8 282.1,450.7 282.3,451.0Z" fill="#0e0908"/>
<path d="M260.1,486.3C260.0,486.5 259.9,487.1 259.6,487.6C259.3,488.1 258.9,489.2 258.1,489.3C257.4,489.5 256.0,488.9 255.3,488.6C254.5,488.3 254.2,488.0 253.5,487.6C252.8,487.2 251.4,486.8 251.3,486.3C251.2,485.8 252.5,485.3 253.1,484.8C253.6,484.3 253.9,483.2 254.7,483.0C255.5,482.8 256.9,483.5 257.9,483.8C258.8,484.0 260.1,484.2 260.4,484.6C260.8,485.0 260.2,486.0 260.1,486.3Z" fill="#0e0908"/>

</g>
<g clip-path="url(#cd3)">
<rect x="322" y="442" width="94" height="71" fill="#110b09"/>

<g filter="url(#nzC)"><use href="#netC" transform="translate(321,441) scale(1,-1) translate(0,-73)" stroke="#e2b2a8" stroke-width="1.2"/></g>
<g filter="url(#bl12)"><path d="M322,442 L372,442 L370,458 L360,466 L340,468 L322,462 Z" fill="#1c0c08" opacity="0.75"/><ellipse cx="350" cy="449" rx="14" ry="6" fill="#c83a18" opacity="0.55"/><ellipse cx="360" cy="456" rx="8" ry="4" fill="#a04018" opacity="0.5"/></g><ellipse cx="333.5" cy="454.3" rx="5.5" ry="2.6" fill="#c4c4c8" stroke="#d83020" stroke-width="0.8"/><path d="M322,461 C328,461 334,464 336,469 C337,474 333,478 326,478 L322,478 Z" fill="#9c9ca2" stroke="#e02818" stroke-width="1.3"/><path d="M324,466 C328,466 331,469 330,473 L324,474 Z" fill="#5a5a60"/><path d="M361,490 L366,486.8 L375,486.5 L382,488 L385.5,492 L384.5,500 L380.5,506.5 L372,509 L366,508 L362,503.5 L360,496 Z" fill="#0e0a0a" stroke="#a8a8b0" stroke-width="2"/><g filter="url(#bl12)"><ellipse cx="389" cy="507" rx="8" ry="5" fill="#e02a1a" opacity="0.85"/><ellipse cx="358" cy="511" rx="5" ry="2" fill="#e02a1a" opacity="0.6"/></g><ellipse cx="381.5" cy="483" rx="2.8" ry="3.2" fill="#d6d6da"/>
</g>
<g clip-path="url(#cd4)">
<rect x="418" y="442" width="94" height="71" fill="#110b09"/>

<g filter="url(#nzA)"><use href="#netA" transform="translate(417,441) scale(-1,-1) translate(-96,-73)" stroke="#c89078" stroke-width="1.1"/></g>
<path d="M503.0,472.0C502.9,473.0 503.7,476.8 502.0,477.8C500.3,478.8 495.7,477.8 493.0,478.2C490.4,478.6 487.8,480.5 486.0,480.1C484.3,479.7 483.4,477.0 482.4,475.7C481.4,474.3 480.2,473.3 480.1,472.0C480.0,470.7 480.7,469.2 481.7,468.0C482.7,466.7 484.5,464.8 486.3,464.5C488.2,464.1 490.4,465.6 493.0,465.9C495.5,466.2 500.0,465.3 501.7,466.4C503.3,467.4 502.8,471.1 503.0,472.0Z" fill="#0e0908"/>
<path d="M496.3,453.5C496.2,454.0 496.6,455.6 495.9,456.2C495.1,456.9 493.1,457.1 491.9,457.2C490.6,457.3 489.5,457.2 488.2,457.0C487.0,456.8 485.5,456.7 484.4,456.1C483.3,455.5 481.9,454.5 481.8,453.5C481.6,452.5 482.4,451.2 483.3,450.4C484.3,449.6 486.1,448.6 487.5,448.5C488.9,448.4 490.6,449.3 491.9,449.8C493.2,450.2 494.5,450.4 495.3,451.0C496.0,451.7 496.1,453.1 496.3,453.5Z" fill="#0e0908"/>
<path d="M449.3,463.0C448.9,463.3 448.0,464.5 446.8,465.0C445.6,465.4 443.6,465.5 442.1,465.6C440.7,465.7 439.4,465.7 437.9,465.6C436.3,465.5 433.8,465.5 432.7,465.1C431.7,464.7 431.1,463.6 431.4,463.0C431.7,462.4 433.4,461.9 434.4,461.4C435.5,460.9 436.3,460.3 437.6,460.0C438.9,459.8 441.1,459.8 442.4,460.1C443.7,460.3 444.1,461.0 445.3,461.5C446.4,462.0 448.7,462.7 449.3,463.0Z" fill="#0e0908"/>
<path d="M436.2,477.0C436.0,477.4 435.8,478.4 435.2,479.1C434.6,479.9 433.9,481.1 432.6,481.5C431.3,481.8 429.1,481.6 427.5,481.4C425.8,481.2 423.8,480.7 422.6,480.0C421.5,479.3 420.5,478.0 420.6,477.0C420.6,476.0 421.8,474.9 422.9,474.1C424.0,473.3 425.7,472.2 427.2,472.2C428.7,472.2 430.4,473.5 431.8,473.9C433.3,474.3 435.2,474.0 436.0,474.6C436.7,475.1 436.2,476.6 436.2,477.0Z" fill="#0e0908"/>
<path d="M440.5,505.0C439.7,505.7 437.4,507.9 436.0,508.9C434.7,509.9 433.7,510.5 432.2,511.1C430.8,511.7 428.7,512.8 427.3,512.5C425.8,512.2 424.8,510.4 423.6,509.1C422.4,507.9 420.1,506.3 420.2,505.0C420.3,503.7 423.0,502.8 424.1,501.2C425.2,499.6 425.0,496.4 426.6,495.6C428.1,494.8 431.2,495.6 433.2,496.2C435.2,496.9 437.6,497.9 438.8,499.3C440.0,500.8 440.2,504.1 440.5,505.0Z" fill="#0e0908"/>
<path d="M466.5,494.5C465.9,494.9 464.0,496.4 462.8,497.1C461.6,497.9 460.6,498.7 459.3,498.9C458.0,499.2 456.3,499.0 454.8,498.7C453.3,498.5 451.4,498.3 450.3,497.5C449.2,496.8 447.9,495.4 448.1,494.5C448.3,493.6 450.6,492.8 451.7,492.1C452.8,491.3 453.4,490.3 454.7,490.0C455.9,489.7 457.6,490.1 459.2,490.3C460.8,490.5 463.1,490.5 464.3,491.2C465.5,491.9 466.1,493.9 466.5,494.5Z" fill="#0e0908"/>
<path d="M513.7,497.0C513.1,497.4 511.3,498.8 510.2,499.4C509.1,500.1 508.2,500.9 507.0,501.0C505.9,501.2 504.5,500.6 503.3,500.3C502.2,500.0 501.2,499.8 500.2,499.2C499.2,498.7 497.9,497.9 497.5,497.0C497.2,496.1 497.2,494.6 498.0,493.7C498.8,492.8 500.7,491.9 502.3,491.6C503.9,491.4 506.2,491.7 507.4,492.2C508.7,492.7 508.7,494.0 509.7,494.8C510.8,495.6 513.1,496.6 513.7,497.0Z" fill="#0e0908"/>
<path d="M444.2,451.0C444.2,451.4 445.1,452.7 444.4,453.4C443.7,454.1 441.7,454.9 440.0,455.1C438.3,455.4 436.0,455.1 434.3,454.8C432.5,454.5 430.7,454.1 429.5,453.5C428.3,452.8 427.1,451.8 427.2,451.0C427.2,450.2 428.4,449.1 429.7,448.6C431.0,448.1 433.2,448.1 434.8,448.0C436.4,447.9 437.6,447.9 439.2,448.0C440.7,448.1 443.4,448.1 444.2,448.6C445.1,449.1 444.2,450.6 444.2,451.0Z" fill="#0e0908"/>
<path d="M464.5,480.0C464.3,480.5 463.7,482.1 463.0,482.9C462.3,483.7 461.4,484.4 460.5,484.6C459.6,484.8 458.7,484.4 457.6,484.2C456.6,484.0 454.6,484.1 454.3,483.4C453.9,482.7 455.3,481.1 455.3,480.0C455.3,478.9 454.0,477.4 454.3,476.6C454.7,475.8 456.4,475.1 457.4,475.1C458.4,475.0 459.3,475.8 460.3,476.1C461.2,476.5 462.2,476.5 462.9,477.1C463.6,477.8 464.3,479.5 464.5,480.0Z" fill="#0e0908"/>
<path d="M463.5,483 C470,478 478,472 485,467.5 C488,465 490,463 494,462.5 C497,462.5 497,465.5 494,467 C488,469.5 476,477 465,484.2 Z" fill="#b4bcc4"/>
</g>
<text x="487.6" y="509.5" font-size="8.8" font-weight="bold" textLength="21" lengthAdjust="spacingAndGlyphs" fill="#fff" stroke="#fff">200X</text>
<path d="M0,0H520V662H0Z M1.2,1V660.8H519V1Z" fill="#000" fill-rule="evenodd"/>
</svg></body></html>
